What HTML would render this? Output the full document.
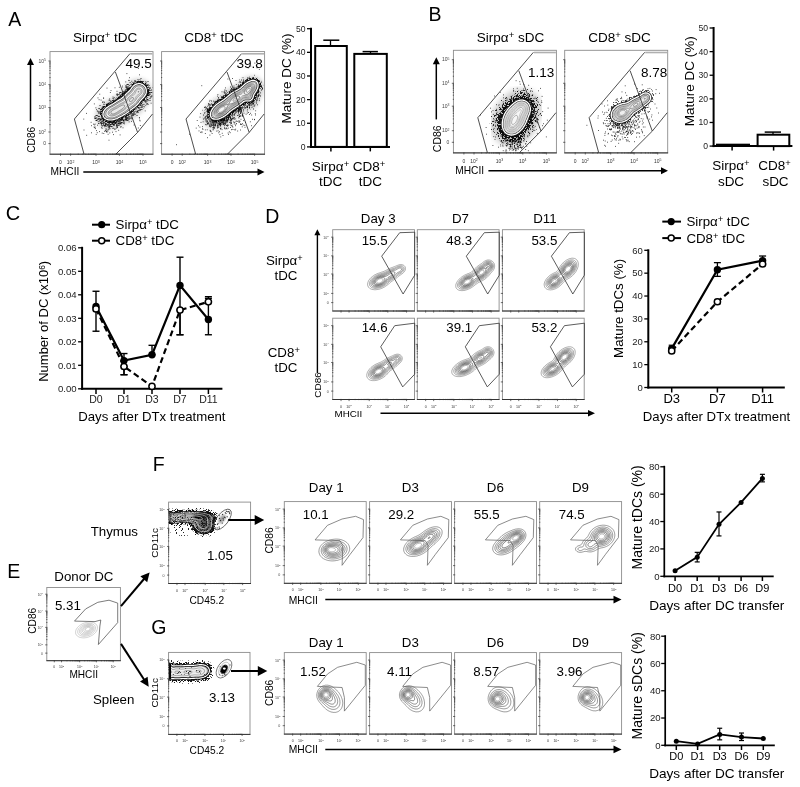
<!DOCTYPE html>
<html><head><meta charset="utf-8"><style>
html,body{margin:0;padding:0;background:#fff;width:800px;height:787px;overflow:hidden}
svg{display:block;will-change:transform}
text{font-family:"Liberation Sans", sans-serif}
</style></head><body>
<svg width="800" height="787" viewBox="0 0 800 787">
<defs>
<pattern id="p1" patternUnits="userSpaceOnUse" width="31" height="31"><path d="M0 0h1v1h-1zM0 1h1v1h-1zM0 2h1v1h-1zM0 3h1v1h-1zM0 4h1v1h-1zM0 6h1v1h-1zM0 7h1v1h-1zM0 8h1v1h-1zM0 9h1v1h-1zM0 12h1v1h-1zM0 14h1v1h-1zM0 15h1v1h-1zM0 16h1v1h-1zM0 18h1v1h-1zM0 26h1v1h-1zM0 30h1v1h-1zM1 0h1v1h-1zM1 2h1v1h-1zM1 3h1v1h-1zM1 4h1v1h-1zM1 6h1v1h-1zM1 7h1v1h-1zM1 9h1v1h-1zM1 10h1v1h-1zM1 11h1v1h-1zM1 12h1v1h-1zM1 13h1v1h-1zM1 16h1v1h-1zM1 18h1v1h-1zM1 20h1v1h-1zM1 21h1v1h-1zM1 23h1v1h-1zM1 24h1v1h-1zM1 28h1v1h-1zM2 2h1v1h-1zM2 3h1v1h-1zM2 4h1v1h-1zM2 6h1v1h-1zM2 10h1v1h-1zM2 11h1v1h-1zM2 13h1v1h-1zM2 14h1v1h-1zM2 16h1v1h-1zM2 17h1v1h-1zM2 18h1v1h-1zM2 19h1v1h-1zM2 20h1v1h-1zM2 22h1v1h-1zM2 23h1v1h-1zM2 24h1v1h-1zM2 25h1v1h-1zM2 26h1v1h-1zM2 29h1v1h-1zM2 30h1v1h-1zM3 1h1v1h-1zM3 2h1v1h-1zM3 4h1v1h-1zM3 6h1v1h-1zM3 7h1v1h-1zM3 9h1v1h-1zM3 11h1v1h-1zM3 13h1v1h-1zM3 14h1v1h-1zM3 18h1v1h-1zM3 20h1v1h-1zM3 23h1v1h-1zM3 24h1v1h-1zM3 26h1v1h-1zM3 27h1v1h-1zM3 28h1v1h-1zM3 30h1v1h-1zM4 1h1v1h-1zM4 2h1v1h-1zM4 3h1v1h-1zM4 4h1v1h-1zM4 6h1v1h-1zM4 8h1v1h-1zM4 9h1v1h-1zM4 10h1v1h-1zM4 11h1v1h-1zM4 14h1v1h-1zM4 15h1v1h-1zM4 16h1v1h-1zM4 18h1v1h-1zM4 19h1v1h-1zM4 21h1v1h-1zM4 23h1v1h-1zM4 24h1v1h-1zM4 26h1v1h-1zM4 27h1v1h-1zM5 1h1v1h-1zM5 2h1v1h-1zM5 4h1v1h-1zM5 6h1v1h-1zM5 7h1v1h-1zM5 8h1v1h-1zM5 10h1v1h-1zM5 11h1v1h-1zM5 12h1v1h-1zM5 13h1v1h-1zM5 15h1v1h-1zM5 16h1v1h-1zM5 18h1v1h-1zM5 21h1v1h-1zM5 22h1v1h-1zM5 23h1v1h-1zM5 26h1v1h-1zM5 27h1v1h-1zM5 28h1v1h-1zM5 29h1v1h-1zM6 2h1v1h-1zM6 3h1v1h-1zM6 4h1v1h-1zM6 5h1v1h-1zM6 7h1v1h-1zM6 8h1v1h-1zM6 9h1v1h-1zM6 10h1v1h-1zM6 11h1v1h-1zM6 13h1v1h-1zM6 14h1v1h-1zM6 19h1v1h-1zM6 21h1v1h-1zM6 22h1v1h-1zM6 26h1v1h-1zM6 27h1v1h-1zM6 29h1v1h-1zM7 0h1v1h-1zM7 2h1v1h-1zM7 4h1v1h-1zM7 6h1v1h-1zM7 7h1v1h-1zM7 8h1v1h-1zM7 9h1v1h-1zM7 14h1v1h-1zM7 15h1v1h-1zM7 17h1v1h-1zM7 18h1v1h-1zM7 19h1v1h-1zM7 20h1v1h-1zM7 21h1v1h-1zM7 25h1v1h-1zM7 30h1v1h-1zM8 0h1v1h-1zM8 1h1v1h-1zM8 2h1v1h-1zM8 3h1v1h-1zM8 6h1v1h-1zM8 7h1v1h-1zM8 10h1v1h-1zM8 15h1v1h-1zM8 16h1v1h-1zM8 18h1v1h-1zM8 20h1v1h-1zM8 22h1v1h-1zM8 26h1v1h-1zM8 29h1v1h-1zM8 30h1v1h-1zM9 2h1v1h-1zM9 3h1v1h-1zM9 4h1v1h-1zM9 5h1v1h-1zM9 7h1v1h-1zM9 8h1v1h-1zM9 9h1v1h-1zM9 11h1v1h-1zM9 12h1v1h-1zM9 13h1v1h-1zM9 15h1v1h-1zM9 17h1v1h-1zM9 18h1v1h-1zM9 19h1v1h-1zM9 21h1v1h-1zM9 22h1v1h-1zM9 23h1v1h-1zM9 25h1v1h-1zM9 28h1v1h-1zM9 30h1v1h-1zM10 4h1v1h-1zM10 5h1v1h-1zM10 6h1v1h-1zM10 7h1v1h-1zM10 8h1v1h-1zM10 10h1v1h-1zM10 11h1v1h-1zM10 13h1v1h-1zM10 14h1v1h-1zM10 16h1v1h-1zM10 18h1v1h-1zM10 19h1v1h-1zM10 22h1v1h-1zM10 24h1v1h-1zM10 25h1v1h-1zM10 26h1v1h-1zM10 27h1v1h-1zM10 28h1v1h-1zM10 29h1v1h-1zM10 30h1v1h-1zM11 1h1v1h-1zM11 3h1v1h-1zM11 6h1v1h-1zM11 7h1v1h-1zM11 9h1v1h-1zM11 10h1v1h-1zM11 11h1v1h-1zM11 13h1v1h-1zM11 18h1v1h-1zM11 19h1v1h-1zM11 22h1v1h-1zM11 25h1v1h-1zM11 29h1v1h-1zM12 1h1v1h-1zM12 2h1v1h-1zM12 4h1v1h-1zM12 7h1v1h-1zM12 8h1v1h-1zM12 11h1v1h-1zM12 21h1v1h-1zM12 22h1v1h-1zM12 24h1v1h-1zM12 26h1v1h-1zM12 28h1v1h-1zM12 29h1v1h-1zM12 30h1v1h-1zM13 1h1v1h-1zM13 3h1v1h-1zM13 4h1v1h-1zM13 10h1v1h-1zM13 11h1v1h-1zM13 12h1v1h-1zM13 13h1v1h-1zM13 20h1v1h-1zM13 21h1v1h-1zM13 24h1v1h-1zM13 26h1v1h-1zM13 27h1v1h-1zM13 28h1v1h-1zM14 0h1v1h-1zM14 3h1v1h-1zM14 4h1v1h-1zM14 5h1v1h-1zM14 8h1v1h-1zM14 9h1v1h-1zM14 10h1v1h-1zM14 11h1v1h-1zM14 12h1v1h-1zM14 15h1v1h-1zM14 18h1v1h-1zM14 19h1v1h-1zM14 24h1v1h-1zM14 25h1v1h-1zM14 26h1v1h-1zM14 27h1v1h-1zM14 29h1v1h-1zM14 30h1v1h-1zM15 0h1v1h-1zM15 1h1v1h-1zM15 4h1v1h-1zM15 6h1v1h-1zM15 8h1v1h-1zM15 9h1v1h-1zM15 10h1v1h-1zM15 15h1v1h-1zM15 16h1v1h-1zM15 17h1v1h-1zM15 19h1v1h-1zM15 23h1v1h-1zM15 27h1v1h-1zM16 1h1v1h-1zM16 2h1v1h-1zM16 3h1v1h-1zM16 4h1v1h-1zM16 5h1v1h-1zM16 9h1v1h-1zM16 12h1v1h-1zM16 13h1v1h-1zM16 17h1v1h-1zM16 18h1v1h-1zM16 19h1v1h-1zM16 20h1v1h-1zM16 22h1v1h-1zM16 23h1v1h-1zM16 24h1v1h-1zM16 27h1v1h-1zM16 28h1v1h-1zM16 30h1v1h-1zM17 1h1v1h-1zM17 2h1v1h-1zM17 3h1v1h-1zM17 5h1v1h-1zM17 7h1v1h-1zM17 8h1v1h-1zM17 10h1v1h-1zM17 11h1v1h-1zM17 12h1v1h-1zM17 13h1v1h-1zM17 17h1v1h-1zM17 19h1v1h-1zM17 21h1v1h-1zM17 23h1v1h-1zM17 24h1v1h-1zM17 27h1v1h-1zM17 28h1v1h-1zM17 30h1v1h-1zM18 0h1v1h-1zM18 1h1v1h-1zM18 2h1v1h-1zM18 3h1v1h-1zM18 12h1v1h-1zM18 14h1v1h-1zM18 17h1v1h-1zM18 18h1v1h-1zM18 19h1v1h-1zM18 20h1v1h-1zM18 22h1v1h-1zM18 24h1v1h-1zM18 25h1v1h-1zM18 27h1v1h-1zM19 0h1v1h-1zM19 1h1v1h-1zM19 3h1v1h-1zM19 5h1v1h-1zM19 6h1v1h-1zM19 9h1v1h-1zM19 10h1v1h-1zM19 11h1v1h-1zM19 12h1v1h-1zM19 14h1v1h-1zM19 16h1v1h-1zM19 17h1v1h-1zM19 18h1v1h-1zM19 19h1v1h-1zM19 21h1v1h-1zM19 22h1v1h-1zM19 24h1v1h-1zM19 26h1v1h-1zM19 27h1v1h-1zM19 29h1v1h-1zM20 1h1v1h-1zM20 5h1v1h-1zM20 6h1v1h-1zM20 8h1v1h-1zM20 9h1v1h-1zM20 10h1v1h-1zM20 12h1v1h-1zM20 13h1v1h-1zM20 15h1v1h-1zM20 17h1v1h-1zM20 18h1v1h-1zM20 22h1v1h-1zM20 23h1v1h-1zM20 24h1v1h-1zM20 27h1v1h-1zM20 28h1v1h-1zM20 29h1v1h-1zM21 0h1v1h-1zM21 2h1v1h-1zM21 3h1v1h-1zM21 8h1v1h-1zM21 10h1v1h-1zM21 11h1v1h-1zM21 12h1v1h-1zM21 15h1v1h-1zM21 16h1v1h-1zM21 17h1v1h-1zM21 18h1v1h-1zM21 21h1v1h-1zM21 23h1v1h-1zM21 27h1v1h-1zM21 28h1v1h-1zM21 29h1v1h-1zM22 0h1v1h-1zM22 3h1v1h-1zM22 5h1v1h-1zM22 7h1v1h-1zM22 8h1v1h-1zM22 12h1v1h-1zM22 13h1v1h-1zM22 14h1v1h-1zM22 15h1v1h-1zM22 16h1v1h-1zM22 17h1v1h-1zM22 18h1v1h-1zM22 19h1v1h-1zM22 21h1v1h-1zM22 24h1v1h-1zM22 27h1v1h-1zM22 30h1v1h-1zM23 0h1v1h-1zM23 1h1v1h-1zM23 2h1v1h-1zM23 8h1v1h-1zM23 9h1v1h-1zM23 10h1v1h-1zM23 14h1v1h-1zM23 16h1v1h-1zM23 17h1v1h-1zM23 19h1v1h-1zM23 20h1v1h-1zM23 22h1v1h-1zM23 23h1v1h-1zM23 28h1v1h-1zM23 29h1v1h-1zM24 0h1v1h-1zM24 3h1v1h-1zM24 5h1v1h-1zM24 11h1v1h-1zM24 12h1v1h-1zM24 14h1v1h-1zM24 15h1v1h-1zM24 16h1v1h-1zM24 17h1v1h-1zM24 18h1v1h-1zM24 19h1v1h-1zM24 24h1v1h-1zM24 28h1v1h-1zM24 29h1v1h-1zM24 30h1v1h-1zM25 1h1v1h-1zM25 2h1v1h-1zM25 4h1v1h-1zM25 5h1v1h-1zM25 7h1v1h-1zM25 8h1v1h-1zM25 9h1v1h-1zM25 11h1v1h-1zM25 14h1v1h-1zM25 15h1v1h-1zM25 17h1v1h-1zM25 19h1v1h-1zM25 20h1v1h-1zM25 21h1v1h-1zM25 22h1v1h-1zM25 23h1v1h-1zM25 24h1v1h-1zM25 25h1v1h-1zM25 30h1v1h-1zM26 0h1v1h-1zM26 1h1v1h-1zM26 2h1v1h-1zM26 4h1v1h-1zM26 7h1v1h-1zM26 10h1v1h-1zM26 11h1v1h-1zM26 12h1v1h-1zM26 14h1v1h-1zM26 15h1v1h-1zM26 17h1v1h-1zM26 18h1v1h-1zM26 20h1v1h-1zM26 21h1v1h-1zM26 22h1v1h-1zM26 23h1v1h-1zM26 25h1v1h-1zM26 27h1v1h-1zM26 29h1v1h-1zM26 30h1v1h-1zM27 0h1v1h-1zM27 1h1v1h-1zM27 2h1v1h-1zM27 3h1v1h-1zM27 5h1v1h-1zM27 6h1v1h-1zM27 8h1v1h-1zM27 9h1v1h-1zM27 11h1v1h-1zM27 13h1v1h-1zM27 16h1v1h-1zM27 21h1v1h-1zM27 23h1v1h-1zM27 24h1v1h-1zM27 26h1v1h-1zM27 27h1v1h-1zM27 29h1v1h-1zM27 30h1v1h-1zM28 1h1v1h-1zM28 3h1v1h-1zM28 4h1v1h-1zM28 7h1v1h-1zM28 9h1v1h-1zM28 10h1v1h-1zM28 12h1v1h-1zM28 13h1v1h-1zM28 17h1v1h-1zM28 18h1v1h-1zM28 21h1v1h-1zM28 22h1v1h-1zM28 23h1v1h-1zM28 24h1v1h-1zM28 25h1v1h-1zM28 28h1v1h-1zM28 30h1v1h-1zM29 0h1v1h-1zM29 1h1v1h-1zM29 2h1v1h-1zM29 3h1v1h-1zM29 5h1v1h-1zM29 6h1v1h-1zM29 7h1v1h-1zM29 8h1v1h-1zM29 9h1v1h-1zM29 11h1v1h-1zM29 12h1v1h-1zM29 13h1v1h-1zM29 16h1v1h-1zM29 17h1v1h-1zM29 21h1v1h-1zM29 22h1v1h-1zM29 24h1v1h-1zM29 25h1v1h-1zM29 28h1v1h-1zM30 0h1v1h-1zM30 4h1v1h-1zM30 5h1v1h-1zM30 6h1v1h-1zM30 7h1v1h-1zM30 8h1v1h-1zM30 10h1v1h-1zM30 16h1v1h-1zM30 17h1v1h-1zM30 18h1v1h-1zM30 19h1v1h-1zM30 21h1v1h-1zM30 22h1v1h-1zM30 23h1v1h-1zM30 27h1v1h-1zM30 28h1v1h-1zM30 30h1v1h-1z" fill="#111"/></pattern><pattern id="p2" patternUnits="userSpaceOnUse" width="31" height="31"><path d="M0 10h1v1h-1zM0 11h1v1h-1zM0 12h1v1h-1zM0 25h1v1h-1zM0 26h1v1h-1zM1 1h1v1h-1zM1 5h1v1h-1zM1 9h1v1h-1zM1 21h1v1h-1zM1 24h1v1h-1zM1 27h1v1h-1zM2 3h1v1h-1zM2 9h1v1h-1zM2 12h1v1h-1zM2 14h1v1h-1zM2 22h1v1h-1zM2 23h1v1h-1zM2 24h1v1h-1zM2 28h1v1h-1zM2 30h1v1h-1zM3 1h1v1h-1zM3 5h1v1h-1zM3 7h1v1h-1zM3 24h1v1h-1zM3 26h1v1h-1zM3 28h1v1h-1zM3 29h1v1h-1zM4 5h1v1h-1zM4 7h1v1h-1zM4 9h1v1h-1zM4 15h1v1h-1zM4 16h1v1h-1zM4 22h1v1h-1zM4 23h1v1h-1zM4 27h1v1h-1zM4 28h1v1h-1zM5 1h1v1h-1zM5 8h1v1h-1zM5 21h1v1h-1zM5 24h1v1h-1zM5 27h1v1h-1zM5 29h1v1h-1zM5 30h1v1h-1zM6 0h1v1h-1zM6 2h1v1h-1zM6 5h1v1h-1zM6 7h1v1h-1zM6 8h1v1h-1zM6 12h1v1h-1zM6 14h1v1h-1zM6 17h1v1h-1zM6 23h1v1h-1zM6 26h1v1h-1zM7 0h1v1h-1zM7 10h1v1h-1zM7 11h1v1h-1zM7 14h1v1h-1zM7 24h1v1h-1zM7 25h1v1h-1zM7 27h1v1h-1zM7 29h1v1h-1zM8 3h1v1h-1zM8 12h1v1h-1zM8 14h1v1h-1zM8 18h1v1h-1zM8 24h1v1h-1zM9 1h1v1h-1zM9 7h1v1h-1zM9 9h1v1h-1zM9 10h1v1h-1zM9 13h1v1h-1zM9 14h1v1h-1zM9 20h1v1h-1zM9 21h1v1h-1zM9 26h1v1h-1zM10 0h1v1h-1zM10 2h1v1h-1zM10 3h1v1h-1zM10 12h1v1h-1zM10 17h1v1h-1zM10 18h1v1h-1zM10 20h1v1h-1zM10 21h1v1h-1zM10 24h1v1h-1zM10 28h1v1h-1zM11 0h1v1h-1zM11 1h1v1h-1zM11 4h1v1h-1zM11 11h1v1h-1zM11 21h1v1h-1zM11 27h1v1h-1zM11 30h1v1h-1zM12 2h1v1h-1zM12 8h1v1h-1zM12 13h1v1h-1zM12 21h1v1h-1zM12 22h1v1h-1zM12 23h1v1h-1zM13 3h1v1h-1zM13 8h1v1h-1zM13 16h1v1h-1zM13 17h1v1h-1zM13 18h1v1h-1zM13 19h1v1h-1zM13 21h1v1h-1zM13 28h1v1h-1zM14 2h1v1h-1zM14 3h1v1h-1zM14 6h1v1h-1zM14 7h1v1h-1zM14 9h1v1h-1zM14 12h1v1h-1zM14 16h1v1h-1zM14 17h1v1h-1zM14 21h1v1h-1zM15 3h1v1h-1zM15 4h1v1h-1zM15 7h1v1h-1zM15 8h1v1h-1zM15 12h1v1h-1zM15 13h1v1h-1zM15 15h1v1h-1zM15 24h1v1h-1zM15 25h1v1h-1zM15 27h1v1h-1zM15 29h1v1h-1zM16 0h1v1h-1zM16 2h1v1h-1zM16 10h1v1h-1zM16 14h1v1h-1zM16 16h1v1h-1zM16 17h1v1h-1zM16 18h1v1h-1zM16 22h1v1h-1zM16 26h1v1h-1zM16 27h1v1h-1zM16 28h1v1h-1zM17 0h1v1h-1zM17 4h1v1h-1zM17 5h1v1h-1zM17 6h1v1h-1zM17 8h1v1h-1zM17 16h1v1h-1zM17 23h1v1h-1zM17 27h1v1h-1zM17 29h1v1h-1zM17 30h1v1h-1zM18 0h1v1h-1zM18 1h1v1h-1zM18 3h1v1h-1zM18 6h1v1h-1zM18 7h1v1h-1zM18 10h1v1h-1zM18 15h1v1h-1zM18 18h1v1h-1zM18 21h1v1h-1zM18 24h1v1h-1zM18 27h1v1h-1zM18 29h1v1h-1zM19 5h1v1h-1zM19 9h1v1h-1zM19 14h1v1h-1zM19 15h1v1h-1zM19 24h1v1h-1zM19 27h1v1h-1zM19 28h1v1h-1zM20 2h1v1h-1zM20 3h1v1h-1zM20 5h1v1h-1zM20 16h1v1h-1zM20 21h1v1h-1zM20 23h1v1h-1zM20 25h1v1h-1zM20 26h1v1h-1zM20 27h1v1h-1zM20 28h1v1h-1zM20 29h1v1h-1zM21 1h1v1h-1zM21 2h1v1h-1zM21 9h1v1h-1zM21 10h1v1h-1zM21 15h1v1h-1zM21 20h1v1h-1zM21 25h1v1h-1zM21 27h1v1h-1zM21 29h1v1h-1zM21 30h1v1h-1zM22 0h1v1h-1zM22 5h1v1h-1zM22 6h1v1h-1zM22 7h1v1h-1zM22 12h1v1h-1zM22 13h1v1h-1zM22 14h1v1h-1zM22 15h1v1h-1zM22 16h1v1h-1zM22 19h1v1h-1zM22 21h1v1h-1zM22 22h1v1h-1zM22 28h1v1h-1zM23 2h1v1h-1zM23 4h1v1h-1zM23 8h1v1h-1zM23 13h1v1h-1zM23 15h1v1h-1zM23 21h1v1h-1zM23 23h1v1h-1zM23 28h1v1h-1zM24 0h1v1h-1zM24 4h1v1h-1zM24 6h1v1h-1zM24 7h1v1h-1zM24 9h1v1h-1zM24 12h1v1h-1zM24 13h1v1h-1zM24 14h1v1h-1zM24 25h1v1h-1zM25 0h1v1h-1zM25 8h1v1h-1zM25 12h1v1h-1zM25 14h1v1h-1zM25 16h1v1h-1zM25 17h1v1h-1zM25 20h1v1h-1zM25 23h1v1h-1zM25 25h1v1h-1zM26 4h1v1h-1zM26 12h1v1h-1zM26 24h1v1h-1zM26 26h1v1h-1zM26 29h1v1h-1zM27 1h1v1h-1zM27 5h1v1h-1zM27 6h1v1h-1zM27 14h1v1h-1zM27 15h1v1h-1zM27 18h1v1h-1zM27 21h1v1h-1zM27 22h1v1h-1zM27 25h1v1h-1zM28 1h1v1h-1zM28 4h1v1h-1zM28 5h1v1h-1zM28 10h1v1h-1zM28 12h1v1h-1zM28 24h1v1h-1zM28 27h1v1h-1zM28 30h1v1h-1zM29 1h1v1h-1zM29 12h1v1h-1zM29 13h1v1h-1zM29 17h1v1h-1zM29 18h1v1h-1zM29 20h1v1h-1zM29 21h1v1h-1zM29 24h1v1h-1zM29 27h1v1h-1zM29 29h1v1h-1zM30 2h1v1h-1zM30 11h1v1h-1zM30 15h1v1h-1zM30 18h1v1h-1zM30 19h1v1h-1zM30 20h1v1h-1zM30 21h1v1h-1zM30 24h1v1h-1zM30 25h1v1h-1zM30 27h1v1h-1zM30 29h1v1h-1z" fill="#1a1a1a"/></pattern><pattern id="p3" patternUnits="userSpaceOnUse" width="31" height="31"><path d="M0 14h1v1h-1zM0 15h1v1h-1zM0 16h1v1h-1zM0 17h1v1h-1zM1 8h1v1h-1zM1 29h1v1h-1zM2 1h1v1h-1zM2 2h1v1h-1zM2 9h1v1h-1zM2 11h1v1h-1zM2 12h1v1h-1zM2 25h1v1h-1zM3 14h1v1h-1zM3 16h1v1h-1zM3 22h1v1h-1zM4 20h1v1h-1zM4 29h1v1h-1zM4 30h1v1h-1zM5 2h1v1h-1zM5 24h1v1h-1zM6 1h1v1h-1zM6 13h1v1h-1zM6 18h1v1h-1zM6 23h1v1h-1zM7 16h1v1h-1zM8 3h1v1h-1zM8 23h1v1h-1zM8 24h1v1h-1zM8 28h1v1h-1zM9 4h1v1h-1zM9 7h1v1h-1zM9 20h1v1h-1zM9 28h1v1h-1zM9 30h1v1h-1zM10 11h1v1h-1zM10 12h1v1h-1zM10 25h1v1h-1zM11 9h1v1h-1zM11 16h1v1h-1zM11 30h1v1h-1zM12 21h1v1h-1zM12 22h1v1h-1zM12 30h1v1h-1zM13 0h1v1h-1zM13 11h1v1h-1zM14 12h1v1h-1zM14 15h1v1h-1zM14 17h1v1h-1zM14 21h1v1h-1zM14 22h1v1h-1zM14 25h1v1h-1zM15 5h1v1h-1zM15 23h1v1h-1zM15 24h1v1h-1zM16 9h1v1h-1zM16 15h1v1h-1zM16 20h1v1h-1zM17 12h1v1h-1zM17 14h1v1h-1zM17 22h1v1h-1zM17 25h1v1h-1zM18 11h1v1h-1zM18 19h1v1h-1zM19 0h1v1h-1zM19 14h1v1h-1zM19 17h1v1h-1zM19 29h1v1h-1zM20 3h1v1h-1zM20 13h1v1h-1zM21 2h1v1h-1zM21 5h1v1h-1zM21 6h1v1h-1zM21 12h1v1h-1zM21 23h1v1h-1zM21 29h1v1h-1zM22 10h1v1h-1zM22 13h1v1h-1zM22 14h1v1h-1zM22 17h1v1h-1zM22 20h1v1h-1zM22 25h1v1h-1zM22 27h1v1h-1zM22 28h1v1h-1zM23 9h1v1h-1zM23 14h1v1h-1zM23 27h1v1h-1zM24 0h1v1h-1zM24 8h1v1h-1zM24 11h1v1h-1zM24 23h1v1h-1zM24 29h1v1h-1zM25 9h1v1h-1zM25 14h1v1h-1zM25 26h1v1h-1zM25 28h1v1h-1zM25 30h1v1h-1zM26 3h1v1h-1zM26 8h1v1h-1zM26 24h1v1h-1zM26 28h1v1h-1zM27 1h1v1h-1zM27 2h1v1h-1zM27 9h1v1h-1zM27 14h1v1h-1zM27 16h1v1h-1zM27 26h1v1h-1zM28 5h1v1h-1zM28 17h1v1h-1zM28 25h1v1h-1zM29 8h1v1h-1zM29 16h1v1h-1zM29 18h1v1h-1zM29 22h1v1h-1zM30 17h1v1h-1zM30 22h1v1h-1z" fill="#222"/></pattern><pattern id="p4" patternUnits="userSpaceOnUse" width="31" height="31"><path d="M0 20h1v1h-1zM0 27h1v1h-1zM1 0h1v1h-1zM1 4h1v1h-1zM2 21h1v1h-1zM2 22h1v1h-1zM2 23h1v1h-1zM3 20h1v1h-1zM3 23h1v1h-1zM3 25h1v1h-1zM4 20h1v1h-1zM4 25h1v1h-1zM5 7h1v1h-1zM5 16h1v1h-1zM6 13h1v1h-1zM7 10h1v1h-1zM8 27h1v1h-1zM9 5h1v1h-1zM10 4h1v1h-1zM10 19h1v1h-1zM10 26h1v1h-1zM13 20h1v1h-1zM14 22h1v1h-1zM17 5h1v1h-1zM17 14h1v1h-1zM18 23h1v1h-1zM20 11h1v1h-1zM22 22h1v1h-1zM23 8h1v1h-1zM23 14h1v1h-1zM23 21h1v1h-1zM24 5h1v1h-1zM24 9h1v1h-1zM24 17h1v1h-1zM24 20h1v1h-1zM24 30h1v1h-1zM25 12h1v1h-1zM25 15h1v1h-1zM25 21h1v1h-1zM26 5h1v1h-1zM26 23h1v1h-1zM26 30h1v1h-1zM27 28h1v1h-1zM28 0h1v1h-1zM28 1h1v1h-1zM28 28h1v1h-1zM29 23h1v1h-1zM30 17h1v1h-1z" fill="#333"/></pattern><filter id="b05" x="-20%" y="-20%" width="140%" height="140%"><feGaussianBlur stdDeviation="0.5"/></filter>
<filter id="b1" x="-20%" y="-20%" width="140%" height="140%"><feGaussianBlur stdDeviation="1"/></filter>
<filter id="b2" x="-30%" y="-30%" width="160%" height="160%"><feGaussianBlur stdDeviation="2"/></filter>
<filter id="b3" x="-40%" y="-40%" width="180%" height="180%"><feGaussianBlur stdDeviation="3"/></filter>
</defs>
<rect width="800" height="787" fill="#fff"/>
<text x="8.2" y="26.2" font-size="19.5" text-anchor="start" fill="#000">A</text>
<text x="105.1" y="42" font-size="13.5" text-anchor="middle" fill="#000">Sirpα<tspan baseline-shift="40%" font-size="70%">+</tspan> tDC</text>
<text x="214.1" y="42" font-size="13.5" text-anchor="middle" fill="#000">CD8<tspan baseline-shift="40%" font-size="70%">+</tspan> tDC</text>
<rect x="50" y="51.6" width="103" height="102.6" fill="none" stroke="#8c8c8c" stroke-width="0.9"/>
<line x1="49.6" y1="154.2" x2="153.4" y2="154.2" stroke="#333" stroke-width="1"/>
<path d="M48.4 61h2.2 M48.4 84.6h2.2 M48.4 107.5h2.2 M48.4 132h2.2 M48.4 143.6h2.2 M49.4 77.52h1.2 M49.4 73.27h1.2 M49.4 70.44h1.2 M49.4 68.08h1.2 M49.4 66.43h1.2 M49.4 65.01h1.2 M49.4 63.83h1.2 M49.4 62.89h1.2 M49.4 61.94h1.2 M49.4 100.63h1.2 M49.4 96.51h1.2 M49.4 93.76h1.2 M49.4 91.47h1.2 M49.4 89.87h1.2 M49.4 88.49h1.2 M49.4 87.35h1.2 M49.4 86.43h1.2 M49.4 85.52h1.2 M49.4 124.65h1.2 M49.4 120.24h1.2 M49.4 117.3h1.2 M49.4 114.85h1.2 M49.4 113.13h1.2 M49.4 111.67h1.2 M49.4 110.44h1.2 M49.4 109.46h1.2 M49.4 108.48h1.2 M70.6 153.6v2.2 M96 153.6v2.2 M119.4 153.6v2.2 M143 153.6v2.2 M60.5 153.6v2.2 M78.22 153.6v1.2 M82.79 153.6v1.2 M85.84 153.6v1.2 M88.38 153.6v1.2 M90.16 153.6v1.2 M91.68 153.6v1.2 M92.95 153.6v1.2 M93.97 153.6v1.2 M94.98 153.6v1.2 M103.02 153.6v1.2 M107.23 153.6v1.2 M110.04 153.6v1.2 M112.38 153.6v1.2 M114.02 153.6v1.2 M115.42 153.6v1.2 M116.59 153.6v1.2 M117.53 153.6v1.2 M118.46 153.6v1.2 M126.48 153.6v1.2 M130.73 153.6v1.2 M133.56 153.6v1.2 M135.92 153.6v1.2 M137.57 153.6v1.2 M138.99 153.6v1.2 M140.17 153.6v1.2 M141.11 153.6v1.2 M142.06 153.6v1.2" stroke="#333" stroke-width="0.7" fill="none"/>
<text x="46" y="62.5" font-size="5" text-anchor="end" fill="#444">10<tspan dy="-1.4" font-size="3.5">5</tspan></text>
<text x="46" y="86.1" font-size="5" text-anchor="end" fill="#444">10<tspan dy="-1.4" font-size="3.5">4</tspan></text>
<text x="46" y="109" font-size="5" text-anchor="end" fill="#444">10<tspan dy="-1.4" font-size="3.5">3</tspan></text>
<text x="46" y="133.5" font-size="5" text-anchor="end" fill="#444">10<tspan dy="-1.4" font-size="3.5">2</tspan></text>
<text x="46" y="145.1" font-size="5" text-anchor="end" fill="#444">0</text>
<text x="70.6" y="163.91" font-size="5" text-anchor="middle" fill="#333">10<tspan dy="-1.4" font-size="3.5">2</tspan></text>
<text x="96" y="163.91" font-size="5" text-anchor="middle" fill="#333">10<tspan dy="-1.4" font-size="3.5">3</tspan></text>
<text x="119.4" y="163.91" font-size="5" text-anchor="middle" fill="#333">10<tspan dy="-1.4" font-size="3.5">4</tspan></text>
<text x="143" y="163.91" font-size="5" text-anchor="middle" fill="#333">10<tspan dy="-1.4" font-size="3.5">5</tspan></text>
<text x="60.5" y="163.91" font-size="5" text-anchor="middle" fill="#333">0</text>
<clipPath id="c16"><rect x="50.5" y="52.1" width="102" height="101.6"/></clipPath><g clip-path="url(#c16)">
<path d="M113.2 119.6 112.4 119.8 111.6 119.9 110.8 119.9 110.0 119.9 109.2 119.9 108.4 119.8 107.6 119.6 107.2 119.5 106.4 119.2 106.0 119.0 105.6 118.8 105.0 118.4 104.6 118.0 104.2 117.6 103.9 117.2 103.6 116.8 103.3 116.0 103.1 115.6 103.0 114.8 103.0 114.0 103.1 113.2 103.2 112.7 103.4 112.0 103.6 111.6 104.0 110.8 104.3 110.4 104.6 110.0 104.9 109.6 105.2 109.2 105.6 108.8 106.0 108.4 106.4 108.0 106.9 107.6 107.5 107.2 108.0 106.8 108.4 106.6 108.8 106.3 109.3 106.0 110.0 105.6 110.4 105.4 110.8 105.1 111.4 104.8 112.0 104.5 112.4 104.2 112.8 104.0 113.4 103.6 114.0 103.3 114.4 103.0 114.8 102.7 115.3 102.4 115.9 102.0 116.4 101.7 116.8 101.4 117.2 101.2 117.8 100.8 118.4 100.4 118.8 100.2 119.2 100.0 119.8 99.6 120.4 99.2 120.8 99.0 121.2 98.7 121.7 98.4 122.2 98.0 122.7 97.6 123.1 97.2 123.6 96.8 123.9 96.4 124.3 96.0 124.7 95.6 125.1 95.2 125.4 94.8 125.8 94.4 126.2 94.0 126.6 93.6 127.0 93.2 127.4 92.8 127.9 92.4 128.3 92.0 128.7 91.6 129.2 91.2 129.5 90.8 129.9 90.4 130.3 90.0 130.6 89.6 130.9 89.2 131.2 88.8 131.6 88.2 132.0 87.7 132.4 87.2 132.7 86.8 133.0 86.4 133.4 86.0 133.9 85.6 134.4 85.2 134.8 84.9 135.2 84.7 135.7 84.4 136.4 84.1 136.8 84.0 137.6 83.8 138.4 83.7 139.2 83.7 140.0 83.7 140.8 83.9 141.2 84.0 142.0 84.3 142.4 84.5 142.9 84.8 143.5 85.2 143.9 85.6 144.3 86.0 144.7 86.4 145.0 86.8 145.3 87.2 145.6 87.8 145.9 88.4 146.0 88.8 146.2 89.6 146.3 90.4 146.3 91.2 146.3 92.0 146.2 92.8 146.0 93.4 145.8 94.0 145.6 94.4 145.2 95.2 144.9 95.6 144.7 96.0 144.4 96.4 144.0 96.8 143.6 97.3 143.2 97.7 142.8 98.1 142.4 98.5 142.0 98.9 141.6 99.3 141.2 99.8 140.8 100.2 140.4 100.7 140.0 101.2 139.7 101.6 139.4 102.0 139.1 102.4 138.8 102.8 138.4 103.3 138.0 103.8 137.6 104.2 137.2 104.6 136.8 105.1 136.4 105.4 136.0 105.8 135.6 106.1 135.2 106.5 134.8 106.8 134.3 107.2 133.8 107.6 133.2 108.0 132.8 108.3 132.4 108.6 132.0 108.9 131.6 109.2 131.1 109.6 130.6 110.0 130.1 110.4 129.6 110.8 129.2 111.1 128.8 111.4 128.4 111.7 128.0 112.0 127.5 112.4 126.9 112.8 126.4 113.1 126.0 113.4 125.6 113.7 125.1 114.0 124.4 114.4 124.0 114.6 123.6 114.9 123.0 115.2 122.4 115.6 122.0 115.8 121.6 116.0 120.9 116.4 120.4 116.7 120.0 116.9 119.4 117.2 118.8 117.5 118.4 117.7 117.8 118.0 117.2 118.3 116.8 118.5 116.0 118.8 115.6 118.9 114.8 119.2 114.4 119.3 113.6 119.5 113.2 119.6Z" fill="none" stroke="#000" stroke-width="14" stroke-opacity="0.18" filter="url(#b2)" transform="translate(-0.5 2)"/>
<path d="M113.2 119.6 112.4 119.8 111.6 119.9 110.8 119.9 110.0 119.9 109.2 119.9 108.4 119.8 107.6 119.6 107.2 119.5 106.4 119.2 106.0 119.0 105.6 118.8 105.0 118.4 104.6 118.0 104.2 117.6 103.9 117.2 103.6 116.8 103.3 116.0 103.1 115.6 103.0 114.8 103.0 114.0 103.1 113.2 103.2 112.7 103.4 112.0 103.6 111.6 104.0 110.8 104.3 110.4 104.6 110.0 104.9 109.6 105.2 109.2 105.6 108.8 106.0 108.4 106.4 108.0 106.9 107.6 107.5 107.2 108.0 106.8 108.4 106.6 108.8 106.3 109.3 106.0 110.0 105.6 110.4 105.4 110.8 105.1 111.4 104.8 112.0 104.5 112.4 104.2 112.8 104.0 113.4 103.6 114.0 103.3 114.4 103.0 114.8 102.7 115.3 102.4 115.9 102.0 116.4 101.7 116.8 101.4 117.2 101.2 117.8 100.8 118.4 100.4 118.8 100.2 119.2 100.0 119.8 99.6 120.4 99.2 120.8 99.0 121.2 98.7 121.7 98.4 122.2 98.0 122.7 97.6 123.1 97.2 123.6 96.8 123.9 96.4 124.3 96.0 124.7 95.6 125.1 95.2 125.4 94.8 125.8 94.4 126.2 94.0 126.6 93.6 127.0 93.2 127.4 92.8 127.9 92.4 128.3 92.0 128.7 91.6 129.2 91.2 129.5 90.8 129.9 90.4 130.3 90.0 130.6 89.6 130.9 89.2 131.2 88.8 131.6 88.2 132.0 87.7 132.4 87.2 132.7 86.8 133.0 86.4 133.4 86.0 133.9 85.6 134.4 85.2 134.8 84.9 135.2 84.7 135.7 84.4 136.4 84.1 136.8 84.0 137.6 83.8 138.4 83.7 139.2 83.7 140.0 83.7 140.8 83.9 141.2 84.0 142.0 84.3 142.4 84.5 142.9 84.8 143.5 85.2 143.9 85.6 144.3 86.0 144.7 86.4 145.0 86.8 145.3 87.2 145.6 87.8 145.9 88.4 146.0 88.8 146.2 89.6 146.3 90.4 146.3 91.2 146.3 92.0 146.2 92.8 146.0 93.4 145.8 94.0 145.6 94.4 145.2 95.2 144.9 95.6 144.7 96.0 144.4 96.4 144.0 96.8 143.6 97.3 143.2 97.7 142.8 98.1 142.4 98.5 142.0 98.9 141.6 99.3 141.2 99.8 140.8 100.2 140.4 100.7 140.0 101.2 139.7 101.6 139.4 102.0 139.1 102.4 138.8 102.8 138.4 103.3 138.0 103.8 137.6 104.2 137.2 104.6 136.8 105.1 136.4 105.4 136.0 105.8 135.6 106.1 135.2 106.5 134.8 106.8 134.3 107.2 133.8 107.6 133.2 108.0 132.8 108.3 132.4 108.6 132.0 108.9 131.6 109.2 131.1 109.6 130.6 110.0 130.1 110.4 129.6 110.8 129.2 111.1 128.8 111.4 128.4 111.7 128.0 112.0 127.5 112.4 126.9 112.8 126.4 113.1 126.0 113.4 125.6 113.7 125.1 114.0 124.4 114.4 124.0 114.6 123.6 114.9 123.0 115.2 122.4 115.6 122.0 115.8 121.6 116.0 120.9 116.4 120.4 116.7 120.0 116.9 119.4 117.2 118.8 117.5 118.4 117.7 117.8 118.0 117.2 118.3 116.8 118.5 116.0 118.8 115.6 118.9 114.8 119.2 114.4 119.3 113.6 119.5 113.2 119.6Z" fill="none" stroke="url(#p4)" stroke-width="17" stroke-opacity="1" stroke-linejoin="round" transform="translate(-0.5 2)"/>
<path d="M113.2 119.6 112.4 119.8 111.6 119.9 110.8 119.9 110.0 119.9 109.2 119.9 108.4 119.8 107.6 119.6 107.2 119.5 106.4 119.2 106.0 119.0 105.6 118.8 105.0 118.4 104.6 118.0 104.2 117.6 103.9 117.2 103.6 116.8 103.3 116.0 103.1 115.6 103.0 114.8 103.0 114.0 103.1 113.2 103.2 112.7 103.4 112.0 103.6 111.6 104.0 110.8 104.3 110.4 104.6 110.0 104.9 109.6 105.2 109.2 105.6 108.8 106.0 108.4 106.4 108.0 106.9 107.6 107.5 107.2 108.0 106.8 108.4 106.6 108.8 106.3 109.3 106.0 110.0 105.6 110.4 105.4 110.8 105.1 111.4 104.8 112.0 104.5 112.4 104.2 112.8 104.0 113.4 103.6 114.0 103.3 114.4 103.0 114.8 102.7 115.3 102.4 115.9 102.0 116.4 101.7 116.8 101.4 117.2 101.2 117.8 100.8 118.4 100.4 118.8 100.2 119.2 100.0 119.8 99.6 120.4 99.2 120.8 99.0 121.2 98.7 121.7 98.4 122.2 98.0 122.7 97.6 123.1 97.2 123.6 96.8 123.9 96.4 124.3 96.0 124.7 95.6 125.1 95.2 125.4 94.8 125.8 94.4 126.2 94.0 126.6 93.6 127.0 93.2 127.4 92.8 127.9 92.4 128.3 92.0 128.7 91.6 129.2 91.2 129.5 90.8 129.9 90.4 130.3 90.0 130.6 89.6 130.9 89.2 131.2 88.8 131.6 88.2 132.0 87.7 132.4 87.2 132.7 86.8 133.0 86.4 133.4 86.0 133.9 85.6 134.4 85.2 134.8 84.9 135.2 84.7 135.7 84.4 136.4 84.1 136.8 84.0 137.6 83.8 138.4 83.7 139.2 83.7 140.0 83.7 140.8 83.9 141.2 84.0 142.0 84.3 142.4 84.5 142.9 84.8 143.5 85.2 143.9 85.6 144.3 86.0 144.7 86.4 145.0 86.8 145.3 87.2 145.6 87.8 145.9 88.4 146.0 88.8 146.2 89.6 146.3 90.4 146.3 91.2 146.3 92.0 146.2 92.8 146.0 93.4 145.8 94.0 145.6 94.4 145.2 95.2 144.9 95.6 144.7 96.0 144.4 96.4 144.0 96.8 143.6 97.3 143.2 97.7 142.8 98.1 142.4 98.5 142.0 98.9 141.6 99.3 141.2 99.8 140.8 100.2 140.4 100.7 140.0 101.2 139.7 101.6 139.4 102.0 139.1 102.4 138.8 102.8 138.4 103.3 138.0 103.8 137.6 104.2 137.2 104.6 136.8 105.1 136.4 105.4 136.0 105.8 135.6 106.1 135.2 106.5 134.8 106.8 134.3 107.2 133.8 107.6 133.2 108.0 132.8 108.3 132.4 108.6 132.0 108.9 131.6 109.2 131.1 109.6 130.6 110.0 130.1 110.4 129.6 110.8 129.2 111.1 128.8 111.4 128.4 111.7 128.0 112.0 127.5 112.4 126.9 112.8 126.4 113.1 126.0 113.4 125.6 113.7 125.1 114.0 124.4 114.4 124.0 114.6 123.6 114.9 123.0 115.2 122.4 115.6 122.0 115.8 121.6 116.0 120.9 116.4 120.4 116.7 120.0 116.9 119.4 117.2 118.8 117.5 118.4 117.7 117.8 118.0 117.2 118.3 116.8 118.5 116.0 118.8 115.6 118.9 114.8 119.2 114.4 119.3 113.6 119.5 113.2 119.6Z" fill="none" stroke="url(#p3)" stroke-width="13" stroke-opacity="1" stroke-linejoin="round" transform="translate(-0.5 2)"/>
<path d="M113.2 119.6 112.4 119.8 111.6 119.9 110.8 119.9 110.0 119.9 109.2 119.9 108.4 119.8 107.6 119.6 107.2 119.5 106.4 119.2 106.0 119.0 105.6 118.8 105.0 118.4 104.6 118.0 104.2 117.6 103.9 117.2 103.6 116.8 103.3 116.0 103.1 115.6 103.0 114.8 103.0 114.0 103.1 113.2 103.2 112.7 103.4 112.0 103.6 111.6 104.0 110.8 104.3 110.4 104.6 110.0 104.9 109.6 105.2 109.2 105.6 108.8 106.0 108.4 106.4 108.0 106.9 107.6 107.5 107.2 108.0 106.8 108.4 106.6 108.8 106.3 109.3 106.0 110.0 105.6 110.4 105.4 110.8 105.1 111.4 104.8 112.0 104.5 112.4 104.2 112.8 104.0 113.4 103.6 114.0 103.3 114.4 103.0 114.8 102.7 115.3 102.4 115.9 102.0 116.4 101.7 116.8 101.4 117.2 101.2 117.8 100.8 118.4 100.4 118.8 100.2 119.2 100.0 119.8 99.6 120.4 99.2 120.8 99.0 121.2 98.7 121.7 98.4 122.2 98.0 122.7 97.6 123.1 97.2 123.6 96.8 123.9 96.4 124.3 96.0 124.7 95.6 125.1 95.2 125.4 94.8 125.8 94.4 126.2 94.0 126.6 93.6 127.0 93.2 127.4 92.8 127.9 92.4 128.3 92.0 128.7 91.6 129.2 91.2 129.5 90.8 129.9 90.4 130.3 90.0 130.6 89.6 130.9 89.2 131.2 88.8 131.6 88.2 132.0 87.7 132.4 87.2 132.7 86.8 133.0 86.4 133.4 86.0 133.9 85.6 134.4 85.2 134.8 84.9 135.2 84.7 135.7 84.4 136.4 84.1 136.8 84.0 137.6 83.8 138.4 83.7 139.2 83.7 140.0 83.7 140.8 83.9 141.2 84.0 142.0 84.3 142.4 84.5 142.9 84.8 143.5 85.2 143.9 85.6 144.3 86.0 144.7 86.4 145.0 86.8 145.3 87.2 145.6 87.8 145.9 88.4 146.0 88.8 146.2 89.6 146.3 90.4 146.3 91.2 146.3 92.0 146.2 92.8 146.0 93.4 145.8 94.0 145.6 94.4 145.2 95.2 144.9 95.6 144.7 96.0 144.4 96.4 144.0 96.8 143.6 97.3 143.2 97.7 142.8 98.1 142.4 98.5 142.0 98.9 141.6 99.3 141.2 99.8 140.8 100.2 140.4 100.7 140.0 101.2 139.7 101.6 139.4 102.0 139.1 102.4 138.8 102.8 138.4 103.3 138.0 103.8 137.6 104.2 137.2 104.6 136.8 105.1 136.4 105.4 136.0 105.8 135.6 106.1 135.2 106.5 134.8 106.8 134.3 107.2 133.8 107.6 133.2 108.0 132.8 108.3 132.4 108.6 132.0 108.9 131.6 109.2 131.1 109.6 130.6 110.0 130.1 110.4 129.6 110.8 129.2 111.1 128.8 111.4 128.4 111.7 128.0 112.0 127.5 112.4 126.9 112.8 126.4 113.1 126.0 113.4 125.6 113.7 125.1 114.0 124.4 114.4 124.0 114.6 123.6 114.9 123.0 115.2 122.4 115.6 122.0 115.8 121.6 116.0 120.9 116.4 120.4 116.7 120.0 116.9 119.4 117.2 118.8 117.5 118.4 117.7 117.8 118.0 117.2 118.3 116.8 118.5 116.0 118.8 115.6 118.9 114.8 119.2 114.4 119.3 113.6 119.5 113.2 119.6Z" fill="none" stroke="url(#p2)" stroke-width="9.5" stroke-opacity="1" stroke-linejoin="round" transform="translate(-0.5 2)"/>
<path d="M113.2 119.6 112.4 119.8 111.6 119.9 110.8 119.9 110.0 119.9 109.2 119.9 108.4 119.8 107.6 119.6 107.2 119.5 106.4 119.2 106.0 119.0 105.6 118.8 105.0 118.4 104.6 118.0 104.2 117.6 103.9 117.2 103.6 116.8 103.3 116.0 103.1 115.6 103.0 114.8 103.0 114.0 103.1 113.2 103.2 112.7 103.4 112.0 103.6 111.6 104.0 110.8 104.3 110.4 104.6 110.0 104.9 109.6 105.2 109.2 105.6 108.8 106.0 108.4 106.4 108.0 106.9 107.6 107.5 107.2 108.0 106.8 108.4 106.6 108.8 106.3 109.3 106.0 110.0 105.6 110.4 105.4 110.8 105.1 111.4 104.8 112.0 104.5 112.4 104.2 112.8 104.0 113.4 103.6 114.0 103.3 114.4 103.0 114.8 102.7 115.3 102.4 115.9 102.0 116.4 101.7 116.8 101.4 117.2 101.2 117.8 100.8 118.4 100.4 118.8 100.2 119.2 100.0 119.8 99.6 120.4 99.2 120.8 99.0 121.2 98.7 121.7 98.4 122.2 98.0 122.7 97.6 123.1 97.2 123.6 96.8 123.9 96.4 124.3 96.0 124.7 95.6 125.1 95.2 125.4 94.8 125.8 94.4 126.2 94.0 126.6 93.6 127.0 93.2 127.4 92.8 127.9 92.4 128.3 92.0 128.7 91.6 129.2 91.2 129.5 90.8 129.9 90.4 130.3 90.0 130.6 89.6 130.9 89.2 131.2 88.8 131.6 88.2 132.0 87.7 132.4 87.2 132.7 86.8 133.0 86.4 133.4 86.0 133.9 85.6 134.4 85.2 134.8 84.9 135.2 84.7 135.7 84.4 136.4 84.1 136.8 84.0 137.6 83.8 138.4 83.7 139.2 83.7 140.0 83.7 140.8 83.9 141.2 84.0 142.0 84.3 142.4 84.5 142.9 84.8 143.5 85.2 143.9 85.6 144.3 86.0 144.7 86.4 145.0 86.8 145.3 87.2 145.6 87.8 145.9 88.4 146.0 88.8 146.2 89.6 146.3 90.4 146.3 91.2 146.3 92.0 146.2 92.8 146.0 93.4 145.8 94.0 145.6 94.4 145.2 95.2 144.9 95.6 144.7 96.0 144.4 96.4 144.0 96.8 143.6 97.3 143.2 97.7 142.8 98.1 142.4 98.5 142.0 98.9 141.6 99.3 141.2 99.8 140.8 100.2 140.4 100.7 140.0 101.2 139.7 101.6 139.4 102.0 139.1 102.4 138.8 102.8 138.4 103.3 138.0 103.8 137.6 104.2 137.2 104.6 136.8 105.1 136.4 105.4 136.0 105.8 135.6 106.1 135.2 106.5 134.8 106.8 134.3 107.2 133.8 107.6 133.2 108.0 132.8 108.3 132.4 108.6 132.0 108.9 131.6 109.2 131.1 109.6 130.6 110.0 130.1 110.4 129.6 110.8 129.2 111.1 128.8 111.4 128.4 111.7 128.0 112.0 127.5 112.4 126.9 112.8 126.4 113.1 126.0 113.4 125.6 113.7 125.1 114.0 124.4 114.4 124.0 114.6 123.6 114.9 123.0 115.2 122.4 115.6 122.0 115.8 121.6 116.0 120.9 116.4 120.4 116.7 120.0 116.9 119.4 117.2 118.8 117.5 118.4 117.7 117.8 118.0 117.2 118.3 116.8 118.5 116.0 118.8 115.6 118.9 114.8 119.2 114.4 119.3 113.6 119.5 113.2 119.6Z" fill="none" stroke="url(#p1)" stroke-width="6" stroke-opacity="1" stroke-linejoin="round"/>
<path d="M113.2 119.6 112.4 119.8 111.6 119.9 110.8 119.9 110.0 119.9 109.2 119.9 108.4 119.8 107.6 119.6 107.2 119.5 106.4 119.2 106.0 119.0 105.6 118.8 105.0 118.4 104.6 118.0 104.2 117.6 103.9 117.2 103.6 116.8 103.3 116.0 103.1 115.6 103.0 114.8 103.0 114.0 103.1 113.2 103.2 112.7 103.4 112.0 103.6 111.6 104.0 110.8 104.3 110.4 104.6 110.0 104.9 109.6 105.2 109.2 105.6 108.8 106.0 108.4 106.4 108.0 106.9 107.6 107.5 107.2 108.0 106.8 108.4 106.6 108.8 106.3 109.3 106.0 110.0 105.6 110.4 105.4 110.8 105.1 111.4 104.8 112.0 104.5 112.4 104.2 112.8 104.0 113.4 103.6 114.0 103.3 114.4 103.0 114.8 102.7 115.3 102.4 115.9 102.0 116.4 101.7 116.8 101.4 117.2 101.2 117.8 100.8 118.4 100.4 118.8 100.2 119.2 100.0 119.8 99.6 120.4 99.2 120.8 99.0 121.2 98.7 121.7 98.4 122.2 98.0 122.7 97.6 123.1 97.2 123.6 96.8 123.9 96.4 124.3 96.0 124.7 95.6 125.1 95.2 125.4 94.8 125.8 94.4 126.2 94.0 126.6 93.6 127.0 93.2 127.4 92.8 127.9 92.4 128.3 92.0 128.7 91.6 129.2 91.2 129.5 90.8 129.9 90.4 130.3 90.0 130.6 89.6 130.9 89.2 131.2 88.8 131.6 88.2 132.0 87.7 132.4 87.2 132.7 86.8 133.0 86.4 133.4 86.0 133.9 85.6 134.4 85.2 134.8 84.9 135.2 84.7 135.7 84.4 136.4 84.1 136.8 84.0 137.6 83.8 138.4 83.7 139.2 83.7 140.0 83.7 140.8 83.9 141.2 84.0 142.0 84.3 142.4 84.5 142.9 84.8 143.5 85.2 143.9 85.6 144.3 86.0 144.7 86.4 145.0 86.8 145.3 87.2 145.6 87.8 145.9 88.4 146.0 88.8 146.2 89.6 146.3 90.4 146.3 91.2 146.3 92.0 146.2 92.8 146.0 93.4 145.8 94.0 145.6 94.4 145.2 95.2 144.9 95.6 144.7 96.0 144.4 96.4 144.0 96.8 143.6 97.3 143.2 97.7 142.8 98.1 142.4 98.5 142.0 98.9 141.6 99.3 141.2 99.8 140.8 100.2 140.4 100.7 140.0 101.2 139.7 101.6 139.4 102.0 139.1 102.4 138.8 102.8 138.4 103.3 138.0 103.8 137.6 104.2 137.2 104.6 136.8 105.1 136.4 105.4 136.0 105.8 135.6 106.1 135.2 106.5 134.8 106.8 134.3 107.2 133.8 107.6 133.2 108.0 132.8 108.3 132.4 108.6 132.0 108.9 131.6 109.2 131.1 109.6 130.6 110.0 130.1 110.4 129.6 110.8 129.2 111.1 128.8 111.4 128.4 111.7 128.0 112.0 127.5 112.4 126.9 112.8 126.4 113.1 126.0 113.4 125.6 113.7 125.1 114.0 124.4 114.4 124.0 114.6 123.6 114.9 123.0 115.2 122.4 115.6 122.0 115.8 121.6 116.0 120.9 116.4 120.4 116.7 120.0 116.9 119.4 117.2 118.8 117.5 118.4 117.7 117.8 118.0 117.2 118.3 116.8 118.5 116.0 118.8 115.6 118.9 114.8 119.2 114.4 119.3 113.6 119.5 113.2 119.6Z" fill="none" stroke="#000" stroke-width="3.5" stroke-opacity="0.6" filter="url(#b05)"/>
<path d="M107.5 122.4h0.8M129.0 77.7h0.8M107.0 125.7h0.8M116.9 118.5h0.8M100.7 120.9h0.8M104.0 131.3h0.8M139.9 104.2h0.8M109.8 121.6h0.8M108.6 140.2h0.8M115.6 131.6h0.8M97.9 116.4h0.8M131.4 81.3h0.8M111.8 100.9h0.8M101.8 126.1h0.8M128.4 80.4h0.8M106.6 130.2h0.8M124.7 117.4h0.8M116.6 98.0h0.8M116.5 127.2h0.8M105.4 124.9h0.8M99.2 131.6h0.8M98.7 99.7h0.8M115.7 128.4h0.8M96.2 109.7h0.8M104.7 118.2h0.8M125.1 91.1h0.8M108.4 127.8h0.8M107.8 127.0h0.8M103.5 102.8h0.8M107.7 134.3h0.8M135.0 114.2h0.8M101.0 116.8h0.8M102.2 102.4h0.8M102.6 101.4h0.8M126.4 114.8h0.8M86.3 135.3h0.8M106.0 131.5h0.8M97.8 121.6h0.8M128.7 121.9h0.8M113.5 99.1h0.8M94.6 118.7h0.8M116.6 94.0h0.8M117.9 97.0h0.8M105.4 129.0h0.8M109.3 125.2h0.8M116.6 91.3h0.8M94.7 124.1h0.8M115.1 120.6h0.8M115.1 120.7h0.8M111.0 126.6h0.8M102.6 122.3h0.8M105.1 121.3h0.8M146.3 95.6h0.8M118.9 87.3h0.8M122.6 117.9h0.8M91.0 132.8h0.8M95.5 107.8h0.8M121.8 117.0h0.8M133.7 125.0h0.8M100.7 122.4h0.8M117.1 127.2h0.8M106.6 124.3h0.8M100.7 100.1h0.8M115.5 100.6h0.8M99.4 94.2h0.8M112.7 128.2h0.8M126.2 92.6h0.8M83.6 130.0h0.8M120.5 124.0h0.8M117.6 122.6h0.8M132.1 114.4h0.8M97.3 110.8h0.8M125.3 92.6h0.8M101.8 133.1h0.8M119.7 123.1h0.8M114.0 129.0h0.8M103.7 120.3h0.8M123.1 93.7h0.8M105.5 125.6h0.8M112.6 128.4h0.8M135.5 109.7h0.8M116.9 95.3h0.8M103.2 98.1h0.8M107.0 121.3h0.8M106.7 131.9h0.8M119.6 96.0h0.8M125.4 81.9h0.8M103.5 123.4h0.8M113.2 134.6h0.8M119.6 118.7h0.8M119.5 124.4h0.8M109.9 92.5h0.8M125.3 91.7h0.8M106.6 88.1h0.8M150.7 103.2h0.8M114.6 87.8h0.8M103.1 118.3h0.8M97.1 125.2h0.8M103.9 119.5h0.8M133.6 114.6h0.8M130.5 88.5h0.8M144.4 85.0h0.8M112.8 120.6h0.8M123.0 96.9h0.8M116.9 94.1h0.8M131.0 121.4h0.8M103.1 124.6h0.8M123.2 120.4h0.8M118.3 130.3h0.8M107.8 124.8h0.8M112.2 132.2h0.8M94.3 124.9h0.8M122.6 127.8h0.8M105.4 123.4h0.8M126.8 88.5h0.8M93.7 127.0h0.8M98.6 123.5h0.8M145.7 82.4h0.8M97.9 112.2h0.8M104.2 102.2h0.8M126.8 91.6h0.8M96.8 132.7h0.8M116.3 125.2h0.8M122.0 86.1h0.8M111.9 121.1h0.8M129.6 117.0h0.8M99.1 116.5h0.8M109.1 127.3h0.8M103.6 122.8h0.8M86.0 113.4h0.8M109.3 98.9h0.8M109.4 132.9h0.8M138.9 117.8h0.8M109.1 123.2h0.8M132.7 109.3h0.8M105.4 130.7h0.8M120.1 117.0h0.8M131.4 84.5h0.8M104.3 126.7h0.8M106.4 132.0h0.8M139.9 125.5h0.8M115.3 122.2h0.8M139.1 74.8h0.8M127.6 118.2h0.8M108.2 125.9h0.8M95.8 134.4h0.8M120.9 120.4h0.8M116.8 127.6h0.8M113.6 100.9h0.8M114.7 129.3h0.8M103.4 133.5h0.8M108.8 100.0h0.8M101.0 124.4h0.8M143.8 99.5h0.8M130.8 88.6h0.8M108.0 121.1h0.8M143.2 100.1h0.8M144.8 110.9h0.8M107.9 129.4h0.8M129.5 117.8h0.8M137.9 68.5h0.8M106.3 129.1h0.8M122.9 123.5h0.8M126.5 73.6h0.8M122.5 117.4h0.8M106.0 104.3h0.8M101.3 117.8h0.8M107.6 130.9h0.8M118.2 120.9h0.8M96.8 119.0h0.8M94.1 127.7h0.8M109.7 103.7h0.8M93.9 103.9h0.8M97.6 97.9h0.8M118.7 122.9h0.8M101.7 128.4h0.8M141.7 107.5h0.8M116.1 122.0h0.8M132.8 114.0h0.8M94.8 127.1h0.8M121.6 117.0h0.8M101.3 127.4h0.8M139.3 120.1h0.8M103.3 106.7h0.8M108.5 104.9h0.8M124.1 123.8h0.8M112.6 97.0h0.8M98.0 123.4h0.8M96.0 130.6h0.8M109.1 126.9h0.8M105.0 130.8h0.8M104.8 124.6h0.8M108.9 128.9h0.8M83.4 119.1h0.8M111.0 121.6h0.8M93.2 124.2h0.8M107.6 125.2h0.8M122.2 92.1h0.8M109.6 128.7h0.8M137.9 128.0h0.8M104.6 119.0h0.8M139.2 117.8h0.8M115.7 120.1h0.8M109.4 120.9h0.8M105.2 124.0h0.8M119.5 122.3h0.8M115.7 122.4h0.8M120.4 95.2h0.8M113.3 101.4h0.8M122.4 94.1h0.8M91.1 125.7h0.8M95.0 128.6h0.8M100.6 110.0h0.8M131.4 117.7h0.8M139.7 120.9h0.8M129.6 89.9h0.8M105.0 124.9h0.8M119.7 134.9h0.8M113.4 125.0h0.8M122.8 115.7h0.8M103.3 98.1h0.8M119.2 93.2h0.8M128.0 91.3h0.8M110.6 90.6h0.8M116.2 125.1h0.8M90.7 122.3h0.8M106.3 124.4h0.8M113.8 121.6h0.8M96.2 120.3h0.8M104.8 121.8h0.8" stroke="#000" stroke-width="0.8" stroke-opacity="1"/>
<path d="M113.2 119.6 112.4 119.8 111.6 119.9 110.8 119.9 110.0 119.9 109.2 119.9 108.4 119.8 107.6 119.6 107.2 119.5 106.4 119.2 106.0 119.0 105.6 118.8 105.0 118.4 104.6 118.0 104.2 117.6 103.9 117.2 103.6 116.8 103.3 116.0 103.1 115.6 103.0 114.8 103.0 114.0 103.1 113.2 103.2 112.7 103.4 112.0 103.6 111.6 104.0 110.8 104.3 110.4 104.6 110.0 104.9 109.6 105.2 109.2 105.6 108.8 106.0 108.4 106.4 108.0 106.9 107.6 107.5 107.2 108.0 106.8 108.4 106.6 108.8 106.3 109.3 106.0 110.0 105.6 110.4 105.4 110.8 105.1 111.4 104.8 112.0 104.5 112.4 104.2 112.8 104.0 113.4 103.6 114.0 103.3 114.4 103.0 114.8 102.7 115.3 102.4 115.9 102.0 116.4 101.7 116.8 101.4 117.2 101.2 117.8 100.8 118.4 100.4 118.8 100.2 119.2 100.0 119.8 99.6 120.4 99.2 120.8 99.0 121.2 98.7 121.7 98.4 122.2 98.0 122.7 97.6 123.1 97.2 123.6 96.8 123.9 96.4 124.3 96.0 124.7 95.6 125.1 95.2 125.4 94.8 125.8 94.4 126.2 94.0 126.6 93.6 127.0 93.2 127.4 92.8 127.9 92.4 128.3 92.0 128.7 91.6 129.2 91.2 129.5 90.8 129.9 90.4 130.3 90.0 130.6 89.6 130.9 89.2 131.2 88.8 131.6 88.2 132.0 87.7 132.4 87.2 132.7 86.8 133.0 86.4 133.4 86.0 133.9 85.6 134.4 85.2 134.8 84.9 135.2 84.7 135.7 84.4 136.4 84.1 136.8 84.0 137.6 83.8 138.4 83.7 139.2 83.7 140.0 83.7 140.8 83.9 141.2 84.0 142.0 84.3 142.4 84.5 142.9 84.8 143.5 85.2 143.9 85.6 144.3 86.0 144.7 86.4 145.0 86.8 145.3 87.2 145.6 87.8 145.9 88.4 146.0 88.8 146.2 89.6 146.3 90.4 146.3 91.2 146.3 92.0 146.2 92.8 146.0 93.4 145.8 94.0 145.6 94.4 145.2 95.2 144.9 95.6 144.7 96.0 144.4 96.4 144.0 96.8 143.6 97.3 143.2 97.7 142.8 98.1 142.4 98.5 142.0 98.9 141.6 99.3 141.2 99.8 140.8 100.2 140.4 100.7 140.0 101.2 139.7 101.6 139.4 102.0 139.1 102.4 138.8 102.8 138.4 103.3 138.0 103.8 137.6 104.2 137.2 104.6 136.8 105.1 136.4 105.4 136.0 105.8 135.6 106.1 135.2 106.5 134.8 106.8 134.3 107.2 133.8 107.6 133.2 108.0 132.8 108.3 132.4 108.6 132.0 108.9 131.6 109.2 131.1 109.6 130.6 110.0 130.1 110.4 129.6 110.8 129.2 111.1 128.8 111.4 128.4 111.7 128.0 112.0 127.5 112.4 126.9 112.8 126.4 113.1 126.0 113.4 125.6 113.7 125.1 114.0 124.4 114.4 124.0 114.6 123.6 114.9 123.0 115.2 122.4 115.6 122.0 115.8 121.6 116.0 120.9 116.4 120.4 116.7 120.0 116.9 119.4 117.2 118.8 117.5 118.4 117.7 117.8 118.0 117.2 118.3 116.8 118.5 116.0 118.8 115.6 118.9 114.8 119.2 114.4 119.3 113.6 119.5 113.2 119.6Z" fill="#e8e8e8" stroke="#222" stroke-width="2.4"/>
<path d="M113.2 119.6 112.4 119.8 111.6 119.9 110.8 119.9 110.0 119.9 109.2 119.9 108.4 119.8 107.6 119.6 107.2 119.5 106.4 119.2 106.0 119.0 105.6 118.8 105.0 118.4 104.6 118.0 104.2 117.6 103.9 117.2 103.6 116.8 103.3 116.0 103.1 115.6 103.0 114.8 103.0 114.0 103.1 113.2 103.2 112.7 103.4 112.0 103.6 111.6 104.0 110.8 104.3 110.4 104.6 110.0 104.9 109.6 105.2 109.2 105.6 108.8 106.0 108.4 106.4 108.0 106.9 107.6 107.5 107.2 108.0 106.8 108.4 106.6 108.8 106.3 109.3 106.0 110.0 105.6 110.4 105.4 110.8 105.1 111.4 104.8 112.0 104.5 112.4 104.2 112.8 104.0 113.4 103.6 114.0 103.3 114.4 103.0 114.8 102.7 115.3 102.4 115.9 102.0 116.4 101.7 116.8 101.4 117.2 101.2 117.8 100.8 118.4 100.4 118.8 100.2 119.2 100.0 119.8 99.6 120.4 99.2 120.8 99.0 121.2 98.7 121.7 98.4 122.2 98.0 122.7 97.6 123.1 97.2 123.6 96.8 123.9 96.4 124.3 96.0 124.7 95.6 125.1 95.2 125.4 94.8 125.8 94.4 126.2 94.0 126.6 93.6 127.0 93.2 127.4 92.8 127.9 92.4 128.3 92.0 128.7 91.6 129.2 91.2 129.5 90.8 129.9 90.4 130.3 90.0 130.6 89.6 130.9 89.2 131.2 88.8 131.6 88.2 132.0 87.7 132.4 87.2 132.7 86.8 133.0 86.4 133.4 86.0 133.9 85.6 134.4 85.2 134.8 84.9 135.2 84.7 135.7 84.4 136.4 84.1 136.8 84.0 137.6 83.8 138.4 83.7 139.2 83.7 140.0 83.7 140.8 83.9 141.2 84.0 142.0 84.3 142.4 84.5 142.9 84.8 143.5 85.2 143.9 85.6 144.3 86.0 144.7 86.4 145.0 86.8 145.3 87.2 145.6 87.8 145.9 88.4 146.0 88.8 146.2 89.6 146.3 90.4 146.3 91.2 146.3 92.0 146.2 92.8 146.0 93.4 145.8 94.0 145.6 94.4 145.2 95.2 144.9 95.6 144.7 96.0 144.4 96.4 144.0 96.8 143.6 97.3 143.2 97.7 142.8 98.1 142.4 98.5 142.0 98.9 141.6 99.3 141.2 99.8 140.8 100.2 140.4 100.7 140.0 101.2 139.7 101.6 139.4 102.0 139.1 102.4 138.8 102.8 138.4 103.3 138.0 103.8 137.6 104.2 137.2 104.6 136.8 105.1 136.4 105.4 136.0 105.8 135.6 106.1 135.2 106.5 134.8 106.8 134.3 107.2 133.8 107.6 133.2 108.0 132.8 108.3 132.4 108.6 132.0 108.9 131.6 109.2 131.1 109.6 130.6 110.0 130.1 110.4 129.6 110.8 129.2 111.1 128.8 111.4 128.4 111.7 128.0 112.0 127.5 112.4 126.9 112.8 126.4 113.1 126.0 113.4 125.6 113.7 125.1 114.0 124.4 114.4 124.0 114.6 123.6 114.9 123.0 115.2 122.4 115.6 122.0 115.8 121.6 116.0 120.9 116.4 120.4 116.7 120.0 116.9 119.4 117.2 118.8 117.5 118.4 117.7 117.8 118.0 117.2 118.3 116.8 118.5 116.0 118.8 115.6 118.9 114.8 119.2 114.4 119.3 113.6 119.5 113.2 119.6Z" fill="none" stroke="#fff" stroke-width="1.3"/>
<path d="M113.2 118.5 112.4 118.6 111.6 118.7 110.8 118.7 110.0 118.7 109.2 118.6 108.4 118.4 108.0 118.3 107.3 118.0 106.8 117.7 106.4 117.5 106.0 117.2 105.6 116.8 105.2 116.2 104.9 115.6 104.7 115.2 104.6 114.4 104.6 113.6 104.7 112.8 104.8 112.4 105.2 111.6 105.4 111.2 105.6 110.8 106.0 110.3 106.4 109.8 106.8 109.3 107.2 108.9 107.6 108.6 108.0 108.3 108.4 108.0 108.9 107.6 109.5 107.2 110.0 106.9 110.4 106.7 110.9 106.4 111.6 106.0 112.0 105.8 112.4 105.6 113.0 105.2 113.6 104.9 114.0 104.6 114.4 104.4 115.0 104.0 115.6 103.6 116.0 103.4 116.4 103.1 116.9 102.8 117.5 102.4 118.0 102.1 118.4 101.8 118.8 101.6 119.5 101.2 120.0 100.9 120.4 100.7 120.9 100.4 121.6 100.0 122.0 99.7 122.4 99.4 122.8 99.2 123.3 98.8 123.7 98.4 124.2 98.0 124.6 97.6 124.9 97.2 125.3 96.8 125.7 96.4 126.0 96.0 126.4 95.6 126.8 95.2 127.2 94.8 127.6 94.4 128.0 94.0 128.4 93.6 128.9 93.2 129.3 92.8 129.8 92.4 130.2 92.0 130.6 91.6 131.0 91.2 131.3 90.8 131.6 90.4 132.0 89.9 132.4 89.3 132.7 88.8 133.0 88.4 133.3 88.0 133.7 87.6 134.0 87.2 134.4 86.8 134.9 86.4 135.5 86.0 136.0 85.7 136.4 85.5 137.2 85.2 137.6 85.1 138.4 85.0 139.2 85.0 140.0 85.1 140.6 85.2 141.2 85.4 141.6 85.6 142.3 86.0 142.8 86.3 143.2 86.7 143.6 87.1 144.0 87.6 144.2 88.0 144.4 88.4 144.8 89.2 144.9 89.6 145.0 90.4 145.1 91.2 145.0 92.0 144.8 92.8 144.7 93.2 144.4 94.0 144.2 94.4 143.9 94.8 143.6 95.3 143.2 95.8 142.8 96.3 142.4 96.7 142.0 97.1 141.6 97.5 141.2 97.9 140.8 98.3 140.4 98.7 140.0 99.1 139.6 99.6 139.3 100.0 139.0 100.4 138.7 100.8 138.4 101.2 138.0 101.8 137.6 102.3 137.2 102.8 136.8 103.2 136.5 103.6 136.1 104.0 135.7 104.4 135.2 104.8 134.8 105.2 134.4 105.5 134.0 105.8 133.6 106.1 133.2 106.4 132.7 106.8 132.2 107.2 131.6 107.6 131.2 107.9 130.8 108.2 130.4 108.5 130.0 108.9 129.6 109.2 129.1 109.6 128.6 110.0 128.1 110.4 127.6 110.8 127.2 111.1 126.8 111.4 126.4 111.7 125.9 112.0 125.3 112.4 124.8 112.8 124.4 113.0 124.0 113.3 123.4 113.6 122.8 114.0 122.4 114.2 122.0 114.4 121.3 114.8 120.8 115.1 120.4 115.3 119.9 115.6 119.2 116.0 118.8 116.2 118.4 116.4 117.7 116.8 117.2 117.0 116.8 117.2 116.0 117.6 115.6 117.7 114.8 118.0 114.4 118.1 113.6 118.4 113.2 118.5Z" fill="none" stroke="#888" stroke-width="0.55"/>
<path d="M112.4 117.7 111.6 117.7 110.8 117.7 110.0 117.7 109.6 117.6 108.8 117.4 108.3 117.2 107.6 116.8 107.2 116.5 106.8 116.2 106.4 115.6 106.2 115.2 106.0 114.8 105.9 114.0 105.9 113.2 106.0 112.7 106.2 112.0 106.4 111.6 106.8 110.9 107.2 110.4 107.5 110.0 107.9 109.6 108.3 109.2 108.8 108.8 109.2 108.5 109.6 108.2 110.0 108.0 110.6 107.6 111.2 107.2 111.6 107.0 112.0 106.8 112.7 106.4 113.2 106.1 113.6 105.9 114.2 105.6 114.8 105.2 115.2 105.0 115.6 104.7 116.1 104.4 116.7 104.0 117.2 103.7 117.6 103.4 118.0 103.2 118.6 102.8 119.2 102.5 119.6 102.2 120.0 102.0 120.7 101.6 121.2 101.3 121.6 101.1 122.2 100.8 122.8 100.4 123.2 100.2 123.6 99.9 124.0 99.5 124.4 99.2 124.8 98.8 125.2 98.4 125.6 98.0 126.0 97.5 126.4 97.1 126.8 96.6 127.2 96.2 127.6 95.8 128.0 95.4 128.4 95.0 128.8 94.6 129.2 94.3 129.6 93.9 130.0 93.6 130.4 93.2 130.9 92.8 131.3 92.4 131.7 92.0 132.0 91.6 132.4 91.1 132.8 90.6 133.2 90.0 133.4 89.6 133.7 89.2 134.0 88.8 134.4 88.3 134.8 87.9 135.2 87.5 135.6 87.2 136.2 86.8 136.8 86.5 137.2 86.3 138.0 86.1 138.8 86.0 139.6 86.1 140.4 86.2 140.9 86.4 141.6 86.8 142.0 87.0 142.4 87.4 142.8 87.8 143.2 88.4 143.5 88.8 143.6 89.2 143.9 90.0 144.0 90.8 144.0 91.2 144.0 91.6 143.9 92.4 143.6 93.2 143.4 93.6 143.2 94.0 142.8 94.7 142.4 95.2 142.0 95.6 141.6 96.0 141.2 96.4 140.8 96.8 140.4 97.2 140.0 97.6 139.6 98.0 139.2 98.4 138.9 98.8 138.6 99.2 138.3 99.6 138.0 100.0 137.6 100.6 137.2 101.1 136.9 101.6 136.6 102.0 136.2 102.4 135.9 102.8 135.5 103.2 135.1 103.6 134.6 104.0 134.2 104.4 133.7 104.8 133.2 105.2 132.8 105.5 132.4 105.8 132.0 106.0 131.5 106.4 131.0 106.8 130.4 107.2 130.0 107.5 129.6 107.8 129.2 108.2 128.8 108.5 128.4 108.8 128.0 109.2 127.5 109.6 127.0 110.0 126.5 110.4 126.0 110.8 125.6 111.1 125.2 111.4 124.8 111.6 124.2 112.0 123.6 112.4 123.2 112.6 122.8 112.9 122.3 113.2 121.6 113.6 121.2 113.8 120.8 114.1 120.2 114.4 119.6 114.7 119.2 115.0 118.8 115.2 118.1 115.6 117.6 115.8 117.2 116.1 116.5 116.4 116.0 116.6 115.5 116.8 114.8 117.1 114.4 117.2 113.6 117.4 112.8 117.6 112.4 117.7Z" fill="none" stroke="#333" stroke-width="0.55"/>
<path d="M112.0 116.8 111.2 116.8 110.6 116.8 110.0 116.7 109.2 116.5 108.8 116.3 108.3 116.0 107.9 115.6 107.5 115.2 107.2 114.5 107.0 114.0 107.0 113.2 107.2 112.4 107.3 112.0 107.6 111.5 108.0 110.9 108.4 110.4 108.8 110.0 109.2 109.6 109.6 109.3 110.0 109.0 110.4 108.7 110.8 108.4 111.5 108.0 112.0 107.7 112.4 107.5 113.0 107.2 113.6 106.9 114.0 106.6 114.4 106.4 115.1 106.0 115.6 105.7 116.0 105.5 116.4 105.2 117.1 104.8 117.6 104.5 118.0 104.2 118.4 103.9 119.0 103.6 119.6 103.2 120.0 103.0 120.4 102.8 121.1 102.4 121.6 102.2 122.0 101.9 122.6 101.6 123.2 101.3 123.6 101.0 124.0 100.8 124.5 100.4 125.0 100.0 125.4 99.6 125.8 99.2 126.1 98.8 126.5 98.4 126.8 98.0 127.2 97.5 127.6 97.1 128.0 96.6 128.4 96.2 128.8 95.8 129.2 95.5 129.6 95.1 130.0 94.8 130.5 94.4 131.0 94.0 131.5 93.6 131.9 93.2 132.3 92.8 132.7 92.4 133.0 92.0 133.3 91.6 133.6 91.1 134.0 90.5 134.3 90.0 134.6 89.6 134.9 89.2 135.2 88.8 135.6 88.4 136.1 88.0 136.7 87.6 137.2 87.3 137.6 87.2 138.4 87.0 139.2 87.0 140.0 87.1 140.4 87.3 141.1 87.6 141.6 88.0 142.0 88.4 142.3 88.8 142.6 89.2 142.8 89.8 143.0 90.4 143.0 91.2 143.0 92.0 142.8 92.6 142.6 93.2 142.4 93.6 142.0 94.2 141.6 94.7 141.2 95.1 140.8 95.5 140.4 95.9 140.0 96.2 139.6 96.6 139.2 97.0 138.8 97.4 138.4 97.8 138.0 98.3 137.6 98.8 137.4 99.2 137.1 99.6 136.8 100.1 136.4 100.7 136.0 101.2 135.7 101.6 135.4 102.0 135.0 102.4 134.6 102.8 134.2 103.2 133.7 103.6 133.2 104.0 132.8 104.3 132.4 104.6 132.0 104.9 131.5 105.2 131.0 105.6 130.4 106.0 130.0 106.3 129.6 106.6 129.2 106.9 128.8 107.3 128.4 107.6 127.9 108.0 127.5 108.4 127.0 108.8 126.6 109.2 126.1 109.6 125.6 110.0 125.2 110.3 124.8 110.6 124.4 110.9 123.9 111.2 123.3 111.6 122.8 111.9 122.4 112.1 122.0 112.4 121.3 112.8 120.8 113.1 120.4 113.3 119.9 113.6 119.2 114.0 118.8 114.3 118.4 114.5 117.8 114.8 117.2 115.1 116.8 115.4 116.3 115.6 115.6 115.9 115.2 116.1 114.4 116.4 114.0 116.5 113.2 116.7 112.4 116.8 112.0 116.8Z" fill="none" stroke="#fff" stroke-width="0.55"/>
<path d="M114.0 115.7 113.2 115.8 112.4 116.0 111.6 116.0 110.8 115.9 110.0 115.7 109.6 115.5 109.1 115.2 108.7 114.8 108.4 114.3 108.2 113.6 108.2 112.8 108.4 112.1 108.6 111.6 108.9 111.2 109.2 110.8 109.6 110.4 110.0 110.0 110.5 109.6 111.1 109.2 111.6 108.9 112.0 108.6 112.4 108.4 113.1 108.0 113.6 107.8 114.0 107.6 114.7 107.2 115.2 106.9 115.6 106.7 116.1 106.4 116.7 106.0 117.2 105.7 117.6 105.4 118.0 105.2 118.6 104.8 119.2 104.4 119.6 104.2 120.0 104.0 120.7 103.6 121.2 103.3 121.6 103.2 122.3 102.8 122.8 102.6 123.2 102.4 123.9 102.0 124.4 101.7 124.8 101.5 125.2 101.2 125.6 100.8 126.0 100.4 126.4 100.0 126.8 99.5 127.2 99.0 127.6 98.5 128.0 98.0 128.4 97.6 128.7 97.2 129.1 96.8 129.5 96.4 130.0 96.0 130.4 95.7 130.8 95.4 131.2 95.1 131.6 94.8 132.1 94.4 132.6 94.0 133.1 93.6 133.4 93.2 133.7 92.8 134.0 92.4 134.4 91.8 134.7 91.2 134.9 90.8 135.2 90.4 135.6 89.8 136.0 89.3 136.4 89.0 136.8 88.7 137.2 88.4 138.0 88.1 138.7 88.0 139.0 88.0 139.6 88.1 140.4 88.4 140.8 88.6 141.2 89.0 141.6 89.5 141.8 90.0 142.0 90.6 142.1 91.2 142.0 91.8 141.9 92.4 141.6 93.0 141.3 93.6 140.9 94.0 140.6 94.4 140.1 94.8 139.7 95.2 139.2 95.6 138.8 95.9 138.4 96.2 138.0 96.6 137.6 97.1 137.2 97.6 136.9 98.0 136.7 98.4 136.4 98.9 136.0 99.6 135.7 100.0 135.5 100.4 135.2 100.8 134.8 101.3 134.4 101.7 134.0 102.1 133.6 102.5 133.2 102.9 132.8 103.2 132.2 103.6 131.6 104.0 131.2 104.3 130.8 104.5 130.4 104.8 129.8 105.2 129.2 105.6 128.8 105.9 128.4 106.3 128.0 106.6 127.6 107.0 127.2 107.4 126.8 107.7 126.4 108.1 126.0 108.5 125.6 108.8 125.2 109.2 124.7 109.6 124.1 110.0 123.6 110.4 123.2 110.7 122.8 110.9 122.3 111.2 121.7 111.6 121.2 111.9 120.8 112.1 120.3 112.4 119.7 112.8 119.2 113.1 118.8 113.3 118.3 113.6 117.6 114.0 117.2 114.3 116.8 114.5 116.2 114.8 115.6 115.1 115.2 115.2 114.4 115.5 114.0 115.7Z" fill="none" stroke="#555" stroke-width="0.55"/>
<path d="M113.6 114.9 112.8 115.0 112.0 115.0 111.2 114.9 110.8 114.8 110.1 114.4 109.7 114.0 109.5 113.6 109.4 112.8 109.6 112.1 109.9 111.6 110.1 111.2 110.5 110.8 110.9 110.4 111.4 110.0 112.0 109.6 112.4 109.4 112.8 109.1 113.4 108.8 114.0 108.5 114.4 108.3 115.0 108.0 115.6 107.7 116.0 107.5 116.5 107.2 117.1 106.8 117.6 106.5 118.0 106.3 118.4 106.0 119.0 105.6 119.6 105.3 120.0 105.0 120.4 104.8 121.2 104.4 121.6 104.2 122.1 104.0 122.8 103.7 123.2 103.6 124.0 103.3 124.4 103.1 125.0 102.8 125.6 102.5 126.0 102.2 126.4 101.9 126.8 101.4 127.2 100.9 127.6 100.4 127.8 100.0 128.1 99.6 128.4 99.2 128.8 98.7 129.2 98.2 129.6 97.7 130.0 97.3 130.4 97.0 130.8 96.7 131.2 96.4 131.8 96.0 132.4 95.6 132.8 95.4 133.2 95.2 133.9 94.8 134.4 94.4 134.7 94.0 135.0 93.6 135.2 93.1 135.5 92.4 135.6 92.0 136.0 91.2 136.3 90.8 136.5 90.4 136.9 90.0 137.4 89.6 138.0 89.3 138.4 89.2 139.1 89.2 139.6 89.3 140.1 89.6 140.5 90.0 140.8 90.7 140.9 91.2 140.8 92.0 140.7 92.4 140.4 92.9 140.0 93.4 139.6 93.8 139.2 94.1 138.8 94.4 138.1 94.8 137.6 95.1 137.2 95.4 136.8 95.7 136.4 96.2 136.0 96.8 135.8 97.2 135.6 97.7 135.3 98.4 135.1 98.8 134.8 99.5 134.5 100.0 134.2 100.4 133.9 100.8 133.5 101.2 133.1 101.6 132.6 102.0 132.1 102.4 131.6 102.7 131.2 103.0 130.8 103.2 130.0 103.6 129.6 103.8 129.2 104.1 128.7 104.4 128.1 104.8 127.7 105.2 127.3 105.6 126.9 106.0 126.5 106.4 126.2 106.8 125.8 107.2 125.4 107.6 125.0 108.0 124.6 108.4 124.2 108.8 123.7 109.2 123.2 109.5 122.8 109.8 122.4 110.1 121.9 110.4 121.3 110.8 120.8 111.1 120.4 111.3 119.9 111.6 119.3 112.0 118.8 112.3 118.4 112.5 118.0 112.8 117.3 113.2 116.8 113.5 116.4 113.7 115.9 114.0 115.2 114.3 114.8 114.5 114.0 114.8 113.6 114.9Z" fill="none" stroke="#777" stroke-width="0.55"/>
<path d="M138.4 92.2 138.0 92.0 138.1 91.6 138.8 91.6 138.4 92.2ZM131.2 101.3 130.4 101.5 129.6 101.3 129.4 100.8 129.6 100.1 129.8 99.6 130.1 99.2 130.4 98.8 130.8 98.4 131.3 98.0 132.0 97.6 132.4 97.5 133.2 97.6 133.5 98.0 133.5 98.8 133.2 99.4 132.8 100.0 132.5 100.4 132.0 100.8 131.6 101.1 131.2 101.3ZM114.4 113.6 113.6 113.9 112.8 114.0 112.0 113.9 111.4 113.6 111.0 113.2 110.9 112.4 111.2 111.7 111.6 111.2 112.0 110.8 112.4 110.5 112.8 110.2 113.2 110.0 113.9 109.6 114.4 109.4 114.8 109.2 115.6 108.8 116.0 108.6 116.4 108.4 117.2 108.0 117.6 107.8 118.0 107.5 118.5 107.2 119.1 106.8 119.6 106.5 120.0 106.3 120.5 106.0 121.2 105.7 121.6 105.5 122.4 105.2 122.8 105.1 123.6 105.0 124.4 105.2 124.7 105.6 124.5 106.4 124.3 106.8 124.0 107.2 123.6 107.7 123.2 108.1 122.8 108.5 122.4 108.8 121.8 109.2 121.2 109.6 120.8 109.9 120.4 110.1 119.9 110.4 119.3 110.8 118.8 111.1 118.4 111.3 118.0 111.6 117.4 112.0 116.8 112.4 116.4 112.7 116.0 112.9 115.4 113.2 114.8 113.5 114.4 113.6Z" fill="none" stroke="#444" stroke-width="0.55"/>
</g>
<polyline points="84,154 74.4,119 130,53.6" fill="none" stroke="#222" stroke-width="0.8" stroke-linejoin="round"/>
<line x1="130.5" y1="53.8" x2="152.5" y2="53.8" stroke="#b0b0b0" stroke-width="1.6"/>
<polyline points="152.5,114 137.6,132.4 116,154" fill="none" stroke="#222" stroke-width="0.8" stroke-linejoin="round"/>
<line x1="115.4" y1="72" x2="137.6" y2="132.4" stroke="#222" stroke-width="0.8"/>
<text x="151.7" y="67.9" font-size="13.5" text-anchor="end" fill="#000">49.5</text>
<rect x="161.6" y="51.6" width="103" height="102.6" fill="none" stroke="#8c8c8c" stroke-width="0.9"/>
<line x1="161.2" y1="154.2" x2="265" y2="154.2" stroke="#333" stroke-width="1"/>
<path d="M160 61h2.2 M160 84.6h2.2 M160 107.5h2.2 M160 132h2.2 M160 143.6h2.2 M161 77.52h1.2 M161 73.27h1.2 M161 70.44h1.2 M161 68.08h1.2 M161 66.43h1.2 M161 65.01h1.2 M161 63.83h1.2 M161 62.89h1.2 M161 61.94h1.2 M161 100.63h1.2 M161 96.51h1.2 M161 93.76h1.2 M161 91.47h1.2 M161 89.87h1.2 M161 88.49h1.2 M161 87.35h1.2 M161 86.43h1.2 M161 85.52h1.2 M161 124.65h1.2 M161 120.24h1.2 M161 117.3h1.2 M161 114.85h1.2 M161 113.13h1.2 M161 111.67h1.2 M161 110.44h1.2 M161 109.46h1.2 M161 108.48h1.2 M182.2 153.6v2.2 M207.6 153.6v2.2 M231 153.6v2.2 M254.6 153.6v2.2 M172.1 153.6v2.2 M189.82 153.6v1.2 M194.39 153.6v1.2 M197.44 153.6v1.2 M199.98 153.6v1.2 M201.76 153.6v1.2 M203.28 153.6v1.2 M204.55 153.6v1.2 M205.57 153.6v1.2 M206.58 153.6v1.2 M214.62 153.6v1.2 M218.83 153.6v1.2 M221.64 153.6v1.2 M223.98 153.6v1.2 M225.62 153.6v1.2 M227.02 153.6v1.2 M228.19 153.6v1.2 M229.13 153.6v1.2 M230.06 153.6v1.2 M238.08 153.6v1.2 M242.33 153.6v1.2 M245.16 153.6v1.2 M247.52 153.6v1.2 M249.17 153.6v1.2 M250.59 153.6v1.2 M251.77 153.6v1.2 M252.71 153.6v1.2 M253.66 153.6v1.2" stroke="#333" stroke-width="0.7" fill="none"/>
<text x="182.2" y="163.91" font-size="5" text-anchor="middle" fill="#333">10<tspan dy="-1.4" font-size="3.5">2</tspan></text>
<text x="207.6" y="163.91" font-size="5" text-anchor="middle" fill="#333">10<tspan dy="-1.4" font-size="3.5">3</tspan></text>
<text x="231" y="163.91" font-size="5" text-anchor="middle" fill="#333">10<tspan dy="-1.4" font-size="3.5">4</tspan></text>
<text x="254.6" y="163.91" font-size="5" text-anchor="middle" fill="#333">10<tspan dy="-1.4" font-size="3.5">5</tspan></text>
<text x="172.1" y="163.91" font-size="5" text-anchor="middle" fill="#333">0</text>
<clipPath id="c46"><rect x="162.1" y="52.1" width="102" height="101.6"/></clipPath><g clip-path="url(#c46)">
<path d="M216.0 119.2 215.2 119.2 214.8 119.2 214.0 119.0 213.2 118.8 212.8 118.6 212.4 118.4 211.8 118.0 211.4 117.6 211.1 117.2 210.8 116.6 210.6 116.0 210.4 115.2 210.4 114.8 210.4 114.1 210.5 113.6 210.6 112.8 210.8 112.2 211.0 111.6 211.2 111.2 211.6 110.4 211.8 110.0 212.0 109.6 212.4 109.0 212.8 108.5 213.1 108.0 213.5 107.6 213.8 107.2 214.2 106.8 214.6 106.4 215.0 106.0 215.4 105.6 215.8 105.2 216.3 104.8 216.8 104.4 217.2 104.1 217.6 103.8 218.0 103.5 218.4 103.2 219.0 102.8 219.6 102.4 220.0 102.2 220.4 101.9 220.9 101.6 221.5 101.2 222.0 100.9 222.4 100.7 222.8 100.4 223.4 100.0 223.9 99.6 224.4 99.3 224.8 98.9 225.2 98.6 225.6 98.3 226.0 97.9 226.4 97.6 226.9 97.2 227.3 96.8 227.8 96.4 228.2 96.0 228.7 95.6 229.2 95.2 229.6 94.8 230.0 94.5 230.4 94.2 230.8 93.9 231.2 93.6 231.8 93.2 232.4 92.8 232.8 92.6 233.2 92.3 233.7 92.0 234.4 91.6 234.8 91.4 235.2 91.2 235.9 90.8 236.4 90.6 236.8 90.4 237.5 90.0 238.0 89.7 238.4 89.5 238.9 89.2 239.5 88.8 240.0 88.5 240.4 88.2 240.8 87.9 241.2 87.5 241.6 87.2 242.0 86.8 242.4 86.4 242.9 86.0 243.3 85.6 243.7 85.2 244.2 84.8 244.6 84.4 245.1 84.0 245.6 83.6 246.0 83.3 246.4 83.0 246.8 82.8 247.4 82.4 248.0 82.0 248.4 81.8 248.8 81.6 249.6 81.3 250.0 81.1 250.8 80.8 251.2 80.7 252.0 80.6 252.8 80.5 253.6 80.5 254.4 80.6 255.2 80.8 255.6 81.0 256.0 81.2 256.5 81.6 256.9 82.0 257.2 82.4 257.6 83.1 257.8 83.6 258.0 84.4 258.0 84.8 258.0 85.6 258.0 86.0 257.9 86.8 257.7 87.6 257.6 88.0 257.3 88.8 257.1 89.2 256.8 89.8 256.5 90.4 256.3 90.8 256.0 91.3 255.6 91.9 255.3 92.4 255.0 92.8 254.7 93.2 254.4 93.7 254.0 94.4 253.8 94.8 253.6 95.4 253.4 96.0 253.2 96.7 253.1 97.2 252.8 97.9 252.5 98.4 252.3 98.8 252.0 99.2 251.6 99.6 251.1 100.0 250.5 100.4 250.0 100.6 249.2 100.8 248.8 100.9 248.0 100.9 247.2 100.9 246.4 100.9 245.6 100.9 244.8 101.1 244.4 101.2 243.7 101.6 243.2 101.9 242.8 102.2 242.4 102.6 242.0 102.9 241.6 103.2 241.1 103.6 240.6 104.0 240.1 104.4 239.6 104.8 239.2 105.1 238.8 105.4 238.4 105.7 238.0 106.0 237.4 106.4 236.8 106.8 236.4 107.0 236.0 107.3 235.5 107.6 234.9 108.0 234.4 108.3 234.0 108.6 233.6 108.8 233.0 109.2 232.5 109.6 232.0 109.9 231.6 110.3 231.2 110.6 230.8 110.9 230.4 111.2 230.0 111.6 229.5 112.0 229.1 112.4 228.6 112.8 228.2 113.2 227.7 113.6 227.3 114.0 226.8 114.4 226.4 114.7 226.0 115.0 225.6 115.3 225.2 115.6 224.6 116.0 224.0 116.4 223.6 116.7 223.2 116.9 222.7 117.2 222.0 117.5 221.6 117.7 221.0 118.0 220.4 118.2 220.0 118.4 219.2 118.7 218.7 118.8 218.0 119.0 217.2 119.1 216.4 119.2 216.0 119.2Z" fill="none" stroke="#000" stroke-width="14" stroke-opacity="0.18" filter="url(#b2)" transform="translate(-1 2.5)"/>
<path d="M216.0 119.2 215.2 119.2 214.8 119.2 214.0 119.0 213.2 118.8 212.8 118.6 212.4 118.4 211.8 118.0 211.4 117.6 211.1 117.2 210.8 116.6 210.6 116.0 210.4 115.2 210.4 114.8 210.4 114.1 210.5 113.6 210.6 112.8 210.8 112.2 211.0 111.6 211.2 111.2 211.6 110.4 211.8 110.0 212.0 109.6 212.4 109.0 212.8 108.5 213.1 108.0 213.5 107.6 213.8 107.2 214.2 106.8 214.6 106.4 215.0 106.0 215.4 105.6 215.8 105.2 216.3 104.8 216.8 104.4 217.2 104.1 217.6 103.8 218.0 103.5 218.4 103.2 219.0 102.8 219.6 102.4 220.0 102.2 220.4 101.9 220.9 101.6 221.5 101.2 222.0 100.9 222.4 100.7 222.8 100.4 223.4 100.0 223.9 99.6 224.4 99.3 224.8 98.9 225.2 98.6 225.6 98.3 226.0 97.9 226.4 97.6 226.9 97.2 227.3 96.8 227.8 96.4 228.2 96.0 228.7 95.6 229.2 95.2 229.6 94.8 230.0 94.5 230.4 94.2 230.8 93.9 231.2 93.6 231.8 93.2 232.4 92.8 232.8 92.6 233.2 92.3 233.7 92.0 234.4 91.6 234.8 91.4 235.2 91.2 235.9 90.8 236.4 90.6 236.8 90.4 237.5 90.0 238.0 89.7 238.4 89.5 238.9 89.2 239.5 88.8 240.0 88.5 240.4 88.2 240.8 87.9 241.2 87.5 241.6 87.2 242.0 86.8 242.4 86.4 242.9 86.0 243.3 85.6 243.7 85.2 244.2 84.8 244.6 84.4 245.1 84.0 245.6 83.6 246.0 83.3 246.4 83.0 246.8 82.8 247.4 82.4 248.0 82.0 248.4 81.8 248.8 81.6 249.6 81.3 250.0 81.1 250.8 80.8 251.2 80.7 252.0 80.6 252.8 80.5 253.6 80.5 254.4 80.6 255.2 80.8 255.6 81.0 256.0 81.2 256.5 81.6 256.9 82.0 257.2 82.4 257.6 83.1 257.8 83.6 258.0 84.4 258.0 84.8 258.0 85.6 258.0 86.0 257.9 86.8 257.7 87.6 257.6 88.0 257.3 88.8 257.1 89.2 256.8 89.8 256.5 90.4 256.3 90.8 256.0 91.3 255.6 91.9 255.3 92.4 255.0 92.8 254.7 93.2 254.4 93.7 254.0 94.4 253.8 94.8 253.6 95.4 253.4 96.0 253.2 96.7 253.1 97.2 252.8 97.9 252.5 98.4 252.3 98.8 252.0 99.2 251.6 99.6 251.1 100.0 250.5 100.4 250.0 100.6 249.2 100.8 248.8 100.9 248.0 100.9 247.2 100.9 246.4 100.9 245.6 100.9 244.8 101.1 244.4 101.2 243.7 101.6 243.2 101.9 242.8 102.2 242.4 102.6 242.0 102.9 241.6 103.2 241.1 103.6 240.6 104.0 240.1 104.4 239.6 104.8 239.2 105.1 238.8 105.4 238.4 105.7 238.0 106.0 237.4 106.4 236.8 106.8 236.4 107.0 236.0 107.3 235.5 107.6 234.9 108.0 234.4 108.3 234.0 108.6 233.6 108.8 233.0 109.2 232.5 109.6 232.0 109.9 231.6 110.3 231.2 110.6 230.8 110.9 230.4 111.2 230.0 111.6 229.5 112.0 229.1 112.4 228.6 112.8 228.2 113.2 227.7 113.6 227.3 114.0 226.8 114.4 226.4 114.7 226.0 115.0 225.6 115.3 225.2 115.6 224.6 116.0 224.0 116.4 223.6 116.7 223.2 116.9 222.7 117.2 222.0 117.5 221.6 117.7 221.0 118.0 220.4 118.2 220.0 118.4 219.2 118.7 218.7 118.8 218.0 119.0 217.2 119.1 216.4 119.2 216.0 119.2Z" fill="none" stroke="url(#p4)" stroke-width="17" stroke-opacity="1" stroke-linejoin="round" transform="translate(-1 2.5)"/>
<path d="M216.0 119.2 215.2 119.2 214.8 119.2 214.0 119.0 213.2 118.8 212.8 118.6 212.4 118.4 211.8 118.0 211.4 117.6 211.1 117.2 210.8 116.6 210.6 116.0 210.4 115.2 210.4 114.8 210.4 114.1 210.5 113.6 210.6 112.8 210.8 112.2 211.0 111.6 211.2 111.2 211.6 110.4 211.8 110.0 212.0 109.6 212.4 109.0 212.8 108.5 213.1 108.0 213.5 107.6 213.8 107.2 214.2 106.8 214.6 106.4 215.0 106.0 215.4 105.6 215.8 105.2 216.3 104.8 216.8 104.4 217.2 104.1 217.6 103.8 218.0 103.5 218.4 103.2 219.0 102.8 219.6 102.4 220.0 102.2 220.4 101.9 220.9 101.6 221.5 101.2 222.0 100.9 222.4 100.7 222.8 100.4 223.4 100.0 223.9 99.6 224.4 99.3 224.8 98.9 225.2 98.6 225.6 98.3 226.0 97.9 226.4 97.6 226.9 97.2 227.3 96.8 227.8 96.4 228.2 96.0 228.7 95.6 229.2 95.2 229.6 94.8 230.0 94.5 230.4 94.2 230.8 93.9 231.2 93.6 231.8 93.2 232.4 92.8 232.8 92.6 233.2 92.3 233.7 92.0 234.4 91.6 234.8 91.4 235.2 91.2 235.9 90.8 236.4 90.6 236.8 90.4 237.5 90.0 238.0 89.7 238.4 89.5 238.9 89.2 239.5 88.8 240.0 88.5 240.4 88.2 240.8 87.9 241.2 87.5 241.6 87.2 242.0 86.8 242.4 86.4 242.9 86.0 243.3 85.6 243.7 85.2 244.2 84.8 244.6 84.4 245.1 84.0 245.6 83.6 246.0 83.3 246.4 83.0 246.8 82.8 247.4 82.4 248.0 82.0 248.4 81.8 248.8 81.6 249.6 81.3 250.0 81.1 250.8 80.8 251.2 80.7 252.0 80.6 252.8 80.5 253.6 80.5 254.4 80.6 255.2 80.8 255.6 81.0 256.0 81.2 256.5 81.6 256.9 82.0 257.2 82.4 257.6 83.1 257.8 83.6 258.0 84.4 258.0 84.8 258.0 85.6 258.0 86.0 257.9 86.8 257.7 87.6 257.6 88.0 257.3 88.8 257.1 89.2 256.8 89.8 256.5 90.4 256.3 90.8 256.0 91.3 255.6 91.9 255.3 92.4 255.0 92.8 254.7 93.2 254.4 93.7 254.0 94.4 253.8 94.8 253.6 95.4 253.4 96.0 253.2 96.7 253.1 97.2 252.8 97.9 252.5 98.4 252.3 98.8 252.0 99.2 251.6 99.6 251.1 100.0 250.5 100.4 250.0 100.6 249.2 100.8 248.8 100.9 248.0 100.9 247.2 100.9 246.4 100.9 245.6 100.9 244.8 101.1 244.4 101.2 243.7 101.6 243.2 101.9 242.8 102.2 242.4 102.6 242.0 102.9 241.6 103.2 241.1 103.6 240.6 104.0 240.1 104.4 239.6 104.8 239.2 105.1 238.8 105.4 238.4 105.7 238.0 106.0 237.4 106.4 236.8 106.8 236.4 107.0 236.0 107.3 235.5 107.6 234.9 108.0 234.4 108.3 234.0 108.6 233.6 108.8 233.0 109.2 232.5 109.6 232.0 109.9 231.6 110.3 231.2 110.6 230.8 110.9 230.4 111.2 230.0 111.6 229.5 112.0 229.1 112.4 228.6 112.8 228.2 113.2 227.7 113.6 227.3 114.0 226.8 114.4 226.4 114.7 226.0 115.0 225.6 115.3 225.2 115.6 224.6 116.0 224.0 116.4 223.6 116.7 223.2 116.9 222.7 117.2 222.0 117.5 221.6 117.7 221.0 118.0 220.4 118.2 220.0 118.4 219.2 118.7 218.7 118.8 218.0 119.0 217.2 119.1 216.4 119.2 216.0 119.2Z" fill="none" stroke="url(#p3)" stroke-width="13" stroke-opacity="1" stroke-linejoin="round" transform="translate(-1 2.5)"/>
<path d="M216.0 119.2 215.2 119.2 214.8 119.2 214.0 119.0 213.2 118.8 212.8 118.6 212.4 118.4 211.8 118.0 211.4 117.6 211.1 117.2 210.8 116.6 210.6 116.0 210.4 115.2 210.4 114.8 210.4 114.1 210.5 113.6 210.6 112.8 210.8 112.2 211.0 111.6 211.2 111.2 211.6 110.4 211.8 110.0 212.0 109.6 212.4 109.0 212.8 108.5 213.1 108.0 213.5 107.6 213.8 107.2 214.2 106.8 214.6 106.4 215.0 106.0 215.4 105.6 215.8 105.2 216.3 104.8 216.8 104.4 217.2 104.1 217.6 103.8 218.0 103.5 218.4 103.2 219.0 102.8 219.6 102.4 220.0 102.2 220.4 101.9 220.9 101.6 221.5 101.2 222.0 100.9 222.4 100.7 222.8 100.4 223.4 100.0 223.9 99.6 224.4 99.3 224.8 98.9 225.2 98.6 225.6 98.3 226.0 97.9 226.4 97.6 226.9 97.2 227.3 96.8 227.8 96.4 228.2 96.0 228.7 95.6 229.2 95.2 229.6 94.8 230.0 94.5 230.4 94.2 230.8 93.9 231.2 93.6 231.8 93.2 232.4 92.8 232.8 92.6 233.2 92.3 233.7 92.0 234.4 91.6 234.8 91.4 235.2 91.2 235.9 90.8 236.4 90.6 236.8 90.4 237.5 90.0 238.0 89.7 238.4 89.5 238.9 89.2 239.5 88.8 240.0 88.5 240.4 88.2 240.8 87.9 241.2 87.5 241.6 87.2 242.0 86.8 242.4 86.4 242.9 86.0 243.3 85.6 243.7 85.2 244.2 84.8 244.6 84.4 245.1 84.0 245.6 83.6 246.0 83.3 246.4 83.0 246.8 82.8 247.4 82.4 248.0 82.0 248.4 81.8 248.8 81.6 249.6 81.3 250.0 81.1 250.8 80.8 251.2 80.7 252.0 80.6 252.8 80.5 253.6 80.5 254.4 80.6 255.2 80.8 255.6 81.0 256.0 81.2 256.5 81.6 256.9 82.0 257.2 82.4 257.6 83.1 257.8 83.6 258.0 84.4 258.0 84.8 258.0 85.6 258.0 86.0 257.9 86.8 257.7 87.6 257.6 88.0 257.3 88.8 257.1 89.2 256.8 89.8 256.5 90.4 256.3 90.8 256.0 91.3 255.6 91.9 255.3 92.4 255.0 92.8 254.7 93.2 254.4 93.7 254.0 94.4 253.8 94.8 253.6 95.4 253.4 96.0 253.2 96.7 253.1 97.2 252.8 97.9 252.5 98.4 252.3 98.8 252.0 99.2 251.6 99.6 251.1 100.0 250.5 100.4 250.0 100.6 249.2 100.8 248.8 100.9 248.0 100.9 247.2 100.9 246.4 100.9 245.6 100.9 244.8 101.1 244.4 101.2 243.7 101.6 243.2 101.9 242.8 102.2 242.4 102.6 242.0 102.9 241.6 103.2 241.1 103.6 240.6 104.0 240.1 104.4 239.6 104.8 239.2 105.1 238.8 105.4 238.4 105.7 238.0 106.0 237.4 106.4 236.8 106.8 236.4 107.0 236.0 107.3 235.5 107.6 234.9 108.0 234.4 108.3 234.0 108.6 233.6 108.8 233.0 109.2 232.5 109.6 232.0 109.9 231.6 110.3 231.2 110.6 230.8 110.9 230.4 111.2 230.0 111.6 229.5 112.0 229.1 112.4 228.6 112.8 228.2 113.2 227.7 113.6 227.3 114.0 226.8 114.4 226.4 114.7 226.0 115.0 225.6 115.3 225.2 115.6 224.6 116.0 224.0 116.4 223.6 116.7 223.2 116.9 222.7 117.2 222.0 117.5 221.6 117.7 221.0 118.0 220.4 118.2 220.0 118.4 219.2 118.7 218.7 118.8 218.0 119.0 217.2 119.1 216.4 119.2 216.0 119.2Z" fill="none" stroke="url(#p2)" stroke-width="9.5" stroke-opacity="1" stroke-linejoin="round" transform="translate(-1 2.5)"/>
<path d="M216.0 119.2 215.2 119.2 214.8 119.2 214.0 119.0 213.2 118.8 212.8 118.6 212.4 118.4 211.8 118.0 211.4 117.6 211.1 117.2 210.8 116.6 210.6 116.0 210.4 115.2 210.4 114.8 210.4 114.1 210.5 113.6 210.6 112.8 210.8 112.2 211.0 111.6 211.2 111.2 211.6 110.4 211.8 110.0 212.0 109.6 212.4 109.0 212.8 108.5 213.1 108.0 213.5 107.6 213.8 107.2 214.2 106.8 214.6 106.4 215.0 106.0 215.4 105.6 215.8 105.2 216.3 104.8 216.8 104.4 217.2 104.1 217.6 103.8 218.0 103.5 218.4 103.2 219.0 102.8 219.6 102.4 220.0 102.2 220.4 101.9 220.9 101.6 221.5 101.2 222.0 100.9 222.4 100.7 222.8 100.4 223.4 100.0 223.9 99.6 224.4 99.3 224.8 98.9 225.2 98.6 225.6 98.3 226.0 97.9 226.4 97.6 226.9 97.2 227.3 96.8 227.8 96.4 228.2 96.0 228.7 95.6 229.2 95.2 229.6 94.8 230.0 94.5 230.4 94.2 230.8 93.9 231.2 93.6 231.8 93.2 232.4 92.8 232.8 92.6 233.2 92.3 233.7 92.0 234.4 91.6 234.8 91.4 235.2 91.2 235.9 90.8 236.4 90.6 236.8 90.4 237.5 90.0 238.0 89.7 238.4 89.5 238.9 89.2 239.5 88.8 240.0 88.5 240.4 88.2 240.8 87.9 241.2 87.5 241.6 87.2 242.0 86.8 242.4 86.4 242.9 86.0 243.3 85.6 243.7 85.2 244.2 84.8 244.6 84.4 245.1 84.0 245.6 83.6 246.0 83.3 246.4 83.0 246.8 82.8 247.4 82.4 248.0 82.0 248.4 81.8 248.8 81.6 249.6 81.3 250.0 81.1 250.8 80.8 251.2 80.7 252.0 80.6 252.8 80.5 253.6 80.5 254.4 80.6 255.2 80.8 255.6 81.0 256.0 81.2 256.5 81.6 256.9 82.0 257.2 82.4 257.6 83.1 257.8 83.6 258.0 84.4 258.0 84.8 258.0 85.6 258.0 86.0 257.9 86.8 257.7 87.6 257.6 88.0 257.3 88.8 257.1 89.2 256.8 89.8 256.5 90.4 256.3 90.8 256.0 91.3 255.6 91.9 255.3 92.4 255.0 92.8 254.7 93.2 254.4 93.7 254.0 94.4 253.8 94.8 253.6 95.4 253.4 96.0 253.2 96.7 253.1 97.2 252.8 97.9 252.5 98.4 252.3 98.8 252.0 99.2 251.6 99.6 251.1 100.0 250.5 100.4 250.0 100.6 249.2 100.8 248.8 100.9 248.0 100.9 247.2 100.9 246.4 100.9 245.6 100.9 244.8 101.1 244.4 101.2 243.7 101.6 243.2 101.9 242.8 102.2 242.4 102.6 242.0 102.9 241.6 103.2 241.1 103.6 240.6 104.0 240.1 104.4 239.6 104.8 239.2 105.1 238.8 105.4 238.4 105.7 238.0 106.0 237.4 106.4 236.8 106.8 236.4 107.0 236.0 107.3 235.5 107.6 234.9 108.0 234.4 108.3 234.0 108.6 233.6 108.8 233.0 109.2 232.5 109.6 232.0 109.9 231.6 110.3 231.2 110.6 230.8 110.9 230.4 111.2 230.0 111.6 229.5 112.0 229.1 112.4 228.6 112.8 228.2 113.2 227.7 113.6 227.3 114.0 226.8 114.4 226.4 114.7 226.0 115.0 225.6 115.3 225.2 115.6 224.6 116.0 224.0 116.4 223.6 116.7 223.2 116.9 222.7 117.2 222.0 117.5 221.6 117.7 221.0 118.0 220.4 118.2 220.0 118.4 219.2 118.7 218.7 118.8 218.0 119.0 217.2 119.1 216.4 119.2 216.0 119.2Z" fill="none" stroke="url(#p1)" stroke-width="6" stroke-opacity="1" stroke-linejoin="round"/>
<path d="M216.0 119.2 215.2 119.2 214.8 119.2 214.0 119.0 213.2 118.8 212.8 118.6 212.4 118.4 211.8 118.0 211.4 117.6 211.1 117.2 210.8 116.6 210.6 116.0 210.4 115.2 210.4 114.8 210.4 114.1 210.5 113.6 210.6 112.8 210.8 112.2 211.0 111.6 211.2 111.2 211.6 110.4 211.8 110.0 212.0 109.6 212.4 109.0 212.8 108.5 213.1 108.0 213.5 107.6 213.8 107.2 214.2 106.8 214.6 106.4 215.0 106.0 215.4 105.6 215.8 105.2 216.3 104.8 216.8 104.4 217.2 104.1 217.6 103.8 218.0 103.5 218.4 103.2 219.0 102.8 219.6 102.4 220.0 102.2 220.4 101.9 220.9 101.6 221.5 101.2 222.0 100.9 222.4 100.7 222.8 100.4 223.4 100.0 223.9 99.6 224.4 99.3 224.8 98.9 225.2 98.6 225.6 98.3 226.0 97.9 226.4 97.6 226.9 97.2 227.3 96.8 227.8 96.4 228.2 96.0 228.7 95.6 229.2 95.2 229.6 94.8 230.0 94.5 230.4 94.2 230.8 93.9 231.2 93.6 231.8 93.2 232.4 92.8 232.8 92.6 233.2 92.3 233.7 92.0 234.4 91.6 234.8 91.4 235.2 91.2 235.9 90.8 236.4 90.6 236.8 90.4 237.5 90.0 238.0 89.7 238.4 89.5 238.9 89.2 239.5 88.8 240.0 88.5 240.4 88.2 240.8 87.9 241.2 87.5 241.6 87.2 242.0 86.8 242.4 86.4 242.9 86.0 243.3 85.6 243.7 85.2 244.2 84.8 244.6 84.4 245.1 84.0 245.6 83.6 246.0 83.3 246.4 83.0 246.8 82.8 247.4 82.4 248.0 82.0 248.4 81.8 248.8 81.6 249.6 81.3 250.0 81.1 250.8 80.8 251.2 80.7 252.0 80.6 252.8 80.5 253.6 80.5 254.4 80.6 255.2 80.8 255.6 81.0 256.0 81.2 256.5 81.6 256.9 82.0 257.2 82.4 257.6 83.1 257.8 83.6 258.0 84.4 258.0 84.8 258.0 85.6 258.0 86.0 257.9 86.8 257.7 87.6 257.6 88.0 257.3 88.8 257.1 89.2 256.8 89.8 256.5 90.4 256.3 90.8 256.0 91.3 255.6 91.9 255.3 92.4 255.0 92.8 254.7 93.2 254.4 93.7 254.0 94.4 253.8 94.8 253.6 95.4 253.4 96.0 253.2 96.7 253.1 97.2 252.8 97.9 252.5 98.4 252.3 98.8 252.0 99.2 251.6 99.6 251.1 100.0 250.5 100.4 250.0 100.6 249.2 100.8 248.8 100.9 248.0 100.9 247.2 100.9 246.4 100.9 245.6 100.9 244.8 101.1 244.4 101.2 243.7 101.6 243.2 101.9 242.8 102.2 242.4 102.6 242.0 102.9 241.6 103.2 241.1 103.6 240.6 104.0 240.1 104.4 239.6 104.8 239.2 105.1 238.8 105.4 238.4 105.7 238.0 106.0 237.4 106.4 236.8 106.8 236.4 107.0 236.0 107.3 235.5 107.6 234.9 108.0 234.4 108.3 234.0 108.6 233.6 108.8 233.0 109.2 232.5 109.6 232.0 109.9 231.6 110.3 231.2 110.6 230.8 110.9 230.4 111.2 230.0 111.6 229.5 112.0 229.1 112.4 228.6 112.8 228.2 113.2 227.7 113.6 227.3 114.0 226.8 114.4 226.4 114.7 226.0 115.0 225.6 115.3 225.2 115.6 224.6 116.0 224.0 116.4 223.6 116.7 223.2 116.9 222.7 117.2 222.0 117.5 221.6 117.7 221.0 118.0 220.4 118.2 220.0 118.4 219.2 118.7 218.7 118.8 218.0 119.0 217.2 119.1 216.4 119.2 216.0 119.2Z" fill="none" stroke="#000" stroke-width="3.5" stroke-opacity="0.6" filter="url(#b05)"/>
<path d="M243.2 103.0h0.8M215.9 122.5h0.8M238.9 116.6h0.8M231.4 90.2h0.8M215.6 120.7h0.8M251.3 115.0h0.8M248.2 112.5h0.8M245.3 107.8h0.8M229.9 125.0h0.8M210.3 116.5h0.8M201.5 131.7h0.8M221.0 120.2h0.8M222.7 121.2h0.8M233.6 86.0h0.8M215.3 125.7h0.8M227.3 119.5h0.8M220.3 100.9h0.8M239.5 109.2h0.8M225.4 123.7h0.8M233.7 111.7h0.8M204.2 118.0h0.8M220.8 120.9h0.8M220.0 123.7h0.8M202.6 129.3h0.8M207.8 112.3h0.8M221.1 96.7h0.8M206.7 109.3h0.8M226.5 125.5h0.8M231.6 114.9h0.8M216.4 102.9h0.8M217.1 125.6h0.8M238.6 120.6h0.8M241.8 126.8h0.8M240.2 111.5h0.8M239.3 81.2h0.8M234.0 122.7h0.8M198.6 130.9h0.8M228.1 114.2h0.8M204.9 129.9h0.8M224.0 127.3h0.8M224.1 120.9h0.8M245.7 114.2h0.8M212.8 129.2h0.8M240.0 124.5h0.8M238.8 114.5h0.8M210.3 130.8h0.8M220.4 136.9h0.8M226.2 118.1h0.8M237.3 131.0h0.8M230.5 113.8h0.8M231.8 129.4h0.8M221.9 100.4h0.8M212.6 122.1h0.8M242.0 106.9h0.8M232.8 111.3h0.8M245.4 101.5h0.8M232.5 127.1h0.8M220.1 99.8h0.8M243.1 81.1h0.8M201.5 132.6h0.8M204.5 107.3h0.8M227.5 79.0h0.8M239.6 82.5h0.8M214.1 128.2h0.8M224.5 89.9h0.8M246.9 113.1h0.8M254.1 79.7h0.8M237.1 115.5h0.8M238.5 115.2h0.8M238.5 118.0h0.8M217.1 128.0h0.8M221.2 122.3h0.8M239.7 116.1h0.8M228.9 92.8h0.8M232.0 78.5h0.8M220.5 120.5h0.8M223.1 124.4h0.8M223.2 118.5h0.8M205.8 107.9h0.8M229.3 115.6h0.8M227.9 128.1h0.8M258.9 98.8h0.8M223.4 95.8h0.8M241.0 124.5h0.8M230.9 122.5h0.8M243.0 104.4h0.8M221.8 133.3h0.8M225.8 128.0h0.8M224.7 120.7h0.8M209.7 110.2h0.8M240.6 119.3h0.8M242.4 104.2h0.8M214.5 126.2h0.8M254.5 104.9h0.8M218.4 127.0h0.8M233.3 89.0h0.8M225.5 120.5h0.8M200.1 132.3h0.8M231.9 118.3h0.8M211.7 133.5h0.8M230.2 127.5h0.8M242.1 116.0h0.8M235.3 118.9h0.8M240.0 108.0h0.8M227.3 120.8h0.8M223.1 124.6h0.8M224.8 118.8h0.8M251.1 125.7h0.8M231.3 120.7h0.8M252.2 119.3h0.8M225.3 124.0h0.8M231.1 129.7h0.8M228.0 134.4h0.8M227.8 125.1h0.8M222.0 122.3h0.8M255.6 97.9h0.8M212.5 122.3h0.8M224.4 120.1h0.8M217.5 121.1h0.8M247.8 67.9h0.8M224.2 119.8h0.8M230.8 115.4h0.8M226.0 94.3h0.8M221.6 91.8h0.8M236.9 108.9h0.8M247.5 77.5h0.8M218.4 132.8h0.8M242.0 114.7h0.8M211.7 109.6h0.8M217.5 94.6h0.8M212.7 129.9h0.8M217.9 123.0h0.8M222.1 123.0h0.8M230.3 122.5h0.8M232.5 114.1h0.8M251.6 107.4h0.8M241.7 116.0h0.8M229.1 122.4h0.8M200.6 122.4h0.8M215.4 121.6h0.8M229.9 120.3h0.8M207.7 111.0h0.8M235.6 80.5h0.8M221.8 124.2h0.8M223.3 122.9h0.8M200.3 113.6h0.8M258.9 100.6h0.8M245.5 105.4h0.8M218.6 122.1h0.8M214.7 125.2h0.8M240.4 112.5h0.8M210.3 126.9h0.8M235.7 121.2h0.8M222.6 135.5h0.8M226.9 117.3h0.8M230.0 91.3h0.8M236.0 123.5h0.8M249.6 104.6h0.8M227.7 133.0h0.8M214.5 122.5h0.8M210.1 114.1h0.8M233.6 129.5h0.8M224.3 99.0h0.8M206.9 121.6h0.8M225.6 118.1h0.8M256.6 67.8h0.8M245.0 122.3h0.8M240.1 130.0h0.8M238.8 121.8h0.8M249.0 114.5h0.8M235.9 84.5h0.8M250.0 113.3h0.8M198.1 125.7h0.8M242.1 115.4h0.8M234.7 130.1h0.8M226.3 128.3h0.8M231.8 119.2h0.8M226.9 122.0h0.8M216.4 131.1h0.8M210.8 131.8h0.8M244.0 103.7h0.8M219.7 124.5h0.8M213.1 124.4h0.8M227.4 119.2h0.8M240.4 123.7h0.8M189.2 134.2h0.8M209.9 131.3h0.8M254.9 113.7h0.8M226.6 120.4h0.8M240.2 113.5h0.8M243.6 113.2h0.8M244.7 105.0h0.8M233.5 115.0h0.8M226.6 128.9h0.8M233.8 124.0h0.8M249.7 105.3h0.8M252.7 106.1h0.8M204.9 133.5h0.8M222.6 120.9h0.8M220.8 118.7h0.8M230.3 112.3h0.8M243.2 120.6h0.8M215.3 101.4h0.8M223.5 92.0h0.8M229.8 132.7h0.8M233.1 118.8h0.8M205.3 117.0h0.8M206.8 129.8h0.8M218.7 123.8h0.8M241.9 115.0h0.8M221.1 117.9h0.8M242.4 82.1h0.8M208.4 103.7h0.8M214.1 120.3h0.8M255.3 110.8h0.8M237.5 121.5h0.8M212.7 122.7h0.8M222.5 118.4h0.8M254.5 63.1h0.8M236.5 121.1h0.8M231.7 125.2h0.8M209.5 135.1h0.8M242.6 77.7h0.8M223.8 117.4h0.8M220.1 128.9h0.8M202.7 121.8h0.8M226.3 117.6h0.8M219.5 134.6h0.8M210.6 118.3h0.8M217.7 130.8h0.8M246.1 80.6h0.8M244.6 127.3h0.8M227.5 125.7h0.8M254.4 102.1h0.8M223.6 121.1h0.8M220.8 118.2h0.8M227.0 120.5h0.8M209.6 100.4h0.8M226.8 121.8h0.8M249.9 121.8h0.8M239.5 116.5h0.8M212.2 118.4h0.8M224.0 128.6h0.8M225.6 120.2h0.8M227.3 120.7h0.8M217.7 121.0h0.8M235.5 124.3h0.8M239.4 109.3h0.8M220.9 120.4h0.8M227.6 119.0h0.8M230.0 111.8h0.8M226.9 114.7h0.8M242.8 125.1h0.8M229.3 112.9h0.8M228.4 116.9h0.8M222.6 117.7h0.8M220.8 118.3h0.8M225.8 118.6h0.8M176.0 144.7h0.8M205.0 124.6h0.8M239.6 121.3h0.8M221.2 121.7h0.8M228.1 117.5h0.8M230.5 121.3h0.8M222.4 120.9h0.8M244.4 125.4h0.8M231.9 118.5h0.8M254.2 119.4h0.8M204.2 107.4h0.8M231.2 123.5h0.8M208.6 123.1h0.8M209.7 130.3h0.8M201.4 85.7h0.8M233.2 122.0h0.8M235.3 129.2h0.8M212.9 121.5h0.8M220.6 128.3h0.8M242.1 123.7h0.8M212.0 125.5h0.8M223.3 123.0h0.8M224.3 125.5h0.8M232.3 110.9h0.8M228.5 119.8h0.8M224.2 119.6h0.8M215.2 124.4h0.8M214.5 101.4h0.8M230.1 118.7h0.8M228.8 116.9h0.8M226.3 125.5h0.8M226.1 119.2h0.8M213.3 125.3h0.8M229.8 119.8h0.8M217.5 126.8h0.8M255.0 115.0h0.8M230.4 123.5h0.8M195.8 128.1h0.8M219.1 131.7h0.8M225.7 97.5h0.8M223.6 123.4h0.8M219.3 122.9h0.8M257.1 104.8h0.8M234.6 122.1h0.8M258.4 93.1h0.8M233.0 92.0h0.8M196.8 120.5h0.8M202.1 126.6h0.8M225.0 87.9h0.8M235.0 125.7h0.8M228.9 131.7h0.8M246.9 111.0h0.8M238.7 122.4h0.8M231.9 126.6h0.8M224.6 90.8h0.8M214.2 127.6h0.8M199.6 117.1h0.8M219.5 123.3h0.8M220.0 128.7h0.8M225.3 122.2h0.8M226.9 126.2h0.8M221.6 129.6h0.8M227.0 125.0h0.8M255.3 94.6h0.8M244.8 101.8h0.8M242.7 107.6h0.8M231.3 125.7h0.8M230.2 111.7h0.8M258.9 69.4h0.8M199.5 127.1h0.8M221.5 120.3h0.8M202.1 128.8h0.8M250.4 66.1h0.8M239.2 116.2h0.8M254.2 119.7h0.8M224.9 128.9h0.8M233.9 117.5h0.8M207.0 137.7h0.8M221.2 119.1h0.8" stroke="#000" stroke-width="0.8" stroke-opacity="1"/>
<path d="M216.0 119.2 215.2 119.2 214.8 119.2 214.0 119.0 213.2 118.8 212.8 118.6 212.4 118.4 211.8 118.0 211.4 117.6 211.1 117.2 210.8 116.6 210.6 116.0 210.4 115.2 210.4 114.8 210.4 114.1 210.5 113.6 210.6 112.8 210.8 112.2 211.0 111.6 211.2 111.2 211.6 110.4 211.8 110.0 212.0 109.6 212.4 109.0 212.8 108.5 213.1 108.0 213.5 107.6 213.8 107.2 214.2 106.8 214.6 106.4 215.0 106.0 215.4 105.6 215.8 105.2 216.3 104.8 216.8 104.4 217.2 104.1 217.6 103.8 218.0 103.5 218.4 103.2 219.0 102.8 219.6 102.4 220.0 102.2 220.4 101.9 220.9 101.6 221.5 101.2 222.0 100.9 222.4 100.7 222.8 100.4 223.4 100.0 223.9 99.6 224.4 99.3 224.8 98.9 225.2 98.6 225.6 98.3 226.0 97.9 226.4 97.6 226.9 97.2 227.3 96.8 227.8 96.4 228.2 96.0 228.7 95.6 229.2 95.2 229.6 94.8 230.0 94.5 230.4 94.2 230.8 93.9 231.2 93.6 231.8 93.2 232.4 92.8 232.8 92.6 233.2 92.3 233.7 92.0 234.4 91.6 234.8 91.4 235.2 91.2 235.9 90.8 236.4 90.6 236.8 90.4 237.5 90.0 238.0 89.7 238.4 89.5 238.9 89.2 239.5 88.8 240.0 88.5 240.4 88.2 240.8 87.9 241.2 87.5 241.6 87.2 242.0 86.8 242.4 86.4 242.9 86.0 243.3 85.6 243.7 85.2 244.2 84.8 244.6 84.4 245.1 84.0 245.6 83.6 246.0 83.3 246.4 83.0 246.8 82.8 247.4 82.4 248.0 82.0 248.4 81.8 248.8 81.6 249.6 81.3 250.0 81.1 250.8 80.8 251.2 80.7 252.0 80.6 252.8 80.5 253.6 80.5 254.4 80.6 255.2 80.8 255.6 81.0 256.0 81.2 256.5 81.6 256.9 82.0 257.2 82.4 257.6 83.1 257.8 83.6 258.0 84.4 258.0 84.8 258.0 85.6 258.0 86.0 257.9 86.8 257.7 87.6 257.6 88.0 257.3 88.8 257.1 89.2 256.8 89.8 256.5 90.4 256.3 90.8 256.0 91.3 255.6 91.9 255.3 92.4 255.0 92.8 254.7 93.2 254.4 93.7 254.0 94.4 253.8 94.8 253.6 95.4 253.4 96.0 253.2 96.7 253.1 97.2 252.8 97.9 252.5 98.4 252.3 98.8 252.0 99.2 251.6 99.6 251.1 100.0 250.5 100.4 250.0 100.6 249.2 100.8 248.8 100.9 248.0 100.9 247.2 100.9 246.4 100.9 245.6 100.9 244.8 101.1 244.4 101.2 243.7 101.6 243.2 101.9 242.8 102.2 242.4 102.6 242.0 102.9 241.6 103.2 241.1 103.6 240.6 104.0 240.1 104.4 239.6 104.8 239.2 105.1 238.8 105.4 238.4 105.7 238.0 106.0 237.4 106.4 236.8 106.8 236.4 107.0 236.0 107.3 235.5 107.6 234.9 108.0 234.4 108.3 234.0 108.6 233.6 108.8 233.0 109.2 232.5 109.6 232.0 109.9 231.6 110.3 231.2 110.6 230.8 110.9 230.4 111.2 230.0 111.6 229.5 112.0 229.1 112.4 228.6 112.8 228.2 113.2 227.7 113.6 227.3 114.0 226.8 114.4 226.4 114.7 226.0 115.0 225.6 115.3 225.2 115.6 224.6 116.0 224.0 116.4 223.6 116.7 223.2 116.9 222.7 117.2 222.0 117.5 221.6 117.7 221.0 118.0 220.4 118.2 220.0 118.4 219.2 118.7 218.7 118.8 218.0 119.0 217.2 119.1 216.4 119.2 216.0 119.2Z" fill="#f4f4f4" stroke="#222" stroke-width="2.4"/>
<path d="M216.0 119.2 215.2 119.2 214.8 119.2 214.0 119.0 213.2 118.8 212.8 118.6 212.4 118.4 211.8 118.0 211.4 117.6 211.1 117.2 210.8 116.6 210.6 116.0 210.4 115.2 210.4 114.8 210.4 114.1 210.5 113.6 210.6 112.8 210.8 112.2 211.0 111.6 211.2 111.2 211.6 110.4 211.8 110.0 212.0 109.6 212.4 109.0 212.8 108.5 213.1 108.0 213.5 107.6 213.8 107.2 214.2 106.8 214.6 106.4 215.0 106.0 215.4 105.6 215.8 105.2 216.3 104.8 216.8 104.4 217.2 104.1 217.6 103.8 218.0 103.5 218.4 103.2 219.0 102.8 219.6 102.4 220.0 102.2 220.4 101.9 220.9 101.6 221.5 101.2 222.0 100.9 222.4 100.7 222.8 100.4 223.4 100.0 223.9 99.6 224.4 99.3 224.8 98.9 225.2 98.6 225.6 98.3 226.0 97.9 226.4 97.6 226.9 97.2 227.3 96.8 227.8 96.4 228.2 96.0 228.7 95.6 229.2 95.2 229.6 94.8 230.0 94.5 230.4 94.2 230.8 93.9 231.2 93.6 231.8 93.2 232.4 92.8 232.8 92.6 233.2 92.3 233.7 92.0 234.4 91.6 234.8 91.4 235.2 91.2 235.9 90.8 236.4 90.6 236.8 90.4 237.5 90.0 238.0 89.7 238.4 89.5 238.9 89.2 239.5 88.8 240.0 88.5 240.4 88.2 240.8 87.9 241.2 87.5 241.6 87.2 242.0 86.8 242.4 86.4 242.9 86.0 243.3 85.6 243.7 85.2 244.2 84.8 244.6 84.4 245.1 84.0 245.6 83.6 246.0 83.3 246.4 83.0 246.8 82.8 247.4 82.4 248.0 82.0 248.4 81.8 248.8 81.6 249.6 81.3 250.0 81.1 250.8 80.8 251.2 80.7 252.0 80.6 252.8 80.5 253.6 80.5 254.4 80.6 255.2 80.8 255.6 81.0 256.0 81.2 256.5 81.6 256.9 82.0 257.2 82.4 257.6 83.1 257.8 83.6 258.0 84.4 258.0 84.8 258.0 85.6 258.0 86.0 257.9 86.8 257.7 87.6 257.6 88.0 257.3 88.8 257.1 89.2 256.8 89.8 256.5 90.4 256.3 90.8 256.0 91.3 255.6 91.9 255.3 92.4 255.0 92.8 254.7 93.2 254.4 93.7 254.0 94.4 253.8 94.8 253.6 95.4 253.4 96.0 253.2 96.7 253.1 97.2 252.8 97.9 252.5 98.4 252.3 98.8 252.0 99.2 251.6 99.6 251.1 100.0 250.5 100.4 250.0 100.6 249.2 100.8 248.8 100.9 248.0 100.9 247.2 100.9 246.4 100.9 245.6 100.9 244.8 101.1 244.4 101.2 243.7 101.6 243.2 101.9 242.8 102.2 242.4 102.6 242.0 102.9 241.6 103.2 241.1 103.6 240.6 104.0 240.1 104.4 239.6 104.8 239.2 105.1 238.8 105.4 238.4 105.7 238.0 106.0 237.4 106.4 236.8 106.8 236.4 107.0 236.0 107.3 235.5 107.6 234.9 108.0 234.4 108.3 234.0 108.6 233.6 108.8 233.0 109.2 232.5 109.6 232.0 109.9 231.6 110.3 231.2 110.6 230.8 110.9 230.4 111.2 230.0 111.6 229.5 112.0 229.1 112.4 228.6 112.8 228.2 113.2 227.7 113.6 227.3 114.0 226.8 114.4 226.4 114.7 226.0 115.0 225.6 115.3 225.2 115.6 224.6 116.0 224.0 116.4 223.6 116.7 223.2 116.9 222.7 117.2 222.0 117.5 221.6 117.7 221.0 118.0 220.4 118.2 220.0 118.4 219.2 118.7 218.7 118.8 218.0 119.0 217.2 119.1 216.4 119.2 216.0 119.2Z" fill="none" stroke="#fff" stroke-width="1.3"/>
<path d="M218.0 117.6 217.2 117.7 216.4 117.8 215.6 117.7 215.1 117.6 214.4 117.4 214.0 117.2 213.4 116.8 212.9 116.4 212.6 116.0 212.4 115.6 212.1 114.8 212.1 114.0 212.1 113.2 212.2 112.4 212.4 111.9 212.6 111.2 212.8 110.8 213.2 110.1 213.5 109.6 213.7 109.2 214.0 108.8 214.4 108.3 214.8 107.8 215.2 107.4 215.6 106.9 216.0 106.5 216.4 106.2 216.8 105.8 217.2 105.5 217.6 105.1 218.1 104.8 218.6 104.4 219.2 104.0 219.6 103.7 220.0 103.5 220.4 103.2 221.1 102.8 221.6 102.5 222.0 102.3 222.5 102.0 223.1 101.6 223.6 101.3 224.0 101.0 224.4 100.8 224.9 100.4 225.4 100.0 225.9 99.6 226.4 99.2 226.8 98.9 227.2 98.5 227.6 98.1 228.0 97.8 228.4 97.4 228.8 97.1 229.2 96.7 229.6 96.4 230.0 96.0 230.5 95.6 231.0 95.2 231.6 94.8 232.0 94.5 232.4 94.2 232.8 93.9 233.4 93.6 234.0 93.2 234.4 93.0 234.8 92.8 235.5 92.4 236.0 92.1 236.4 91.9 237.1 91.6 237.6 91.4 238.0 91.2 238.7 90.8 239.2 90.5 239.6 90.3 240.0 90.0 240.6 89.6 241.1 89.2 241.6 88.8 242.0 88.4 242.4 88.0 242.8 87.6 243.2 87.2 243.6 86.8 244.0 86.5 244.4 86.1 244.8 85.7 245.2 85.4 245.6 85.0 246.0 84.7 246.4 84.4 247.0 84.0 247.6 83.6 248.0 83.4 248.4 83.1 249.1 82.8 249.6 82.6 250.1 82.4 250.8 82.2 251.6 82.1 252.2 82.0 252.8 82.0 253.2 82.0 254.0 82.2 254.5 82.4 255.1 82.8 255.6 83.2 255.9 83.6 256.1 84.0 256.4 84.8 256.5 85.2 256.5 86.0 256.5 86.8 256.4 87.2 256.2 88.0 256.0 88.6 255.8 89.2 255.6 89.6 255.2 90.4 255.0 90.8 254.7 91.2 254.4 91.7 254.0 92.3 253.7 92.8 253.4 93.2 253.2 93.6 252.8 94.3 252.6 94.8 252.4 95.4 252.2 96.0 252.0 96.7 251.8 97.2 251.6 97.7 251.2 98.3 250.8 98.7 250.4 99.1 250.0 99.3 249.2 99.6 248.8 99.7 248.0 99.7 247.2 99.7 246.4 99.6 246.0 99.6 245.4 99.6 244.8 99.7 244.0 100.0 243.6 100.2 243.2 100.4 242.6 100.8 242.1 101.2 241.6 101.6 241.2 102.0 240.8 102.3 240.4 102.7 240.0 103.0 239.6 103.3 239.2 103.6 238.7 104.0 238.2 104.4 237.6 104.8 237.2 105.1 236.8 105.4 236.4 105.6 235.8 106.0 235.2 106.4 234.8 106.7 234.4 106.9 233.9 107.2 233.3 107.6 232.8 107.9 232.4 108.2 232.0 108.4 231.5 108.8 231.0 109.2 230.5 109.6 230.0 110.0 229.6 110.4 229.2 110.7 228.8 111.1 228.4 111.5 228.0 111.9 227.6 112.2 227.2 112.6 226.8 112.9 226.4 113.3 226.0 113.6 225.5 114.0 225.0 114.4 224.5 114.8 224.0 115.1 223.6 115.4 223.2 115.6 222.5 116.0 222.0 116.3 221.6 116.5 220.9 116.8 220.4 117.0 219.8 117.2 219.2 117.4 218.4 117.6 218.0 117.6Z" fill="none" stroke="#555" stroke-width="0.55"/>
<path d="M219.2 116.4 218.4 116.6 217.6 116.7 216.8 116.7 216.0 116.6 215.3 116.4 214.8 116.1 214.4 115.9 214.0 115.5 213.6 114.9 213.4 114.4 213.3 113.6 213.3 112.8 213.5 112.0 213.6 111.5 213.9 110.8 214.1 110.4 214.4 109.8 214.8 109.2 215.1 108.8 215.4 108.4 215.7 108.0 216.1 107.6 216.5 107.2 216.9 106.8 217.3 106.4 217.8 106.0 218.3 105.6 218.8 105.2 219.2 104.9 219.6 104.7 220.0 104.4 220.7 104.0 221.2 103.7 221.6 103.5 222.1 103.2 222.8 102.8 223.2 102.6 223.6 102.3 224.2 102.0 224.8 101.6 225.2 101.3 225.6 101.0 226.0 100.7 226.4 100.4 226.9 100.0 227.3 99.6 227.8 99.2 228.2 98.8 228.6 98.4 229.1 98.0 229.5 97.6 229.9 97.2 230.4 96.8 230.8 96.5 231.2 96.1 231.6 95.8 232.0 95.5 232.5 95.2 233.1 94.8 233.6 94.5 234.0 94.2 234.4 94.0 235.1 93.6 235.6 93.4 236.0 93.2 236.8 92.8 237.2 92.6 237.6 92.4 238.4 92.1 238.8 91.9 239.3 91.6 240.0 91.2 240.4 90.9 240.8 90.7 241.2 90.3 241.6 90.0 242.0 89.6 242.4 89.2 242.8 88.8 243.2 88.4 243.6 88.0 244.0 87.6 244.4 87.2 244.8 86.8 245.2 86.4 245.7 86.0 246.2 85.6 246.7 85.2 247.2 84.8 247.6 84.6 248.0 84.3 248.6 84.0 249.2 83.7 249.6 83.6 250.4 83.3 250.9 83.2 251.6 83.1 252.4 83.1 253.0 83.2 253.6 83.4 254.0 83.6 254.5 84.0 254.8 84.4 255.2 85.2 255.3 85.6 255.4 86.4 255.4 87.2 255.2 88.0 255.1 88.4 254.8 89.2 254.6 89.6 254.4 90.1 254.0 90.8 253.7 91.2 253.5 91.6 253.2 92.0 252.8 92.6 252.4 93.2 252.2 93.6 252.0 94.0 251.7 94.8 251.5 95.2 251.3 96.0 251.1 96.4 250.8 97.2 250.5 97.6 250.1 98.0 249.6 98.4 249.2 98.6 248.4 98.7 247.6 98.7 246.8 98.7 246.0 98.6 245.2 98.6 244.4 98.7 244.0 98.8 243.2 99.2 242.8 99.5 242.4 99.8 242.0 100.1 241.6 100.4 241.2 100.8 240.7 101.2 240.3 101.6 239.8 102.0 239.4 102.4 238.9 102.8 238.4 103.2 238.0 103.5 237.6 103.8 237.2 104.1 236.7 104.4 236.1 104.8 235.6 105.1 235.2 105.4 234.8 105.6 234.2 106.0 233.6 106.3 233.2 106.6 232.8 106.8 232.2 107.2 231.6 107.6 231.2 107.9 230.8 108.2 230.4 108.5 230.0 108.8 229.6 109.2 229.1 109.6 228.7 110.0 228.3 110.4 227.9 110.8 227.5 111.2 227.1 111.6 226.7 112.0 226.2 112.4 225.8 112.8 225.3 113.2 224.8 113.6 224.4 113.9 224.0 114.2 223.6 114.4 223.0 114.8 222.4 115.2 222.0 115.4 221.5 115.6 220.8 115.9 220.4 116.1 219.6 116.3 219.2 116.4Z" fill="none" stroke="#777" stroke-width="0.55"/>
<path d="M219.2 115.6 218.4 115.8 217.6 115.8 216.8 115.7 216.2 115.6 215.6 115.3 215.2 115.0 214.8 114.6 214.5 114.0 214.4 113.6 214.3 112.8 214.4 112.0 214.5 111.6 214.8 110.8 215.0 110.4 215.2 110.0 215.6 109.3 216.0 108.8 216.3 108.4 216.6 108.0 217.0 107.6 217.4 107.2 217.9 106.8 218.3 106.4 218.8 106.0 219.2 105.7 219.6 105.5 220.0 105.2 220.7 104.8 221.2 104.5 221.6 104.3 222.1 104.0 222.8 103.6 223.2 103.4 223.6 103.2 224.3 102.8 224.8 102.5 225.2 102.3 225.6 102.0 226.2 101.6 226.7 101.2 227.2 100.8 227.6 100.4 228.0 100.1 228.4 99.7 228.8 99.3 229.2 98.9 229.6 98.5 230.0 98.1 230.4 97.8 230.8 97.4 231.2 97.1 231.6 96.7 232.0 96.4 232.6 96.0 233.2 95.6 233.6 95.3 234.0 95.1 234.5 94.8 235.2 94.4 235.6 94.2 236.0 94.0 236.8 93.7 237.2 93.5 237.9 93.2 238.4 93.0 238.9 92.8 239.6 92.5 240.0 92.2 240.4 92.0 241.0 91.6 241.5 91.2 241.9 90.8 242.4 90.4 242.7 90.0 243.1 89.6 243.5 89.2 243.8 88.8 244.2 88.4 244.6 88.0 245.0 87.6 245.4 87.2 245.8 86.8 246.3 86.4 246.7 86.0 247.2 85.7 247.6 85.4 248.0 85.1 248.6 84.8 249.2 84.5 249.6 84.4 250.4 84.2 251.2 84.0 252.0 84.1 252.8 84.2 253.2 84.4 253.7 84.8 254.0 85.2 254.4 86.0 254.4 86.4 254.5 87.2 254.4 87.7 254.3 88.4 254.0 89.2 253.8 89.6 253.6 90.0 253.2 90.7 252.9 91.2 252.6 91.6 252.4 92.0 252.0 92.6 251.6 93.2 251.4 93.6 251.2 94.0 250.8 94.8 250.7 95.2 250.4 95.9 250.2 96.4 249.9 96.8 249.6 97.2 248.9 97.6 248.4 97.8 247.6 97.8 246.8 97.7 246.0 97.6 245.2 97.6 244.4 97.7 243.6 97.9 243.2 98.1 242.8 98.4 242.2 98.8 241.8 99.2 241.3 99.6 240.9 100.0 240.5 100.4 240.0 100.8 239.6 101.2 239.2 101.6 238.8 101.9 238.4 102.3 238.0 102.6 237.6 102.9 237.2 103.2 236.6 103.6 236.0 104.0 235.6 104.3 235.2 104.5 234.7 104.8 234.0 105.2 233.6 105.4 233.2 105.7 232.6 106.0 232.0 106.4 231.6 106.6 231.2 106.9 230.7 107.2 230.2 107.6 229.7 108.0 229.3 108.4 228.9 108.8 228.5 109.2 228.1 109.6 227.7 110.0 227.3 110.4 226.9 110.8 226.5 111.2 226.1 111.6 225.7 112.0 225.2 112.4 224.8 112.7 224.4 113.1 224.0 113.4 223.6 113.6 223.0 114.0 222.4 114.4 222.0 114.6 221.6 114.8 220.8 115.2 220.4 115.3 219.6 115.6 219.2 115.6Z" fill="none" stroke="#333" stroke-width="0.55"/>
<path d="M219.6 114.8 218.8 115.0 218.0 115.0 217.2 114.9 216.8 114.8 216.1 114.4 215.7 114.0 215.4 113.6 215.2 112.8 215.2 112.0 215.4 111.2 215.6 110.8 216.0 110.0 216.2 109.6 216.5 109.2 216.8 108.8 217.2 108.3 217.6 107.9 218.0 107.5 218.4 107.1 218.8 106.8 219.3 106.4 219.9 106.0 220.4 105.7 220.8 105.4 221.2 105.2 221.9 104.8 222.4 104.6 222.8 104.4 223.5 104.0 224.0 103.8 224.4 103.6 225.1 103.2 225.6 102.9 226.0 102.7 226.4 102.4 227.0 102.0 227.5 101.6 227.9 101.2 228.3 100.8 228.7 100.4 229.1 100.0 229.5 99.6 229.9 99.2 230.3 98.8 230.7 98.4 231.2 98.0 231.6 97.6 232.0 97.3 232.4 97.0 232.8 96.7 233.2 96.4 233.8 96.0 234.4 95.6 234.8 95.4 235.2 95.2 236.0 94.8 236.4 94.6 237.0 94.4 237.6 94.2 238.1 94.0 238.8 93.8 239.2 93.6 240.0 93.3 240.4 93.1 240.9 92.8 241.5 92.4 241.9 92.0 242.3 91.6 242.7 91.2 243.0 90.8 243.4 90.4 243.7 90.0 244.0 89.6 244.4 89.2 244.8 88.7 245.2 88.3 245.6 87.8 246.0 87.4 246.4 87.1 246.8 86.8 247.3 86.4 247.8 86.0 248.4 85.7 248.8 85.5 249.5 85.2 250.0 85.0 250.8 84.9 251.6 84.9 252.4 85.2 252.8 85.4 253.2 85.9 253.5 86.4 253.6 87.2 253.6 87.6 253.6 88.0 253.4 88.8 253.2 89.3 252.9 90.0 252.6 90.4 252.4 90.8 252.0 91.4 251.6 92.0 251.3 92.4 251.1 92.8 250.8 93.2 250.4 93.9 250.1 94.4 249.9 94.8 249.6 95.5 249.2 96.0 248.8 96.4 248.4 96.6 247.6 96.8 246.8 96.8 246.0 96.7 245.2 96.6 244.4 96.7 243.9 96.8 243.2 97.0 242.8 97.3 242.3 97.6 241.8 98.0 241.4 98.4 241.0 98.8 240.6 99.2 240.2 99.6 239.8 100.0 239.4 100.4 239.0 100.8 238.6 101.2 238.1 101.6 237.7 102.0 237.2 102.4 236.8 102.7 236.4 102.9 236.0 103.2 235.4 103.6 234.8 104.0 234.4 104.2 234.0 104.4 233.3 104.8 232.8 105.0 232.4 105.3 231.8 105.6 231.2 105.9 230.8 106.2 230.4 106.5 230.0 106.8 229.5 107.2 229.0 107.6 228.6 108.0 228.2 108.4 227.9 108.8 227.5 109.2 227.1 109.6 226.8 110.0 226.4 110.4 226.0 110.8 225.6 111.2 225.2 111.6 224.8 112.0 224.3 112.4 223.8 112.8 223.2 113.2 222.8 113.5 222.4 113.7 221.8 114.0 221.2 114.3 220.8 114.5 220.0 114.7 219.6 114.8Z" fill="none" stroke="#666" stroke-width="0.55"/>
<path d="M220.0 114.1 219.2 114.2 218.4 114.3 217.6 114.1 217.2 114.0 216.7 113.6 216.4 113.2 216.1 112.4 216.1 111.6 216.4 110.8 216.5 110.4 216.8 109.9 217.2 109.3 217.6 108.8 217.9 108.4 218.3 108.0 218.7 107.6 219.2 107.2 219.6 106.9 220.0 106.6 220.4 106.3 221.0 106.0 221.6 105.6 222.0 105.4 222.5 105.2 223.2 104.9 223.6 104.7 224.4 104.4 224.8 104.2 225.3 104.0 226.0 103.7 226.4 103.5 226.8 103.2 227.4 102.8 227.9 102.4 228.3 102.0 228.7 101.6 229.1 101.2 229.4 100.8 229.8 100.4 230.2 100.0 230.5 99.6 230.9 99.2 231.3 98.8 231.7 98.4 232.2 98.0 232.7 97.6 233.2 97.2 233.6 96.9 234.0 96.7 234.4 96.4 235.2 96.0 235.6 95.8 236.0 95.6 236.8 95.3 237.2 95.2 238.0 94.9 238.6 94.8 239.2 94.7 240.0 94.5 240.4 94.4 241.2 94.1 241.6 93.8 242.0 93.5 242.4 93.1 242.8 92.6 243.2 92.0 243.5 91.6 243.7 91.2 244.0 90.8 244.4 90.3 244.8 89.7 245.2 89.2 245.5 88.8 245.9 88.4 246.3 88.0 246.7 87.6 247.2 87.2 247.6 86.9 248.0 86.6 248.4 86.4 249.2 86.0 249.6 85.9 250.4 85.7 251.2 85.8 251.8 86.0 252.3 86.4 252.6 86.8 252.8 87.6 252.7 88.4 252.5 89.2 252.3 89.6 252.0 90.2 251.7 90.8 251.4 91.2 251.1 91.6 250.8 92.0 250.4 92.6 250.0 93.2 249.7 93.6 249.4 94.0 249.1 94.4 248.8 94.8 248.4 95.2 247.6 95.6 247.2 95.7 246.4 95.7 245.6 95.6 245.2 95.6 244.4 95.5 243.6 95.6 243.2 95.7 242.4 96.0 242.0 96.3 241.6 96.7 241.2 97.1 240.8 97.6 240.5 98.0 240.2 98.4 239.9 98.8 239.5 99.2 239.2 99.6 238.8 100.0 238.4 100.4 238.0 100.8 237.6 101.2 237.1 101.6 236.6 102.0 236.0 102.4 235.6 102.7 235.2 102.9 234.7 103.2 234.0 103.6 233.6 103.8 233.2 104.0 232.4 104.4 232.0 104.6 231.5 104.8 230.8 105.2 230.4 105.4 230.0 105.7 229.5 106.0 229.1 106.4 228.6 106.8 228.3 107.2 227.9 107.6 227.6 108.0 227.2 108.5 226.8 109.0 226.4 109.5 226.0 109.9 225.6 110.4 225.2 110.8 224.8 111.2 224.4 111.6 224.0 111.9 223.6 112.2 223.2 112.5 222.8 112.8 222.1 113.2 221.6 113.5 221.2 113.6 220.4 113.9 220.0 114.1Z" fill="none" stroke="#444" stroke-width="0.55"/>
<path d="M246.8 94.4 246.0 94.4 245.6 94.3 244.8 94.0 244.4 93.7 244.2 93.2 244.3 92.4 244.4 92.0 244.8 91.2 245.0 90.8 245.2 90.4 245.6 89.8 246.0 89.3 246.4 88.8 246.8 88.4 247.2 88.0 247.6 87.7 248.0 87.4 248.4 87.2 249.2 86.8 249.6 86.7 250.4 86.6 251.0 86.8 251.6 87.2 251.8 87.6 251.8 88.4 251.7 89.2 251.5 89.6 251.2 90.3 250.9 90.8 250.6 91.2 250.3 91.6 250.0 92.0 249.6 92.5 249.2 92.9 248.8 93.4 248.4 93.7 248.0 94.0 247.2 94.4 246.8 94.4ZM220.4 113.3 219.6 113.4 218.8 113.5 218.0 113.3 217.6 113.0 217.2 112.6 217.0 112.0 217.0 111.2 217.2 110.7 217.5 110.0 217.7 109.6 218.0 109.2 218.4 108.7 218.8 108.3 219.2 107.9 219.6 107.6 220.1 107.2 220.8 106.8 221.2 106.5 221.6 106.3 222.3 106.0 222.8 105.8 223.3 105.6 224.0 105.4 224.5 105.2 225.2 105.0 226.0 104.8 226.4 104.7 227.2 104.6 227.8 104.4 228.4 104.2 228.8 103.7 229.1 103.2 229.3 102.8 229.6 102.3 230.0 101.7 230.3 101.2 230.6 100.8 230.9 100.4 231.2 100.0 231.6 99.6 232.0 99.2 232.4 98.8 232.8 98.4 233.3 98.0 233.9 97.6 234.4 97.3 234.8 97.0 235.2 96.8 236.0 96.5 236.4 96.3 237.2 96.1 238.0 96.0 238.8 96.1 239.4 96.4 239.5 97.2 239.2 98.0 239.0 98.4 238.7 98.8 238.4 99.3 238.0 99.7 237.6 100.2 237.2 100.6 236.8 100.9 236.4 101.2 235.9 101.6 235.3 102.0 234.8 102.3 234.4 102.5 233.9 102.8 233.2 103.1 232.8 103.3 232.0 103.5 231.6 103.7 230.8 103.9 230.4 104.0 229.6 104.2 229.0 104.4 228.5 104.8 228.2 105.2 228.0 105.6 227.6 106.2 227.3 106.8 227.1 107.2 226.8 107.6 226.4 108.3 226.0 108.8 225.7 109.2 225.4 109.6 225.1 110.0 224.7 110.4 224.4 110.8 223.9 111.2 223.5 111.6 222.9 112.0 222.4 112.4 222.0 112.6 221.6 112.8 220.8 113.1 220.4 113.3Z" fill="none" stroke="#222" stroke-width="0.55"/>
<path d="M248.0 92.2 247.2 92.4 246.4 92.0 246.3 91.6 246.4 91.0 246.6 90.4 246.8 90.0 247.2 89.5 247.6 89.1 248.0 88.7 248.5 88.4 249.2 88.2 250.0 88.3 250.4 88.8 250.2 89.6 250.0 90.1 249.6 90.8 249.2 91.2 248.8 91.6 248.4 91.9 248.0 92.2ZM233.6 101.2 233.2 101.2 233.0 100.4 233.2 100.0 233.6 99.5 234.0 99.1 234.4 98.8 235.1 98.4 235.6 98.2 236.4 98.3 236.6 98.8 236.4 99.3 236.0 99.8 235.6 100.2 235.2 100.5 234.8 100.8 234.0 101.1 233.6 101.2ZM221.2 112.0 220.4 112.3 219.6 112.4 218.8 112.1 218.4 111.6 218.3 111.2 218.4 110.5 218.6 110.0 218.9 109.6 219.2 109.1 219.6 108.7 220.0 108.3 220.4 108.0 221.0 107.6 221.6 107.3 222.0 107.1 222.8 106.8 223.2 106.7 224.0 106.6 224.8 106.8 225.1 107.2 225.1 108.0 224.8 108.7 224.5 109.2 224.2 109.6 223.9 110.0 223.6 110.4 223.1 110.8 222.6 111.2 222.0 111.6 221.6 111.8 221.2 112.0Z" fill="none" stroke="#555" stroke-width="0.55"/>
</g>
<polyline points="195.6,154 186,119 241.6,53.6" fill="none" stroke="#222" stroke-width="0.8" stroke-linejoin="round"/>
<line x1="242.1" y1="53.8" x2="264.1" y2="53.8" stroke="#b0b0b0" stroke-width="1.6"/>
<polyline points="264.1,114 249.2,132.4 227.6,154" fill="none" stroke="#222" stroke-width="0.8" stroke-linejoin="round"/>
<line x1="227" y1="72" x2="249.2" y2="132.4" stroke="#222" stroke-width="0.8"/>
<text x="262.8" y="67.9" font-size="13.5" text-anchor="end" fill="#000">39.8</text>
<line x1="30.5" y1="121" x2="30.5" y2="64" stroke="#000" stroke-width="1.5"/>
<polygon points="27,65 30.5,58 34,65" fill="#000"/>
<text x="34.6" y="139.8" font-size="10.2" text-anchor="middle" fill="#000" transform="rotate(-90 34.6 139.8)">CD86</text>
<text x="50.5" y="174.6" font-size="10.2" text-anchor="start" fill="#000">MHCII</text>
<line x1="83.3" y1="172" x2="258.5" y2="172" stroke="#000" stroke-width="1.5"/>
<polygon points="257.5,168.5 264.5,172 257.5,175.5" fill="#000"/>
<line x1="311" y1="27.7" x2="311" y2="147.9" stroke="#000" stroke-width="2"/>
<line x1="307" y1="146.9" x2="311" y2="146.9" stroke="#000" stroke-width="1.3"/>
<text x="305.5" y="149.91" font-size="8.6" text-anchor="end" fill="#222">0</text>
<line x1="307" y1="123.26" x2="311" y2="123.26" stroke="#000" stroke-width="1.3"/>
<text x="305.5" y="126.27" font-size="8.6" text-anchor="end" fill="#222">10</text>
<line x1="307" y1="99.62" x2="311" y2="99.62" stroke="#000" stroke-width="1.3"/>
<text x="305.5" y="102.63" font-size="8.6" text-anchor="end" fill="#222">20</text>
<line x1="307" y1="75.98" x2="311" y2="75.98" stroke="#000" stroke-width="1.3"/>
<text x="305.5" y="78.99" font-size="8.6" text-anchor="end" fill="#222">30</text>
<line x1="307" y1="52.34" x2="311" y2="52.34" stroke="#000" stroke-width="1.3"/>
<text x="305.5" y="55.35" font-size="8.6" text-anchor="end" fill="#222">40</text>
<line x1="307" y1="28.7" x2="311" y2="28.7" stroke="#000" stroke-width="1.3"/>
<text x="305.5" y="31.71" font-size="8.6" text-anchor="end" fill="#222">50</text>
<line x1="310" y1="146.9" x2="390" y2="146.9" stroke="#000" stroke-width="2"/>
<rect x="315.2" y="46" width="31.6" height="100.9" fill="#fff" stroke="#000" stroke-width="2"/>
<rect x="354.3" y="53.9" width="32.5" height="93" fill="#fff" stroke="#000" stroke-width="2"/>
<line x1="330.5" y1="45.7" x2="330.5" y2="40.2" stroke="#000" stroke-width="1.3"/>
<line x1="323.3" y1="40.2" x2="339.3" y2="40.2" stroke="#000" stroke-width="1.5"/>
<line x1="370.5" y1="53.9" x2="370.5" y2="51.6" stroke="#000" stroke-width="1.3"/>
<line x1="362.6" y1="51.6" x2="377.9" y2="51.6" stroke="#000" stroke-width="1.5"/>
<line x1="330.9" y1="146.9" x2="330.9" y2="151.4" stroke="#000" stroke-width="1.5"/>
<line x1="370.3" y1="146.9" x2="370.3" y2="151.4" stroke="#000" stroke-width="1.5"/>
<text x="330.5" y="170.8" font-size="13.5" text-anchor="middle" fill="#000">Sirpα<tspan baseline-shift="40%" font-size="70%">+</tspan></text>
<text x="330.5" y="185.5" font-size="13.5" text-anchor="middle" fill="#000">tDC</text>
<text x="369" y="170.8" font-size="13.5" text-anchor="middle" fill="#000">CD8<tspan baseline-shift="40%" font-size="70%">+</tspan></text>
<text x="370.3" y="185.5" font-size="13.5" text-anchor="middle" fill="#000">tDC</text>
<text x="291.2" y="78.4" font-size="13.5" text-anchor="middle" fill="#000" transform="rotate(-90 291.2 78.4)">Mature DC (%)</text>
<text x="428.5" y="20.8" font-size="19.5" text-anchor="start" fill="#000">B</text>
<text x="510.5" y="42" font-size="13.5" text-anchor="middle" fill="#000">Sirpα<tspan baseline-shift="40%" font-size="70%">+</tspan> sDC</text>
<text x="619.6" y="41.5" font-size="13.5" text-anchor="middle" fill="#000">CD8<tspan baseline-shift="40%" font-size="70%">+</tspan> sDC</text>
<rect x="453.4" y="50.3" width="103" height="102.6" fill="none" stroke="#8c8c8c" stroke-width="0.9"/>
<line x1="453" y1="152.9" x2="556.8" y2="152.9" stroke="#333" stroke-width="1"/>
<path d="M451.8 59.7h2.2 M451.8 83.3h2.2 M451.8 106.2h2.2 M451.8 130.7h2.2 M451.8 142.3h2.2 M452.8 76.22h1.2 M452.8 71.97h1.2 M452.8 69.14h1.2 M452.8 66.78h1.2 M452.8 65.13h1.2 M452.8 63.71h1.2 M452.8 62.53h1.2 M452.8 61.59h1.2 M452.8 60.64h1.2 M452.8 99.33h1.2 M452.8 95.21h1.2 M452.8 92.46h1.2 M452.8 90.17h1.2 M452.8 88.57h1.2 M452.8 87.19h1.2 M452.8 86.05h1.2 M452.8 85.13h1.2 M452.8 84.22h1.2 M452.8 123.35h1.2 M452.8 118.94h1.2 M452.8 116h1.2 M452.8 113.55h1.2 M452.8 111.83h1.2 M452.8 110.36h1.2 M452.8 109.14h1.2 M452.8 108.16h1.2 M452.8 107.18h1.2 M474 152.3v2.2 M499.4 152.3v2.2 M522.8 152.3v2.2 M546.4 152.3v2.2 M463.9 152.3v2.2 M481.62 152.3v1.2 M486.19 152.3v1.2 M489.24 152.3v1.2 M491.78 152.3v1.2 M493.56 152.3v1.2 M495.08 152.3v1.2 M496.35 152.3v1.2 M497.37 152.3v1.2 M498.38 152.3v1.2 M506.42 152.3v1.2 M510.63 152.3v1.2 M513.44 152.3v1.2 M515.78 152.3v1.2 M517.42 152.3v1.2 M518.82 152.3v1.2 M519.99 152.3v1.2 M520.93 152.3v1.2 M521.86 152.3v1.2 M529.88 152.3v1.2 M534.13 152.3v1.2 M536.96 152.3v1.2 M539.32 152.3v1.2 M540.97 152.3v1.2 M542.39 152.3v1.2 M543.57 152.3v1.2 M544.51 152.3v1.2 M545.46 152.3v1.2" stroke="#333" stroke-width="0.7" fill="none"/>
<text x="449.4" y="61.2" font-size="5" text-anchor="end" fill="#444">10<tspan dy="-1.4" font-size="3.5">5</tspan></text>
<text x="449.4" y="84.8" font-size="5" text-anchor="end" fill="#444">10<tspan dy="-1.4" font-size="3.5">4</tspan></text>
<text x="449.4" y="107.7" font-size="5" text-anchor="end" fill="#444">10<tspan dy="-1.4" font-size="3.5">3</tspan></text>
<text x="449.4" y="132.2" font-size="5" text-anchor="end" fill="#444">10<tspan dy="-1.4" font-size="3.5">2</tspan></text>
<text x="449.4" y="143.8" font-size="5" text-anchor="end" fill="#444">0</text>
<text x="474" y="162.61" font-size="5" text-anchor="middle" fill="#333">10<tspan dy="-1.4" font-size="3.5">2</tspan></text>
<text x="499.4" y="162.61" font-size="5" text-anchor="middle" fill="#333">10<tspan dy="-1.4" font-size="3.5">3</tspan></text>
<text x="522.8" y="162.61" font-size="5" text-anchor="middle" fill="#333">10<tspan dy="-1.4" font-size="3.5">4</tspan></text>
<text x="546.4" y="162.61" font-size="5" text-anchor="middle" fill="#333">10<tspan dy="-1.4" font-size="3.5">5</tspan></text>
<text x="463.9" y="162.61" font-size="5" text-anchor="middle" fill="#333">0</text>
<clipPath id="c118"><rect x="453.9" y="50.8" width="102" height="101.6"/></clipPath><g clip-path="url(#c118)">
<path d="M513.4 134.8 512.6 134.9 511.8 135.0 511.0 135.0 510.2 134.9 509.4 134.7 509.0 134.6 508.2 134.4 507.8 134.2 507.2 133.9 506.6 133.5 506.2 133.2 505.8 132.9 505.4 132.6 505.0 132.2 504.6 131.7 504.2 131.2 503.9 130.7 503.7 130.3 503.4 129.8 503.1 129.1 503.0 128.7 502.7 127.9 502.6 127.4 502.5 126.7 502.3 125.9 502.3 125.1 502.3 124.3 502.3 123.5 502.3 122.7 502.4 121.9 502.5 121.1 502.6 120.6 502.7 119.9 502.9 119.1 503.0 118.7 503.2 117.9 503.4 117.3 503.6 116.7 503.8 116.1 504.0 115.5 504.2 115.1 504.6 114.3 504.8 113.9 505.0 113.4 505.4 112.7 505.6 112.3 505.9 111.9 506.2 111.4 506.6 110.8 507.0 110.3 507.3 109.9 507.6 109.5 507.9 109.1 508.3 108.7 508.7 108.3 509.0 107.9 509.4 107.5 509.8 107.1 510.2 106.7 510.6 106.3 511.0 105.9 511.4 105.5 511.8 105.1 512.2 104.7 512.7 104.3 513.1 103.9 513.6 103.5 514.1 103.1 514.6 102.7 515.0 102.4 515.4 102.1 515.8 101.9 516.4 101.5 517.0 101.2 517.4 101.0 518.2 100.7 518.6 100.6 519.4 100.4 519.8 100.3 520.6 100.2 521.4 100.1 522.2 100.1 523.0 100.2 523.4 100.3 524.2 100.5 524.7 100.7 525.4 101.0 525.8 101.2 526.3 101.5 526.9 101.9 527.3 102.3 527.8 102.7 528.1 103.1 528.5 103.5 528.8 103.9 529.0 104.3 529.4 105.0 529.6 105.5 529.8 105.9 530.0 106.7 530.2 107.4 530.3 107.9 530.4 108.7 530.4 109.5 530.3 110.3 530.2 111.0 530.1 111.5 529.9 112.3 529.8 112.7 529.6 113.5 529.4 113.9 529.1 114.7 529.0 115.1 528.6 115.9 528.5 116.3 528.2 116.9 528.0 117.5 527.8 117.9 527.5 118.7 527.3 119.1 527.0 119.9 526.9 120.3 526.6 121.0 526.4 121.5 526.2 122.0 525.9 122.7 525.7 123.1 525.4 123.8 525.2 124.3 525.0 124.7 524.6 125.3 524.3 125.9 524.0 126.3 523.8 126.7 523.4 127.2 523.0 127.8 522.6 128.3 522.3 128.7 521.9 129.1 521.6 129.5 521.2 129.9 520.8 130.3 520.4 130.7 520.0 131.1 519.6 131.5 519.1 131.9 518.6 132.3 518.2 132.6 517.8 132.9 517.4 133.1 516.8 133.5 516.2 133.8 515.8 134.0 515.0 134.3 514.6 134.5 513.8 134.7 513.4 134.8Z" fill="none" stroke="#000" stroke-width="22" stroke-opacity="0.22" filter="url(#b3)"/>
<path d="M513.4 134.8 512.6 134.9 511.8 135.0 511.0 135.0 510.2 134.9 509.4 134.7 509.0 134.6 508.2 134.4 507.8 134.2 507.2 133.9 506.6 133.5 506.2 133.2 505.8 132.9 505.4 132.6 505.0 132.2 504.6 131.7 504.2 131.2 503.9 130.7 503.7 130.3 503.4 129.8 503.1 129.1 503.0 128.7 502.7 127.9 502.6 127.4 502.5 126.7 502.3 125.9 502.3 125.1 502.3 124.3 502.3 123.5 502.3 122.7 502.4 121.9 502.5 121.1 502.6 120.6 502.7 119.9 502.9 119.1 503.0 118.7 503.2 117.9 503.4 117.3 503.6 116.7 503.8 116.1 504.0 115.5 504.2 115.1 504.6 114.3 504.8 113.9 505.0 113.4 505.4 112.7 505.6 112.3 505.9 111.9 506.2 111.4 506.6 110.8 507.0 110.3 507.3 109.9 507.6 109.5 507.9 109.1 508.3 108.7 508.7 108.3 509.0 107.9 509.4 107.5 509.8 107.1 510.2 106.7 510.6 106.3 511.0 105.9 511.4 105.5 511.8 105.1 512.2 104.7 512.7 104.3 513.1 103.9 513.6 103.5 514.1 103.1 514.6 102.7 515.0 102.4 515.4 102.1 515.8 101.9 516.4 101.5 517.0 101.2 517.4 101.0 518.2 100.7 518.6 100.6 519.4 100.4 519.8 100.3 520.6 100.2 521.4 100.1 522.2 100.1 523.0 100.2 523.4 100.3 524.2 100.5 524.7 100.7 525.4 101.0 525.8 101.2 526.3 101.5 526.9 101.9 527.3 102.3 527.8 102.7 528.1 103.1 528.5 103.5 528.8 103.9 529.0 104.3 529.4 105.0 529.6 105.5 529.8 105.9 530.0 106.7 530.2 107.4 530.3 107.9 530.4 108.7 530.4 109.5 530.3 110.3 530.2 111.0 530.1 111.5 529.9 112.3 529.8 112.7 529.6 113.5 529.4 113.9 529.1 114.7 529.0 115.1 528.6 115.9 528.5 116.3 528.2 116.9 528.0 117.5 527.8 117.9 527.5 118.7 527.3 119.1 527.0 119.9 526.9 120.3 526.6 121.0 526.4 121.5 526.2 122.0 525.9 122.7 525.7 123.1 525.4 123.8 525.2 124.3 525.0 124.7 524.6 125.3 524.3 125.9 524.0 126.3 523.8 126.7 523.4 127.2 523.0 127.8 522.6 128.3 522.3 128.7 521.9 129.1 521.6 129.5 521.2 129.9 520.8 130.3 520.4 130.7 520.0 131.1 519.6 131.5 519.1 131.9 518.6 132.3 518.2 132.6 517.8 132.9 517.4 133.1 516.8 133.5 516.2 133.8 515.8 134.0 515.0 134.3 514.6 134.5 513.8 134.7 513.4 134.8Z" fill="none" stroke="url(#p4)" stroke-width="25" stroke-opacity="1" stroke-linejoin="round"/>
<path d="M513.4 134.8 512.6 134.9 511.8 135.0 511.0 135.0 510.2 134.9 509.4 134.7 509.0 134.6 508.2 134.4 507.8 134.2 507.2 133.9 506.6 133.5 506.2 133.2 505.8 132.9 505.4 132.6 505.0 132.2 504.6 131.7 504.2 131.2 503.9 130.7 503.7 130.3 503.4 129.8 503.1 129.1 503.0 128.7 502.7 127.9 502.6 127.4 502.5 126.7 502.3 125.9 502.3 125.1 502.3 124.3 502.3 123.5 502.3 122.7 502.4 121.9 502.5 121.1 502.6 120.6 502.7 119.9 502.9 119.1 503.0 118.7 503.2 117.9 503.4 117.3 503.6 116.7 503.8 116.1 504.0 115.5 504.2 115.1 504.6 114.3 504.8 113.9 505.0 113.4 505.4 112.7 505.6 112.3 505.9 111.9 506.2 111.4 506.6 110.8 507.0 110.3 507.3 109.9 507.6 109.5 507.9 109.1 508.3 108.7 508.7 108.3 509.0 107.9 509.4 107.5 509.8 107.1 510.2 106.7 510.6 106.3 511.0 105.9 511.4 105.5 511.8 105.1 512.2 104.7 512.7 104.3 513.1 103.9 513.6 103.5 514.1 103.1 514.6 102.7 515.0 102.4 515.4 102.1 515.8 101.9 516.4 101.5 517.0 101.2 517.4 101.0 518.2 100.7 518.6 100.6 519.4 100.4 519.8 100.3 520.6 100.2 521.4 100.1 522.2 100.1 523.0 100.2 523.4 100.3 524.2 100.5 524.7 100.7 525.4 101.0 525.8 101.2 526.3 101.5 526.9 101.9 527.3 102.3 527.8 102.7 528.1 103.1 528.5 103.5 528.8 103.9 529.0 104.3 529.4 105.0 529.6 105.5 529.8 105.9 530.0 106.7 530.2 107.4 530.3 107.9 530.4 108.7 530.4 109.5 530.3 110.3 530.2 111.0 530.1 111.5 529.9 112.3 529.8 112.7 529.6 113.5 529.4 113.9 529.1 114.7 529.0 115.1 528.6 115.9 528.5 116.3 528.2 116.9 528.0 117.5 527.8 117.9 527.5 118.7 527.3 119.1 527.0 119.9 526.9 120.3 526.6 121.0 526.4 121.5 526.2 122.0 525.9 122.7 525.7 123.1 525.4 123.8 525.2 124.3 525.0 124.7 524.6 125.3 524.3 125.9 524.0 126.3 523.8 126.7 523.4 127.2 523.0 127.8 522.6 128.3 522.3 128.7 521.9 129.1 521.6 129.5 521.2 129.9 520.8 130.3 520.4 130.7 520.0 131.1 519.6 131.5 519.1 131.9 518.6 132.3 518.2 132.6 517.8 132.9 517.4 133.1 516.8 133.5 516.2 133.8 515.8 134.0 515.0 134.3 514.6 134.5 513.8 134.7 513.4 134.8Z" fill="none" stroke="url(#p3)" stroke-width="19" stroke-opacity="1" stroke-linejoin="round"/>
<path d="M513.4 134.8 512.6 134.9 511.8 135.0 511.0 135.0 510.2 134.9 509.4 134.7 509.0 134.6 508.2 134.4 507.8 134.2 507.2 133.9 506.6 133.5 506.2 133.2 505.8 132.9 505.4 132.6 505.0 132.2 504.6 131.7 504.2 131.2 503.9 130.7 503.7 130.3 503.4 129.8 503.1 129.1 503.0 128.7 502.7 127.9 502.6 127.4 502.5 126.7 502.3 125.9 502.3 125.1 502.3 124.3 502.3 123.5 502.3 122.7 502.4 121.9 502.5 121.1 502.6 120.6 502.7 119.9 502.9 119.1 503.0 118.7 503.2 117.9 503.4 117.3 503.6 116.7 503.8 116.1 504.0 115.5 504.2 115.1 504.6 114.3 504.8 113.9 505.0 113.4 505.4 112.7 505.6 112.3 505.9 111.9 506.2 111.4 506.6 110.8 507.0 110.3 507.3 109.9 507.6 109.5 507.9 109.1 508.3 108.7 508.7 108.3 509.0 107.9 509.4 107.5 509.8 107.1 510.2 106.7 510.6 106.3 511.0 105.9 511.4 105.5 511.8 105.1 512.2 104.7 512.7 104.3 513.1 103.9 513.6 103.5 514.1 103.1 514.6 102.7 515.0 102.4 515.4 102.1 515.8 101.9 516.4 101.5 517.0 101.2 517.4 101.0 518.2 100.7 518.6 100.6 519.4 100.4 519.8 100.3 520.6 100.2 521.4 100.1 522.2 100.1 523.0 100.2 523.4 100.3 524.2 100.5 524.7 100.7 525.4 101.0 525.8 101.2 526.3 101.5 526.9 101.9 527.3 102.3 527.8 102.7 528.1 103.1 528.5 103.5 528.8 103.9 529.0 104.3 529.4 105.0 529.6 105.5 529.8 105.9 530.0 106.7 530.2 107.4 530.3 107.9 530.4 108.7 530.4 109.5 530.3 110.3 530.2 111.0 530.1 111.5 529.9 112.3 529.8 112.7 529.6 113.5 529.4 113.9 529.1 114.7 529.0 115.1 528.6 115.9 528.5 116.3 528.2 116.9 528.0 117.5 527.8 117.9 527.5 118.7 527.3 119.1 527.0 119.9 526.9 120.3 526.6 121.0 526.4 121.5 526.2 122.0 525.9 122.7 525.7 123.1 525.4 123.8 525.2 124.3 525.0 124.7 524.6 125.3 524.3 125.9 524.0 126.3 523.8 126.7 523.4 127.2 523.0 127.8 522.6 128.3 522.3 128.7 521.9 129.1 521.6 129.5 521.2 129.9 520.8 130.3 520.4 130.7 520.0 131.1 519.6 131.5 519.1 131.9 518.6 132.3 518.2 132.6 517.8 132.9 517.4 133.1 516.8 133.5 516.2 133.8 515.8 134.0 515.0 134.3 514.6 134.5 513.8 134.7 513.4 134.8Z" fill="none" stroke="url(#p2)" stroke-width="14" stroke-opacity="1" stroke-linejoin="round"/>
<path d="M513.4 134.8 512.6 134.9 511.8 135.0 511.0 135.0 510.2 134.9 509.4 134.7 509.0 134.6 508.2 134.4 507.8 134.2 507.2 133.9 506.6 133.5 506.2 133.2 505.8 132.9 505.4 132.6 505.0 132.2 504.6 131.7 504.2 131.2 503.9 130.7 503.7 130.3 503.4 129.8 503.1 129.1 503.0 128.7 502.7 127.9 502.6 127.4 502.5 126.7 502.3 125.9 502.3 125.1 502.3 124.3 502.3 123.5 502.3 122.7 502.4 121.9 502.5 121.1 502.6 120.6 502.7 119.9 502.9 119.1 503.0 118.7 503.2 117.9 503.4 117.3 503.6 116.7 503.8 116.1 504.0 115.5 504.2 115.1 504.6 114.3 504.8 113.9 505.0 113.4 505.4 112.7 505.6 112.3 505.9 111.9 506.2 111.4 506.6 110.8 507.0 110.3 507.3 109.9 507.6 109.5 507.9 109.1 508.3 108.7 508.7 108.3 509.0 107.9 509.4 107.5 509.8 107.1 510.2 106.7 510.6 106.3 511.0 105.9 511.4 105.5 511.8 105.1 512.2 104.7 512.7 104.3 513.1 103.9 513.6 103.5 514.1 103.1 514.6 102.7 515.0 102.4 515.4 102.1 515.8 101.9 516.4 101.5 517.0 101.2 517.4 101.0 518.2 100.7 518.6 100.6 519.4 100.4 519.8 100.3 520.6 100.2 521.4 100.1 522.2 100.1 523.0 100.2 523.4 100.3 524.2 100.5 524.7 100.7 525.4 101.0 525.8 101.2 526.3 101.5 526.9 101.9 527.3 102.3 527.8 102.7 528.1 103.1 528.5 103.5 528.8 103.9 529.0 104.3 529.4 105.0 529.6 105.5 529.8 105.9 530.0 106.7 530.2 107.4 530.3 107.9 530.4 108.7 530.4 109.5 530.3 110.3 530.2 111.0 530.1 111.5 529.9 112.3 529.8 112.7 529.6 113.5 529.4 113.9 529.1 114.7 529.0 115.1 528.6 115.9 528.5 116.3 528.2 116.9 528.0 117.5 527.8 117.9 527.5 118.7 527.3 119.1 527.0 119.9 526.9 120.3 526.6 121.0 526.4 121.5 526.2 122.0 525.9 122.7 525.7 123.1 525.4 123.8 525.2 124.3 525.0 124.7 524.6 125.3 524.3 125.9 524.0 126.3 523.8 126.7 523.4 127.2 523.0 127.8 522.6 128.3 522.3 128.7 521.9 129.1 521.6 129.5 521.2 129.9 520.8 130.3 520.4 130.7 520.0 131.1 519.6 131.5 519.1 131.9 518.6 132.3 518.2 132.6 517.8 132.9 517.4 133.1 516.8 133.5 516.2 133.8 515.8 134.0 515.0 134.3 514.6 134.5 513.8 134.7 513.4 134.8Z" fill="none" stroke="url(#p1)" stroke-width="9" stroke-opacity="1" stroke-linejoin="round"/>
<path d="M513.4 134.8 512.6 134.9 511.8 135.0 511.0 135.0 510.2 134.9 509.4 134.7 509.0 134.6 508.2 134.4 507.8 134.2 507.2 133.9 506.6 133.5 506.2 133.2 505.8 132.9 505.4 132.6 505.0 132.2 504.6 131.7 504.2 131.2 503.9 130.7 503.7 130.3 503.4 129.8 503.1 129.1 503.0 128.7 502.7 127.9 502.6 127.4 502.5 126.7 502.3 125.9 502.3 125.1 502.3 124.3 502.3 123.5 502.3 122.7 502.4 121.9 502.5 121.1 502.6 120.6 502.7 119.9 502.9 119.1 503.0 118.7 503.2 117.9 503.4 117.3 503.6 116.7 503.8 116.1 504.0 115.5 504.2 115.1 504.6 114.3 504.8 113.9 505.0 113.4 505.4 112.7 505.6 112.3 505.9 111.9 506.2 111.4 506.6 110.8 507.0 110.3 507.3 109.9 507.6 109.5 507.9 109.1 508.3 108.7 508.7 108.3 509.0 107.9 509.4 107.5 509.8 107.1 510.2 106.7 510.6 106.3 511.0 105.9 511.4 105.5 511.8 105.1 512.2 104.7 512.7 104.3 513.1 103.9 513.6 103.5 514.1 103.1 514.6 102.7 515.0 102.4 515.4 102.1 515.8 101.9 516.4 101.5 517.0 101.2 517.4 101.0 518.2 100.7 518.6 100.6 519.4 100.4 519.8 100.3 520.6 100.2 521.4 100.1 522.2 100.1 523.0 100.2 523.4 100.3 524.2 100.5 524.7 100.7 525.4 101.0 525.8 101.2 526.3 101.5 526.9 101.9 527.3 102.3 527.8 102.7 528.1 103.1 528.5 103.5 528.8 103.9 529.0 104.3 529.4 105.0 529.6 105.5 529.8 105.9 530.0 106.7 530.2 107.4 530.3 107.9 530.4 108.7 530.4 109.5 530.3 110.3 530.2 111.0 530.1 111.5 529.9 112.3 529.8 112.7 529.6 113.5 529.4 113.9 529.1 114.7 529.0 115.1 528.6 115.9 528.5 116.3 528.2 116.9 528.0 117.5 527.8 117.9 527.5 118.7 527.3 119.1 527.0 119.9 526.9 120.3 526.6 121.0 526.4 121.5 526.2 122.0 525.9 122.7 525.7 123.1 525.4 123.8 525.2 124.3 525.0 124.7 524.6 125.3 524.3 125.9 524.0 126.3 523.8 126.7 523.4 127.2 523.0 127.8 522.6 128.3 522.3 128.7 521.9 129.1 521.6 129.5 521.2 129.9 520.8 130.3 520.4 130.7 520.0 131.1 519.6 131.5 519.1 131.9 518.6 132.3 518.2 132.6 517.8 132.9 517.4 133.1 516.8 133.5 516.2 133.8 515.8 134.0 515.0 134.3 514.6 134.5 513.8 134.7 513.4 134.8Z" fill="none" stroke="url(#p1)" stroke-width="5" stroke-opacity="1" stroke-linejoin="round"/>
<path d="M513.4 134.8 512.6 134.9 511.8 135.0 511.0 135.0 510.2 134.9 509.4 134.7 509.0 134.6 508.2 134.4 507.8 134.2 507.2 133.9 506.6 133.5 506.2 133.2 505.8 132.9 505.4 132.6 505.0 132.2 504.6 131.7 504.2 131.2 503.9 130.7 503.7 130.3 503.4 129.8 503.1 129.1 503.0 128.7 502.7 127.9 502.6 127.4 502.5 126.7 502.3 125.9 502.3 125.1 502.3 124.3 502.3 123.5 502.3 122.7 502.4 121.9 502.5 121.1 502.6 120.6 502.7 119.9 502.9 119.1 503.0 118.7 503.2 117.9 503.4 117.3 503.6 116.7 503.8 116.1 504.0 115.5 504.2 115.1 504.6 114.3 504.8 113.9 505.0 113.4 505.4 112.7 505.6 112.3 505.9 111.9 506.2 111.4 506.6 110.8 507.0 110.3 507.3 109.9 507.6 109.5 507.9 109.1 508.3 108.7 508.7 108.3 509.0 107.9 509.4 107.5 509.8 107.1 510.2 106.7 510.6 106.3 511.0 105.9 511.4 105.5 511.8 105.1 512.2 104.7 512.7 104.3 513.1 103.9 513.6 103.5 514.1 103.1 514.6 102.7 515.0 102.4 515.4 102.1 515.8 101.9 516.4 101.5 517.0 101.2 517.4 101.0 518.2 100.7 518.6 100.6 519.4 100.4 519.8 100.3 520.6 100.2 521.4 100.1 522.2 100.1 523.0 100.2 523.4 100.3 524.2 100.5 524.7 100.7 525.4 101.0 525.8 101.2 526.3 101.5 526.9 101.9 527.3 102.3 527.8 102.7 528.1 103.1 528.5 103.5 528.8 103.9 529.0 104.3 529.4 105.0 529.6 105.5 529.8 105.9 530.0 106.7 530.2 107.4 530.3 107.9 530.4 108.7 530.4 109.5 530.3 110.3 530.2 111.0 530.1 111.5 529.9 112.3 529.8 112.7 529.6 113.5 529.4 113.9 529.1 114.7 529.0 115.1 528.6 115.9 528.5 116.3 528.2 116.9 528.0 117.5 527.8 117.9 527.5 118.7 527.3 119.1 527.0 119.9 526.9 120.3 526.6 121.0 526.4 121.5 526.2 122.0 525.9 122.7 525.7 123.1 525.4 123.8 525.2 124.3 525.0 124.7 524.6 125.3 524.3 125.9 524.0 126.3 523.8 126.7 523.4 127.2 523.0 127.8 522.6 128.3 522.3 128.7 521.9 129.1 521.6 129.5 521.2 129.9 520.8 130.3 520.4 130.7 520.0 131.1 519.6 131.5 519.1 131.9 518.6 132.3 518.2 132.6 517.8 132.9 517.4 133.1 516.8 133.5 516.2 133.8 515.8 134.0 515.0 134.3 514.6 134.5 513.8 134.7 513.4 134.8Z" fill="none" stroke="#000" stroke-width="3" stroke-opacity="0.8" filter="url(#b05)"/>
<path d="M502.2 137.1h0.8M517.9 141.5h0.8M517.9 97.7h0.8M498.8 127.2h0.8M526.7 121.9h0.8M508.7 148.5h0.8M511.9 147.0h0.8M507.2 139.8h0.8M501.8 132.2h0.8M534.3 107.4h0.8M526.1 128.5h0.8M530.0 128.4h0.8M496.9 121.8h0.8M521.6 96.9h0.8M520.5 147.3h0.8M500.4 136.0h0.8M513.0 90.9h0.8M516.9 100.9h0.8M497.4 129.4h0.8M507.2 144.1h0.8M523.4 134.1h0.8M529.0 100.2h0.8M512.2 137.2h0.8M514.8 149.1h0.8M530.1 129.4h0.8M502.0 124.6h0.8M514.2 141.2h0.8M524.8 126.1h0.8M519.7 143.2h0.8M515.0 141.2h0.8M508.0 140.3h0.8M501.5 122.4h0.8M502.8 101.9h0.8M527.7 95.9h0.8M520.2 142.8h0.8M510.5 139.9h0.8M519.8 84.2h0.8M518.9 142.6h0.8M543.1 123.7h0.8M534.0 107.6h0.8M511.9 148.4h0.8M511.9 139.1h0.8M547.7 108.1h0.8M515.9 144.1h0.8M528.0 126.0h0.8M516.8 148.6h0.8M520.6 141.2h0.8M520.0 142.2h0.8M519.6 141.5h0.8M507.8 144.0h0.8M519.8 141.6h0.8M495.0 137.0h0.8M513.1 150.0h0.8M495.9 115.1h0.8M532.2 94.9h0.8M521.7 147.7h0.8M501.1 126.6h0.8M511.4 141.2h0.8M518.7 139.3h0.8M508.8 148.1h0.8M524.2 139.7h0.8M495.7 121.0h0.8M524.2 135.9h0.8M500.5 141.0h0.8M523.9 97.8h0.8M540.2 105.4h0.8M494.6 139.4h0.8M524.3 92.9h0.8M513.3 141.6h0.8M511.6 144.0h0.8M511.3 146.3h0.8M529.0 125.1h0.8M513.8 138.3h0.8M541.3 100.9h0.8M518.1 135.5h0.8M501.8 111.1h0.8M509.2 141.7h0.8M519.4 138.2h0.8M492.9 114.4h0.8M493.6 119.8h0.8M517.1 144.3h0.8M518.9 144.1h0.8M523.9 93.7h0.8M492.6 110.6h0.8M506.6 145.6h0.8M506.7 100.1h0.8M534.4 130.4h0.8M504.5 113.2h0.8M516.4 141.6h0.8M514.8 148.4h0.8M535.2 106.5h0.8M506.3 150.9h0.8M517.7 142.5h0.8M506.0 145.8h0.8M514.7 140.6h0.8M513.8 147.0h0.8M500.3 146.0h0.8M511.2 142.3h0.8M517.4 146.5h0.8M514.7 141.5h0.8M508.3 138.8h0.8M505.4 141.7h0.8M527.7 131.2h0.8M521.2 133.7h0.8M501.9 142.4h0.8M528.3 85.3h0.8M523.3 100.0h0.8M545.9 136.9h0.8M510.9 139.9h0.8M503.7 108.3h0.8M500.6 113.4h0.8M505.4 139.7h0.8M518.3 147.9h0.8M498.1 147.2h0.8M502.5 135.8h0.8M509.2 139.2h0.8M510.8 96.4h0.8M520.9 136.1h0.8M512.2 142.1h0.8M507.0 137.4h0.8M534.0 110.4h0.8M494.1 96.0h0.8M512.4 140.0h0.8M509.1 150.0h0.8M535.1 115.5h0.8M530.2 91.2h0.8M521.3 132.9h0.8M513.2 88.8h0.8M527.5 136.8h0.8M534.5 98.7h0.8M490.2 108.2h0.8M540.2 88.4h0.8M519.7 147.4h0.8M509.0 103.9h0.8M519.6 141.3h0.8M500.8 122.0h0.8M516.7 133.8h0.8M539.7 114.3h0.8M523.8 138.2h0.8M529.4 133.8h0.8M512.5 99.4h0.8M506.1 103.7h0.8M513.6 98.2h0.8M506.5 98.7h0.8M526.0 128.2h0.8M491.2 111.9h0.8M502.2 122.2h0.8M510.0 140.2h0.8M515.7 80.7h0.8M531.3 112.5h0.8M521.2 139.5h0.8M507.3 142.5h0.8M514.7 147.7h0.8M504.7 107.4h0.8M522.5 130.2h0.8M510.5 100.6h0.8M503.3 116.8h0.8M526.2 122.4h0.8M512.2 142.8h0.8M517.1 146.3h0.8M503.4 142.9h0.8M521.6 133.8h0.8M512.3 144.8h0.8M533.5 118.2h0.8M501.5 141.1h0.8M527.3 98.2h0.8M514.5 140.1h0.8M518.0 142.3h0.8M510.6 144.2h0.8M536.7 99.7h0.8M496.6 112.3h0.8M517.4 140.4h0.8M504.2 112.0h0.8M505.6 145.1h0.8M532.1 91.3h0.8M500.3 108.2h0.8M521.0 142.4h0.8M541.7 96.4h0.8M513.0 100.5h0.8M496.1 134.5h0.8M493.2 131.3h0.8M529.8 119.8h0.8M519.7 98.7h0.8M529.0 102.1h0.8M500.5 131.1h0.8M517.5 142.4h0.8M523.5 135.8h0.8M522.4 137.0h0.8M523.1 146.2h0.8M538.1 119.7h0.8M529.7 121.9h0.8M516.8 88.3h0.8M517.1 91.5h0.8M510.5 139.5h0.8M527.9 150.7h0.8M514.9 142.7h0.8M518.8 138.0h0.8M510.2 145.2h0.8M515.3 96.1h0.8M514.5 101.6h0.8M539.2 104.6h0.8M514.2 146.9h0.8M509.5 99.1h0.8M502.4 145.1h0.8M530.5 90.8h0.8M502.9 131.5h0.8M539.0 127.3h0.8M510.0 135.5h0.8M526.6 121.3h0.8M531.7 123.3h0.8M512.6 103.1h0.8M493.4 136.6h0.8M537.5 101.6h0.8M505.6 140.2h0.8M521.4 130.4h0.8M517.7 137.0h0.8M519.4 81.7h0.8M519.7 145.4h0.8M515.6 150.7h0.8M537.1 110.9h0.8M520.2 141.7h0.8M514.2 145.9h0.8M532.2 112.7h0.8M523.5 135.6h0.8M505.2 140.7h0.8M516.9 142.9h0.8M513.6 143.2h0.8M508.6 135.3h0.8M502.8 150.7h0.8M529.9 103.0h0.8M510.1 147.0h0.8M515.6 139.4h0.8M517.1 138.0h0.8M523.5 84.7h0.8M521.7 129.6h0.8M527.2 120.2h0.8M516.4 148.2h0.8M524.7 126.3h0.8M508.5 138.1h0.8M536.4 111.5h0.8M507.4 144.0h0.8M498.8 119.0h0.8M527.2 135.9h0.8M507.0 139.9h0.8M546.9 120.2h0.8M513.3 90.9h0.8M532.3 129.4h0.8M533.9 101.6h0.8M517.2 144.3h0.8M523.5 141.1h0.8M516.3 97.7h0.8M517.4 135.0h0.8M525.5 143.8h0.8M529.6 125.8h0.8M531.6 95.6h0.8M535.5 120.6h0.8M506.1 140.5h0.8M524.1 131.6h0.8M503.3 109.5h0.8M519.4 139.8h0.8M519.9 146.0h0.8M486.0 134.2h0.8M503.7 132.1h0.8M518.2 142.2h0.8M501.6 116.8h0.8M530.3 142.8h0.8M530.7 101.0h0.8M522.2 136.3h0.8M519.0 132.0h0.8M529.5 119.1h0.8M522.1 97.8h0.8M534.7 98.0h0.8M542.2 125.7h0.8M518.1 149.1h0.8M532.5 123.2h0.8M510.6 148.0h0.8M499.4 113.9h0.8M503.1 94.9h0.8M485.7 127.5h0.8M521.9 133.1h0.8M518.7 140.9h0.8M496.2 104.7h0.8M528.1 128.4h0.8M510.4 144.7h0.8M480.0 114.9h0.8M501.7 142.9h0.8M503.5 134.1h0.8M517.4 147.2h0.8M504.9 151.0h0.8M505.7 149.8h0.8M509.2 99.5h0.8M500.5 126.9h0.8M536.6 122.3h0.8M506.4 145.8h0.8M514.0 142.2h0.8M520.5 133.2h0.8M508.0 134.7h0.8M509.7 142.0h0.8M496.2 114.4h0.8M508.3 136.9h0.8M516.9 134.0h0.8M515.8 144.9h0.8M501.3 136.2h0.8M515.9 135.7h0.8M518.9 138.3h0.8M520.7 139.7h0.8M526.4 124.3h0.8M512.0 143.7h0.8M511.7 135.7h0.8M532.2 127.6h0.8M508.3 138.4h0.8M512.6 141.2h0.8M532.3 120.3h0.8M502.1 104.8h0.8M494.7 121.9h0.8M493.7 128.4h0.8M521.0 148.7h0.8M522.6 99.8h0.8M510.0 141.0h0.8M507.3 107.7h0.8M515.3 138.7h0.8M525.3 149.5h0.8M501.6 125.4h0.8M502.5 137.4h0.8M496.3 120.0h0.8M529.0 118.7h0.8M532.8 113.0h0.8M521.9 147.1h0.8M515.9 136.1h0.8M506.8 134.1h0.8M512.9 149.6h0.8M520.8 147.4h0.8M509.4 136.9h0.8M506.4 140.2h0.8M498.7 104.8h0.8M520.8 140.4h0.8M515.1 150.7h0.8M514.0 146.0h0.8M518.1 139.3h0.8M514.0 145.5h0.8M495.0 125.3h0.8M531.6 124.7h0.8M530.4 108.2h0.8M504.2 139.4h0.8M541.4 102.5h0.8M507.7 141.0h0.8M523.2 89.0h0.8M542.3 111.6h0.8M537.3 122.8h0.8M526.4 146.2h0.8M509.7 146.5h0.8M505.9 111.8h0.8M513.6 149.1h0.8M538.1 90.8h0.8M505.8 100.8h0.8M506.6 140.3h0.8M513.1 141.0h0.8M497.4 117.5h0.8M505.9 103.5h0.8M510.4 149.2h0.8M514.0 140.0h0.8M503.1 97.8h0.8M499.8 92.4h0.8M525.1 143.9h0.8M535.7 113.5h0.8M502.5 109.3h0.8M516.4 149.8h0.8M528.5 132.5h0.8M533.5 127.7h0.8M511.8 150.2h0.8M536.9 133.4h0.8M519.8 147.4h0.8M516.0 141.1h0.8M515.4 134.8h0.8M524.3 94.6h0.8M492.5 145.5h0.8M516.4 134.7h0.8M500.9 141.5h0.8M520.4 131.6h0.8M505.3 134.6h0.8M510.2 145.1h0.8M538.1 115.5h0.8M503.6 141.1h0.8M529.9 104.3h0.8M515.5 136.8h0.8M531.2 88.5h0.8M503.3 135.8h0.8M528.7 135.2h0.8M505.3 108.4h0.8M533.3 130.3h0.8M502.6 146.2h0.8M517.6 145.2h0.8M518.2 146.9h0.8M509.9 144.7h0.8M518.3 135.6h0.8M515.3 148.7h0.8M512.7 138.1h0.8M520.0 137.3h0.8M534.8 126.4h0.8M504.5 135.6h0.8" stroke="#000" stroke-width="0.8" stroke-opacity="1"/>
<path d="M513.4 134.8 512.6 134.9 511.8 135.0 511.0 135.0 510.2 134.9 509.4 134.7 509.0 134.6 508.2 134.4 507.8 134.2 507.2 133.9 506.6 133.5 506.2 133.2 505.8 132.9 505.4 132.6 505.0 132.2 504.6 131.7 504.2 131.2 503.9 130.7 503.7 130.3 503.4 129.8 503.1 129.1 503.0 128.7 502.7 127.9 502.6 127.4 502.5 126.7 502.3 125.9 502.3 125.1 502.3 124.3 502.3 123.5 502.3 122.7 502.4 121.9 502.5 121.1 502.6 120.6 502.7 119.9 502.9 119.1 503.0 118.7 503.2 117.9 503.4 117.3 503.6 116.7 503.8 116.1 504.0 115.5 504.2 115.1 504.6 114.3 504.8 113.9 505.0 113.4 505.4 112.7 505.6 112.3 505.9 111.9 506.2 111.4 506.6 110.8 507.0 110.3 507.3 109.9 507.6 109.5 507.9 109.1 508.3 108.7 508.7 108.3 509.0 107.9 509.4 107.5 509.8 107.1 510.2 106.7 510.6 106.3 511.0 105.9 511.4 105.5 511.8 105.1 512.2 104.7 512.7 104.3 513.1 103.9 513.6 103.5 514.1 103.1 514.6 102.7 515.0 102.4 515.4 102.1 515.8 101.9 516.4 101.5 517.0 101.2 517.4 101.0 518.2 100.7 518.6 100.6 519.4 100.4 519.8 100.3 520.6 100.2 521.4 100.1 522.2 100.1 523.0 100.2 523.4 100.3 524.2 100.5 524.7 100.7 525.4 101.0 525.8 101.2 526.3 101.5 526.9 101.9 527.3 102.3 527.8 102.7 528.1 103.1 528.5 103.5 528.8 103.9 529.0 104.3 529.4 105.0 529.6 105.5 529.8 105.9 530.0 106.7 530.2 107.4 530.3 107.9 530.4 108.7 530.4 109.5 530.3 110.3 530.2 111.0 530.1 111.5 529.9 112.3 529.8 112.7 529.6 113.5 529.4 113.9 529.1 114.7 529.0 115.1 528.6 115.9 528.5 116.3 528.2 116.9 528.0 117.5 527.8 117.9 527.5 118.7 527.3 119.1 527.0 119.9 526.9 120.3 526.6 121.0 526.4 121.5 526.2 122.0 525.9 122.7 525.7 123.1 525.4 123.8 525.2 124.3 525.0 124.7 524.6 125.3 524.3 125.9 524.0 126.3 523.8 126.7 523.4 127.2 523.0 127.8 522.6 128.3 522.3 128.7 521.9 129.1 521.6 129.5 521.2 129.9 520.8 130.3 520.4 130.7 520.0 131.1 519.6 131.5 519.1 131.9 518.6 132.3 518.2 132.6 517.8 132.9 517.4 133.1 516.8 133.5 516.2 133.8 515.8 134.0 515.0 134.3 514.6 134.5 513.8 134.7 513.4 134.8Z" fill="#f6f6f6" stroke="#222" stroke-width="2.4"/>
<path d="M513.4 134.8 512.6 134.9 511.8 135.0 511.0 135.0 510.2 134.9 509.4 134.7 509.0 134.6 508.2 134.4 507.8 134.2 507.2 133.9 506.6 133.5 506.2 133.2 505.8 132.9 505.4 132.6 505.0 132.2 504.6 131.7 504.2 131.2 503.9 130.7 503.7 130.3 503.4 129.8 503.1 129.1 503.0 128.7 502.7 127.9 502.6 127.4 502.5 126.7 502.3 125.9 502.3 125.1 502.3 124.3 502.3 123.5 502.3 122.7 502.4 121.9 502.5 121.1 502.6 120.6 502.7 119.9 502.9 119.1 503.0 118.7 503.2 117.9 503.4 117.3 503.6 116.7 503.8 116.1 504.0 115.5 504.2 115.1 504.6 114.3 504.8 113.9 505.0 113.4 505.4 112.7 505.6 112.3 505.9 111.9 506.2 111.4 506.6 110.8 507.0 110.3 507.3 109.9 507.6 109.5 507.9 109.1 508.3 108.7 508.7 108.3 509.0 107.9 509.4 107.5 509.8 107.1 510.2 106.7 510.6 106.3 511.0 105.9 511.4 105.5 511.8 105.1 512.2 104.7 512.7 104.3 513.1 103.9 513.6 103.5 514.1 103.1 514.6 102.7 515.0 102.4 515.4 102.1 515.8 101.9 516.4 101.5 517.0 101.2 517.4 101.0 518.2 100.7 518.6 100.6 519.4 100.4 519.8 100.3 520.6 100.2 521.4 100.1 522.2 100.1 523.0 100.2 523.4 100.3 524.2 100.5 524.7 100.7 525.4 101.0 525.8 101.2 526.3 101.5 526.9 101.9 527.3 102.3 527.8 102.7 528.1 103.1 528.5 103.5 528.8 103.9 529.0 104.3 529.4 105.0 529.6 105.5 529.8 105.9 530.0 106.7 530.2 107.4 530.3 107.9 530.4 108.7 530.4 109.5 530.3 110.3 530.2 111.0 530.1 111.5 529.9 112.3 529.8 112.7 529.6 113.5 529.4 113.9 529.1 114.7 529.0 115.1 528.6 115.9 528.5 116.3 528.2 116.9 528.0 117.5 527.8 117.9 527.5 118.7 527.3 119.1 527.0 119.9 526.9 120.3 526.6 121.0 526.4 121.5 526.2 122.0 525.9 122.7 525.7 123.1 525.4 123.8 525.2 124.3 525.0 124.7 524.6 125.3 524.3 125.9 524.0 126.3 523.8 126.7 523.4 127.2 523.0 127.8 522.6 128.3 522.3 128.7 521.9 129.1 521.6 129.5 521.2 129.9 520.8 130.3 520.4 130.7 520.0 131.1 519.6 131.5 519.1 131.9 518.6 132.3 518.2 132.6 517.8 132.9 517.4 133.1 516.8 133.5 516.2 133.8 515.8 134.0 515.0 134.3 514.6 134.5 513.8 134.7 513.4 134.8Z" fill="none" stroke="#fff" stroke-width="1.3"/>
<path d="M512.6 133.1 511.8 133.2 511.0 133.2 510.3 133.1 509.8 133.0 509.0 132.8 508.6 132.6 508.0 132.3 507.4 131.9 507.0 131.6 506.6 131.3 506.2 130.9 505.8 130.4 505.5 129.9 505.2 129.5 505.0 129.1 504.7 128.3 504.5 127.9 504.3 127.1 504.2 126.7 504.1 125.9 504.0 125.1 504.0 124.3 504.0 123.5 504.1 122.7 504.2 121.9 504.2 121.5 504.4 120.7 504.5 119.9 504.6 119.5 504.8 118.7 505.0 118.1 505.2 117.5 505.4 116.9 505.6 116.3 505.8 115.9 506.2 115.1 506.4 114.7 506.6 114.2 507.0 113.5 507.3 113.1 507.5 112.7 507.8 112.3 508.2 111.7 508.6 111.2 509.0 110.7 509.3 110.3 509.7 109.9 510.0 109.5 510.4 109.1 510.8 108.7 511.2 108.3 511.5 107.9 511.9 107.5 512.3 107.1 512.7 106.7 513.1 106.3 513.5 105.9 513.9 105.5 514.4 105.1 514.8 104.7 515.3 104.3 515.8 103.9 516.2 103.6 516.6 103.3 517.0 103.1 517.7 102.7 518.2 102.5 518.7 102.3 519.4 102.1 520.2 101.9 520.6 101.8 521.4 101.8 522.2 101.8 522.7 101.9 523.4 102.0 524.2 102.3 524.6 102.5 525.0 102.7 525.7 103.1 526.2 103.5 526.6 103.9 527.0 104.3 527.3 104.7 527.6 105.1 527.8 105.5 528.2 106.3 528.3 106.7 528.5 107.5 528.6 107.9 528.7 108.7 528.7 109.5 528.7 110.3 528.6 110.7 528.4 111.5 528.2 112.3 528.1 112.7 527.8 113.5 527.6 113.9 527.4 114.5 527.1 115.1 526.9 115.5 526.6 116.3 526.4 116.7 526.2 117.2 525.9 117.9 525.8 118.3 525.4 119.1 525.3 119.5 525.0 120.2 524.8 120.7 524.6 121.2 524.3 121.9 524.1 122.3 523.8 123.0 523.6 123.5 523.4 123.9 523.0 124.5 522.7 125.1 522.4 125.5 522.1 125.9 521.8 126.4 521.4 126.9 521.0 127.4 520.6 127.9 520.3 128.3 519.9 128.7 519.5 129.1 519.1 129.5 518.7 129.9 518.3 130.3 517.8 130.7 517.4 131.0 517.0 131.3 516.6 131.6 516.1 131.9 515.4 132.3 515.0 132.5 514.4 132.7 513.8 132.9 513.0 133.1 512.6 133.1Z" fill="none" stroke="#aaa" stroke-width="0.55"/>
<path d="M512.2 131.9 511.4 131.9 510.9 131.9 510.2 131.8 509.4 131.5 509.0 131.4 508.5 131.1 507.9 130.7 507.4 130.3 507.1 129.9 506.7 129.5 506.4 129.1 506.2 128.7 505.8 127.9 505.7 127.5 505.5 126.7 505.4 126.3 505.3 125.5 505.2 124.7 505.2 123.9 505.3 123.1 505.4 122.3 505.4 121.9 505.6 121.1 505.7 120.3 505.8 119.9 506.0 119.1 506.2 118.6 506.4 117.9 506.6 117.4 506.9 116.7 507.0 116.3 507.4 115.5 507.6 115.1 507.8 114.7 508.2 114.1 508.5 113.5 508.8 113.1 509.1 112.7 509.4 112.3 509.8 111.8 510.2 111.3 510.6 110.9 511.0 110.4 511.4 110.0 511.8 109.5 512.2 109.1 512.6 108.7 513.0 108.3 513.4 107.9 513.7 107.5 514.1 107.1 514.5 106.7 514.9 106.3 515.3 105.9 515.8 105.5 516.2 105.2 516.6 104.8 517.0 104.5 517.4 104.3 518.1 103.9 518.6 103.7 519.0 103.5 519.8 103.2 520.6 103.1 521.0 103.1 521.8 103.0 522.3 103.1 523.0 103.2 523.8 103.5 524.2 103.7 524.6 103.9 525.2 104.3 525.6 104.7 526.0 105.1 526.3 105.5 526.6 105.9 527.0 106.7 527.2 107.1 527.4 107.9 527.4 108.3 527.5 109.1 527.5 109.9 527.4 110.6 527.3 111.1 527.1 111.9 527.0 112.3 526.7 113.1 526.5 113.5 526.2 114.1 525.9 114.7 525.8 115.1 525.4 115.9 525.2 116.3 525.0 116.7 524.7 117.5 524.5 117.9 524.2 118.7 524.1 119.1 523.8 119.8 523.6 120.3 523.4 120.8 523.1 121.5 522.9 121.9 522.6 122.5 522.3 123.1 522.1 123.5 521.8 124.0 521.4 124.7 521.1 125.1 520.9 125.5 520.6 125.9 520.2 126.4 519.8 126.9 519.4 127.4 519.0 127.8 518.6 128.3 518.2 128.7 517.8 129.1 517.4 129.4 517.0 129.8 516.6 130.1 516.2 130.4 515.7 130.7 515.0 131.1 514.6 131.3 514.0 131.5 513.4 131.7 512.6 131.9 512.2 131.9Z" fill="none" stroke="#666" stroke-width="0.55"/>
<path d="M513.0 130.7 512.2 130.8 511.4 130.9 510.6 130.8 510.2 130.7 509.4 130.3 509.0 130.1 508.6 129.9 508.2 129.5 507.8 129.1 507.4 128.6 507.0 127.9 506.8 127.5 506.6 126.9 506.4 126.3 506.3 125.5 506.3 124.7 506.3 123.9 506.3 123.1 506.4 122.3 506.6 121.5 506.6 121.1 506.8 120.3 507.0 119.6 507.2 119.1 507.4 118.3 507.6 117.9 507.8 117.3 508.0 116.7 508.2 116.3 508.6 115.5 508.8 115.1 509.1 114.7 509.4 114.2 509.8 113.6 510.2 113.1 510.5 112.7 510.8 112.3 511.2 111.9 511.5 111.5 511.9 111.1 512.2 110.7 512.6 110.3 513.0 109.9 513.4 109.5 513.8 109.1 514.2 108.6 514.6 108.2 515.0 107.8 515.4 107.3 515.8 106.9 516.2 106.6 516.6 106.2 517.0 105.9 517.5 105.5 518.1 105.1 518.6 104.8 519.0 104.6 519.8 104.3 520.2 104.2 521.0 104.1 521.8 104.1 522.6 104.3 523.0 104.4 523.8 104.7 524.2 104.9 524.6 105.2 525.0 105.6 525.4 106.1 525.8 106.7 526.0 107.1 526.2 107.7 526.4 108.3 526.4 109.1 526.4 109.9 526.3 110.7 526.2 111.2 526.0 111.9 525.8 112.4 525.5 113.1 525.3 113.5 525.0 114.2 524.8 114.7 524.6 115.1 524.2 115.9 524.0 116.3 523.8 116.8 523.5 117.5 523.3 117.9 523.0 118.7 522.9 119.1 522.6 119.8 522.4 120.3 522.2 120.8 521.9 121.5 521.7 121.9 521.4 122.5 521.1 123.1 520.9 123.5 520.6 123.9 520.2 124.6 519.8 125.1 519.5 125.5 519.2 125.9 518.9 126.3 518.6 126.7 518.2 127.2 517.8 127.6 517.4 128.0 517.0 128.4 516.6 128.7 516.2 129.1 515.6 129.5 515.0 129.9 514.6 130.1 514.2 130.3 513.4 130.6 513.0 130.7Z" fill="none" stroke="#999" stroke-width="0.55"/>
<path d="M513.4 129.6 512.6 129.8 511.8 129.9 511.0 129.8 510.2 129.6 509.8 129.4 509.3 129.1 508.8 128.7 508.4 128.3 508.1 127.9 507.8 127.3 507.6 126.7 507.4 126.2 507.3 125.5 507.2 124.7 507.2 123.9 507.3 123.1 507.4 122.3 507.4 121.9 507.6 121.1 507.8 120.3 507.9 119.9 508.2 119.1 508.3 118.7 508.6 117.9 508.7 117.5 509.0 116.9 509.3 116.3 509.5 115.9 509.8 115.4 510.2 114.8 510.5 114.3 510.8 113.9 511.1 113.5 511.5 113.1 511.8 112.7 512.2 112.2 512.6 111.8 513.0 111.4 513.4 111.0 513.8 110.6 514.2 110.1 514.6 109.7 515.0 109.3 515.4 108.8 515.8 108.4 516.2 108.0 516.6 107.5 517.0 107.2 517.4 106.8 517.8 106.5 518.2 106.2 518.7 105.9 519.4 105.6 519.8 105.4 520.6 105.2 521.4 105.2 522.2 105.2 523.0 105.5 523.4 105.7 523.8 106.0 524.2 106.3 524.6 106.8 525.0 107.4 525.2 107.9 525.4 108.7 525.4 109.1 525.4 109.9 525.4 110.3 525.2 111.1 525.0 111.8 524.8 112.3 524.6 112.8 524.3 113.5 524.1 113.9 523.8 114.4 523.5 115.1 523.3 115.5 523.0 116.1 522.7 116.7 522.6 117.1 522.3 117.9 522.1 118.3 521.8 119.1 521.7 119.5 521.4 120.2 521.2 120.7 521.0 121.1 520.6 121.9 520.4 122.3 520.2 122.7 519.8 123.4 519.5 123.9 519.2 124.3 518.9 124.7 518.6 125.2 518.2 125.7 517.8 126.2 517.4 126.6 517.0 127.1 516.6 127.5 516.2 127.8 515.8 128.2 515.4 128.5 515.0 128.8 514.5 129.1 513.8 129.4 513.4 129.6Z" fill="none" stroke="#777" stroke-width="0.55"/>
<path d="M512.6 128.8 511.8 128.8 511.0 128.8 510.6 128.6 510.0 128.3 509.4 127.9 509.1 127.5 508.8 127.1 508.6 126.7 508.3 125.9 508.2 125.3 508.1 124.7 508.1 123.9 508.2 123.1 508.2 122.7 508.4 121.9 508.5 121.1 508.6 120.7 508.9 119.9 509.0 119.4 509.3 118.7 509.4 118.3 509.7 117.5 509.9 117.1 510.2 116.6 510.6 115.9 510.8 115.5 511.1 115.1 511.4 114.7 511.8 114.2 512.2 113.7 512.6 113.3 513.0 112.8 513.4 112.4 513.8 112.0 514.2 111.6 514.6 111.2 515.0 110.8 515.4 110.3 515.8 109.9 516.1 109.5 516.5 109.1 516.9 108.7 517.3 108.3 517.7 107.9 518.1 107.5 518.6 107.1 519.0 106.9 519.4 106.7 520.2 106.4 520.6 106.3 521.4 106.2 521.9 106.3 522.6 106.5 523.0 106.8 523.4 107.1 523.8 107.5 524.2 108.3 524.3 108.7 524.4 109.5 524.4 110.3 524.2 111.1 524.1 111.5 523.8 112.2 523.6 112.7 523.4 113.1 523.0 113.8 522.7 114.3 522.5 114.7 522.2 115.4 522.0 115.9 521.8 116.4 521.5 117.1 521.4 117.5 521.1 118.3 521.0 118.7 520.7 119.5 520.5 119.9 520.2 120.7 520.0 121.1 519.8 121.5 519.4 122.3 519.2 122.7 518.9 123.1 518.6 123.6 518.2 124.2 517.8 124.7 517.5 125.1 517.2 125.5 516.8 125.9 516.5 126.3 516.1 126.7 515.7 127.1 515.2 127.5 514.7 127.9 514.2 128.2 513.8 128.4 513.0 128.7 512.6 128.8Z" fill="none" stroke="#aaa" stroke-width="0.55"/>
<path d="M513.0 127.6 512.2 127.8 511.4 127.7 510.8 127.5 510.2 127.1 509.8 126.7 509.6 126.3 509.4 125.9 509.2 125.1 509.1 124.3 509.1 123.5 509.2 122.7 509.3 121.9 509.4 121.4 509.6 120.7 509.8 120.0 509.9 119.5 510.2 118.8 510.4 118.3 510.6 117.9 511.0 117.1 511.2 116.7 511.4 116.3 511.8 115.8 512.2 115.2 512.6 114.7 513.0 114.3 513.4 113.9 513.8 113.5 514.2 113.1 514.6 112.7 515.0 112.3 515.4 111.9 515.8 111.5 516.2 111.1 516.6 110.7 516.9 110.3 517.3 109.9 517.6 109.5 518.0 109.1 518.5 108.7 518.9 108.3 519.4 108.0 519.8 107.8 520.6 107.5 521.4 107.5 522.2 107.8 522.6 108.2 523.0 108.7 523.1 109.1 523.2 109.9 523.1 110.7 523.0 111.1 522.7 111.9 522.5 112.3 522.2 113.0 521.9 113.5 521.7 113.9 521.4 114.5 521.1 115.1 521.0 115.5 520.7 116.3 520.6 116.7 520.3 117.5 520.2 117.9 519.9 118.7 519.8 119.1 519.5 119.9 519.3 120.3 519.0 121.0 518.8 121.5 518.6 121.9 518.2 122.5 517.8 123.1 517.6 123.5 517.3 123.9 517.0 124.3 516.6 124.8 516.2 125.2 515.8 125.7 515.4 126.1 515.0 126.4 514.6 126.8 514.1 127.1 513.4 127.5 513.0 127.6Z" fill="none" stroke="#666" stroke-width="0.55"/>
<path d="M513.0 126.3 512.2 126.4 511.5 126.3 511.0 126.0 510.6 125.5 510.4 125.1 510.2 124.3 510.2 123.9 510.2 123.1 510.2 122.7 510.3 121.9 510.5 121.1 510.6 120.7 510.9 119.9 511.0 119.5 511.3 118.7 511.5 118.3 511.8 117.7 512.1 117.1 512.4 116.7 512.7 116.3 513.0 115.9 513.4 115.5 513.8 115.0 514.2 114.7 514.6 114.3 515.1 113.9 515.6 113.5 516.1 113.1 516.6 112.7 517.0 112.4 517.4 112.0 517.8 111.6 518.2 111.2 518.6 110.8 519.0 110.4 519.4 110.1 519.8 109.8 520.6 109.6 521.1 109.9 521.3 110.7 521.1 111.5 521.0 111.9 520.6 112.7 520.4 113.1 520.2 113.6 519.9 114.3 519.8 114.7 519.6 115.5 519.4 116.3 519.3 116.7 519.1 117.5 519.0 118.0 518.8 118.7 518.6 119.3 518.4 119.9 518.2 120.4 517.8 121.1 517.6 121.5 517.4 121.9 517.0 122.5 516.6 123.1 516.3 123.5 516.0 123.9 515.7 124.3 515.3 124.7 514.9 125.1 514.4 125.5 513.9 125.9 513.4 126.2 513.0 126.3Z" fill="none" stroke="#999" stroke-width="0.55"/>
<path d="M513.4 124.3 512.6 124.4 512.2 124.3 511.8 123.7 511.7 123.1 511.6 122.3 511.7 121.5 511.8 121.1 512.0 120.3 512.2 119.8 512.5 119.1 512.7 118.7 513.0 118.1 513.4 117.5 513.7 117.1 514.1 116.7 514.5 116.3 515.0 116.0 515.4 115.7 516.0 115.5 516.6 115.4 517.0 115.5 517.4 116.0 517.6 116.7 517.6 117.5 517.5 118.3 517.4 118.8 517.2 119.5 517.0 120.0 516.7 120.7 516.5 121.1 516.2 121.5 515.8 122.1 515.4 122.6 515.0 123.1 514.6 123.5 514.2 123.9 513.8 124.1 513.4 124.3Z" fill="none" stroke="#777" stroke-width="0.55"/>
</g>
<polyline points="487.4,152.7 477.8,117.7 533.4,52.3" fill="none" stroke="#222" stroke-width="0.8" stroke-linejoin="round"/>
<line x1="533.9" y1="52.5" x2="555.9" y2="52.5" stroke="#b0b0b0" stroke-width="1.6"/>
<polyline points="555.9,112.7 541,131.1 519.4,152.7" fill="none" stroke="#222" stroke-width="0.8" stroke-linejoin="round"/>
<line x1="518.8" y1="70.7" x2="541" y2="131.1" stroke="#222" stroke-width="0.8"/>
<text x="554.3" y="76.5" font-size="13.5" text-anchor="end" fill="#000">1.13</text>
<ellipse cx="625" cy="126" rx="14" ry="11" transform="rotate(-20 625 126)" fill="url(#p4)" opacity="0.8"/>
<rect x="564.7" y="50.3" width="103" height="102.6" fill="none" stroke="#8c8c8c" stroke-width="0.9"/>
<line x1="564.3" y1="152.9" x2="668.1" y2="152.9" stroke="#333" stroke-width="1"/>
<path d="M563.1 59.7h2.2 M563.1 83.3h2.2 M563.1 106.2h2.2 M563.1 130.7h2.2 M563.1 142.3h2.2 M564.1 76.22h1.2 M564.1 71.97h1.2 M564.1 69.14h1.2 M564.1 66.78h1.2 M564.1 65.13h1.2 M564.1 63.71h1.2 M564.1 62.53h1.2 M564.1 61.59h1.2 M564.1 60.64h1.2 M564.1 99.33h1.2 M564.1 95.21h1.2 M564.1 92.46h1.2 M564.1 90.17h1.2 M564.1 88.57h1.2 M564.1 87.19h1.2 M564.1 86.05h1.2 M564.1 85.13h1.2 M564.1 84.22h1.2 M564.1 123.35h1.2 M564.1 118.94h1.2 M564.1 116h1.2 M564.1 113.55h1.2 M564.1 111.83h1.2 M564.1 110.36h1.2 M564.1 109.14h1.2 M564.1 108.16h1.2 M564.1 107.18h1.2 M585.3 152.3v2.2 M610.7 152.3v2.2 M634.1 152.3v2.2 M657.7 152.3v2.2 M575.2 152.3v2.2 M592.92 152.3v1.2 M597.49 152.3v1.2 M600.54 152.3v1.2 M603.08 152.3v1.2 M604.86 152.3v1.2 M606.38 152.3v1.2 M607.65 152.3v1.2 M608.67 152.3v1.2 M609.68 152.3v1.2 M617.72 152.3v1.2 M621.93 152.3v1.2 M624.74 152.3v1.2 M627.08 152.3v1.2 M628.72 152.3v1.2 M630.12 152.3v1.2 M631.29 152.3v1.2 M632.23 152.3v1.2 M633.16 152.3v1.2 M641.18 152.3v1.2 M645.43 152.3v1.2 M648.26 152.3v1.2 M650.62 152.3v1.2 M652.27 152.3v1.2 M653.69 152.3v1.2 M654.87 152.3v1.2 M655.81 152.3v1.2 M656.76 152.3v1.2" stroke="#333" stroke-width="0.7" fill="none"/>
<text x="585.3" y="162.61" font-size="5" text-anchor="middle" fill="#333">10<tspan dy="-1.4" font-size="3.5">2</tspan></text>
<text x="610.7" y="162.61" font-size="5" text-anchor="middle" fill="#333">10<tspan dy="-1.4" font-size="3.5">3</tspan></text>
<text x="634.1" y="162.61" font-size="5" text-anchor="middle" fill="#333">10<tspan dy="-1.4" font-size="3.5">4</tspan></text>
<text x="657.7" y="162.61" font-size="5" text-anchor="middle" fill="#333">10<tspan dy="-1.4" font-size="3.5">5</tspan></text>
<text x="575.2" y="162.61" font-size="5" text-anchor="middle" fill="#333">0</text>
<clipPath id="c152"><rect x="565.2" y="50.8" width="102" height="101.6"/></clipPath><g clip-path="url(#c152)">
<path d="M622.3 122.0 621.5 122.1 620.7 122.2 619.9 122.3 619.1 122.3 618.3 122.2 617.5 122.1 616.8 121.9 616.3 121.7 615.7 121.5 615.1 121.2 614.7 121.0 614.2 120.7 613.7 120.3 613.2 119.9 612.9 119.5 612.6 119.1 612.3 118.7 611.9 118.0 611.7 117.5 611.5 116.9 611.4 116.3 611.3 115.5 611.3 114.7 611.3 113.9 611.5 113.1 611.6 112.7 611.9 111.9 612.0 111.5 612.3 111.0 612.7 110.3 612.9 109.9 613.2 109.5 613.5 109.1 613.9 108.6 614.3 108.2 614.7 107.8 615.1 107.4 615.5 107.0 615.9 106.7 616.5 106.3 617.1 105.9 617.5 105.6 617.9 105.4 618.5 105.1 619.1 104.8 619.5 104.7 620.3 104.4 620.7 104.2 621.5 104.0 621.9 103.9 622.7 103.7 623.5 103.6 623.9 103.5 624.7 103.3 625.5 103.2 625.9 103.1 626.7 102.8 627.1 102.7 627.9 102.3 628.3 102.1 628.7 101.9 629.4 101.5 629.9 101.2 630.3 100.9 630.7 100.7 631.3 100.3 631.9 99.9 632.3 99.6 632.7 99.4 633.2 99.1 633.9 98.7 634.3 98.5 634.8 98.3 635.5 97.9 635.9 97.8 636.5 97.5 637.1 97.2 637.5 97.1 638.3 96.7 638.7 96.5 639.1 96.3 639.7 95.9 640.3 95.5 640.7 95.2 641.1 94.9 641.5 94.7 642.0 94.3 642.7 93.9 643.1 93.7 643.5 93.5 644.3 93.2 644.9 93.1 645.5 93.0 646.3 93.0 646.9 93.1 647.5 93.2 648.1 93.5 648.7 93.8 649.1 94.2 649.5 94.6 649.9 95.1 650.1 95.5 650.3 96.0 650.5 96.7 650.6 97.5 650.5 98.3 650.3 99.1 650.2 99.5 649.9 100.2 649.6 100.7 649.4 101.1 649.1 101.5 648.7 101.9 648.3 102.3 647.9 102.7 647.4 103.1 646.9 103.5 646.3 103.9 645.9 104.2 645.5 104.5 645.1 104.8 644.7 105.2 644.3 105.5 643.8 105.9 643.4 106.3 643.0 106.7 642.5 107.1 642.1 107.5 641.6 107.9 641.1 108.3 640.7 108.6 640.3 108.9 639.9 109.2 639.4 109.5 638.8 109.9 638.3 110.2 637.9 110.5 637.5 110.7 636.9 111.1 636.3 111.5 635.9 111.7 635.5 112.0 635.1 112.3 634.5 112.7 634.1 113.1 633.6 113.5 633.2 113.9 632.8 114.3 632.5 114.7 632.2 115.1 631.8 115.5 631.5 115.9 631.1 116.4 630.7 116.9 630.3 117.3 629.9 117.7 629.5 118.1 629.1 118.5 628.7 118.8 628.3 119.1 627.8 119.5 627.2 119.9 626.7 120.2 626.3 120.5 625.9 120.7 625.1 121.1 624.7 121.2 624.0 121.5 623.5 121.7 622.7 121.9 622.3 122.0Z" fill="none" stroke="url(#p4)" stroke-width="11" stroke-opacity="0.8" stroke-linejoin="round"/>
<path d="M622.3 122.0 621.5 122.1 620.7 122.2 619.9 122.3 619.1 122.3 618.3 122.2 617.5 122.1 616.8 121.9 616.3 121.7 615.7 121.5 615.1 121.2 614.7 121.0 614.2 120.7 613.7 120.3 613.2 119.9 612.9 119.5 612.6 119.1 612.3 118.7 611.9 118.0 611.7 117.5 611.5 116.9 611.4 116.3 611.3 115.5 611.3 114.7 611.3 113.9 611.5 113.1 611.6 112.7 611.9 111.9 612.0 111.5 612.3 111.0 612.7 110.3 612.9 109.9 613.2 109.5 613.5 109.1 613.9 108.6 614.3 108.2 614.7 107.8 615.1 107.4 615.5 107.0 615.9 106.7 616.5 106.3 617.1 105.9 617.5 105.6 617.9 105.4 618.5 105.1 619.1 104.8 619.5 104.7 620.3 104.4 620.7 104.2 621.5 104.0 621.9 103.9 622.7 103.7 623.5 103.6 623.9 103.5 624.7 103.3 625.5 103.2 625.9 103.1 626.7 102.8 627.1 102.7 627.9 102.3 628.3 102.1 628.7 101.9 629.4 101.5 629.9 101.2 630.3 100.9 630.7 100.7 631.3 100.3 631.9 99.9 632.3 99.6 632.7 99.4 633.2 99.1 633.9 98.7 634.3 98.5 634.8 98.3 635.5 97.9 635.9 97.8 636.5 97.5 637.1 97.2 637.5 97.1 638.3 96.7 638.7 96.5 639.1 96.3 639.7 95.9 640.3 95.5 640.7 95.2 641.1 94.9 641.5 94.7 642.0 94.3 642.7 93.9 643.1 93.7 643.5 93.5 644.3 93.2 644.9 93.1 645.5 93.0 646.3 93.0 646.9 93.1 647.5 93.2 648.1 93.5 648.7 93.8 649.1 94.2 649.5 94.6 649.9 95.1 650.1 95.5 650.3 96.0 650.5 96.7 650.6 97.5 650.5 98.3 650.3 99.1 650.2 99.5 649.9 100.2 649.6 100.7 649.4 101.1 649.1 101.5 648.7 101.9 648.3 102.3 647.9 102.7 647.4 103.1 646.9 103.5 646.3 103.9 645.9 104.2 645.5 104.5 645.1 104.8 644.7 105.2 644.3 105.5 643.8 105.9 643.4 106.3 643.0 106.7 642.5 107.1 642.1 107.5 641.6 107.9 641.1 108.3 640.7 108.6 640.3 108.9 639.9 109.2 639.4 109.5 638.8 109.9 638.3 110.2 637.9 110.5 637.5 110.7 636.9 111.1 636.3 111.5 635.9 111.7 635.5 112.0 635.1 112.3 634.5 112.7 634.1 113.1 633.6 113.5 633.2 113.9 632.8 114.3 632.5 114.7 632.2 115.1 631.8 115.5 631.5 115.9 631.1 116.4 630.7 116.9 630.3 117.3 629.9 117.7 629.5 118.1 629.1 118.5 628.7 118.8 628.3 119.1 627.8 119.5 627.2 119.9 626.7 120.2 626.3 120.5 625.9 120.7 625.1 121.1 624.7 121.2 624.0 121.5 623.5 121.7 622.7 121.9 622.3 122.0Z" fill="none" stroke="url(#p3)" stroke-width="8" stroke-opacity="0.8" stroke-linejoin="round"/>
<path d="M622.3 122.0 621.5 122.1 620.7 122.2 619.9 122.3 619.1 122.3 618.3 122.2 617.5 122.1 616.8 121.9 616.3 121.7 615.7 121.5 615.1 121.2 614.7 121.0 614.2 120.7 613.7 120.3 613.2 119.9 612.9 119.5 612.6 119.1 612.3 118.7 611.9 118.0 611.7 117.5 611.5 116.9 611.4 116.3 611.3 115.5 611.3 114.7 611.3 113.9 611.5 113.1 611.6 112.7 611.9 111.9 612.0 111.5 612.3 111.0 612.7 110.3 612.9 109.9 613.2 109.5 613.5 109.1 613.9 108.6 614.3 108.2 614.7 107.8 615.1 107.4 615.5 107.0 615.9 106.7 616.5 106.3 617.1 105.9 617.5 105.6 617.9 105.4 618.5 105.1 619.1 104.8 619.5 104.7 620.3 104.4 620.7 104.2 621.5 104.0 621.9 103.9 622.7 103.7 623.5 103.6 623.9 103.5 624.7 103.3 625.5 103.2 625.9 103.1 626.7 102.8 627.1 102.7 627.9 102.3 628.3 102.1 628.7 101.9 629.4 101.5 629.9 101.2 630.3 100.9 630.7 100.7 631.3 100.3 631.9 99.9 632.3 99.6 632.7 99.4 633.2 99.1 633.9 98.7 634.3 98.5 634.8 98.3 635.5 97.9 635.9 97.8 636.5 97.5 637.1 97.2 637.5 97.1 638.3 96.7 638.7 96.5 639.1 96.3 639.7 95.9 640.3 95.5 640.7 95.2 641.1 94.9 641.5 94.7 642.0 94.3 642.7 93.9 643.1 93.7 643.5 93.5 644.3 93.2 644.9 93.1 645.5 93.0 646.3 93.0 646.9 93.1 647.5 93.2 648.1 93.5 648.7 93.8 649.1 94.2 649.5 94.6 649.9 95.1 650.1 95.5 650.3 96.0 650.5 96.7 650.6 97.5 650.5 98.3 650.3 99.1 650.2 99.5 649.9 100.2 649.6 100.7 649.4 101.1 649.1 101.5 648.7 101.9 648.3 102.3 647.9 102.7 647.4 103.1 646.9 103.5 646.3 103.9 645.9 104.2 645.5 104.5 645.1 104.8 644.7 105.2 644.3 105.5 643.8 105.9 643.4 106.3 643.0 106.7 642.5 107.1 642.1 107.5 641.6 107.9 641.1 108.3 640.7 108.6 640.3 108.9 639.9 109.2 639.4 109.5 638.8 109.9 638.3 110.2 637.9 110.5 637.5 110.7 636.9 111.1 636.3 111.5 635.9 111.7 635.5 112.0 635.1 112.3 634.5 112.7 634.1 113.1 633.6 113.5 633.2 113.9 632.8 114.3 632.5 114.7 632.2 115.1 631.8 115.5 631.5 115.9 631.1 116.4 630.7 116.9 630.3 117.3 629.9 117.7 629.5 118.1 629.1 118.5 628.7 118.8 628.3 119.1 627.8 119.5 627.2 119.9 626.7 120.2 626.3 120.5 625.9 120.7 625.1 121.1 624.7 121.2 624.0 121.5 623.5 121.7 622.7 121.9 622.3 122.0Z" fill="none" stroke="url(#p2)" stroke-width="5" stroke-opacity="0.8" stroke-linejoin="round"/>
<path d="M622.3 122.0 621.5 122.1 620.7 122.2 619.9 122.3 619.1 122.3 618.3 122.2 617.5 122.1 616.8 121.9 616.3 121.7 615.7 121.5 615.1 121.2 614.7 121.0 614.2 120.7 613.7 120.3 613.2 119.9 612.9 119.5 612.6 119.1 612.3 118.7 611.9 118.0 611.7 117.5 611.5 116.9 611.4 116.3 611.3 115.5 611.3 114.7 611.3 113.9 611.5 113.1 611.6 112.7 611.9 111.9 612.0 111.5 612.3 111.0 612.7 110.3 612.9 109.9 613.2 109.5 613.5 109.1 613.9 108.6 614.3 108.2 614.7 107.8 615.1 107.4 615.5 107.0 615.9 106.7 616.5 106.3 617.1 105.9 617.5 105.6 617.9 105.4 618.5 105.1 619.1 104.8 619.5 104.7 620.3 104.4 620.7 104.2 621.5 104.0 621.9 103.9 622.7 103.7 623.5 103.6 623.9 103.5 624.7 103.3 625.5 103.2 625.9 103.1 626.7 102.8 627.1 102.7 627.9 102.3 628.3 102.1 628.7 101.9 629.4 101.5 629.9 101.2 630.3 100.9 630.7 100.7 631.3 100.3 631.9 99.9 632.3 99.6 632.7 99.4 633.2 99.1 633.9 98.7 634.3 98.5 634.8 98.3 635.5 97.9 635.9 97.8 636.5 97.5 637.1 97.2 637.5 97.1 638.3 96.7 638.7 96.5 639.1 96.3 639.7 95.9 640.3 95.5 640.7 95.2 641.1 94.9 641.5 94.7 642.0 94.3 642.7 93.9 643.1 93.7 643.5 93.5 644.3 93.2 644.9 93.1 645.5 93.0 646.3 93.0 646.9 93.1 647.5 93.2 648.1 93.5 648.7 93.8 649.1 94.2 649.5 94.6 649.9 95.1 650.1 95.5 650.3 96.0 650.5 96.7 650.6 97.5 650.5 98.3 650.3 99.1 650.2 99.5 649.9 100.2 649.6 100.7 649.4 101.1 649.1 101.5 648.7 101.9 648.3 102.3 647.9 102.7 647.4 103.1 646.9 103.5 646.3 103.9 645.9 104.2 645.5 104.5 645.1 104.8 644.7 105.2 644.3 105.5 643.8 105.9 643.4 106.3 643.0 106.7 642.5 107.1 642.1 107.5 641.6 107.9 641.1 108.3 640.7 108.6 640.3 108.9 639.9 109.2 639.4 109.5 638.8 109.9 638.3 110.2 637.9 110.5 637.5 110.7 636.9 111.1 636.3 111.5 635.9 111.7 635.5 112.0 635.1 112.3 634.5 112.7 634.1 113.1 633.6 113.5 633.2 113.9 632.8 114.3 632.5 114.7 632.2 115.1 631.8 115.5 631.5 115.9 631.1 116.4 630.7 116.9 630.3 117.3 629.9 117.7 629.5 118.1 629.1 118.5 628.7 118.8 628.3 119.1 627.8 119.5 627.2 119.9 626.7 120.2 626.3 120.5 625.9 120.7 625.1 121.1 624.7 121.2 624.0 121.5 623.5 121.7 622.7 121.9 622.3 122.0Z" fill="none" stroke="#000" stroke-width="3" stroke-opacity="0.6" filter="url(#b05)"/>
<path d="M635.4 125.3h0.8M623.3 129.0h0.8M619.1 128.2h0.8M603.0 140.2h0.8M607.0 100.8h0.8M611.7 123.0h0.8M632.8 99.1h0.8M644.6 127.0h0.8M649.5 88.4h0.8M628.7 130.8h0.8M605.8 112.3h0.8M608.9 118.7h0.8M613.8 121.7h0.8M613.2 120.9h0.8M619.0 122.6h0.8M643.9 110.9h0.8M628.6 124.4h0.8M643.8 135.6h0.8M626.1 126.7h0.8M606.0 126.0h0.8M605.2 146.2h0.8M638.4 132.9h0.8M638.3 115.7h0.8M650.1 109.0h0.8M637.2 96.5h0.8M609.1 121.2h0.8M627.6 133.5h0.8M610.7 141.4h0.8M636.1 121.8h0.8M631.2 122.7h0.8M605.6 125.6h0.8M641.7 108.4h0.8M613.6 126.9h0.8M634.8 120.3h0.8M638.5 127.1h0.8M621.8 136.9h0.8M615.5 134.4h0.8M638.8 122.4h0.8M622.5 138.9h0.8M613.7 132.1h0.8M622.8 130.9h0.8M628.1 102.0h0.8M637.4 119.9h0.8M610.2 123.4h0.8M628.4 126.1h0.8M603.1 123.7h0.8M617.9 125.0h0.8M607.6 123.7h0.8M629.2 119.3h0.8M622.5 128.4h0.8M651.9 90.9h0.8M627.5 131.2h0.8M623.0 123.5h0.8M641.5 114.0h0.8M632.9 123.7h0.8M642.9 127.0h0.8M630.9 126.5h0.8M631.0 134.5h0.8M624.7 101.3h0.8M646.7 118.1h0.8M656.4 108.0h0.8M625.1 128.6h0.8M614.9 127.9h0.8M647.6 88.7h0.8M625.6 123.1h0.8M648.2 112.2h0.8M607.8 125.9h0.8M611.1 129.6h0.8M620.0 98.6h0.8M617.3 131.5h0.8M611.2 111.2h0.8M639.2 133.3h0.8M604.4 120.5h0.8M629.2 98.1h0.8M619.0 124.3h0.8M597.8 115.9h0.8M631.8 124.2h0.8M611.5 125.8h0.8M628.7 124.1h0.8M634.1 126.0h0.8M620.7 133.8h0.8M627.9 132.2h0.8M613.4 125.4h0.8M625.1 125.4h0.8M610.8 129.1h0.8M619.5 139.2h0.8M604.0 106.0h0.8M635.0 114.9h0.8M642.0 121.0h0.8M615.5 100.1h0.8M625.4 132.5h0.8M632.2 121.0h0.8M624.1 137.4h0.8M629.3 99.4h0.8M615.4 102.5h0.8M605.2 131.9h0.8M649.3 119.1h0.8M621.2 125.5h0.8M612.3 135.7h0.8M625.1 122.2h0.8M640.9 109.6h0.8M604.5 135.4h0.8M620.0 139.8h0.8M639.3 136.9h0.8M609.9 124.5h0.8M641.5 131.1h0.8M626.8 127.7h0.8M617.4 125.0h0.8M633.5 121.5h0.8M625.3 126.2h0.8M621.3 131.1h0.8M608.8 125.5h0.8M626.3 127.0h0.8M611.1 135.2h0.8M607.0 126.3h0.8M640.0 111.5h0.8M604.0 112.9h0.8M617.5 123.6h0.8M625.0 92.8h0.8M630.0 130.9h0.8M621.7 100.4h0.8M621.4 123.3h0.8M628.6 122.7h0.8M615.0 126.3h0.8M610.1 129.8h0.8M612.5 125.5h0.8M623.6 126.0h0.8M635.1 129.5h0.8M625.7 102.4h0.8M632.1 131.0h0.8M636.2 137.2h0.8M614.0 135.9h0.8M618.5 140.3h0.8M605.9 118.3h0.8M636.1 112.5h0.8M641.8 84.8h0.8M623.5 132.9h0.8M609.0 129.0h0.8M642.2 132.8h0.8M624.8 85.8h0.8M618.9 127.1h0.8M652.1 120.2h0.8M632.4 116.6h0.8M627.5 99.0h0.8M629.5 122.2h0.8M635.0 96.8h0.8M627.6 140.1h0.8M637.3 123.9h0.8M630.0 120.8h0.8M614.9 124.5h0.8M635.3 112.3h0.8M630.1 125.2h0.8M616.0 138.3h0.8M652.5 99.6h0.8M623.0 100.8h0.8M637.9 113.5h0.8M608.1 133.4h0.8M627.4 129.2h0.8M618.5 132.1h0.8M626.4 100.0h0.8M636.7 132.6h0.8M618.3 143.3h0.8M634.1 84.0h0.8M631.8 124.8h0.8M611.9 125.6h0.8M611.8 140.0h0.8M610.5 113.4h0.8M630.8 131.3h0.8M618.6 124.9h0.8M623.3 132.6h0.8M604.3 145.3h0.8M631.7 127.2h0.8M619.0 123.1h0.8M610.9 117.8h0.8M627.1 122.6h0.8M607.4 105.1h0.8M607.1 129.0h0.8M631.9 133.5h0.8M630.7 132.8h0.8M639.0 112.8h0.8M659.2 93.3h0.8M619.2 124.9h0.8M622.0 128.7h0.8M608.5 115.3h0.8M626.4 95.4h0.8M624.7 127.5h0.8M651.5 114.9h0.8M609.5 123.6h0.8M622.7 126.8h0.8M616.4 99.4h0.8M625.1 137.5h0.8M614.1 138.6h0.8M624.3 121.6h0.8M624.3 129.8h0.8M608.9 115.2h0.8M617.1 128.0h0.8M636.8 88.5h0.8M621.6 91.9h0.8M597.6 118.1h0.8M623.6 127.3h0.8M655.4 93.7h0.8M627.1 129.1h0.8M627.6 123.4h0.8M621.9 124.8h0.8M627.4 101.0h0.8M625.0 122.8h0.8M618.4 128.0h0.8M628.6 126.7h0.8M607.7 134.0h0.8M645.3 110.2h0.8M651.2 101.5h0.8M646.6 116.9h0.8M634.3 125.6h0.8M654.6 104.0h0.8M641.2 129.7h0.8M614.7 136.4h0.8M638.0 119.5h0.8M626.6 121.2h0.8M639.2 112.3h0.8M614.3 125.3h0.8M617.5 123.5h0.8M638.8 115.5h0.8M642.1 131.9h0.8M647.5 111.8h0.8M634.7 122.1h0.8M616.7 126.0h0.8M617.4 122.7h0.8M626.2 131.4h0.8M603.5 114.5h0.8M604.8 141.0h0.8M604.6 133.4h0.8M636.0 121.3h0.8M658.1 113.0h0.8M634.2 141.7h0.8M627.2 120.9h0.8M626.6 123.1h0.8M608.5 109.2h0.8M655.7 89.6h0.8M609.7 114.1h0.8M627.5 140.9h0.8M651.2 116.9h0.8M609.1 129.4h0.8M602.9 122.7h0.8M638.6 126.5h0.8M632.9 122.5h0.8M608.1 126.2h0.8M631.0 122.2h0.8M640.8 118.6h0.8M621.2 97.3h0.8M636.9 95.7h0.8M607.0 142.2h0.8M642.9 122.8h0.8M627.8 126.3h0.8M634.6 128.6h0.8M625.1 124.9h0.8M639.1 117.1h0.8M604.8 123.6h0.8M617.9 125.8h0.8M609.9 129.6h0.8M616.9 100.5h0.8M616.8 98.8h0.8M622.4 127.6h0.8M638.5 127.7h0.8M615.5 123.7h0.8M615.9 140.0h0.8M622.4 124.8h0.8M619.6 126.1h0.8M636.7 128.1h0.8M626.9 133.9h0.8M641.9 124.0h0.8M612.4 126.6h0.8M617.6 135.5h0.8M648.4 107.2h0.8M615.1 146.4h0.8M610.8 128.7h0.8M619.0 130.4h0.8M627.9 132.5h0.8M623.2 126.6h0.8M633.3 131.8h0.8M618.6 127.8h0.8M627.3 137.5h0.8M626.8 126.8h0.8M620.1 128.2h0.8M630.4 128.9h0.8M626.0 131.3h0.8M624.3 126.7h0.8M640.2 91.2h0.8M614.5 136.3h0.8M636.3 117.3h0.8M610.2 117.7h0.8M625.8 139.5h0.8M634.2 124.4h0.8M617.0 128.0h0.8M626.4 124.6h0.8M635.6 120.4h0.8M612.7 132.0h0.8M601.6 103.9h0.8M619.2 124.0h0.8M616.2 125.2h0.8M630.0 132.8h0.8M632.4 130.5h0.8M586.5 125.3h0.8M619.8 129.3h0.8M617.8 132.5h0.8M624.9 122.5h0.8M623.8 124.6h0.8M615.8 132.1h0.8M623.6 127.4h0.8M625.7 131.4h0.8M630.3 119.3h0.8M637.9 118.4h0.8M626.2 140.9h0.8M615.5 124.8h0.8M622.7 126.5h0.8M618.5 125.8h0.8M646.4 107.4h0.8M614.8 139.8h0.8M618.4 124.3h0.8M626.0 135.3h0.8M627.6 134.0h0.8M623.7 134.1h0.8M628.8 141.6h0.8M617.4 136.8h0.8M627.6 127.8h0.8M617.8 131.4h0.8M606.6 120.5h0.8M619.1 127.2h0.8M649.1 111.5h0.8M648.3 104.0h0.8M621.3 98.4h0.8M630.2 132.1h0.8M619.9 133.7h0.8M635.7 125.8h0.8M633.6 127.7h0.8M608.1 118.5h0.8M619.5 131.8h0.8M636.5 117.2h0.8M630.9 127.1h0.8M625.4 127.7h0.8M639.6 121.3h0.8M598.2 130.5h0.8M627.3 134.6h0.8M606.5 120.6h0.8M619.7 123.5h0.8M629.0 129.9h0.8M642.7 119.0h0.8M621.9 134.1h0.8M643.8 113.7h0.8M636.4 133.3h0.8M602.0 112.0h0.8M614.4 135.8h0.8M630.0 127.0h0.8M633.0 120.1h0.8" stroke="#000" stroke-width="0.8" stroke-opacity="1"/>
<path d="M622.3 122.0 621.5 122.1 620.7 122.2 619.9 122.3 619.1 122.3 618.3 122.2 617.5 122.1 616.8 121.9 616.3 121.7 615.7 121.5 615.1 121.2 614.7 121.0 614.2 120.7 613.7 120.3 613.2 119.9 612.9 119.5 612.6 119.1 612.3 118.7 611.9 118.0 611.7 117.5 611.5 116.9 611.4 116.3 611.3 115.5 611.3 114.7 611.3 113.9 611.5 113.1 611.6 112.7 611.9 111.9 612.0 111.5 612.3 111.0 612.7 110.3 612.9 109.9 613.2 109.5 613.5 109.1 613.9 108.6 614.3 108.2 614.7 107.8 615.1 107.4 615.5 107.0 615.9 106.7 616.5 106.3 617.1 105.9 617.5 105.6 617.9 105.4 618.5 105.1 619.1 104.8 619.5 104.7 620.3 104.4 620.7 104.2 621.5 104.0 621.9 103.9 622.7 103.7 623.5 103.6 623.9 103.5 624.7 103.3 625.5 103.2 625.9 103.1 626.7 102.8 627.1 102.7 627.9 102.3 628.3 102.1 628.7 101.9 629.4 101.5 629.9 101.2 630.3 100.9 630.7 100.7 631.3 100.3 631.9 99.9 632.3 99.6 632.7 99.4 633.2 99.1 633.9 98.7 634.3 98.5 634.8 98.3 635.5 97.9 635.9 97.8 636.5 97.5 637.1 97.2 637.5 97.1 638.3 96.7 638.7 96.5 639.1 96.3 639.7 95.9 640.3 95.5 640.7 95.2 641.1 94.9 641.5 94.7 642.0 94.3 642.7 93.9 643.1 93.7 643.5 93.5 644.3 93.2 644.9 93.1 645.5 93.0 646.3 93.0 646.9 93.1 647.5 93.2 648.1 93.5 648.7 93.8 649.1 94.2 649.5 94.6 649.9 95.1 650.1 95.5 650.3 96.0 650.5 96.7 650.6 97.5 650.5 98.3 650.3 99.1 650.2 99.5 649.9 100.2 649.6 100.7 649.4 101.1 649.1 101.5 648.7 101.9 648.3 102.3 647.9 102.7 647.4 103.1 646.9 103.5 646.3 103.9 645.9 104.2 645.5 104.5 645.1 104.8 644.7 105.2 644.3 105.5 643.8 105.9 643.4 106.3 643.0 106.7 642.5 107.1 642.1 107.5 641.6 107.9 641.1 108.3 640.7 108.6 640.3 108.9 639.9 109.2 639.4 109.5 638.8 109.9 638.3 110.2 637.9 110.5 637.5 110.7 636.9 111.1 636.3 111.5 635.9 111.7 635.5 112.0 635.1 112.3 634.5 112.7 634.1 113.1 633.6 113.5 633.2 113.9 632.8 114.3 632.5 114.7 632.2 115.1 631.8 115.5 631.5 115.9 631.1 116.4 630.7 116.9 630.3 117.3 629.9 117.7 629.5 118.1 629.1 118.5 628.7 118.8 628.3 119.1 627.8 119.5 627.2 119.9 626.7 120.2 626.3 120.5 625.9 120.7 625.1 121.1 624.7 121.2 624.0 121.5 623.5 121.7 622.7 121.9 622.3 122.0Z" fill="#eeeeee" stroke="#222" stroke-width="2.4"/>
<path d="M622.3 122.0 621.5 122.1 620.7 122.2 619.9 122.3 619.1 122.3 618.3 122.2 617.5 122.1 616.8 121.9 616.3 121.7 615.7 121.5 615.1 121.2 614.7 121.0 614.2 120.7 613.7 120.3 613.2 119.9 612.9 119.5 612.6 119.1 612.3 118.7 611.9 118.0 611.7 117.5 611.5 116.9 611.4 116.3 611.3 115.5 611.3 114.7 611.3 113.9 611.5 113.1 611.6 112.7 611.9 111.9 612.0 111.5 612.3 111.0 612.7 110.3 612.9 109.9 613.2 109.5 613.5 109.1 613.9 108.6 614.3 108.2 614.7 107.8 615.1 107.4 615.5 107.0 615.9 106.7 616.5 106.3 617.1 105.9 617.5 105.6 617.9 105.4 618.5 105.1 619.1 104.8 619.5 104.7 620.3 104.4 620.7 104.2 621.5 104.0 621.9 103.9 622.7 103.7 623.5 103.6 623.9 103.5 624.7 103.3 625.5 103.2 625.9 103.1 626.7 102.8 627.1 102.7 627.9 102.3 628.3 102.1 628.7 101.9 629.4 101.5 629.9 101.2 630.3 100.9 630.7 100.7 631.3 100.3 631.9 99.9 632.3 99.6 632.7 99.4 633.2 99.1 633.9 98.7 634.3 98.5 634.8 98.3 635.5 97.9 635.9 97.8 636.5 97.5 637.1 97.2 637.5 97.1 638.3 96.7 638.7 96.5 639.1 96.3 639.7 95.9 640.3 95.5 640.7 95.2 641.1 94.9 641.5 94.7 642.0 94.3 642.7 93.9 643.1 93.7 643.5 93.5 644.3 93.2 644.9 93.1 645.5 93.0 646.3 93.0 646.9 93.1 647.5 93.2 648.1 93.5 648.7 93.8 649.1 94.2 649.5 94.6 649.9 95.1 650.1 95.5 650.3 96.0 650.5 96.7 650.6 97.5 650.5 98.3 650.3 99.1 650.2 99.5 649.9 100.2 649.6 100.7 649.4 101.1 649.1 101.5 648.7 101.9 648.3 102.3 647.9 102.7 647.4 103.1 646.9 103.5 646.3 103.9 645.9 104.2 645.5 104.5 645.1 104.8 644.7 105.2 644.3 105.5 643.8 105.9 643.4 106.3 643.0 106.7 642.5 107.1 642.1 107.5 641.6 107.9 641.1 108.3 640.7 108.6 640.3 108.9 639.9 109.2 639.4 109.5 638.8 109.9 638.3 110.2 637.9 110.5 637.5 110.7 636.9 111.1 636.3 111.5 635.9 111.7 635.5 112.0 635.1 112.3 634.5 112.7 634.1 113.1 633.6 113.5 633.2 113.9 632.8 114.3 632.5 114.7 632.2 115.1 631.8 115.5 631.5 115.9 631.1 116.4 630.7 116.9 630.3 117.3 629.9 117.7 629.5 118.1 629.1 118.5 628.7 118.8 628.3 119.1 627.8 119.5 627.2 119.9 626.7 120.2 626.3 120.5 625.9 120.7 625.1 121.1 624.7 121.2 624.0 121.5 623.5 121.7 622.7 121.9 622.3 122.0Z" fill="none" stroke="#fff" stroke-width="1.3"/>
<path d="M621.9 120.3 621.1 120.4 620.3 120.5 619.5 120.5 618.7 120.4 618.3 120.3 617.5 120.1 617.0 119.9 616.3 119.6 615.9 119.3 615.5 119.1 615.1 118.7 614.7 118.3 614.3 117.8 613.9 117.1 613.7 116.7 613.5 116.0 613.4 115.5 613.3 114.7 613.4 113.9 613.5 113.2 613.6 112.7 613.9 112.0 614.1 111.5 614.3 111.1 614.7 110.5 615.1 109.9 615.4 109.5 615.8 109.1 616.2 108.7 616.6 108.3 617.1 107.9 617.5 107.6 617.9 107.3 618.3 107.1 619.0 106.7 619.5 106.5 619.9 106.3 620.7 106.0 621.1 105.9 621.9 105.6 622.4 105.5 623.1 105.4 623.9 105.2 624.5 105.1 625.1 105.0 625.9 104.8 626.4 104.7 627.1 104.5 627.5 104.3 628.3 103.9 628.7 103.7 629.1 103.4 629.6 103.1 630.2 102.7 630.7 102.3 631.1 102.1 631.5 101.8 631.9 101.5 632.5 101.1 633.1 100.7 633.5 100.5 633.9 100.2 634.5 99.9 635.1 99.6 635.5 99.4 636.3 99.1 636.7 98.9 637.3 98.7 637.9 98.5 638.3 98.3 639.1 98.0 639.5 97.7 639.9 97.5 640.5 97.1 641.0 96.7 641.5 96.3 641.9 96.0 642.3 95.7 642.7 95.4 643.2 95.1 643.9 94.8 644.3 94.6 645.1 94.4 645.9 94.4 646.7 94.5 647.3 94.7 647.9 95.1 648.3 95.4 648.6 95.9 648.9 96.3 649.1 97.1 649.2 97.5 649.1 98.3 649.1 98.7 648.8 99.5 648.6 99.9 648.3 100.3 647.9 100.9 647.5 101.3 647.1 101.6 646.7 102.0 646.2 102.3 645.6 102.7 645.1 103.0 644.7 103.3 644.3 103.6 643.9 103.9 643.4 104.3 643.0 104.7 642.6 105.1 642.2 105.5 641.8 105.9 641.3 106.3 640.9 106.7 640.4 107.1 639.9 107.5 639.5 107.8 639.1 108.1 638.7 108.4 638.2 108.7 637.6 109.1 637.1 109.4 636.7 109.6 636.2 109.9 635.5 110.3 635.1 110.5 634.7 110.8 634.1 111.1 633.5 111.5 633.1 111.8 632.7 112.1 632.3 112.4 631.9 112.8 631.5 113.2 631.1 113.7 630.7 114.2 630.3 114.7 629.9 115.1 629.6 115.5 629.3 115.9 628.9 116.3 628.5 116.7 628.1 117.1 627.7 117.5 627.2 117.9 626.7 118.3 626.3 118.5 625.9 118.8 625.3 119.1 624.7 119.4 624.3 119.6 623.5 119.9 623.1 120.0 622.3 120.2 621.9 120.3Z" fill="none" stroke="#777" stroke-width="0.55"/>
<path d="M621.5 119.2 620.7 119.2 619.9 119.2 619.1 119.1 618.7 119.0 617.9 118.8 617.5 118.6 617.0 118.3 616.4 117.9 616.0 117.5 615.7 117.1 615.4 116.7 615.1 116.1 614.9 115.5 614.8 114.7 614.8 113.9 614.9 113.1 615.1 112.5 615.3 111.9 615.5 111.5 615.9 110.9 616.3 110.4 616.7 109.9 617.1 109.5 617.5 109.1 617.9 108.8 618.3 108.5 618.7 108.2 619.2 107.9 619.9 107.5 620.3 107.4 621.0 107.1 621.5 106.9 622.3 106.7 622.7 106.6 623.5 106.5 624.3 106.4 624.7 106.3 625.5 106.2 626.3 106.0 626.8 105.9 627.5 105.7 627.9 105.5 628.7 105.1 629.1 104.8 629.5 104.6 629.9 104.3 630.4 103.9 630.9 103.5 631.4 103.1 631.9 102.7 632.3 102.4 632.7 102.1 633.1 101.9 633.7 101.5 634.3 101.1 634.7 100.9 635.1 100.7 635.9 100.3 636.3 100.2 637.0 99.9 637.5 99.7 638.2 99.5 638.7 99.3 639.4 99.1 639.9 98.9 640.3 98.7 640.8 98.3 641.3 97.9 641.8 97.5 642.2 97.1 642.6 96.7 643.1 96.3 643.5 96.1 643.9 95.8 644.7 95.5 645.1 95.5 645.9 95.5 646.3 95.5 647.1 95.9 647.5 96.3 647.8 96.7 648.0 97.1 648.1 97.9 648.0 98.7 647.8 99.1 647.5 99.7 647.1 100.3 646.7 100.7 646.3 101.0 645.9 101.3 645.5 101.5 644.9 101.9 644.3 102.2 643.9 102.5 643.5 102.7 643.0 103.1 642.6 103.5 642.2 103.9 641.8 104.3 641.4 104.7 641.1 105.1 640.7 105.5 640.3 105.9 639.8 106.3 639.4 106.7 638.9 107.1 638.3 107.5 637.9 107.8 637.5 108.0 637.1 108.3 636.4 108.7 635.9 108.9 635.5 109.1 634.8 109.5 634.3 109.7 633.9 109.9 633.2 110.3 632.7 110.6 632.3 110.8 631.9 111.1 631.4 111.5 631.0 111.9 630.6 112.3 630.3 112.7 629.9 113.2 629.5 113.7 629.1 114.2 628.7 114.7 628.4 115.1 628.0 115.5 627.7 115.9 627.3 116.3 626.8 116.7 626.3 117.1 625.9 117.4 625.5 117.7 625.1 117.9 624.4 118.3 623.9 118.5 623.4 118.7 622.7 118.9 621.9 119.1 621.5 119.2Z" fill="none" stroke="#333" stroke-width="0.55"/>
<path d="M622.7 118.0 621.9 118.1 621.1 118.2 620.3 118.2 619.5 118.1 618.7 117.9 618.3 117.8 617.8 117.5 617.2 117.1 616.8 116.7 616.5 116.3 616.3 115.9 616.0 115.1 615.9 114.3 616.0 113.5 616.1 112.7 616.3 112.3 616.7 111.5 616.9 111.1 617.2 110.7 617.6 110.3 618.0 109.9 618.4 109.5 619.0 109.1 619.5 108.8 619.9 108.5 620.4 108.3 621.1 108.0 621.5 107.9 622.3 107.7 623.1 107.5 623.5 107.4 624.3 107.3 625.1 107.2 625.9 107.2 626.3 107.1 627.1 107.0 627.9 106.7 628.3 106.6 628.8 106.3 629.4 105.9 629.9 105.5 630.3 105.2 630.7 104.9 631.1 104.5 631.5 104.1 631.9 103.8 632.3 103.4 632.7 103.1 633.3 102.7 633.9 102.3 634.3 102.0 634.7 101.8 635.3 101.5 635.9 101.2 636.3 101.0 637.1 100.8 637.5 100.7 638.3 100.5 639.1 100.3 639.5 100.2 640.3 100.0 640.7 99.8 641.3 99.5 641.7 99.1 642.1 98.7 642.4 98.3 642.8 97.9 643.1 97.5 643.6 97.1 644.3 96.7 644.7 96.5 645.5 96.4 646.3 96.7 646.7 97.0 647.0 97.5 647.1 98.3 646.8 99.1 646.5 99.5 646.2 99.9 645.7 100.3 645.1 100.7 644.7 100.9 644.1 101.1 643.5 101.4 643.1 101.5 642.5 101.9 642.1 102.3 641.7 102.7 641.4 103.1 641.1 103.6 640.7 104.1 640.3 104.6 639.9 105.1 639.5 105.5 639.1 105.9 638.7 106.2 638.3 106.5 637.9 106.8 637.5 107.1 636.9 107.5 636.3 107.8 635.9 108.0 635.3 108.3 634.7 108.6 634.3 108.8 633.5 109.1 633.1 109.2 632.5 109.5 631.9 109.8 631.5 110.0 631.1 110.3 630.6 110.7 630.2 111.1 629.8 111.5 629.5 111.9 629.1 112.5 628.7 113.1 628.4 113.5 628.1 113.9 627.8 114.3 627.5 114.7 627.1 115.2 626.7 115.6 626.3 116.0 625.9 116.3 625.4 116.7 624.7 117.1 624.3 117.3 623.9 117.5 623.1 117.8 622.7 118.0Z" fill="none" stroke="#888" stroke-width="0.55"/>
<path d="M644.7 99.2 644.1 99.1 644.3 98.3 644.7 98.1 645.4 98.3 645.1 99.0 644.7 99.2ZM622.3 117.2 621.5 117.3 620.7 117.3 619.9 117.2 619.4 117.1 618.7 116.8 618.3 116.6 617.9 116.2 617.5 115.7 617.2 115.1 617.1 114.7 617.0 113.9 617.1 113.1 617.2 112.7 617.5 112.0 617.8 111.5 618.1 111.1 618.4 110.7 618.8 110.3 619.3 109.9 619.9 109.5 620.3 109.3 620.7 109.1 621.5 108.8 621.9 108.6 622.7 108.4 623.5 108.3 623.9 108.3 624.7 108.2 625.5 108.2 626.3 108.2 627.1 108.3 627.9 108.3 628.7 108.3 629.5 108.1 629.9 107.8 630.3 107.3 630.7 106.7 630.9 106.3 631.2 105.9 631.6 105.5 631.9 105.1 632.3 104.7 632.7 104.3 633.1 103.9 633.6 103.5 634.1 103.1 634.7 102.7 635.1 102.5 635.5 102.3 636.3 102.0 636.7 101.8 637.5 101.6 638.3 101.5 639.1 101.6 639.7 101.9 640.0 102.3 639.9 103.1 639.8 103.5 639.5 104.0 639.1 104.6 638.7 105.1 638.3 105.5 637.9 105.8 637.5 106.1 637.1 106.4 636.6 106.7 635.9 107.1 635.5 107.3 635.0 107.5 634.3 107.8 633.8 107.9 633.1 108.1 632.3 108.3 631.9 108.3 631.1 108.4 630.3 108.6 629.9 108.8 629.5 109.3 629.2 109.9 629.0 110.3 628.7 110.8 628.4 111.5 628.2 111.9 627.9 112.4 627.5 113.1 627.3 113.5 627.0 113.9 626.7 114.3 626.3 114.8 625.9 115.2 625.5 115.5 625.0 115.9 624.4 116.3 623.9 116.6 623.5 116.8 622.7 117.1 622.3 117.2Z" fill="none" stroke="#555" stroke-width="0.55"/>
<path d="M634.7 106.4 633.9 106.4 633.5 106.2 633.4 105.5 633.6 105.1 633.9 104.7 634.3 104.3 634.7 103.9 635.4 103.5 635.9 103.3 636.3 103.1 637.1 103.0 637.6 103.1 637.9 103.5 637.9 104.0 637.5 104.7 637.1 105.1 636.7 105.5 636.3 105.7 635.9 105.9 635.1 106.3 634.7 106.4ZM621.9 116.4 621.1 116.4 620.3 116.3 619.9 116.2 619.2 115.9 618.7 115.5 618.4 115.1 618.2 114.7 618.1 113.9 618.1 113.1 618.3 112.5 618.6 111.9 618.9 111.5 619.3 111.1 619.7 110.7 620.2 110.3 620.7 110.0 621.1 109.8 621.9 109.5 622.3 109.4 623.1 109.3 623.9 109.2 624.7 109.3 625.5 109.4 625.9 109.5 626.6 109.9 626.9 110.3 627.0 111.1 626.9 111.9 626.7 112.4 626.4 113.1 626.1 113.5 625.9 113.9 625.5 114.3 625.1 114.8 624.7 115.1 624.1 115.5 623.5 115.9 623.1 116.0 622.3 116.3 621.9 116.4Z" fill="none" stroke="#444" stroke-width="0.55"/>
<path d="M622.7 115.2 621.9 115.4 621.1 115.4 620.3 115.1 619.9 114.9 619.5 114.4 619.3 113.9 619.3 113.1 619.5 112.5 619.9 111.9 620.2 111.5 620.7 111.1 621.1 110.9 621.5 110.7 622.3 110.4 623.1 110.3 623.5 110.3 623.9 110.3 624.7 110.6 625.1 110.9 625.4 111.5 625.4 112.3 625.1 113.1 624.9 113.5 624.6 113.9 624.2 114.3 623.6 114.7 623.1 115.0 622.7 115.2Z" fill="none" stroke="#777" stroke-width="0.55"/>
</g>
<polyline points="598.7,152.7 589.1,117.7 644.7,52.3" fill="none" stroke="#222" stroke-width="0.8" stroke-linejoin="round"/>
<line x1="645.2" y1="52.5" x2="667.2" y2="52.5" stroke="#b0b0b0" stroke-width="1.6"/>
<polyline points="667.2,112.7 652.3,131.1 630.7,152.7" fill="none" stroke="#222" stroke-width="0.8" stroke-linejoin="round"/>
<line x1="630.1" y1="70.7" x2="652.3" y2="131.1" stroke="#222" stroke-width="0.8"/>
<text x="667.3" y="76.5" font-size="13.5" text-anchor="end" fill="#000">8.78</text>
<line x1="436.3" y1="119.4" x2="436.3" y2="63.2" stroke="#000" stroke-width="1.5"/>
<polygon points="432.8,64.2 436.3,57.2 439.8,64.2" fill="#000"/>
<text x="441.4" y="138.7" font-size="10.5" text-anchor="middle" fill="#000" transform="rotate(-90 441.4 138.7)">CD86</text>
<text x="455.2" y="173.6" font-size="10.2" text-anchor="start" fill="#000">MHCII</text>
<line x1="488.4" y1="170.8" x2="662" y2="170.8" stroke="#000" stroke-width="1.5"/>
<polygon points="661,167.3 668,170.8 661,174.3" fill="#000"/>
<line x1="713.6" y1="27" x2="713.6" y2="147.1" stroke="#000" stroke-width="2"/>
<line x1="709.6" y1="146.1" x2="713.6" y2="146.1" stroke="#000" stroke-width="1.3"/>
<text x="708.1" y="149.11" font-size="8.6" text-anchor="end" fill="#222">0</text>
<line x1="709.6" y1="122.48" x2="713.6" y2="122.48" stroke="#000" stroke-width="1.3"/>
<text x="708.1" y="125.49" font-size="8.6" text-anchor="end" fill="#222">10</text>
<line x1="709.6" y1="98.86" x2="713.6" y2="98.86" stroke="#000" stroke-width="1.3"/>
<text x="708.1" y="101.87" font-size="8.6" text-anchor="end" fill="#222">20</text>
<line x1="709.6" y1="75.24" x2="713.6" y2="75.24" stroke="#000" stroke-width="1.3"/>
<text x="708.1" y="78.25" font-size="8.6" text-anchor="end" fill="#222">30</text>
<line x1="709.6" y1="51.62" x2="713.6" y2="51.62" stroke="#000" stroke-width="1.3"/>
<text x="708.1" y="54.63" font-size="8.6" text-anchor="end" fill="#222">40</text>
<line x1="709.6" y1="28" x2="713.6" y2="28" stroke="#000" stroke-width="1.3"/>
<text x="708.1" y="31.01" font-size="8.6" text-anchor="end" fill="#222">50</text>
<line x1="712.6" y1="146.1" x2="792.4" y2="146.1" stroke="#000" stroke-width="2"/>
<rect x="716" y="143.68" width="34" height="2.42" fill="#000"/>
<rect x="757.6" y="134.7" width="31.7" height="11.4" fill="#fff" stroke="#000" stroke-width="2"/>
<line x1="773" y1="134.7" x2="773" y2="132.1" stroke="#000" stroke-width="1.3"/>
<line x1="764.7" y1="132.1" x2="781" y2="132.1" stroke="#000" stroke-width="1.5"/>
<line x1="732.1" y1="146.1" x2="732.1" y2="150.6" stroke="#000" stroke-width="1.5"/>
<line x1="773.6" y1="146.1" x2="773.6" y2="150.6" stroke="#000" stroke-width="1.5"/>
<text x="730.9" y="169.8" font-size="13.5" text-anchor="middle" fill="#000">Sirpα<tspan baseline-shift="40%" font-size="70%">+</tspan></text>
<text x="731" y="185.5" font-size="13.5" text-anchor="middle" fill="#000">sDC</text>
<text x="774.5" y="169.8" font-size="13.5" text-anchor="middle" fill="#000">CD8<tspan baseline-shift="40%" font-size="70%">+</tspan></text>
<text x="775.5" y="185.5" font-size="13.5" text-anchor="middle" fill="#000">sDC</text>
<text x="694.4" y="81.3" font-size="13.5" text-anchor="middle" fill="#000" transform="rotate(-90 694.4 81.3)">Mature DC (%)</text>
<text x="5.8" y="220.3" font-size="20" text-anchor="start" fill="#000">C</text>
<line x1="92" y1="224.7" x2="110" y2="224.7" stroke="#000" stroke-width="2"/>
<circle cx="101.7" cy="224.7" r="3.6" fill="#000"/>
<text x="115.6" y="229.3" font-size="13.3" text-anchor="start" fill="#000">Sirpα<tspan baseline-shift="40%" font-size="70%">+</tspan> tDC</text>
<line x1="92" y1="240.7" x2="110" y2="240.7" stroke="#000" stroke-width="2"/>
<circle cx="101.7" cy="240.7" r="3" fill="#fff" stroke="#000" stroke-width="1.5"/>
<text x="115.6" y="245.3" font-size="13.3" text-anchor="start" fill="#000">CD8<tspan baseline-shift="40%" font-size="70%">+</tspan> tDC</text>
<line x1="82.1" y1="246.8" x2="82.1" y2="389.8" stroke="#000" stroke-width="2"/>
<line x1="78.1" y1="388.8" x2="82.1" y2="388.8" stroke="#000" stroke-width="1.3"/>
<text x="76.6" y="392.16" font-size="9.6" text-anchor="end" fill="#222">0.00</text>
<line x1="78.1" y1="365.3" x2="82.1" y2="365.3" stroke="#000" stroke-width="1.3"/>
<text x="76.6" y="368.66" font-size="9.6" text-anchor="end" fill="#222">0.01</text>
<line x1="78.1" y1="341.8" x2="82.1" y2="341.8" stroke="#000" stroke-width="1.3"/>
<text x="76.6" y="345.16" font-size="9.6" text-anchor="end" fill="#222">0.02</text>
<line x1="78.1" y1="318.3" x2="82.1" y2="318.3" stroke="#000" stroke-width="1.3"/>
<text x="76.6" y="321.66" font-size="9.6" text-anchor="end" fill="#222">0.03</text>
<line x1="78.1" y1="294.8" x2="82.1" y2="294.8" stroke="#000" stroke-width="1.3"/>
<text x="76.6" y="298.16" font-size="9.6" text-anchor="end" fill="#222">0.04</text>
<line x1="78.1" y1="271.3" x2="82.1" y2="271.3" stroke="#000" stroke-width="1.3"/>
<text x="76.6" y="274.66" font-size="9.6" text-anchor="end" fill="#222">0.05</text>
<line x1="78.1" y1="247.8" x2="82.1" y2="247.8" stroke="#000" stroke-width="1.3"/>
<text x="76.6" y="251.16" font-size="9.6" text-anchor="end" fill="#222">0.06</text>
<line x1="81.1" y1="388.8" x2="222.4" y2="388.8" stroke="#000" stroke-width="2"/>
<line x1="96" y1="388.8" x2="96" y2="394" stroke="#000" stroke-width="1.5"/>
<text x="96" y="403" font-size="10.5" text-anchor="middle" fill="#222">D0</text>
<line x1="124" y1="388.8" x2="124" y2="394" stroke="#000" stroke-width="1.5"/>
<text x="124" y="403" font-size="10.5" text-anchor="middle" fill="#222">D1</text>
<line x1="152" y1="388.8" x2="152" y2="394" stroke="#000" stroke-width="1.5"/>
<text x="152" y="403" font-size="10.5" text-anchor="middle" fill="#222">D3</text>
<line x1="180" y1="388.8" x2="180" y2="394" stroke="#000" stroke-width="1.5"/>
<text x="180" y="403" font-size="10.5" text-anchor="middle" fill="#222">D7</text>
<line x1="208.4" y1="388.8" x2="208.4" y2="394" stroke="#000" stroke-width="1.5"/>
<text x="208.4" y="403" font-size="10.5" text-anchor="middle" fill="#222">D11</text>
<text x="151.9" y="421.4" font-size="13.2" text-anchor="middle" fill="#000">Days after DTx treatment</text>
<text x="48.2" y="321.3" font-size="13" text-anchor="middle" fill="#000" transform="rotate(-90 48.2 321.3)">Number of DC (x10<tspan baseline-shift="40%" font-size="65%">6</tspan>)</text>
<line x1="96" y1="331.23" x2="96" y2="291.27" stroke="#000" stroke-width="1.4"/>
<line x1="92.5" y1="291.27" x2="99.5" y2="291.27" stroke="#000" stroke-width="1.4"/>
<line x1="92.5" y1="331.23" x2="99.5" y2="331.23" stroke="#000" stroke-width="1.4"/>
<line x1="124" y1="374.7" x2="124" y2="353.55" stroke="#000" stroke-width="1.4"/>
<line x1="120.5" y1="353.55" x2="127.5" y2="353.55" stroke="#000" stroke-width="1.4"/>
<line x1="120.5" y1="374.7" x2="127.5" y2="374.7" stroke="#000" stroke-width="1.4"/>
<line x1="152" y1="354.73" x2="152" y2="345.33" stroke="#000" stroke-width="1.4"/>
<line x1="148.5" y1="345.33" x2="155.5" y2="345.33" stroke="#000" stroke-width="1.4"/>
<line x1="148.5" y1="354.73" x2="155.5" y2="354.73" stroke="#000" stroke-width="1.4"/>
<line x1="180" y1="334.75" x2="180" y2="257.2" stroke="#000" stroke-width="1.4"/>
<line x1="176.5" y1="257.2" x2="183.5" y2="257.2" stroke="#000" stroke-width="1.4"/>
<line x1="176.5" y1="334.75" x2="183.5" y2="334.75" stroke="#000" stroke-width="1.4"/>
<line x1="208.4" y1="334.75" x2="208.4" y2="298.33" stroke="#000" stroke-width="1.4"/>
<line x1="204.9" y1="298.33" x2="211.9" y2="298.33" stroke="#000" stroke-width="1.4"/>
<line x1="204.9" y1="334.75" x2="211.9" y2="334.75" stroke="#000" stroke-width="1.4"/>
<line x1="124" y1="374.7" x2="124" y2="366.48" stroke="#000" stroke-width="1.4"/>
<line x1="120.5" y1="366.48" x2="127.5" y2="366.48" stroke="#000" stroke-width="1.4"/>
<line x1="120.5" y1="374.7" x2="127.5" y2="374.7" stroke="#000" stroke-width="1.4"/>
<line x1="180" y1="334.75" x2="180" y2="310.07" stroke="#000" stroke-width="1.4"/>
<line x1="176.5" y1="310.07" x2="183.5" y2="310.07" stroke="#000" stroke-width="1.4"/>
<line x1="176.5" y1="334.75" x2="183.5" y2="334.75" stroke="#000" stroke-width="1.4"/>
<line x1="208.4" y1="301.85" x2="208.4" y2="296.68" stroke="#000" stroke-width="1.4"/>
<line x1="204.9" y1="296.68" x2="211.9" y2="296.68" stroke="#000" stroke-width="1.4"/>
<line x1="204.9" y1="301.85" x2="211.9" y2="301.85" stroke="#000" stroke-width="1.4"/>
<polyline points="96,308.9 124,366.48 152,386.45 180,310.07 208.4,301.85" fill="none" stroke="#000" stroke-width="2.2" stroke-dasharray="6,3.5"/>
<polyline points="96,306.55 124,360.6 152,354.73 180,285.4 208.4,319.48" fill="none" stroke="#000" stroke-width="2.2"/>
<circle cx="96" cy="306.55" r="3.7" fill="#000"/>
<circle cx="124" cy="360.6" r="3.7" fill="#000"/>
<circle cx="152" cy="354.73" r="3.7" fill="#000"/>
<circle cx="180" cy="285.4" r="3.7" fill="#000"/>
<circle cx="208.4" cy="319.48" r="3.7" fill="#000"/>
<circle cx="96" cy="308.9" r="3.1" fill="#fff" stroke="#000" stroke-width="1.5"/>
<circle cx="124" cy="366.48" r="3.1" fill="#fff" stroke="#000" stroke-width="1.5"/>
<circle cx="152" cy="386.45" r="3.1" fill="#fff" stroke="#000" stroke-width="1.5"/>
<circle cx="180" cy="310.07" r="3.1" fill="#fff" stroke="#000" stroke-width="1.5"/>
<circle cx="208.4" cy="301.85" r="3.1" fill="#fff" stroke="#000" stroke-width="1.5"/>
<text x="265.2" y="223.4" font-size="19.5" text-anchor="start" fill="#000">D</text>
<text x="378.2" y="223.2" font-size="13.3" text-anchor="middle" fill="#000">Day 3</text>
<text x="460.5" y="223.2" font-size="13.3" text-anchor="middle" fill="#000">D7</text>
<text x="544.9" y="223.2" font-size="13.3" text-anchor="middle" fill="#000">D11</text>
<text x="284.3" y="264.6" font-size="13.3" text-anchor="middle" fill="#000">Sirpα<tspan baseline-shift="40%" font-size="70%">+</tspan></text>
<text x="286" y="279.8" font-size="13.3" text-anchor="middle" fill="#000">tDC</text>
<text x="283.8" y="357" font-size="13.3" text-anchor="middle" fill="#000">CD8<tspan baseline-shift="40%" font-size="70%">+</tspan></text>
<text x="286" y="372.2" font-size="13.3" text-anchor="middle" fill="#000">tDC</text>
<rect x="332.7" y="229.7" width="81.8" height="81.3" fill="none" stroke="#8c8c8c" stroke-width="0.9"/>
<line x1="332.3" y1="311" x2="414.9" y2="311" stroke="#333" stroke-width="1"/>
<path d="M331.1 237.15h2.2 M331.1 255.85h2.2 M331.1 274h2.2 M331.1 293.41h2.2 M331.1 302.6h2.2 M332.1 250.24h1.2 M332.1 246.87h1.2 M332.1 244.63h1.2 M332.1 242.76h1.2 M332.1 241.45h1.2 M332.1 240.33h1.2 M332.1 239.39h1.2 M332.1 238.64h1.2 M332.1 237.9h1.2 M332.1 268.55h1.2 M332.1 265.28h1.2 M332.1 263.11h1.2 M332.1 261.29h1.2 M332.1 260.02h1.2 M332.1 258.93h1.2 M332.1 258.03h1.2 M332.1 257.3h1.2 M332.1 256.57h1.2 M332.1 287.58h1.2 M332.1 284.09h1.2 M332.1 281.76h1.2 M332.1 279.82h1.2 M332.1 278.46h1.2 M332.1 277.3h1.2 M332.1 276.32h1.2 M332.1 275.55h1.2 M332.1 274.77h1.2 M349.06 310.4v2.2 M369.23 310.4v2.2 M387.82 310.4v2.2 M406.56 310.4v2.2 M341.04 310.4v2.2 M355.11 310.4v1.2 M358.74 310.4v1.2 M361.16 310.4v1.2 M363.18 310.4v1.2 M364.59 310.4v1.2 M365.8 310.4v1.2 M366.81 310.4v1.2 M367.62 310.4v1.2 M368.43 310.4v1.2 M374.81 310.4v1.2 M378.15 310.4v1.2 M380.38 310.4v1.2 M382.24 310.4v1.2 M383.54 310.4v1.2 M384.66 310.4v1.2 M385.59 310.4v1.2 M386.33 310.4v1.2 M387.07 310.4v1.2 M393.44 310.4v1.2 M396.81 310.4v1.2 M399.06 310.4v1.2 M400.94 310.4v1.2 M402.25 310.4v1.2 M403.37 310.4v1.2 M404.31 310.4v1.2 M405.06 310.4v1.2 M405.81 310.4v1.2" stroke="#333" stroke-width="0.7" fill="none"/>
<text x="328.7" y="238.65" font-size="3.6" text-anchor="end" fill="#444">10<tspan dy="-1.4" font-size="2.52">5</tspan></text>
<text x="328.7" y="257.35" font-size="3.6" text-anchor="end" fill="#444">10<tspan dy="-1.4" font-size="2.52">4</tspan></text>
<text x="328.7" y="275.5" font-size="3.6" text-anchor="end" fill="#444">10<tspan dy="-1.4" font-size="2.52">3</tspan></text>
<text x="328.7" y="294.91" font-size="3.6" text-anchor="end" fill="#444">10<tspan dy="-1.4" font-size="2.52">2</tspan></text>
<text x="328.7" y="304.1" font-size="3.6" text-anchor="end" fill="#444">0</text>
<clipPath id="c290"><rect x="333.2" y="230.2" width="80.8" height="80.3"/></clipPath><g clip-path="url(#c290)">
<path d="M375.5 289.7 374.7 289.7 374.3 289.7 373.5 289.6 372.7 289.5 371.9 289.3 371.5 289.2 370.8 288.9 370.3 288.7 369.9 288.4 369.4 288.1 369.0 287.7 368.6 287.3 368.3 286.8 367.9 286.1 367.8 285.7 367.6 284.9 367.6 284.1 367.7 283.3 367.9 282.5 368.0 282.1 368.3 281.4 368.5 280.9 368.7 280.5 369.1 279.9 369.5 279.4 369.9 278.9 370.2 278.5 370.6 278.1 371.0 277.7 371.4 277.3 371.9 276.9 372.3 276.6 372.7 276.2 373.1 276.0 373.5 275.7 374.1 275.3 374.7 274.9 375.1 274.7 375.5 274.5 376.3 274.1 376.7 273.9 377.2 273.7 377.9 273.4 378.3 273.3 379.1 273.0 379.5 272.9 380.3 272.6 380.7 272.5 381.5 272.2 382.0 272.1 382.7 271.8 383.1 271.7 383.9 271.4 384.3 271.2 385.0 270.9 385.5 270.6 385.9 270.4 386.5 270.1 387.1 269.8 387.5 269.5 388.0 269.3 388.7 268.9 389.1 268.7 389.6 268.5 390.3 268.2 390.7 268.0 391.5 267.7 391.9 267.6 392.7 267.3 393.1 267.1 393.8 266.9 394.3 266.7 394.9 266.5 395.5 266.2 395.9 266.1 396.7 265.7 397.1 265.5 397.7 265.3 398.3 265.1 398.9 264.9 399.5 264.7 400.3 264.6 401.1 264.6 401.9 264.7 402.7 264.9 403.1 265.0 403.6 265.3 404.2 265.7 404.6 266.1 404.9 266.5 405.1 266.9 405.4 267.7 405.4 268.5 405.4 269.3 405.2 270.1 405.0 270.5 404.7 271.1 404.3 271.7 404.0 272.1 403.6 272.5 403.2 272.9 402.8 273.3 402.3 273.7 401.9 274.0 401.5 274.2 401.1 274.5 400.5 274.9 399.9 275.3 399.5 275.6 399.1 275.9 398.7 276.2 398.3 276.5 397.8 276.9 397.4 277.3 396.9 277.7 396.4 278.1 395.9 278.5 395.5 278.8 395.1 279.1 394.7 279.3 394.2 279.7 393.6 280.1 393.1 280.4 392.7 280.7 392.3 281.0 391.9 281.3 391.3 281.7 390.8 282.1 390.3 282.5 389.9 282.9 389.5 283.2 389.1 283.6 388.7 283.9 388.3 284.2 387.9 284.6 387.5 284.9 387.0 285.3 386.4 285.7 385.9 286.1 385.5 286.3 385.1 286.6 384.6 286.9 383.9 287.3 383.5 287.5 383.1 287.7 382.3 288.1 381.9 288.3 381.2 288.5 380.7 288.7 380.1 288.9 379.5 289.1 378.7 289.3 378.3 289.4 377.5 289.5 376.7 289.6 375.9 289.7 375.5 289.7Z" fill="none" stroke="#707070" stroke-width="0.6"/>
<path d="M378.3 288.1 377.5 288.2 376.7 288.3 375.9 288.4 375.1 288.4 374.3 288.3 373.5 288.1 373.1 288.0 372.3 287.8 371.9 287.6 371.4 287.3 370.9 286.9 370.5 286.5 370.1 286.1 369.9 285.7 369.6 284.9 369.5 284.5 369.4 283.7 369.5 283.0 369.6 282.5 369.9 281.7 370.0 281.3 370.3 280.8 370.7 280.1 371.0 279.7 371.3 279.3 371.7 278.9 372.0 278.5 372.4 278.1 372.9 277.7 373.4 277.3 373.9 276.9 374.3 276.6 374.7 276.3 375.1 276.1 375.8 275.7 376.3 275.4 376.7 275.2 377.4 274.9 377.9 274.7 378.4 274.5 379.1 274.2 379.5 274.1 380.3 273.8 380.8 273.7 381.5 273.5 382.2 273.3 382.7 273.1 383.4 272.9 383.9 272.7 384.4 272.5 385.1 272.2 385.5 272.0 386.0 271.7 386.7 271.3 387.1 271.1 387.5 270.9 388.2 270.5 388.7 270.2 389.1 270.0 389.8 269.7 390.3 269.5 390.7 269.3 391.5 269.0 391.9 268.9 392.7 268.6 393.1 268.5 393.9 268.2 394.3 268.1 395.1 267.8 395.5 267.6 396.1 267.3 396.7 267.0 397.1 266.8 397.7 266.5 398.3 266.3 398.8 266.1 399.5 265.9 400.3 265.8 401.1 265.8 401.9 266.0 402.3 266.1 402.9 266.5 403.4 266.9 403.7 267.3 403.9 267.8 404.1 268.5 404.0 269.3 403.9 269.8 403.6 270.5 403.4 270.9 403.1 271.3 402.7 271.8 402.3 272.2 401.9 272.5 401.4 272.9 400.8 273.3 400.3 273.6 399.9 273.9 399.5 274.1 398.9 274.5 398.3 274.9 397.9 275.2 397.5 275.6 397.1 275.9 396.7 276.3 396.3 276.6 395.9 276.9 395.5 277.3 395.0 277.7 394.4 278.1 393.9 278.5 393.5 278.8 393.1 279.0 392.7 279.3 392.1 279.7 391.5 280.1 391.1 280.4 390.7 280.7 390.3 280.9 389.8 281.3 389.3 281.7 388.9 282.1 388.4 282.5 387.9 282.9 387.5 283.3 387.1 283.6 386.7 284.0 386.3 284.3 385.9 284.6 385.5 284.9 384.9 285.3 384.3 285.7 383.9 285.9 383.5 286.2 382.9 286.5 382.3 286.8 381.9 287.0 381.1 287.3 380.7 287.4 379.9 287.7 379.5 287.8 378.7 288.0 378.3 288.1Z" fill="none" stroke="#686868" stroke-width="0.6"/>
<path d="M377.1 287.3 376.3 287.3 375.5 287.3 375.1 287.3 374.3 287.1 373.5 286.9 373.1 286.7 372.7 286.5 372.1 286.1 371.7 285.7 371.4 285.3 371.1 284.8 370.9 284.1 370.8 283.3 370.9 282.5 371.1 281.9 371.3 281.3 371.5 280.9 371.9 280.3 372.3 279.7 372.6 279.3 373.0 278.9 373.4 278.5 373.9 278.1 374.3 277.7 374.7 277.4 375.1 277.1 375.5 276.9 376.1 276.5 376.7 276.2 377.1 276.0 377.8 275.7 378.3 275.5 378.8 275.3 379.5 275.0 380.0 274.9 380.7 274.7 381.4 274.5 381.9 274.3 382.7 274.1 383.1 274.0 383.9 273.7 384.3 273.6 384.9 273.3 385.5 273.0 385.9 272.8 386.5 272.5 387.1 272.1 387.5 271.9 387.9 271.7 388.6 271.3 389.1 271.0 389.5 270.8 390.2 270.5 390.7 270.3 391.3 270.1 391.9 269.9 392.5 269.7 393.1 269.5 393.9 269.3 394.3 269.2 395.1 268.9 395.5 268.7 396.0 268.5 396.7 268.1 397.1 267.9 397.5 267.7 398.3 267.3 398.7 267.1 399.5 266.9 399.9 266.9 400.7 266.9 401.1 266.9 401.9 267.3 402.3 267.6 402.7 268.1 402.8 268.5 402.9 269.3 402.7 270.0 402.5 270.5 402.2 270.9 401.8 271.3 401.4 271.7 400.9 272.1 400.3 272.5 399.9 272.7 399.5 272.9 398.8 273.3 398.3 273.6 397.9 273.9 397.5 274.2 397.1 274.5 396.7 274.9 396.3 275.3 395.8 275.7 395.4 276.1 395.0 276.5 394.5 276.9 394.0 277.3 393.5 277.6 393.1 277.9 392.7 278.2 392.2 278.5 391.6 278.9 391.1 279.2 390.7 279.5 390.3 279.8 389.8 280.1 389.3 280.5 388.8 280.9 388.3 281.3 387.9 281.6 387.5 282.0 387.1 282.4 386.7 282.7 386.3 283.1 385.9 283.4 385.5 283.7 385.0 284.1 384.5 284.5 383.9 284.9 383.5 285.2 383.1 285.4 382.5 285.7 381.9 286.0 381.5 286.2 380.7 286.5 380.3 286.6 379.5 286.9 379.1 287.0 378.3 287.2 377.5 287.3 377.1 287.3Z" fill="none" stroke="#5a5a5a" stroke-width="0.6"/>
<path d="M379.1 286.2 378.3 286.3 377.5 286.4 376.7 286.5 375.9 286.4 375.1 286.3 374.4 286.1 373.9 285.9 373.5 285.7 373.0 285.3 372.7 284.9 372.3 284.3 372.1 283.7 372.0 282.9 372.2 282.1 372.3 281.7 372.6 280.9 372.9 280.5 373.2 280.1 373.5 279.7 373.9 279.2 374.3 278.8 374.7 278.5 375.1 278.1 375.7 277.7 376.3 277.3 376.7 277.1 377.1 276.9 377.8 276.5 378.3 276.3 378.8 276.1 379.5 275.9 380.0 275.7 380.7 275.5 381.5 275.3 381.9 275.2 382.7 275.0 383.1 274.9 383.9 274.7 384.4 274.5 385.1 274.2 385.5 274.0 386.1 273.7 386.7 273.4 387.1 273.1 387.5 272.9 388.2 272.5 388.7 272.2 389.1 272.0 389.7 271.7 390.3 271.4 390.7 271.3 391.5 271.0 391.9 270.8 392.7 270.6 393.4 270.5 393.9 270.4 394.7 270.2 395.3 270.1 395.9 269.9 396.3 269.7 396.9 269.3 397.5 268.9 397.9 268.7 398.3 268.4 399.1 268.1 399.5 268.0 400.3 268.0 400.7 268.1 401.3 268.5 401.5 268.9 401.5 269.7 401.4 270.1 401.1 270.5 400.7 270.9 400.2 271.3 399.6 271.7 399.1 271.9 398.7 272.1 397.9 272.5 397.5 272.7 397.1 273.0 396.7 273.4 396.3 273.8 395.9 274.2 395.5 274.7 395.1 275.1 394.7 275.5 394.3 275.9 393.9 276.2 393.5 276.5 393.0 276.9 392.5 277.3 391.9 277.7 391.5 277.9 391.1 278.2 390.6 278.5 390.0 278.9 389.5 279.2 389.1 279.5 388.7 279.8 388.3 280.1 387.8 280.5 387.4 280.9 387.0 281.3 386.6 281.7 386.1 282.1 385.7 282.5 385.3 282.9 384.8 283.3 384.3 283.7 383.9 284.0 383.5 284.2 383.1 284.5 382.4 284.9 381.9 285.1 381.5 285.3 380.7 285.7 380.3 285.8 379.5 286.1 379.1 286.2Z" fill="none" stroke="#4a4a4a" stroke-width="0.6"/>
<path d="M379.1 285.4 378.3 285.5 377.5 285.6 376.7 285.6 375.9 285.5 375.1 285.3 374.7 285.1 374.3 284.9 373.9 284.5 373.5 284.0 373.2 283.3 373.2 282.5 373.4 281.7 373.5 281.3 373.9 280.6 374.2 280.1 374.6 279.7 374.9 279.3 375.4 278.9 375.9 278.5 376.3 278.2 376.7 277.9 377.1 277.7 377.8 277.3 378.3 277.1 378.8 276.9 379.5 276.6 379.9 276.5 380.7 276.3 381.5 276.1 381.9 276.0 382.7 275.8 383.4 275.7 383.9 275.6 384.7 275.4 385.1 275.2 385.9 274.9 386.3 274.7 386.7 274.5 387.3 274.1 387.9 273.7 388.3 273.5 388.7 273.3 389.3 272.9 389.9 272.6 390.3 272.4 391.1 272.1 391.5 272.0 392.3 271.8 393.1 271.8 393.9 271.8 394.7 272.1 394.9 272.5 394.8 273.3 394.6 273.7 394.3 274.3 393.9 274.8 393.5 275.3 393.1 275.6 392.7 276.0 392.3 276.3 391.9 276.6 391.4 276.9 390.8 277.3 390.3 277.6 389.9 277.8 389.5 278.1 388.8 278.5 388.3 278.9 387.9 279.2 387.5 279.6 387.1 279.9 386.7 280.3 386.3 280.7 385.9 281.2 385.5 281.6 385.1 282.0 384.7 282.3 384.3 282.7 383.9 283.0 383.5 283.3 383.0 283.7 382.3 284.1 381.9 284.3 381.5 284.5 380.7 284.9 380.3 285.0 379.5 285.3 379.1 285.4Z" fill="none" stroke="#3a3a3a" stroke-width="0.6"/>
<path d="M379.5 284.6 378.7 284.7 377.9 284.8 377.1 284.8 376.3 284.7 375.7 284.5 375.1 284.1 374.7 283.7 374.4 283.3 374.3 282.8 374.3 282.1 374.4 281.7 374.7 280.9 374.9 280.5 375.2 280.1 375.6 279.7 376.0 279.3 376.5 278.9 377.1 278.5 377.5 278.2 377.9 278.0 378.6 277.7 379.1 277.5 379.7 277.3 380.3 277.1 381.1 276.9 381.5 276.9 382.3 276.7 383.1 276.6 383.9 276.5 384.3 276.5 385.1 276.4 385.9 276.2 386.3 276.0 387.0 275.7 387.5 275.4 387.9 275.2 388.3 274.9 388.9 274.5 389.5 274.1 389.9 273.9 390.4 273.7 391.1 273.5 391.9 273.5 392.3 273.7 392.3 274.4 392.0 274.9 391.6 275.3 391.1 275.7 390.7 276.0 390.3 276.2 389.8 276.5 389.1 276.9 388.7 277.1 388.3 277.4 387.8 277.7 387.4 278.1 387.0 278.5 386.6 278.9 386.3 279.3 385.9 279.8 385.5 280.3 385.1 280.8 384.7 281.3 384.3 281.7 383.9 282.1 383.5 282.4 383.1 282.7 382.7 283.0 382.3 283.3 381.6 283.7 381.1 284.0 380.7 284.2 379.9 284.4 379.5 284.6Z" fill="none" stroke="#333" stroke-width="0.6"/>
<path d="M379.9 283.7 379.1 283.9 378.3 284.0 377.5 284.0 376.7 283.8 376.3 283.7 375.8 283.3 375.5 282.8 375.4 282.1 375.5 281.4 375.7 280.9 376.0 280.5 376.3 280.1 376.7 279.7 377.2 279.3 377.8 278.9 378.3 278.6 378.7 278.4 379.5 278.1 379.9 278.0 380.7 277.8 381.1 277.7 381.9 277.6 382.7 277.6 383.5 277.6 383.9 277.7 384.7 278.1 384.9 278.5 384.8 279.3 384.6 279.7 384.3 280.3 383.9 280.9 383.5 281.3 383.2 281.7 382.7 282.1 382.3 282.4 381.9 282.7 381.5 283.0 380.9 283.3 380.3 283.6 379.9 283.7Z" fill="none" stroke="#444" stroke-width="0.6"/>
<path d="M379.5 283.0 378.7 283.1 377.9 283.1 377.4 282.9 376.9 282.5 376.7 282.1 376.7 281.4 376.9 280.9 377.2 280.5 377.5 280.1 378.0 279.7 378.7 279.3 379.1 279.1 379.6 278.9 380.3 278.7 381.1 278.6 381.9 278.7 382.6 278.9 383.0 279.3 383.0 280.1 382.7 280.8 382.3 281.3 381.9 281.7 381.5 282.0 381.1 282.3 380.7 282.5 379.9 282.9 379.5 283.0Z" fill="none" stroke="#888" stroke-width="0.6"/>
</g>
<polygon points="381.7,256.2 399.7,232.7 414.7,232.2 414.7,275.2 403.1,294" fill="none" stroke="#333" stroke-width="0.8" stroke-linejoin="round"/>
<text x="361.7" y="245" font-size="13.3" text-anchor="start" fill="#000">15.5</text>
<rect x="417.3" y="229.7" width="81.8" height="81.3" fill="none" stroke="#8c8c8c" stroke-width="0.9"/>
<line x1="416.9" y1="311" x2="499.5" y2="311" stroke="#333" stroke-width="1"/>
<path d="M415.7 237.15h2.2 M415.7 255.85h2.2 M415.7 274h2.2 M415.7 293.41h2.2 M415.7 302.6h2.2 M416.7 250.24h1.2 M416.7 246.87h1.2 M416.7 244.63h1.2 M416.7 242.76h1.2 M416.7 241.45h1.2 M416.7 240.33h1.2 M416.7 239.39h1.2 M416.7 238.64h1.2 M416.7 237.9h1.2 M416.7 268.55h1.2 M416.7 265.28h1.2 M416.7 263.11h1.2 M416.7 261.29h1.2 M416.7 260.02h1.2 M416.7 258.93h1.2 M416.7 258.03h1.2 M416.7 257.3h1.2 M416.7 256.57h1.2 M416.7 287.58h1.2 M416.7 284.09h1.2 M416.7 281.76h1.2 M416.7 279.82h1.2 M416.7 278.46h1.2 M416.7 277.3h1.2 M416.7 276.32h1.2 M416.7 275.55h1.2 M416.7 274.77h1.2 M433.66 310.4v2.2 M453.83 310.4v2.2 M472.42 310.4v2.2 M491.16 310.4v2.2 M425.64 310.4v2.2 M439.71 310.4v1.2 M443.34 310.4v1.2 M445.76 310.4v1.2 M447.78 310.4v1.2 M449.19 310.4v1.2 M450.4 310.4v1.2 M451.41 310.4v1.2 M452.22 310.4v1.2 M453.03 310.4v1.2 M459.41 310.4v1.2 M462.75 310.4v1.2 M464.98 310.4v1.2 M466.84 310.4v1.2 M468.14 310.4v1.2 M469.26 310.4v1.2 M470.19 310.4v1.2 M470.93 310.4v1.2 M471.67 310.4v1.2 M478.04 310.4v1.2 M481.41 310.4v1.2 M483.66 310.4v1.2 M485.54 310.4v1.2 M486.85 310.4v1.2 M487.97 310.4v1.2 M488.91 310.4v1.2 M489.66 310.4v1.2 M490.41 310.4v1.2" stroke="#333" stroke-width="0.7" fill="none"/>
<clipPath id="c305"><rect x="417.8" y="230.2" width="80.8" height="80.3"/></clipPath><g clip-path="url(#c305)">
<path d="M463.7 290.5 462.9 290.6 462.1 290.6 461.3 290.6 460.5 290.5 460.1 290.5 459.3 290.3 458.7 290.1 458.1 289.8 457.7 289.6 457.3 289.3 456.9 288.9 456.5 288.4 456.1 287.7 455.9 287.3 455.8 286.5 455.8 285.7 455.8 284.9 456.0 284.1 456.2 283.7 456.5 282.9 456.7 282.5 456.9 282.1 457.3 281.5 457.7 280.9 458.0 280.5 458.3 280.1 458.7 279.7 459.0 279.3 459.4 278.9 459.9 278.5 460.3 278.1 460.8 277.7 461.3 277.3 461.7 277.0 462.1 276.7 462.5 276.4 463.0 276.1 463.7 275.7 464.1 275.4 464.5 275.2 465.1 274.9 465.7 274.6 466.1 274.5 466.9 274.1 467.3 273.9 468.0 273.7 468.5 273.5 469.1 273.3 469.7 273.0 470.1 272.9 470.9 272.5 471.3 272.2 471.7 272.0 472.1 271.6 472.5 271.3 472.9 270.9 473.3 270.4 473.7 270.0 474.1 269.6 474.5 269.1 474.9 268.7 475.3 268.3 475.7 267.9 476.1 267.5 476.5 267.1 476.9 266.8 477.3 266.5 477.8 266.1 478.3 265.7 478.9 265.3 479.3 265.0 479.7 264.8 480.1 264.5 480.7 264.1 481.3 263.7 481.7 263.4 482.1 263.1 482.5 262.8 482.9 262.4 483.3 262.1 483.8 261.7 484.4 261.3 484.9 261.0 485.3 260.8 485.9 260.5 486.5 260.3 487.2 260.1 487.7 260.0 488.5 260.0 489.3 260.0 489.7 260.1 490.5 260.3 491.0 260.5 491.7 260.9 492.1 261.1 492.5 261.4 492.9 261.8 493.3 262.3 493.7 262.8 494.0 263.3 494.2 263.7 494.4 264.5 494.5 264.9 494.6 265.7 494.6 266.5 494.5 267.3 494.4 267.7 494.2 268.5 494.0 268.9 493.7 269.5 493.3 270.1 493.1 270.5 492.8 270.9 492.4 271.3 492.1 271.7 491.7 272.2 491.3 272.6 490.9 273.1 490.5 273.5 490.1 274.0 489.7 274.5 489.4 274.9 489.0 275.3 488.7 275.7 488.3 276.1 487.9 276.5 487.5 276.9 487.1 277.3 486.6 277.7 486.2 278.1 485.7 278.5 485.3 278.8 484.9 279.1 484.5 279.4 484.0 279.7 483.3 280.1 482.9 280.4 482.5 280.6 481.9 280.9 481.3 281.2 480.9 281.4 480.3 281.7 479.7 282.0 479.3 282.2 478.7 282.5 478.1 282.8 477.7 283.1 477.3 283.3 476.8 283.7 476.2 284.1 475.7 284.5 475.3 284.8 474.9 285.2 474.5 285.5 474.1 285.8 473.7 286.1 473.1 286.5 472.5 286.9 472.1 287.2 471.7 287.5 471.3 287.7 470.6 288.1 470.1 288.4 469.7 288.6 469.0 288.9 468.5 289.1 468.1 289.3 467.3 289.6 466.9 289.7 466.1 290.0 465.7 290.1 464.9 290.3 464.1 290.5 463.7 290.5Z" fill="none" stroke="#707070" stroke-width="0.6"/>
<path d="M465.3 289.0 464.5 289.1 463.7 289.2 462.9 289.3 462.1 289.3 461.3 289.2 460.5 289.0 460.1 288.8 459.4 288.5 458.9 288.2 458.5 287.8 458.1 287.3 457.9 286.9 457.7 286.4 457.6 285.7 457.5 284.9 457.7 284.1 457.8 283.7 458.1 282.9 458.3 282.5 458.5 282.1 458.9 281.5 459.3 280.9 459.6 280.5 459.9 280.1 460.3 279.7 460.7 279.3 461.1 278.9 461.6 278.5 462.1 278.1 462.5 277.8 462.9 277.5 463.3 277.2 463.8 276.9 464.5 276.5 464.9 276.3 465.3 276.0 466.0 275.7 466.5 275.5 467.0 275.3 467.7 275.0 468.1 274.9 468.9 274.6 469.3 274.5 470.1 274.2 470.5 274.1 471.3 273.8 471.7 273.6 472.1 273.3 472.7 272.9 473.1 272.5 473.5 272.1 473.8 271.7 474.2 271.3 474.5 270.9 474.9 270.5 475.3 270.0 475.7 269.5 476.1 269.1 476.5 268.7 476.9 268.3 477.3 268.0 477.7 267.6 478.1 267.3 478.6 266.9 479.2 266.5 479.7 266.2 480.1 265.9 480.5 265.7 481.1 265.3 481.7 264.9 482.1 264.6 482.5 264.3 482.9 264.0 483.3 263.6 483.7 263.3 484.2 262.9 484.7 262.5 485.2 262.1 485.7 261.8 486.1 261.6 486.9 261.3 487.3 261.2 488.1 261.1 488.9 261.1 489.7 261.3 490.1 261.4 490.8 261.7 491.3 262.0 491.7 262.3 492.1 262.7 492.5 263.2 492.8 263.7 493.0 264.1 493.3 264.9 493.4 265.3 493.5 266.1 493.4 266.9 493.3 267.4 493.1 268.1 492.9 268.5 492.5 269.3 492.2 269.7 491.9 270.1 491.6 270.5 491.2 270.9 490.9 271.3 490.5 271.7 490.1 272.1 489.7 272.6 489.3 273.1 488.9 273.6 488.5 274.1 488.1 274.5 487.8 274.9 487.4 275.3 487.1 275.7 486.7 276.1 486.3 276.5 485.8 276.9 485.3 277.3 484.9 277.6 484.5 278.0 484.1 278.2 483.7 278.5 483.1 278.9 482.5 279.2 482.1 279.4 481.6 279.7 480.9 280.0 480.5 280.2 479.8 280.5 479.3 280.7 478.9 280.9 478.1 281.3 477.7 281.5 477.3 281.7 476.7 282.1 476.2 282.5 475.7 282.9 475.3 283.2 474.9 283.6 474.5 283.9 474.1 284.3 473.7 284.6 473.3 284.9 472.9 285.3 472.3 285.7 471.8 286.1 471.3 286.4 470.9 286.7 470.5 286.9 469.8 287.3 469.3 287.6 468.9 287.7 468.1 288.1 467.7 288.3 467.0 288.5 466.5 288.7 465.7 288.9 465.3 289.0Z" fill="none" stroke="#686868" stroke-width="0.6"/>
<path d="M464.9 288.1 464.1 288.2 463.3 288.3 462.5 288.2 461.9 288.1 461.3 288.0 460.7 287.7 460.1 287.3 459.7 287.0 459.3 286.5 459.1 286.1 458.9 285.3 458.9 284.9 458.9 284.4 459.0 283.7 459.3 282.9 459.5 282.5 459.7 282.1 460.1 281.4 460.5 280.9 460.8 280.5 461.2 280.1 461.5 279.7 462.0 279.3 462.4 278.9 462.9 278.5 463.3 278.2 463.7 277.9 464.1 277.7 464.7 277.3 465.3 277.0 465.7 276.8 466.3 276.5 466.9 276.2 467.3 276.1 468.1 275.8 468.5 275.7 469.3 275.4 469.8 275.3 470.5 275.1 471.2 274.9 471.7 274.7 472.2 274.5 472.9 274.1 473.3 273.8 473.7 273.4 474.1 273.0 474.5 272.5 474.8 272.1 475.1 271.7 475.4 271.3 475.7 270.9 476.1 270.4 476.5 270.0 476.9 269.5 477.3 269.1 477.7 268.8 478.1 268.4 478.5 268.1 479.0 267.7 479.6 267.3 480.1 267.0 480.5 266.7 480.9 266.5 481.5 266.1 482.1 265.7 482.5 265.4 482.9 265.1 483.3 264.8 483.7 264.5 484.1 264.1 484.6 263.7 485.1 263.3 485.6 262.9 486.1 262.6 486.5 262.4 487.3 262.1 487.7 262.1 488.5 262.0 489.3 262.1 489.7 262.2 490.4 262.5 490.9 262.8 491.3 263.2 491.7 263.6 492.0 264.1 492.2 264.5 492.5 265.3 492.5 265.7 492.5 266.5 492.5 266.9 492.3 267.7 492.1 268.2 491.7 268.9 491.4 269.3 491.1 269.7 490.8 270.1 490.4 270.5 490.0 270.9 489.6 271.3 489.3 271.7 488.9 272.1 488.5 272.6 488.1 273.1 487.7 273.6 487.3 274.1 487.0 274.5 486.6 274.9 486.2 275.3 485.8 275.7 485.4 276.1 484.9 276.5 484.5 276.9 484.1 277.2 483.7 277.4 483.3 277.7 482.7 278.1 482.1 278.4 481.7 278.6 481.1 278.9 480.5 279.2 480.1 279.3 479.3 279.6 478.9 279.8 478.1 280.1 477.7 280.3 477.3 280.5 476.6 280.9 476.1 281.2 475.7 281.6 475.3 281.9 474.9 282.3 474.5 282.7 474.1 283.1 473.7 283.4 473.3 283.8 472.9 284.2 472.5 284.5 472.0 284.9 471.4 285.3 470.9 285.7 470.5 285.9 470.1 286.2 469.5 286.5 468.9 286.8 468.5 287.0 467.8 287.3 467.3 287.5 466.7 287.7 466.1 287.9 465.3 288.1 464.9 288.1Z" fill="none" stroke="#5a5a5a" stroke-width="0.6"/>
<path d="M464.5 287.3 463.7 287.4 463.1 287.3 462.5 287.2 461.7 286.9 461.3 286.7 460.9 286.4 460.5 285.9 460.2 285.3 460.1 284.9 460.1 284.1 460.1 283.7 460.3 282.9 460.5 282.5 460.9 281.8 461.2 281.3 461.5 280.9 461.9 280.5 462.2 280.1 462.6 279.7 463.1 279.3 463.6 278.9 464.1 278.5 464.5 278.3 464.9 278.0 465.5 277.7 466.1 277.4 466.5 277.2 467.2 276.9 467.7 276.7 468.4 276.5 468.9 276.4 469.7 276.2 470.1 276.1 470.9 275.9 471.7 275.8 472.1 275.7 472.9 275.4 473.3 275.1 473.7 274.9 474.1 274.5 474.5 274.0 474.9 273.5 475.3 272.9 475.5 272.5 475.8 272.1 476.1 271.7 476.5 271.2 476.9 270.7 477.3 270.2 477.7 269.8 478.1 269.4 478.5 269.1 478.9 268.7 479.3 268.4 479.8 268.1 480.4 267.7 480.9 267.4 481.3 267.1 481.7 266.9 482.4 266.5 482.9 266.2 483.3 265.9 483.7 265.6 484.1 265.2 484.5 264.9 484.9 264.5 485.3 264.1 485.9 263.7 486.5 263.3 486.9 263.1 487.7 262.9 488.1 262.8 488.9 262.9 489.3 263.0 490.1 263.3 490.5 263.6 490.9 264.0 491.3 264.5 491.5 264.9 491.7 265.7 491.7 266.1 491.7 266.6 491.6 267.3 491.3 268.0 491.0 268.5 490.7 268.9 490.4 269.3 490.0 269.7 489.6 270.1 489.2 270.5 488.8 270.9 488.5 271.3 488.1 271.7 487.7 272.3 487.3 272.8 486.9 273.3 486.6 273.7 486.3 274.1 485.9 274.5 485.6 274.9 485.2 275.3 484.7 275.7 484.2 276.1 483.7 276.5 483.3 276.8 482.9 277.1 482.5 277.3 481.7 277.7 481.3 277.9 480.9 278.1 480.1 278.4 479.7 278.5 478.9 278.8 478.5 278.9 477.7 279.2 477.3 279.3 476.5 279.7 476.1 279.9 475.7 280.2 475.3 280.5 474.9 280.9 474.5 281.4 474.1 281.8 473.7 282.3 473.3 282.7 472.9 283.1 472.5 283.5 472.1 283.8 471.7 284.2 471.3 284.5 470.8 284.9 470.2 285.3 469.7 285.6 469.3 285.8 468.7 286.1 468.1 286.4 467.7 286.6 466.9 286.8 466.5 287.0 465.7 287.2 464.9 287.3 464.5 287.3Z" fill="none" stroke="#4a4a4a" stroke-width="0.6"/>
<path d="M464.5 286.5 464.1 286.5 463.3 286.4 462.5 286.1 462.1 285.9 461.7 285.5 461.3 284.9 461.2 284.5 461.2 283.7 461.3 283.0 461.5 282.5 461.7 282.1 462.1 281.4 462.5 280.9 462.9 280.5 463.3 280.1 463.7 279.7 464.1 279.4 464.5 279.1 464.9 278.8 465.4 278.5 466.1 278.1 466.5 277.9 467.1 277.7 467.7 277.5 468.3 277.3 468.9 277.1 469.7 277.0 470.4 276.9 470.9 276.8 471.7 276.8 472.5 276.7 473.3 276.6 473.8 276.5 474.4 276.1 474.7 275.7 475.0 275.3 475.3 274.8 475.6 274.1 475.8 273.7 476.1 273.2 476.5 272.6 476.8 272.1 477.1 271.7 477.4 271.3 477.7 270.9 478.1 270.5 478.5 270.1 478.9 269.7 479.4 269.3 479.9 268.9 480.5 268.5 480.9 268.2 481.3 268.0 481.9 267.7 482.5 267.4 482.9 267.2 483.3 266.9 483.9 266.5 484.4 266.1 484.8 265.7 485.2 265.3 485.6 264.9 486.1 264.5 486.5 264.2 486.9 264.0 487.7 263.7 488.1 263.7 488.7 263.7 489.3 263.9 489.8 264.1 490.2 264.5 490.5 264.9 490.8 265.7 490.9 266.5 490.7 267.3 490.5 267.8 490.1 268.4 489.7 268.9 489.3 269.3 488.9 269.6 488.5 270.0 488.1 270.4 487.7 270.9 487.4 271.3 487.1 271.7 486.8 272.1 486.5 272.6 486.1 273.1 485.7 273.6 485.3 274.1 484.9 274.5 484.5 274.9 484.1 275.3 483.7 275.6 483.3 275.9 482.9 276.2 482.4 276.5 481.7 276.9 481.3 277.1 480.7 277.3 480.1 277.5 479.4 277.7 478.9 277.8 478.1 278.0 477.3 278.1 476.9 278.1 476.1 278.3 475.7 278.5 475.1 278.9 474.8 279.3 474.5 279.7 474.1 280.2 473.7 280.8 473.4 281.3 473.1 281.7 472.7 282.1 472.4 282.5 472.0 282.9 471.6 283.3 471.2 283.7 470.7 284.1 470.1 284.5 469.7 284.8 469.3 285.0 468.8 285.3 468.1 285.6 467.7 285.8 466.9 286.1 466.5 286.2 465.7 286.4 464.9 286.5 464.5 286.5Z" fill="none" stroke="#3a3a3a" stroke-width="0.6"/>
<path d="M480.5 276.6 479.7 276.8 478.9 276.9 478.1 276.8 477.3 276.7 476.9 276.4 476.5 275.7 476.5 275.3 476.5 274.9 476.7 274.1 476.9 273.6 477.2 272.9 477.4 272.5 477.7 272.1 478.1 271.5 478.5 271.1 478.9 270.6 479.3 270.2 479.7 269.9 480.1 269.6 480.5 269.3 481.2 268.9 481.7 268.6 482.1 268.4 482.8 268.1 483.3 267.9 483.7 267.7 484.4 267.3 484.9 266.9 485.3 266.5 485.7 266.1 486.1 265.7 486.5 265.3 486.9 265.0 487.3 264.8 488.1 264.6 488.9 264.7 489.3 264.9 489.7 265.4 490.0 266.1 489.9 266.9 489.7 267.4 489.3 268.0 488.9 268.5 488.5 268.8 488.1 269.2 487.7 269.5 487.3 269.9 486.9 270.4 486.6 270.9 486.4 271.3 486.1 271.7 485.7 272.4 485.4 272.9 485.1 273.3 484.7 273.7 484.4 274.1 484.0 274.5 483.5 274.9 483.0 275.3 482.5 275.6 482.1 275.9 481.6 276.1 480.9 276.4 480.5 276.6ZM465.3 285.7 464.5 285.7 464.1 285.6 463.3 285.4 462.9 285.1 462.5 284.7 462.2 284.1 462.2 283.3 462.4 282.5 462.6 282.1 462.9 281.6 463.3 281.1 463.7 280.6 464.1 280.2 464.5 279.9 464.9 279.6 465.3 279.3 466.0 278.9 466.5 278.7 466.9 278.5 467.7 278.2 468.1 278.1 468.9 277.9 469.7 277.8 470.5 277.7 471.3 277.8 472.1 278.0 472.5 278.2 472.9 278.7 473.0 279.3 472.9 280.1 472.7 280.5 472.5 281.0 472.1 281.6 471.8 282.1 471.4 282.5 471.0 282.9 470.6 283.3 470.1 283.7 469.7 284.0 469.3 284.3 468.9 284.5 468.2 284.9 467.7 285.1 467.2 285.3 466.5 285.5 465.7 285.7 465.3 285.7Z" fill="none" stroke="#333" stroke-width="0.6"/>
<path d="M486.9 268.1 486.2 268.1 486.5 267.4 486.8 266.9 487.1 266.5 487.6 266.1 488.1 266.0 488.5 266.4 488.5 266.8 488.2 267.3 487.8 267.7 487.3 268.0 486.9 268.1ZM480.1 275.8 479.3 275.8 478.8 275.7 478.1 275.3 477.9 274.9 477.8 274.1 478.0 273.3 478.2 272.9 478.5 272.3 478.9 271.7 479.2 271.3 479.6 270.9 480.1 270.5 480.5 270.2 480.9 269.9 481.3 269.7 482.1 269.3 482.5 269.1 483.3 268.9 483.7 268.8 484.5 268.6 485.2 268.5 485.7 268.4 486.2 268.5 486.1 268.9 485.8 269.7 485.7 270.2 485.5 270.9 485.3 271.3 484.9 272.1 484.7 272.5 484.4 272.9 484.1 273.3 483.7 273.8 483.3 274.1 482.9 274.5 482.3 274.9 481.7 275.2 481.3 275.4 480.5 275.7 480.1 275.8ZM465.7 284.9 465.2 284.9 464.5 284.8 463.9 284.5 463.5 284.1 463.3 283.7 463.3 282.9 463.4 282.5 463.7 281.8 464.1 281.3 464.4 280.9 464.8 280.5 465.3 280.1 465.7 279.8 466.1 279.6 466.7 279.3 467.3 279.0 467.7 278.9 468.5 278.7 469.3 278.6 470.1 278.6 470.9 278.9 471.3 279.2 471.6 279.7 471.6 280.5 471.3 281.3 471.1 281.7 470.8 282.1 470.4 282.5 470.0 282.9 469.6 283.3 469.0 283.7 468.5 284.0 468.1 284.2 467.4 284.5 466.9 284.7 466.1 284.9 465.7 284.9Z" fill="none" stroke="#444" stroke-width="0.6"/>
<path d="M480.9 274.5 480.1 274.6 479.7 274.5 479.3 274.1 479.2 273.3 479.3 272.9 479.7 272.2 480.1 271.7 480.5 271.3 480.9 270.9 481.3 270.7 481.7 270.5 482.5 270.2 483.3 270.2 483.8 270.5 484.0 271.3 483.8 272.1 483.6 272.5 483.3 272.9 482.9 273.3 482.5 273.7 481.9 274.1 481.3 274.4 480.9 274.5ZM467.3 283.7 466.5 283.9 465.7 284.0 464.9 283.7 464.6 283.3 464.4 282.9 464.5 282.4 464.8 281.7 465.2 281.3 465.6 280.9 466.1 280.5 466.5 280.2 466.9 280.0 467.7 279.7 468.1 279.6 468.9 279.6 469.6 279.7 470.1 280.0 470.3 280.5 470.2 281.3 470.0 281.7 469.7 282.1 469.3 282.5 468.8 282.9 468.2 283.3 467.7 283.6 467.3 283.7Z" fill="none" stroke="#888" stroke-width="0.6"/>
</g>
<polygon points="466.3,256.2 484.3,232.7 499.3,232.2 499.3,275.2 487.7,294" fill="none" stroke="#333" stroke-width="0.8" stroke-linejoin="round"/>
<text x="446.3" y="245" font-size="13.3" text-anchor="start" fill="#000">48.3</text>
<rect x="502.4" y="229.7" width="81.8" height="81.3" fill="none" stroke="#8c8c8c" stroke-width="0.9"/>
<line x1="502" y1="311" x2="584.6" y2="311" stroke="#333" stroke-width="1"/>
<path d="M500.8 237.15h2.2 M500.8 255.85h2.2 M500.8 274h2.2 M500.8 293.41h2.2 M500.8 302.6h2.2 M501.8 250.24h1.2 M501.8 246.87h1.2 M501.8 244.63h1.2 M501.8 242.76h1.2 M501.8 241.45h1.2 M501.8 240.33h1.2 M501.8 239.39h1.2 M501.8 238.64h1.2 M501.8 237.9h1.2 M501.8 268.55h1.2 M501.8 265.28h1.2 M501.8 263.11h1.2 M501.8 261.29h1.2 M501.8 260.02h1.2 M501.8 258.93h1.2 M501.8 258.03h1.2 M501.8 257.3h1.2 M501.8 256.57h1.2 M501.8 287.58h1.2 M501.8 284.09h1.2 M501.8 281.76h1.2 M501.8 279.82h1.2 M501.8 278.46h1.2 M501.8 277.3h1.2 M501.8 276.32h1.2 M501.8 275.55h1.2 M501.8 274.77h1.2 M518.76 310.4v2.2 M538.93 310.4v2.2 M557.52 310.4v2.2 M576.26 310.4v2.2 M510.74 310.4v2.2 M524.81 310.4v1.2 M528.44 310.4v1.2 M530.86 310.4v1.2 M532.88 310.4v1.2 M534.29 310.4v1.2 M535.5 310.4v1.2 M536.51 310.4v1.2 M537.32 310.4v1.2 M538.13 310.4v1.2 M544.51 310.4v1.2 M547.85 310.4v1.2 M550.08 310.4v1.2 M551.94 310.4v1.2 M553.24 310.4v1.2 M554.36 310.4v1.2 M555.29 310.4v1.2 M556.03 310.4v1.2 M556.77 310.4v1.2 M563.14 310.4v1.2 M566.51 310.4v1.2 M568.76 310.4v1.2 M570.64 310.4v1.2 M571.95 310.4v1.2 M573.07 310.4v1.2 M574.01 310.4v1.2 M574.76 310.4v1.2 M575.51 310.4v1.2" stroke="#333" stroke-width="0.7" fill="none"/>
<clipPath id="c320"><rect x="502.9" y="230.2" width="80.8" height="80.3"/></clipPath><g clip-path="url(#c320)">
<path d="M552.0 289.7 551.2 289.8 550.4 289.9 549.6 289.8 548.8 289.7 548.4 289.7 547.6 289.4 547.2 289.3 546.5 288.9 546.0 288.5 545.6 288.2 545.2 287.7 544.9 287.3 544.7 286.9 544.4 286.1 544.3 285.7 544.2 284.9 544.2 284.1 544.3 283.3 544.4 282.9 544.7 282.1 544.8 281.7 545.2 280.9 545.4 280.5 545.6 280.1 546.0 279.5 546.4 278.9 546.7 278.5 547.0 278.1 547.4 277.7 547.7 277.3 548.1 276.9 548.6 276.5 549.0 276.1 549.5 275.7 550.0 275.3 550.4 275.0 550.8 274.8 551.2 274.5 551.9 274.1 552.4 273.8 552.8 273.6 553.4 273.3 554.0 273.0 554.4 272.8 555.2 272.5 555.6 272.3 556.0 272.1 556.6 271.7 557.1 271.3 557.5 270.9 557.8 270.5 558.0 270.1 558.4 269.5 558.7 268.9 558.9 268.5 559.2 268.0 559.6 267.3 559.8 266.9 560.1 266.5 560.4 266.0 560.8 265.4 561.2 264.9 561.5 264.5 561.8 264.1 562.2 263.7 562.6 263.3 562.9 262.9 563.4 262.5 563.8 262.1 564.3 261.7 564.8 261.3 565.2 261.0 565.6 260.7 566.0 260.4 566.5 260.1 567.2 259.7 567.6 259.5 568.0 259.3 568.8 259.0 569.2 258.8 570.0 258.6 570.4 258.5 571.2 258.3 572.0 258.2 572.8 258.2 573.6 258.3 574.4 258.4 574.8 258.6 575.5 258.9 576.0 259.2 576.4 259.5 576.8 259.9 577.2 260.4 577.5 260.9 577.7 261.3 578.0 262.0 578.1 262.5 578.3 263.3 578.3 264.1 578.3 264.9 578.2 265.7 578.1 266.5 578.0 266.9 577.7 267.7 577.6 268.1 577.3 268.9 577.1 269.3 576.8 270.0 576.5 270.5 576.3 270.9 576.0 271.4 575.6 272.0 575.3 272.5 575.0 272.9 574.7 273.3 574.3 273.7 574.0 274.1 573.6 274.5 573.2 275.0 572.8 275.3 572.4 275.7 572.0 276.1 571.5 276.5 571.0 276.9 570.4 277.3 570.0 277.6 569.6 277.9 569.2 278.1 568.5 278.5 568.0 278.8 567.6 279.0 567.1 279.3 566.4 279.7 566.0 280.0 565.6 280.2 565.2 280.5 564.8 280.9 564.4 281.3 564.0 281.7 563.6 282.1 563.2 282.6 562.8 283.1 562.4 283.5 562.0 284.0 561.6 284.4 561.2 284.8 560.8 285.2 560.4 285.6 560.0 285.9 559.6 286.2 559.2 286.5 558.7 286.9 558.1 287.3 557.6 287.6 557.2 287.9 556.7 288.1 556.0 288.5 555.6 288.7 555.0 288.9 554.4 289.1 553.8 289.3 553.2 289.5 552.4 289.7 552.0 289.7Z" fill="none" stroke="#707070" stroke-width="0.6"/>
<path d="M553.2 288.2 552.4 288.3 551.6 288.4 550.8 288.4 550.0 288.4 549.2 288.2 548.8 288.1 548.0 287.8 547.6 287.5 547.2 287.2 546.8 286.8 546.4 286.2 546.2 285.7 546.0 285.2 545.9 284.5 545.9 283.7 546.0 282.9 546.1 282.5 546.3 281.7 546.5 281.3 546.8 280.6 547.1 280.1 547.4 279.7 547.6 279.3 548.0 278.8 548.4 278.3 548.8 277.9 549.2 277.5 549.6 277.1 550.0 276.8 550.4 276.5 550.9 276.1 551.5 275.7 552.0 275.4 552.4 275.1 552.9 274.9 553.6 274.5 554.0 274.3 554.6 274.1 555.2 273.9 555.7 273.7 556.4 273.4 556.8 273.3 557.5 272.9 558.0 272.6 558.4 272.2 558.8 271.7 559.0 271.3 559.3 270.9 559.6 270.2 559.8 269.7 560.0 269.3 560.4 268.5 560.6 268.1 560.8 267.7 561.2 267.0 561.5 266.5 561.8 266.1 562.1 265.7 562.4 265.3 562.8 264.8 563.2 264.4 563.6 264.0 564.0 263.6 564.4 263.2 564.8 262.9 565.3 262.5 565.8 262.1 566.4 261.7 566.8 261.4 567.2 261.2 567.8 260.9 568.4 260.6 568.8 260.5 569.6 260.2 570.0 260.1 570.8 259.9 571.6 259.9 572.4 259.9 573.2 260.0 573.6 260.1 574.4 260.5 574.8 260.7 575.2 261.0 575.6 261.5 576.0 262.0 576.2 262.5 576.4 262.9 576.6 263.7 576.7 264.5 576.7 265.3 576.6 266.1 576.5 266.9 576.4 267.3 576.2 268.1 576.0 268.5 575.7 269.3 575.5 269.7 575.2 270.3 574.8 270.9 574.6 271.3 574.3 271.7 574.0 272.2 573.6 272.7 573.2 273.2 572.8 273.6 572.4 274.0 572.0 274.4 571.6 274.8 571.2 275.1 570.8 275.5 570.4 275.8 569.9 276.1 569.3 276.5 568.8 276.8 568.4 277.1 567.9 277.3 567.2 277.7 566.8 277.9 566.3 278.1 565.6 278.4 565.2 278.7 564.8 278.9 564.3 279.3 563.8 279.7 563.5 280.1 563.1 280.5 562.8 280.9 562.4 281.5 562.0 282.0 561.6 282.5 561.3 282.9 561.0 283.3 560.6 283.7 560.2 284.1 559.8 284.5 559.4 284.9 558.9 285.3 558.4 285.7 558.0 286.0 557.6 286.3 557.2 286.5 556.5 286.9 556.0 287.2 555.6 287.4 554.8 287.7 554.4 287.8 553.6 288.1 553.2 288.2Z" fill="none" stroke="#686868" stroke-width="0.6"/>
<path d="M552.4 287.3 551.6 287.4 550.8 287.3 550.4 287.3 549.6 287.1 549.2 286.9 548.5 286.5 548.0 286.1 547.7 285.7 547.5 285.3 547.2 284.5 547.1 284.1 547.1 283.3 547.2 282.7 547.3 282.1 547.6 281.4 547.8 280.9 548.0 280.5 548.4 279.9 548.8 279.3 549.1 278.9 549.5 278.5 549.9 278.1 550.3 277.7 550.8 277.3 551.2 277.0 551.6 276.7 552.0 276.4 552.5 276.1 553.2 275.7 553.6 275.5 554.1 275.3 554.8 275.0 555.2 274.9 556.0 274.6 556.5 274.5 557.2 274.3 557.8 274.1 558.4 273.9 558.8 273.7 559.2 273.3 559.6 272.9 560.0 272.1 560.2 271.7 560.4 271.1 560.6 270.5 560.8 270.0 561.1 269.3 561.3 268.9 561.6 268.2 561.9 267.7 562.1 267.3 562.4 266.9 562.8 266.3 563.2 265.8 563.6 265.3 564.0 264.9 564.4 264.5 564.8 264.1 565.2 263.7 565.6 263.4 566.0 263.1 566.4 262.8 566.9 262.5 567.6 262.1 568.0 261.9 568.5 261.7 569.2 261.5 569.8 261.3 570.4 261.2 571.2 261.1 572.0 261.2 572.7 261.3 573.2 261.5 573.6 261.7 574.2 262.1 574.6 262.5 574.8 262.9 575.2 263.6 575.4 264.1 575.5 264.9 575.5 265.7 575.5 266.5 575.3 267.3 575.2 267.7 574.9 268.5 574.8 268.9 574.4 269.7 574.2 270.1 574.0 270.5 573.6 271.1 573.2 271.7 572.9 272.1 572.6 272.5 572.2 272.9 571.8 273.3 571.4 273.7 571.0 274.1 570.5 274.5 570.0 274.9 569.6 275.2 569.2 275.4 568.8 275.7 568.0 276.1 567.6 276.3 567.2 276.5 566.4 276.8 566.0 277.0 565.2 277.3 564.8 277.4 564.2 277.7 563.6 278.1 563.2 278.4 562.8 278.9 562.5 279.3 562.2 279.7 562.0 280.1 561.6 280.8 561.3 281.3 561.0 281.7 560.7 282.1 560.4 282.5 560.0 283.0 559.6 283.4 559.2 283.9 558.8 284.2 558.4 284.6 558.0 284.9 557.4 285.3 556.8 285.7 556.4 286.0 556.0 286.2 555.3 286.5 554.8 286.7 554.2 286.9 553.6 287.1 552.8 287.3 552.4 287.3Z" fill="none" stroke="#5a5a5a" stroke-width="0.6"/>
<path d="M554.0 286.1 553.2 286.3 552.4 286.4 551.6 286.4 550.8 286.3 550.1 286.1 549.6 285.8 549.2 285.5 548.8 285.1 548.4 284.5 548.3 284.1 548.2 283.3 548.3 282.5 548.4 281.9 548.6 281.3 548.8 280.9 549.2 280.2 549.5 279.7 549.9 279.3 550.2 278.9 550.6 278.5 551.0 278.1 551.5 277.7 552.0 277.3 552.4 277.1 552.8 276.8 553.4 276.5 554.0 276.2 554.4 276.1 555.2 275.8 555.6 275.7 556.4 275.5 557.2 275.3 557.6 275.3 558.4 275.2 559.2 275.1 559.8 274.9 560.4 274.5 560.7 274.1 560.8 273.7 561.1 272.9 561.2 272.2 561.3 271.7 561.5 270.9 561.6 270.5 561.9 269.7 562.0 269.3 562.4 268.5 562.6 268.1 562.8 267.7 563.2 267.1 563.6 266.6 564.0 266.1 564.3 265.7 564.7 265.3 565.1 264.9 565.5 264.5 566.0 264.1 566.4 263.8 566.8 263.6 567.3 263.3 568.0 262.9 568.4 262.7 569.1 262.5 569.6 262.4 570.4 262.2 571.2 262.2 572.0 262.4 572.4 262.5 573.1 262.9 573.6 263.3 573.9 263.7 574.1 264.1 574.4 264.9 574.4 265.3 574.5 266.1 574.4 266.9 574.3 267.3 574.1 268.1 574.0 268.5 573.7 269.3 573.5 269.7 573.2 270.2 572.8 270.9 572.5 271.3 572.2 271.7 571.9 272.1 571.5 272.5 571.1 272.9 570.7 273.3 570.2 273.7 569.7 274.1 569.2 274.4 568.8 274.7 568.4 274.9 567.6 275.3 567.2 275.5 566.6 275.7 566.0 275.9 565.2 276.1 564.8 276.2 564.0 276.3 563.2 276.5 562.8 276.6 562.4 276.9 562.0 277.3 561.6 278.1 561.5 278.5 561.2 279.2 561.0 279.7 560.8 280.2 560.4 280.9 560.2 281.3 559.9 281.7 559.6 282.2 559.2 282.7 558.8 283.1 558.4 283.5 558.0 283.9 557.6 284.2 557.2 284.5 556.6 284.9 556.0 285.3 555.6 285.5 555.1 285.7 554.4 286.0 554.0 286.1Z" fill="none" stroke="#4a4a4a" stroke-width="0.6"/>
<path d="M565.6 274.9 564.8 274.9 564.3 274.9 563.6 274.7 563.2 274.5 562.8 274.1 562.5 273.3 562.4 272.9 562.3 272.1 562.4 271.3 562.5 270.9 562.7 270.1 562.8 269.6 563.1 268.9 563.3 268.5 563.6 267.9 564.0 267.3 564.3 266.9 564.6 266.5 565.0 266.1 565.4 265.7 565.8 265.3 566.3 264.9 566.8 264.5 567.2 264.3 567.6 264.0 568.3 263.7 568.8 263.5 569.6 263.3 570.0 263.3 570.8 263.3 571.2 263.3 572.0 263.6 572.4 263.9 572.8 264.3 573.2 264.9 573.3 265.3 573.5 266.1 573.5 266.9 573.4 267.7 573.2 268.3 573.0 268.9 572.8 269.3 572.4 270.1 572.1 270.5 571.9 270.9 571.6 271.3 571.2 271.7 570.8 272.1 570.4 272.5 570.0 272.9 569.5 273.3 568.9 273.7 568.4 274.0 568.0 274.2 567.3 274.5 566.8 274.7 566.0 274.9 565.6 274.9ZM553.6 285.4 552.8 285.5 552.0 285.5 551.2 285.4 550.8 285.2 550.2 284.9 549.8 284.5 549.5 284.1 549.3 283.3 549.3 282.5 549.4 281.7 549.6 281.3 550.0 280.5 550.2 280.1 550.5 279.7 550.9 279.3 551.3 278.9 551.7 278.5 552.2 278.1 552.8 277.7 553.2 277.5 553.6 277.2 554.4 276.9 554.8 276.7 555.6 276.5 556.0 276.4 556.8 276.3 557.6 276.3 558.4 276.4 558.8 276.6 559.4 276.9 559.8 277.3 560.0 277.7 560.1 278.5 560.0 279.3 559.9 279.7 559.6 280.5 559.4 280.9 559.2 281.3 558.8 281.9 558.4 282.4 558.0 282.9 557.6 283.2 557.2 283.6 556.8 283.9 556.4 284.2 555.9 284.5 555.2 284.8 554.8 285.0 554.0 285.3 553.6 285.4Z" fill="none" stroke="#3a3a3a" stroke-width="0.6"/>
<path d="M566.8 273.8 566.0 273.9 565.2 273.8 564.7 273.7 564.0 273.3 563.7 272.9 563.5 272.5 563.4 271.7 563.4 270.9 563.5 270.1 563.6 269.7 563.9 268.9 564.1 268.5 564.4 268.0 564.8 267.4 565.2 266.9 565.6 266.5 566.0 266.1 566.4 265.7 566.8 265.4 567.2 265.1 567.6 264.9 568.4 264.5 568.8 264.4 569.6 264.2 570.4 264.2 571.2 264.4 571.6 264.7 572.0 265.1 572.4 265.7 572.5 266.1 572.6 266.9 572.5 267.7 572.4 268.1 572.1 268.9 572.0 269.3 571.6 270.0 571.3 270.5 571.0 270.9 570.6 271.3 570.3 271.7 569.8 272.1 569.3 272.5 568.8 272.9 568.4 273.1 568.0 273.3 567.2 273.6 566.8 273.8ZM553.6 284.6 552.8 284.7 552.0 284.6 551.6 284.5 551.0 284.1 550.6 283.7 550.4 283.3 550.3 282.5 550.4 281.7 550.5 281.3 550.8 280.7 551.2 280.1 551.5 279.7 551.9 279.3 552.3 278.9 552.8 278.5 553.2 278.3 553.6 278.1 554.4 277.7 554.8 277.5 555.6 277.3 556.0 277.3 556.8 277.3 557.2 277.3 558.0 277.6 558.4 277.9 558.8 278.5 558.9 278.9 558.9 279.7 558.8 280.1 558.5 280.9 558.3 281.3 558.0 281.7 557.6 282.2 557.2 282.6 556.8 283.0 556.4 283.3 555.8 283.7 555.2 284.0 554.8 284.2 554.0 284.5 553.6 284.6Z" fill="none" stroke="#333" stroke-width="0.6"/>
<path d="M567.6 272.6 566.8 272.8 566.0 272.8 565.2 272.6 564.8 272.2 564.5 271.7 564.4 271.3 564.3 270.5 564.4 270.1 564.6 269.3 564.8 268.9 565.2 268.1 565.5 267.7 565.8 267.3 566.2 266.9 566.6 266.5 567.1 266.1 567.6 265.8 568.0 265.6 568.8 265.3 569.2 265.2 570.0 265.2 570.4 265.3 571.0 265.7 571.3 266.1 571.6 266.9 571.6 267.3 571.6 267.8 571.4 268.5 571.2 269.1 570.9 269.7 570.7 270.1 570.4 270.5 570.0 270.9 569.6 271.3 569.2 271.7 568.6 272.1 568.0 272.4 567.6 272.6ZM553.6 283.7 552.8 283.7 552.4 283.6 551.9 283.3 551.5 282.9 551.3 282.1 551.5 281.3 551.7 280.9 552.0 280.4 552.4 279.9 552.8 279.5 553.2 279.2 553.6 278.9 554.4 278.5 554.8 278.4 555.6 278.2 556.4 278.3 557.1 278.5 557.5 278.9 557.7 279.3 557.7 280.1 557.6 280.6 557.3 281.3 557.0 281.7 556.6 282.1 556.2 282.5 555.7 282.9 555.2 283.2 554.8 283.4 554.0 283.6 553.6 283.7Z" fill="none" stroke="#444" stroke-width="0.6"/>
<path d="M566.8 271.7 566.4 271.7 565.8 271.3 565.5 270.9 565.4 270.1 565.6 269.3 565.7 268.9 566.0 268.4 566.4 267.9 566.8 267.4 567.2 267.1 567.6 266.8 568.2 266.5 568.8 266.4 569.6 266.4 570.0 266.6 570.4 267.1 570.6 267.7 570.5 268.5 570.3 268.9 570.0 269.6 569.6 270.1 569.3 270.5 568.8 270.9 568.4 271.2 568.0 271.4 567.2 271.7 566.8 271.7ZM554.0 282.5 553.5 282.5 552.9 282.1 552.7 281.7 552.8 281.2 553.2 280.5 553.6 280.1 554.0 279.8 554.4 279.6 555.2 279.4 556.0 279.6 556.3 280.1 556.2 280.9 556.0 281.3 555.6 281.7 555.1 282.1 554.4 282.4 554.0 282.5Z" fill="none" stroke="#888" stroke-width="0.6"/>
</g>
<polygon points="551.4,256.2 569.4,232.7 584.4,232.2 584.4,275.2 572.8,294" fill="none" stroke="#333" stroke-width="0.8" stroke-linejoin="round"/>
<text x="531.4" y="245" font-size="13.3" text-anchor="start" fill="#000">53.5</text>
<rect x="332.7" y="318.2" width="81.8" height="81.3" fill="none" stroke="#8c8c8c" stroke-width="0.9"/>
<line x1="332.3" y1="399.5" x2="414.9" y2="399.5" stroke="#333" stroke-width="1"/>
<path d="M331.1 325.65h2.2 M331.1 344.35h2.2 M331.1 362.5h2.2 M331.1 381.91h2.2 M331.1 391.1h2.2 M332.1 338.74h1.2 M332.1 335.37h1.2 M332.1 333.13h1.2 M332.1 331.26h1.2 M332.1 329.95h1.2 M332.1 328.83h1.2 M332.1 327.89h1.2 M332.1 327.14h1.2 M332.1 326.4h1.2 M332.1 357.05h1.2 M332.1 353.78h1.2 M332.1 351.61h1.2 M332.1 349.79h1.2 M332.1 348.52h1.2 M332.1 347.43h1.2 M332.1 346.53h1.2 M332.1 345.8h1.2 M332.1 345.07h1.2 M332.1 376.08h1.2 M332.1 372.59h1.2 M332.1 370.26h1.2 M332.1 368.32h1.2 M332.1 366.96h1.2 M332.1 365.8h1.2 M332.1 364.82h1.2 M332.1 364.05h1.2 M332.1 363.27h1.2 M349.06 398.9v2.2 M369.23 398.9v2.2 M387.82 398.9v2.2 M406.56 398.9v2.2 M341.04 398.9v2.2 M355.11 398.9v1.2 M358.74 398.9v1.2 M361.16 398.9v1.2 M363.18 398.9v1.2 M364.59 398.9v1.2 M365.8 398.9v1.2 M366.81 398.9v1.2 M367.62 398.9v1.2 M368.43 398.9v1.2 M374.81 398.9v1.2 M378.15 398.9v1.2 M380.38 398.9v1.2 M382.24 398.9v1.2 M383.54 398.9v1.2 M384.66 398.9v1.2 M385.59 398.9v1.2 M386.33 398.9v1.2 M387.07 398.9v1.2 M393.44 398.9v1.2 M396.81 398.9v1.2 M399.06 398.9v1.2 M400.94 398.9v1.2 M402.25 398.9v1.2 M403.37 398.9v1.2 M404.31 398.9v1.2 M405.06 398.9v1.2 M405.81 398.9v1.2" stroke="#333" stroke-width="0.7" fill="none"/>
<text x="328.7" y="327.15" font-size="3.6" text-anchor="end" fill="#444">10<tspan dy="-1.4" font-size="2.52">5</tspan></text>
<text x="328.7" y="345.85" font-size="3.6" text-anchor="end" fill="#444">10<tspan dy="-1.4" font-size="2.52">4</tspan></text>
<text x="328.7" y="364" font-size="3.6" text-anchor="end" fill="#444">10<tspan dy="-1.4" font-size="2.52">3</tspan></text>
<text x="328.7" y="383.41" font-size="3.6" text-anchor="end" fill="#444">10<tspan dy="-1.4" font-size="2.52">2</tspan></text>
<text x="328.7" y="392.6" font-size="3.6" text-anchor="end" fill="#444">0</text>
<text x="349.06" y="407.5" font-size="3.6" text-anchor="middle" fill="#333">10<tspan dy="-1.4" font-size="2.52">2</tspan></text>
<text x="369.23" y="407.5" font-size="3.6" text-anchor="middle" fill="#333">10<tspan dy="-1.4" font-size="2.52">3</tspan></text>
<text x="387.82" y="407.5" font-size="3.6" text-anchor="middle" fill="#333">10<tspan dy="-1.4" font-size="2.52">4</tspan></text>
<text x="406.56" y="407.5" font-size="3.6" text-anchor="middle" fill="#333">10<tspan dy="-1.4" font-size="2.52">5</tspan></text>
<text x="341.04" y="407.5" font-size="3.6" text-anchor="middle" fill="#333">0</text>
<clipPath id="c345"><rect x="333.2" y="318.7" width="80.8" height="80.3"/></clipPath><g clip-path="url(#c345)">
<path d="M374.3 380.6 373.5 380.6 372.7 380.6 372.3 380.6 371.5 380.5 370.7 380.3 370.3 380.1 369.5 379.8 369.1 379.6 368.7 379.3 368.3 378.9 367.9 378.5 367.5 378.0 367.2 377.4 367.0 377.0 366.8 376.2 366.8 375.4 366.8 374.6 367.0 373.8 367.1 373.3 367.3 372.6 367.5 372.2 367.9 371.4 368.1 371.0 368.4 370.6 368.7 370.1 369.1 369.6 369.5 369.1 369.9 368.6 370.3 368.2 370.7 367.8 371.1 367.4 371.5 367.1 371.9 366.8 372.3 366.4 372.7 366.1 373.2 365.8 373.8 365.4 374.3 365.1 374.7 364.8 375.1 364.6 375.9 364.2 376.3 364.0 376.7 363.8 377.5 363.5 377.9 363.3 378.6 363.0 379.1 362.8 379.6 362.6 380.3 362.3 380.7 362.2 381.4 361.8 381.9 361.6 382.3 361.3 382.8 361.0 383.5 360.6 383.9 360.3 384.3 360.0 384.7 359.8 385.2 359.4 385.9 359.0 386.3 358.7 386.7 358.5 387.2 358.2 387.9 357.8 388.3 357.6 388.8 357.4 389.5 357.1 389.9 356.9 390.7 356.6 391.1 356.4 391.6 356.2 392.3 355.9 392.7 355.7 393.3 355.4 393.9 355.1 394.3 354.9 395.1 354.6 395.5 354.5 396.3 354.3 397.1 354.2 397.5 354.2 398.0 354.2 398.7 354.3 399.5 354.5 399.9 354.7 400.4 355.0 400.9 355.4 401.3 355.8 401.6 356.2 401.9 356.8 402.1 357.4 402.2 358.2 402.2 359.0 402.0 359.8 401.9 360.2 401.5 361.0 401.3 361.4 401.0 361.8 400.7 362.2 400.3 362.7 399.9 363.1 399.5 363.5 399.1 363.8 398.7 364.2 398.2 364.6 397.7 365.0 397.3 365.4 396.8 365.8 396.4 366.2 395.9 366.6 395.5 367.0 395.1 367.3 394.7 367.6 394.3 367.9 393.9 368.2 393.3 368.6 392.7 369.0 392.3 369.3 391.9 369.6 391.5 369.9 391.0 370.2 390.5 370.6 390.1 371.0 389.6 371.4 389.3 371.8 388.9 372.2 388.5 372.6 388.2 373.0 387.8 373.4 387.5 373.8 387.1 374.2 386.7 374.6 386.3 375.0 385.9 375.4 385.4 375.8 385.0 376.2 384.5 376.6 383.9 377.0 383.5 377.3 383.1 377.6 382.7 377.8 382.0 378.2 381.5 378.5 381.1 378.7 380.4 379.0 379.9 379.2 379.5 379.4 378.7 379.7 378.3 379.8 377.5 380.1 377.0 380.2 376.3 380.4 375.5 380.5 374.7 380.6 374.3 380.6Z" fill="none" stroke="#707070" stroke-width="0.6"/>
<path d="M376.3 379.1 375.5 379.2 374.7 379.2 373.9 379.2 373.1 379.2 372.3 379.0 371.9 378.9 371.1 378.6 370.7 378.4 370.3 378.1 369.9 377.8 369.5 377.4 369.1 376.8 368.8 376.2 368.7 375.8 368.6 375.0 368.6 374.2 368.7 373.6 368.8 373.0 369.1 372.3 369.3 371.8 369.5 371.4 369.9 370.8 370.3 370.2 370.6 369.8 370.9 369.4 371.3 369.0 371.7 368.6 372.1 368.2 372.5 367.8 373.0 367.4 373.5 367.0 373.9 366.7 374.3 366.5 374.7 366.2 375.4 365.8 375.9 365.5 376.3 365.3 377.0 365.0 377.5 364.8 377.9 364.6 378.7 364.3 379.1 364.1 379.9 363.8 380.3 363.7 381.0 363.4 381.5 363.2 381.9 363.0 382.6 362.6 383.1 362.3 383.5 362.1 383.9 361.8 384.4 361.4 385.0 361.0 385.5 360.6 385.9 360.3 386.3 360.1 386.7 359.8 387.4 359.4 387.9 359.1 388.3 358.9 389.0 358.6 389.5 358.4 389.9 358.2 390.7 357.9 391.1 357.7 391.8 357.4 392.3 357.2 392.7 357.0 393.4 356.6 393.9 356.3 394.3 356.1 395.1 355.8 395.5 355.6 396.3 355.4 396.7 355.4 397.5 355.3 398.1 355.4 398.7 355.5 399.3 355.8 399.9 356.2 400.3 356.6 400.6 357.0 400.7 357.4 400.9 358.2 400.9 359.0 400.8 359.8 400.6 360.2 400.3 360.8 399.9 361.4 399.6 361.8 399.2 362.2 398.8 362.6 398.3 363.0 397.9 363.3 397.5 363.7 397.1 364.0 396.7 364.3 396.3 364.7 395.9 365.0 395.5 365.4 395.0 365.8 394.6 366.2 394.1 366.6 393.5 367.0 393.1 367.3 392.7 367.6 392.3 367.9 391.8 368.2 391.2 368.6 390.7 368.9 390.3 369.2 389.9 369.5 389.5 369.8 389.0 370.2 388.6 370.6 388.2 371.0 387.8 371.4 387.5 371.8 387.1 372.2 386.7 372.7 386.3 373.2 385.9 373.6 385.5 374.1 385.1 374.5 384.7 374.8 384.3 375.2 383.9 375.5 383.5 375.8 383.0 376.2 382.4 376.6 381.9 376.9 381.5 377.1 381.0 377.4 380.3 377.8 379.9 378.0 379.3 378.2 378.7 378.4 378.1 378.6 377.5 378.8 376.7 379.0 376.3 379.1Z" fill="none" stroke="#686868" stroke-width="0.6"/>
<path d="M377.5 377.8 376.7 378.0 375.9 378.1 375.1 378.2 374.3 378.2 373.5 378.1 372.7 377.9 372.3 377.7 371.7 377.4 371.1 377.0 370.7 376.6 370.4 376.2 370.2 375.8 370.0 375.0 369.9 374.2 370.0 373.4 370.2 372.6 370.4 372.2 370.7 371.5 371.0 371.0 371.2 370.6 371.5 370.2 371.9 369.8 372.3 369.3 372.7 368.9 373.1 368.5 373.5 368.2 374.0 367.8 374.5 367.4 375.1 367.0 375.5 366.7 375.9 366.5 376.5 366.2 377.1 365.9 377.5 365.7 378.3 365.4 378.7 365.2 379.4 365.0 379.9 364.8 380.6 364.6 381.1 364.4 381.7 364.2 382.3 363.9 382.7 363.7 383.3 363.4 383.9 363.0 384.3 362.7 384.7 362.4 385.1 362.1 385.5 361.8 386.0 361.4 386.6 361.0 387.1 360.7 387.5 360.4 387.9 360.2 388.6 359.8 389.1 359.6 389.5 359.4 390.3 359.1 390.7 358.9 391.5 358.6 391.9 358.4 392.4 358.2 393.1 357.8 393.5 357.6 393.9 357.4 394.6 357.0 395.1 356.8 395.5 356.6 396.3 356.4 397.1 356.3 397.9 356.4 398.5 356.6 399.1 357.0 399.5 357.4 399.7 357.8 399.9 358.6 399.8 359.4 399.5 360.2 399.3 360.6 399.0 361.0 398.7 361.4 398.3 361.8 397.8 362.2 397.3 362.6 396.8 363.0 396.3 363.4 395.9 363.7 395.5 364.1 395.1 364.4 394.7 364.8 394.3 365.2 393.9 365.5 393.5 365.9 393.1 366.2 392.5 366.6 392.0 367.0 391.5 367.3 391.1 367.5 390.7 367.8 390.0 368.2 389.5 368.5 389.1 368.8 388.7 369.1 388.3 369.4 387.8 369.8 387.5 370.2 387.1 370.6 386.7 371.1 386.3 371.6 385.9 372.1 385.5 372.6 385.2 373.0 384.8 373.4 384.4 373.8 384.0 374.2 383.6 374.6 383.1 375.0 382.7 375.3 382.3 375.6 381.9 375.9 381.4 376.2 380.7 376.6 380.3 376.8 379.8 377.0 379.1 377.3 378.7 377.5 377.9 377.7 377.5 377.8Z" fill="none" stroke="#5a5a5a" stroke-width="0.6"/>
<path d="M377.1 377.1 376.3 377.2 375.5 377.2 374.7 377.2 373.9 377.1 373.5 377.0 372.7 376.6 372.3 376.4 371.9 376.0 371.5 375.5 371.3 375.0 371.1 374.2 371.1 373.8 371.1 373.4 371.3 372.6 371.5 372.1 371.8 371.4 372.1 371.0 372.3 370.6 372.7 370.1 373.1 369.7 373.5 369.2 373.9 368.9 374.3 368.5 374.7 368.2 375.3 367.8 375.9 367.4 376.3 367.2 376.7 367.0 377.5 366.6 377.9 366.4 378.4 366.2 379.1 366.0 379.6 365.8 380.3 365.6 381.0 365.4 381.5 365.2 382.2 365.0 382.7 364.8 383.2 364.6 383.9 364.2 384.3 363.9 384.7 363.6 385.1 363.3 385.5 363.0 385.9 362.6 386.4 362.2 386.9 361.8 387.5 361.4 387.9 361.2 388.3 360.9 388.9 360.6 389.5 360.3 389.9 360.2 390.7 359.9 391.1 359.7 391.9 359.4 392.3 359.3 392.9 359.0 393.5 358.7 393.9 358.5 394.4 358.2 395.1 357.8 395.5 357.6 396.1 357.4 396.7 357.3 397.5 357.4 397.9 357.5 398.3 357.8 398.7 358.5 398.8 359.0 398.7 359.5 398.4 360.2 398.1 360.6 397.7 361.0 397.3 361.4 396.8 361.8 396.3 362.1 395.9 362.4 395.5 362.8 395.1 363.1 394.7 363.5 394.3 363.9 393.9 364.3 393.5 364.7 393.1 365.0 392.7 365.4 392.2 365.8 391.6 366.2 391.1 366.5 390.7 366.8 390.3 367.0 389.6 367.4 389.1 367.7 388.7 367.9 388.2 368.2 387.7 368.6 387.2 369.0 386.8 369.4 386.5 369.8 386.2 370.2 385.9 370.6 385.5 371.2 385.1 371.7 384.7 372.2 384.4 372.6 384.1 373.0 383.7 373.4 383.3 373.8 382.8 374.2 382.3 374.6 381.9 374.9 381.5 375.2 381.1 375.5 380.5 375.8 379.9 376.1 379.5 376.3 378.7 376.6 378.3 376.8 377.5 377.0 377.1 377.1Z" fill="none" stroke="#4a4a4a" stroke-width="0.6"/>
<path d="M377.1 376.3 376.3 376.4 375.5 376.4 374.7 376.3 374.3 376.2 373.5 375.8 373.1 375.5 372.7 375.1 372.4 374.6 372.3 374.2 372.2 373.4 372.3 372.8 372.5 372.2 372.7 371.7 373.1 371.0 373.3 370.6 373.7 370.2 374.0 369.8 374.4 369.4 374.9 369.0 375.4 368.6 375.9 368.3 376.3 368.0 376.7 367.8 377.5 367.4 377.9 367.2 378.4 367.0 379.1 366.8 379.7 366.6 380.3 366.4 381.1 366.3 381.5 366.2 382.3 366.0 383.1 365.8 383.5 365.7 384.2 365.4 384.7 365.1 385.1 364.8 385.5 364.4 385.9 364.0 386.3 363.7 386.7 363.3 387.1 362.9 387.5 362.6 388.0 362.2 388.6 361.8 389.1 361.5 389.5 361.3 390.3 361.0 390.7 360.9 391.5 360.7 392.0 360.6 392.7 360.5 393.5 360.2 393.9 360.1 394.3 359.8 394.9 359.4 395.5 359.1 395.9 358.9 396.7 358.9 397.1 359.4 396.7 360.1 396.3 360.5 395.9 360.8 395.5 361.0 395.0 361.4 394.6 361.8 394.2 362.2 393.9 362.6 393.5 363.1 393.1 363.6 392.7 364.1 392.3 364.5 391.9 364.8 391.5 365.1 391.1 365.4 390.5 365.8 389.9 366.1 389.5 366.3 388.9 366.6 388.3 366.9 387.9 367.1 387.3 367.4 386.7 367.8 386.3 368.2 385.9 368.6 385.7 369.0 385.4 369.4 385.1 370.0 384.8 370.6 384.5 371.0 384.3 371.4 383.9 371.9 383.5 372.4 383.1 372.9 382.7 373.3 382.3 373.7 381.9 374.0 381.5 374.3 381.1 374.6 380.5 375.0 379.9 375.3 379.5 375.5 378.8 375.8 378.3 376.0 377.5 376.2 377.1 376.3Z" fill="none" stroke="#3a3a3a" stroke-width="0.6"/>
<path d="M389.1 365.1 388.3 365.2 387.8 365.0 387.8 364.2 388.1 363.8 388.5 363.4 389.0 363.0 389.5 362.7 389.9 362.5 390.7 362.4 391.4 362.6 391.5 363.0 391.4 363.4 391.1 363.8 390.7 364.2 390.1 364.6 389.5 364.9 389.1 365.1ZM377.5 375.4 376.7 375.5 375.9 375.5 375.1 375.4 374.7 375.3 374.2 375.0 373.7 374.6 373.5 374.2 373.3 373.4 373.3 372.6 373.5 372.0 373.8 371.4 374.0 371.0 374.3 370.6 374.7 370.2 375.1 369.8 375.5 369.4 376.0 369.0 376.7 368.6 377.1 368.3 377.5 368.1 378.3 367.8 378.7 367.7 379.5 367.4 379.9 367.3 380.7 367.2 381.5 367.1 382.3 367.1 383.1 367.2 383.9 367.4 384.2 367.8 384.3 368.2 384.3 368.7 384.2 369.4 383.9 370.2 383.7 370.6 383.5 371.0 383.1 371.7 382.7 372.2 382.4 372.6 382.0 373.0 381.5 373.4 381.1 373.8 380.7 374.0 380.3 374.3 379.8 374.6 379.1 374.9 378.7 375.1 377.9 375.3 377.5 375.4Z" fill="none" stroke="#333" stroke-width="0.6"/>
<path d="M377.5 374.6 376.7 374.7 375.9 374.6 375.5 374.5 375.0 374.2 374.6 373.8 374.3 373.0 374.4 372.2 374.7 371.5 375.0 371.0 375.3 370.6 375.7 370.2 376.1 369.8 376.7 369.4 377.1 369.1 377.5 368.9 378.2 368.6 378.7 368.4 379.5 368.2 379.9 368.1 380.7 368.1 381.5 368.2 381.9 368.3 382.5 368.6 382.7 369.0 382.8 369.8 382.7 370.5 382.5 371.0 382.3 371.4 381.9 372.0 381.5 372.4 381.1 372.8 380.7 373.2 380.3 373.5 379.8 373.8 379.1 374.1 378.7 374.3 377.9 374.6 377.5 374.6Z" fill="none" stroke="#444" stroke-width="0.6"/>
<path d="M378.7 373.4 377.9 373.7 377.1 373.8 376.3 373.6 375.9 373.3 375.5 372.6 375.7 371.8 375.9 371.3 376.3 370.8 376.7 370.4 377.1 370.1 377.5 369.8 378.3 369.4 378.7 369.3 379.5 369.1 380.3 369.1 381.0 369.4 381.4 369.8 381.5 370.6 381.2 371.4 380.9 371.8 380.5 372.2 380.1 372.6 379.6 373.0 379.1 373.3 378.7 373.4Z" fill="none" stroke="#888" stroke-width="0.6"/>
</g>
<polygon points="380.7,346.8 394.7,325.7 414.7,323.2 414.7,374.2 402.7,386.9" fill="none" stroke="#333" stroke-width="0.8" stroke-linejoin="round"/>
<text x="361.7" y="332.4" font-size="13.3" text-anchor="start" fill="#000">14.6</text>
<rect x="417.3" y="318.2" width="81.8" height="81.3" fill="none" stroke="#8c8c8c" stroke-width="0.9"/>
<line x1="416.9" y1="399.5" x2="499.5" y2="399.5" stroke="#333" stroke-width="1"/>
<path d="M415.7 325.65h2.2 M415.7 344.35h2.2 M415.7 362.5h2.2 M415.7 381.91h2.2 M415.7 391.1h2.2 M416.7 338.74h1.2 M416.7 335.37h1.2 M416.7 333.13h1.2 M416.7 331.26h1.2 M416.7 329.95h1.2 M416.7 328.83h1.2 M416.7 327.89h1.2 M416.7 327.14h1.2 M416.7 326.4h1.2 M416.7 357.05h1.2 M416.7 353.78h1.2 M416.7 351.61h1.2 M416.7 349.79h1.2 M416.7 348.52h1.2 M416.7 347.43h1.2 M416.7 346.53h1.2 M416.7 345.8h1.2 M416.7 345.07h1.2 M416.7 376.08h1.2 M416.7 372.59h1.2 M416.7 370.26h1.2 M416.7 368.32h1.2 M416.7 366.96h1.2 M416.7 365.8h1.2 M416.7 364.82h1.2 M416.7 364.05h1.2 M416.7 363.27h1.2 M433.66 398.9v2.2 M453.83 398.9v2.2 M472.42 398.9v2.2 M491.16 398.9v2.2 M425.64 398.9v2.2 M439.71 398.9v1.2 M443.34 398.9v1.2 M445.76 398.9v1.2 M447.78 398.9v1.2 M449.19 398.9v1.2 M450.4 398.9v1.2 M451.41 398.9v1.2 M452.22 398.9v1.2 M453.03 398.9v1.2 M459.41 398.9v1.2 M462.75 398.9v1.2 M464.98 398.9v1.2 M466.84 398.9v1.2 M468.14 398.9v1.2 M469.26 398.9v1.2 M470.19 398.9v1.2 M470.93 398.9v1.2 M471.67 398.9v1.2 M478.04 398.9v1.2 M481.41 398.9v1.2 M483.66 398.9v1.2 M485.54 398.9v1.2 M486.85 398.9v1.2 M487.97 398.9v1.2 M488.91 398.9v1.2 M489.66 398.9v1.2 M490.41 398.9v1.2" stroke="#333" stroke-width="0.7" fill="none"/>
<text x="433.66" y="407.5" font-size="3.6" text-anchor="middle" fill="#333">10<tspan dy="-1.4" font-size="2.52">2</tspan></text>
<text x="453.83" y="407.5" font-size="3.6" text-anchor="middle" fill="#333">10<tspan dy="-1.4" font-size="2.52">3</tspan></text>
<text x="472.42" y="407.5" font-size="3.6" text-anchor="middle" fill="#333">10<tspan dy="-1.4" font-size="2.52">4</tspan></text>
<text x="491.16" y="407.5" font-size="3.6" text-anchor="middle" fill="#333">10<tspan dy="-1.4" font-size="2.52">5</tspan></text>
<text x="425.64" y="407.5" font-size="3.6" text-anchor="middle" fill="#333">0</text>
<clipPath id="c365"><rect x="417.8" y="318.7" width="80.8" height="80.3"/></clipPath><g clip-path="url(#c365)">
<path d="M458.9 376.6 458.5 376.6 457.7 376.6 456.9 376.5 456.1 376.3 455.6 376.2 454.9 376.0 454.5 375.8 453.8 375.4 453.3 375.1 452.9 374.7 452.5 374.2 452.2 373.8 452.1 373.4 451.8 372.6 451.8 371.8 451.8 371.0 452.0 370.2 452.2 369.8 452.5 369.0 452.7 368.6 452.9 368.2 453.3 367.6 453.7 367.1 454.1 366.6 454.4 366.2 454.8 365.8 455.2 365.4 455.6 365.0 456.1 364.6 456.5 364.3 456.9 363.9 457.3 363.6 457.7 363.3 458.2 363.0 458.8 362.6 459.3 362.3 459.7 362.1 460.2 361.8 460.9 361.4 461.3 361.2 461.7 361.0 462.5 360.7 462.9 360.5 463.6 360.2 464.1 360.0 464.8 359.8 465.3 359.6 466.0 359.4 466.5 359.2 467.2 359.0 467.7 358.8 468.3 358.6 468.9 358.3 469.3 358.1 469.8 357.8 470.3 357.4 470.8 357.0 471.3 356.6 471.7 356.2 472.1 355.8 472.5 355.4 472.9 355.0 473.3 354.7 473.7 354.3 474.1 354.0 474.5 353.7 474.9 353.4 475.5 353.0 476.1 352.6 476.5 352.3 476.9 352.1 477.4 351.8 478.1 351.4 478.5 351.2 478.9 351.0 479.7 350.6 480.1 350.4 480.6 350.2 481.3 349.8 481.7 349.6 482.1 349.3 482.6 349.0 483.2 348.6 483.7 348.2 484.1 348.0 484.5 347.7 485.2 347.4 485.7 347.2 486.3 347.0 486.9 346.9 487.7 346.8 488.5 346.8 489.3 346.9 489.7 347.0 490.5 347.3 490.9 347.5 491.4 347.8 491.9 348.2 492.3 348.6 492.7 349.0 493.0 349.4 493.3 350.0 493.6 350.6 493.7 351.0 493.9 351.8 494.0 352.6 493.9 353.4 493.7 354.2 493.6 354.6 493.3 355.4 493.1 355.8 492.9 356.2 492.5 356.7 492.1 357.2 491.7 357.7 491.3 358.1 490.9 358.5 490.5 358.8 490.1 359.2 489.7 359.6 489.3 359.9 488.9 360.3 488.5 360.6 488.1 361.0 487.6 361.4 487.1 361.8 486.6 362.2 486.1 362.6 485.7 362.9 485.3 363.2 484.9 363.4 484.3 363.8 483.7 364.2 483.3 364.4 482.9 364.6 482.2 365.0 481.7 365.2 481.3 365.4 480.5 365.8 480.1 366.0 479.6 366.2 478.9 366.6 478.5 366.8 478.1 367.0 477.5 367.4 477.0 367.8 476.5 368.2 476.1 368.5 475.7 368.9 475.3 369.3 474.9 369.6 474.5 370.0 474.1 370.3 473.7 370.7 473.3 371.0 472.8 371.4 472.3 371.8 471.7 372.2 471.3 372.5 470.9 372.7 470.5 373.0 469.8 373.4 469.3 373.7 468.9 373.9 468.3 374.2 467.7 374.5 467.3 374.6 466.5 375.0 466.1 375.1 465.4 375.4 464.9 375.6 464.1 375.8 463.7 375.9 462.9 376.1 462.5 376.2 461.7 376.4 460.9 376.5 460.1 376.6 459.3 376.6 458.9 376.6Z" fill="none" stroke="#707070" stroke-width="0.6"/>
<path d="M462.1 375.0 461.3 375.1 460.5 375.2 459.7 375.2 458.9 375.2 458.1 375.1 457.5 375.0 456.9 374.9 456.2 374.6 455.7 374.3 455.3 374.1 454.9 373.8 454.5 373.3 454.1 372.7 453.9 372.2 453.8 371.4 453.8 370.6 454.0 369.8 454.1 369.4 454.5 368.6 454.7 368.2 455.0 367.8 455.3 367.3 455.7 366.8 456.1 366.4 456.5 365.9 456.9 365.6 457.3 365.2 457.7 364.8 458.1 364.5 458.5 364.2 459.1 363.8 459.7 363.4 460.1 363.2 460.5 362.9 461.1 362.6 461.7 362.3 462.1 362.1 462.7 361.8 463.3 361.6 463.7 361.4 464.5 361.1 464.9 361.0 465.7 360.7 466.1 360.6 466.9 360.4 467.6 360.2 468.1 360.0 468.9 359.8 469.3 359.6 469.8 359.4 470.5 359.0 470.9 358.7 471.3 358.4 471.7 358.0 472.1 357.6 472.5 357.2 472.9 356.8 473.3 356.4 473.7 356.0 474.1 355.6 474.5 355.2 474.9 354.9 475.3 354.5 475.7 354.2 476.3 353.8 476.9 353.4 477.3 353.1 477.7 352.9 478.3 352.6 478.9 352.3 479.3 352.1 479.9 351.8 480.5 351.5 480.9 351.4 481.6 351.0 482.1 350.7 482.5 350.5 483.0 350.2 483.5 349.8 484.1 349.4 484.5 349.1 484.9 348.9 485.4 348.6 486.1 348.3 486.5 348.2 487.3 348.0 488.1 348.0 488.9 348.1 489.4 348.2 490.1 348.5 490.5 348.7 490.9 349.0 491.4 349.4 491.7 349.8 492.1 350.4 492.4 351.0 492.5 351.4 492.7 352.2 492.7 353.0 492.6 353.8 492.5 354.2 492.2 355.0 491.9 355.4 491.7 355.8 491.3 356.3 490.9 356.8 490.5 357.2 490.1 357.6 489.7 357.9 489.3 358.3 488.9 358.6 488.5 359.0 488.0 359.4 487.6 359.8 487.2 360.2 486.7 360.6 486.3 361.0 485.8 361.4 485.3 361.8 484.9 362.1 484.5 362.3 484.1 362.6 483.5 363.0 482.9 363.3 482.5 363.5 482.0 363.8 481.3 364.1 480.9 364.3 480.2 364.6 479.7 364.8 479.3 365.0 478.5 365.3 478.1 365.5 477.5 365.8 476.9 366.1 476.5 366.4 476.1 366.7 475.7 367.0 475.3 367.4 474.9 367.8 474.5 368.2 474.1 368.6 473.7 369.0 473.2 369.4 472.8 369.8 472.4 370.2 471.9 370.6 471.3 371.0 470.9 371.3 470.5 371.6 470.1 371.9 469.6 372.2 468.9 372.6 468.5 372.8 468.1 373.0 467.3 373.4 466.9 373.6 466.4 373.8 465.7 374.1 465.3 374.2 464.5 374.5 464.0 374.6 463.3 374.8 462.5 375.0 462.1 375.0Z" fill="none" stroke="#686868" stroke-width="0.6"/>
<path d="M463.3 373.9 462.5 374.0 461.7 374.1 460.9 374.2 460.1 374.2 459.3 374.1 458.5 374.0 457.8 373.8 457.3 373.6 456.9 373.4 456.3 373.0 455.9 372.6 455.7 372.2 455.4 371.4 455.3 370.8 455.3 370.5 455.4 369.8 455.7 369.0 455.8 368.6 456.1 368.1 456.5 367.5 456.9 367.0 457.2 366.6 457.6 366.2 458.0 365.8 458.5 365.4 458.9 365.1 459.3 364.7 459.7 364.5 460.1 364.2 460.7 363.8 461.3 363.5 461.7 363.2 462.2 363.0 462.9 362.7 463.3 362.5 464.0 362.2 464.5 362.0 465.2 361.8 465.7 361.6 466.5 361.4 466.9 361.3 467.7 361.1 468.4 361.0 468.9 360.9 469.7 360.6 470.1 360.5 470.8 360.2 471.3 359.9 471.7 359.6 472.1 359.2 472.5 358.8 472.9 358.3 473.3 357.8 473.7 357.4 474.0 357.0 474.4 356.6 474.8 356.2 475.2 355.8 475.6 355.4 476.1 355.0 476.5 354.7 476.9 354.4 477.3 354.2 477.9 353.8 478.5 353.5 478.9 353.2 479.4 353.0 480.1 352.7 480.5 352.5 481.2 352.2 481.7 352.0 482.1 351.8 482.8 351.4 483.3 351.1 483.7 350.8 484.1 350.5 484.5 350.2 485.1 349.8 485.7 349.5 486.1 349.3 486.9 349.0 487.3 349.0 488.1 348.9 488.7 349.0 489.3 349.2 489.8 349.4 490.4 349.8 490.8 350.2 491.1 350.6 491.3 351.0 491.6 351.8 491.7 352.3 491.7 353.0 491.7 353.4 491.5 354.2 491.3 354.6 490.9 355.3 490.5 355.8 490.2 356.2 489.8 356.6 489.3 357.0 488.9 357.4 488.5 357.7 488.1 358.1 487.7 358.4 487.3 358.8 486.9 359.2 486.5 359.6 486.1 359.9 485.7 360.3 485.3 360.6 484.9 361.0 484.3 361.4 483.8 361.8 483.3 362.1 482.9 362.3 482.4 362.6 481.7 363.0 481.3 363.2 480.8 363.4 480.1 363.7 479.7 363.8 478.9 364.1 478.5 364.3 477.7 364.5 477.3 364.7 476.6 365.0 476.1 365.3 475.7 365.5 475.3 365.8 474.8 366.2 474.4 366.6 474.1 367.0 473.7 367.4 473.3 367.9 472.9 368.3 472.5 368.7 472.1 369.1 471.7 369.5 471.3 369.9 470.9 370.2 470.4 370.6 469.8 371.0 469.3 371.3 468.9 371.6 468.5 371.8 467.8 372.2 467.3 372.5 466.9 372.6 466.1 373.0 465.7 373.2 465.0 373.4 464.5 373.6 463.7 373.8 463.3 373.9Z" fill="none" stroke="#5a5a5a" stroke-width="0.6"/>
<path d="M463.3 373.1 462.5 373.2 461.7 373.3 460.9 373.3 460.1 373.3 459.3 373.1 458.9 373.0 458.1 372.7 457.7 372.4 457.3 372.1 456.9 371.5 456.7 371.0 456.6 370.2 456.7 369.4 456.9 368.9 457.2 368.2 457.5 367.8 457.8 367.4 458.1 367.0 458.5 366.5 458.9 366.1 459.3 365.8 459.7 365.4 460.3 365.0 460.9 364.6 461.3 364.3 461.7 364.1 462.2 363.8 462.9 363.5 463.3 363.3 464.0 363.0 464.5 362.8 465.2 362.6 465.7 362.5 466.5 362.3 466.9 362.2 467.7 362.0 468.5 361.9 469.1 361.8 469.7 361.7 470.5 361.6 471.0 361.4 471.7 361.1 472.1 360.8 472.5 360.5 472.9 360.0 473.3 359.5 473.6 359.0 473.9 358.6 474.2 358.2 474.5 357.8 474.9 357.3 475.3 356.8 475.7 356.4 476.1 356.1 476.5 355.7 476.9 355.4 477.4 355.0 478.0 354.6 478.5 354.3 478.9 354.1 479.5 353.8 480.1 353.5 480.5 353.4 481.3 353.1 481.7 352.9 482.4 352.6 482.9 352.4 483.3 352.1 483.8 351.8 484.4 351.4 484.9 351.0 485.3 350.7 485.7 350.5 486.2 350.2 486.9 349.9 487.7 349.8 488.5 349.9 489.3 350.2 489.7 350.5 490.1 350.8 490.5 351.4 490.6 351.8 490.8 352.6 490.7 353.4 490.5 354.2 490.3 354.6 490.0 355.0 489.7 355.4 489.3 355.8 488.9 356.2 488.4 356.6 488.0 357.0 487.5 357.4 487.1 357.8 486.7 358.2 486.3 358.6 485.9 359.0 485.5 359.4 485.1 359.8 484.6 360.2 484.1 360.6 483.7 360.9 483.3 361.2 482.9 361.4 482.3 361.8 481.7 362.1 481.3 362.3 480.6 362.6 480.1 362.8 479.6 363.0 478.9 363.2 478.2 363.4 477.7 363.5 476.9 363.7 476.5 363.9 475.7 364.1 475.3 364.3 474.8 364.6 474.3 365.0 473.9 365.4 473.6 365.8 473.3 366.2 472.9 366.8 472.5 367.3 472.1 367.8 471.8 368.2 471.4 368.6 471.0 369.0 470.6 369.4 470.1 369.8 469.7 370.1 469.3 370.4 468.9 370.7 468.4 371.0 467.7 371.4 467.3 371.6 466.9 371.8 466.1 372.2 465.7 372.3 465.0 372.6 464.5 372.8 463.7 373.0 463.3 373.1Z" fill="none" stroke="#4a4a4a" stroke-width="0.6"/>
<path d="M477.3 362.6 476.5 362.7 475.7 362.7 474.9 362.6 474.5 362.5 474.1 362.2 474.0 361.4 474.1 360.9 474.3 360.2 474.5 359.7 474.8 359.0 475.0 358.6 475.3 358.2 475.7 357.7 476.1 357.2 476.5 356.8 476.9 356.4 477.3 356.0 477.7 355.7 478.2 355.4 478.8 355.0 479.3 354.7 479.7 354.5 480.5 354.2 480.9 354.0 481.6 353.8 482.1 353.6 482.7 353.4 483.3 353.2 483.7 353.0 484.3 352.6 484.9 352.2 485.3 351.9 485.7 351.6 486.1 351.3 486.7 351.0 487.3 350.8 488.1 350.8 488.6 351.0 489.2 351.4 489.5 351.8 489.7 352.2 489.8 353.0 489.7 353.5 489.4 354.2 489.2 354.6 488.8 355.0 488.4 355.4 487.9 355.8 487.5 356.2 487.0 356.6 486.6 357.0 486.2 357.4 485.9 357.8 485.5 358.2 485.1 358.6 484.8 359.0 484.4 359.4 483.9 359.8 483.4 360.2 482.9 360.6 482.5 360.8 482.1 361.1 481.5 361.4 480.9 361.7 480.5 361.8 479.7 362.1 479.3 362.2 478.5 362.4 477.7 362.6 477.3 362.6ZM463.7 372.2 462.9 372.4 462.1 372.4 461.3 372.4 460.5 372.4 459.8 372.2 459.3 372.0 458.9 371.8 458.4 371.4 458.1 370.9 457.9 370.2 457.9 369.4 458.1 368.7 458.3 368.2 458.6 367.8 458.9 367.4 459.3 366.9 459.7 366.5 460.1 366.1 460.5 365.8 461.0 365.4 461.6 365.0 462.1 364.7 462.5 364.5 463.0 364.2 463.7 363.9 464.1 363.7 464.9 363.4 465.3 363.3 466.1 363.1 466.7 363.0 467.3 362.9 468.1 362.8 468.9 362.8 469.7 362.8 470.5 362.8 471.3 362.9 471.9 363.0 472.5 363.4 472.7 363.8 472.6 364.6 472.5 365.0 472.2 365.8 472.0 366.2 471.7 366.7 471.3 367.4 471.0 367.8 470.6 368.2 470.3 368.6 469.9 369.0 469.4 369.4 468.9 369.8 468.5 370.1 468.1 370.4 467.7 370.6 467.0 371.0 466.5 371.2 466.1 371.4 465.3 371.7 464.9 371.9 464.1 372.1 463.7 372.2Z" fill="none" stroke="#3a3a3a" stroke-width="0.6"/>
<path d="M479.3 361.4 478.5 361.5 477.7 361.6 476.9 361.5 476.5 361.3 476.1 361.0 475.7 360.2 475.8 359.4 476.1 358.7 476.4 358.2 476.6 357.8 477.0 357.4 477.3 357.0 477.8 356.6 478.3 356.2 478.9 355.8 479.3 355.5 479.7 355.3 480.5 355.0 480.9 354.8 481.7 354.6 482.1 354.5 482.9 354.3 483.3 354.2 484.1 354.0 484.5 353.8 485.2 353.4 485.7 353.0 486.1 352.7 486.5 352.4 487.0 352.2 487.7 352.1 488.1 352.3 488.5 353.0 488.2 353.8 488.0 354.2 487.5 354.6 487.1 355.0 486.6 355.4 486.2 355.8 485.8 356.2 485.5 356.6 485.3 357.0 484.9 357.5 484.5 358.1 484.1 358.5 483.7 359.0 483.3 359.3 482.9 359.7 482.5 360.0 482.1 360.2 481.5 360.6 480.9 360.9 480.5 361.0 479.7 361.3 479.3 361.4ZM463.7 371.5 462.9 371.6 462.1 371.7 461.3 371.6 460.5 371.4 460.1 371.2 459.7 371.0 459.3 370.5 459.0 369.8 459.1 369.0 459.3 368.4 459.6 367.8 459.9 367.4 460.2 367.0 460.6 366.6 461.1 366.2 461.6 365.8 462.1 365.5 462.5 365.2 462.9 365.0 463.7 364.6 464.1 364.4 464.8 364.2 465.3 364.0 466.1 363.8 466.5 363.8 467.3 363.7 468.1 363.7 468.9 363.7 469.3 363.8 470.1 364.1 470.5 364.4 470.9 365.0 470.9 365.4 470.9 365.8 470.6 366.6 470.4 367.0 470.1 367.5 469.7 368.1 469.3 368.5 468.9 368.9 468.5 369.2 468.1 369.5 467.7 369.8 467.1 370.2 466.5 370.5 466.1 370.7 465.4 371.0 464.9 371.2 464.1 371.4 463.7 371.5Z" fill="none" stroke="#333" stroke-width="0.6"/>
<path d="M480.1 360.3 479.3 360.5 478.5 360.5 477.7 360.3 477.3 359.8 477.2 359.4 477.3 358.7 477.5 358.2 477.8 357.8 478.1 357.4 478.6 357.0 479.1 356.6 479.7 356.2 480.1 356.0 480.7 355.8 481.3 355.6 482.1 355.5 482.9 355.5 483.7 355.8 484.0 356.2 483.9 357.0 483.7 357.4 483.3 358.1 482.9 358.6 482.5 358.9 482.1 359.3 481.7 359.6 481.3 359.8 480.5 360.2 480.1 360.3ZM464.1 370.7 463.3 370.8 462.5 370.8 461.7 370.7 461.3 370.6 460.6 370.2 460.4 369.8 460.2 369.0 460.4 368.2 460.7 367.8 461.0 367.4 461.3 367.0 461.7 366.6 462.2 366.2 462.8 365.8 463.3 365.5 463.7 365.3 464.5 365.0 464.9 364.9 465.7 364.7 466.1 364.6 466.9 364.5 467.7 364.5 468.1 364.6 468.9 364.9 469.3 365.3 469.5 365.8 469.5 366.6 469.3 367.1 468.9 367.7 468.5 368.2 468.1 368.6 467.7 368.9 467.3 369.2 466.9 369.5 466.4 369.8 465.7 370.1 465.3 370.3 464.5 370.6 464.1 370.7Z" fill="none" stroke="#444" stroke-width="0.6"/>
<path d="M480.1 359.0 479.6 359.0 479.2 358.6 479.3 358.1 479.7 357.6 480.1 357.3 480.9 357.0 481.7 357.2 481.7 357.8 481.5 358.2 481.0 358.6 480.5 358.9 480.1 359.0ZM464.1 369.8 463.3 369.9 462.5 369.8 462.1 369.6 461.7 369.2 461.6 368.6 461.7 368.1 462.1 367.5 462.5 367.1 462.9 366.7 463.3 366.4 463.7 366.2 464.5 365.8 464.9 365.7 465.7 365.5 466.5 365.5 467.3 365.6 467.7 365.8 468.1 366.5 468.1 366.7 467.9 367.4 467.6 367.8 467.3 368.2 466.8 368.6 466.2 369.0 465.7 369.3 465.3 369.5 464.5 369.7 464.1 369.8Z" fill="none" stroke="#888" stroke-width="0.6"/>
</g>
<polygon points="465.3,346.8 479.3,325.7 499.3,323.2 499.3,374.2 487.3,386.9" fill="none" stroke="#333" stroke-width="0.8" stroke-linejoin="round"/>
<text x="446.3" y="332.4" font-size="13.3" text-anchor="start" fill="#000">39.1</text>
<rect x="502.4" y="318.2" width="81.8" height="81.3" fill="none" stroke="#8c8c8c" stroke-width="0.9"/>
<line x1="502" y1="399.5" x2="584.6" y2="399.5" stroke="#333" stroke-width="1"/>
<path d="M500.8 325.65h2.2 M500.8 344.35h2.2 M500.8 362.5h2.2 M500.8 381.91h2.2 M500.8 391.1h2.2 M501.8 338.74h1.2 M501.8 335.37h1.2 M501.8 333.13h1.2 M501.8 331.26h1.2 M501.8 329.95h1.2 M501.8 328.83h1.2 M501.8 327.89h1.2 M501.8 327.14h1.2 M501.8 326.4h1.2 M501.8 357.05h1.2 M501.8 353.78h1.2 M501.8 351.61h1.2 M501.8 349.79h1.2 M501.8 348.52h1.2 M501.8 347.43h1.2 M501.8 346.53h1.2 M501.8 345.8h1.2 M501.8 345.07h1.2 M501.8 376.08h1.2 M501.8 372.59h1.2 M501.8 370.26h1.2 M501.8 368.32h1.2 M501.8 366.96h1.2 M501.8 365.8h1.2 M501.8 364.82h1.2 M501.8 364.05h1.2 M501.8 363.27h1.2 M518.76 398.9v2.2 M538.93 398.9v2.2 M557.52 398.9v2.2 M576.26 398.9v2.2 M510.74 398.9v2.2 M524.81 398.9v1.2 M528.44 398.9v1.2 M530.86 398.9v1.2 M532.88 398.9v1.2 M534.29 398.9v1.2 M535.5 398.9v1.2 M536.51 398.9v1.2 M537.32 398.9v1.2 M538.13 398.9v1.2 M544.51 398.9v1.2 M547.85 398.9v1.2 M550.08 398.9v1.2 M551.94 398.9v1.2 M553.24 398.9v1.2 M554.36 398.9v1.2 M555.29 398.9v1.2 M556.03 398.9v1.2 M556.77 398.9v1.2 M563.14 398.9v1.2 M566.51 398.9v1.2 M568.76 398.9v1.2 M570.64 398.9v1.2 M571.95 398.9v1.2 M573.07 398.9v1.2 M574.01 398.9v1.2 M574.76 398.9v1.2 M575.51 398.9v1.2" stroke="#333" stroke-width="0.7" fill="none"/>
<text x="518.76" y="407.5" font-size="3.6" text-anchor="middle" fill="#333">10<tspan dy="-1.4" font-size="2.52">2</tspan></text>
<text x="538.93" y="407.5" font-size="3.6" text-anchor="middle" fill="#333">10<tspan dy="-1.4" font-size="2.52">3</tspan></text>
<text x="557.52" y="407.5" font-size="3.6" text-anchor="middle" fill="#333">10<tspan dy="-1.4" font-size="2.52">4</tspan></text>
<text x="576.26" y="407.5" font-size="3.6" text-anchor="middle" fill="#333">10<tspan dy="-1.4" font-size="2.52">5</tspan></text>
<text x="510.74" y="407.5" font-size="3.6" text-anchor="middle" fill="#333">0</text>
<clipPath id="c385"><rect x="502.9" y="318.7" width="80.8" height="80.3"/></clipPath><g clip-path="url(#c385)">
<path d="M549.6 377.5 548.8 377.6 548.0 377.7 547.2 377.7 546.4 377.7 545.6 377.6 544.8 377.4 544.4 377.3 543.7 377.0 543.2 376.7 542.8 376.5 542.4 376.1 542.0 375.7 541.6 375.1 541.4 374.6 541.2 373.8 541.2 373.4 541.2 372.6 541.2 372.2 541.4 371.4 541.6 370.8 541.8 370.2 542.0 369.8 542.4 369.1 542.7 368.6 543.0 368.2 543.3 367.8 543.6 367.4 544.0 367.0 544.4 366.5 544.8 366.1 545.2 365.7 545.6 365.4 546.0 365.0 546.5 364.6 547.1 364.2 547.6 363.8 548.0 363.5 548.4 363.3 548.9 363.0 549.5 362.6 550.0 362.3 550.4 362.1 550.9 361.8 551.6 361.4 552.0 361.1 552.4 360.8 552.8 360.4 553.2 360.0 553.6 359.5 553.9 359.0 554.1 358.6 554.4 358.1 554.8 357.4 555.0 357.0 555.2 356.6 555.6 355.9 555.9 355.4 556.2 355.0 556.5 354.6 556.8 354.2 557.2 353.7 557.6 353.2 558.0 352.7 558.4 352.3 558.8 351.9 559.2 351.5 559.6 351.2 560.0 350.8 560.4 350.5 560.8 350.2 561.3 349.8 561.9 349.4 562.4 349.1 562.8 348.9 563.3 348.6 564.0 348.2 564.4 348.0 564.9 347.8 565.6 347.5 566.0 347.4 566.8 347.2 567.6 347.0 568.0 346.9 568.8 346.8 569.6 346.8 570.4 346.8 571.2 347.0 571.6 347.1 572.4 347.4 572.8 347.6 573.2 347.9 573.6 348.2 574.0 348.6 574.4 349.1 574.8 349.8 574.9 350.2 575.1 351.0 575.2 351.8 575.2 352.2 575.2 352.7 575.1 353.4 575.0 354.2 574.8 354.9 574.6 355.4 574.4 356.0 574.2 356.6 574.0 357.0 573.6 357.7 573.3 358.2 573.1 358.6 572.8 359.0 572.4 359.6 572.0 360.1 571.6 360.6 571.2 361.0 570.9 361.4 570.5 361.8 570.1 362.2 569.7 362.6 569.3 363.0 568.8 363.4 568.4 363.7 568.0 364.1 567.6 364.4 567.2 364.7 566.8 365.0 566.3 365.4 565.8 365.8 565.3 366.2 564.9 366.6 564.5 367.0 564.1 367.4 563.8 367.8 563.4 368.2 563.1 368.6 562.8 369.0 562.4 369.5 562.0 370.0 561.6 370.5 561.2 370.9 560.8 371.3 560.4 371.7 560.0 372.1 559.6 372.5 559.2 372.8 558.8 373.1 558.4 373.5 557.9 373.8 557.4 374.2 556.8 374.6 556.4 374.8 556.0 375.1 555.4 375.4 554.8 375.7 554.4 375.9 553.7 376.2 553.2 376.4 552.7 376.6 552.0 376.9 551.5 377.0 550.8 377.2 550.0 377.4 549.6 377.5Z" fill="none" stroke="#707070" stroke-width="0.6"/>
<path d="M549.2 376.2 548.4 376.3 547.6 376.3 546.8 376.2 546.4 376.1 545.6 375.9 545.2 375.8 544.5 375.4 544.0 375.0 543.7 374.6 543.4 374.2 543.2 373.8 543.0 373.0 543.0 372.2 543.1 371.4 543.2 370.9 543.4 370.2 543.6 369.8 544.0 369.1 544.3 368.6 544.6 368.2 544.9 367.8 545.3 367.4 545.6 367.0 546.0 366.6 546.4 366.2 546.9 365.8 547.4 365.4 547.9 365.0 548.4 364.6 548.8 364.4 549.2 364.1 549.7 363.8 550.4 363.4 550.8 363.2 551.2 363.0 551.9 362.6 552.4 362.3 552.8 362.1 553.3 361.8 553.8 361.4 554.3 361.0 554.6 360.6 554.9 360.2 555.2 359.7 555.5 359.0 555.7 358.6 556.0 358.0 556.3 357.4 556.5 357.0 556.8 356.4 557.2 355.8 557.4 355.4 557.7 355.0 558.0 354.6 558.4 354.1 558.8 353.6 559.2 353.2 559.6 352.8 560.0 352.4 560.4 352.0 560.8 351.7 561.2 351.4 561.7 351.0 562.3 350.6 562.8 350.3 563.2 350.0 563.6 349.8 564.4 349.4 564.8 349.2 565.4 349.0 566.0 348.8 566.8 348.6 567.2 348.5 568.0 348.4 568.8 348.4 569.6 348.4 570.4 348.6 570.8 348.7 571.4 349.0 572.0 349.4 572.4 349.7 572.8 350.2 573.0 350.6 573.2 351.0 573.5 351.8 573.6 352.6 573.5 353.4 573.5 354.2 573.3 355.0 573.2 355.4 572.9 356.2 572.7 356.6 572.4 357.2 572.1 357.8 571.8 358.2 571.6 358.6 571.2 359.1 570.8 359.7 570.4 360.2 570.0 360.6 569.6 361.0 569.2 361.4 568.8 361.8 568.4 362.2 568.0 362.5 567.6 362.8 567.2 363.2 566.8 363.5 566.3 363.8 565.8 364.2 565.2 364.6 564.8 364.9 564.4 365.2 564.0 365.5 563.6 365.9 563.2 366.3 562.8 366.7 562.4 367.2 562.0 367.8 561.7 368.2 561.4 368.6 561.1 369.0 560.8 369.4 560.4 369.9 560.0 370.4 559.6 370.8 559.2 371.2 558.8 371.6 558.4 372.0 558.0 372.3 557.6 372.6 557.1 373.0 556.5 373.4 556.0 373.7 555.6 374.0 555.2 374.2 554.5 374.6 554.0 374.8 553.6 375.0 552.8 375.3 552.4 375.5 551.6 375.7 551.2 375.9 550.4 376.1 549.6 376.2 549.2 376.2Z" fill="none" stroke="#686868" stroke-width="0.6"/>
<path d="M550.8 375.0 550.0 375.2 549.2 375.2 548.4 375.2 547.6 375.2 546.8 375.0 546.4 374.9 545.9 374.6 545.3 374.2 544.9 373.8 544.7 373.4 544.4 372.6 544.3 372.2 544.4 371.4 544.4 371.0 544.7 370.2 544.9 369.8 545.2 369.2 545.5 368.6 545.8 368.2 546.2 367.8 546.5 367.4 546.9 367.0 547.3 366.6 547.8 366.2 548.3 365.8 548.8 365.4 549.2 365.1 549.6 364.9 550.0 364.6 550.7 364.2 551.2 363.9 551.6 363.7 552.3 363.4 552.8 363.2 553.2 363.0 553.9 362.6 554.4 362.3 554.8 362.1 555.2 361.7 555.6 361.3 556.0 360.7 556.2 360.2 556.4 359.8 556.7 359.0 556.9 358.6 557.2 357.8 557.4 357.4 557.6 356.9 558.0 356.2 558.3 355.8 558.5 355.4 558.8 355.0 559.2 354.5 559.6 354.1 560.0 353.6 560.4 353.2 560.8 352.9 561.2 352.5 561.6 352.2 562.1 351.8 562.7 351.4 563.2 351.1 563.6 350.9 564.1 350.6 564.8 350.3 565.2 350.1 566.0 349.9 566.4 349.8 567.2 349.6 568.0 349.6 568.8 349.6 569.6 349.7 570.0 349.9 570.7 350.2 571.2 350.6 571.5 351.0 571.8 351.4 572.0 351.8 572.2 352.6 572.3 353.4 572.3 354.2 572.1 355.0 572.0 355.5 571.8 356.2 571.6 356.6 571.2 357.4 571.0 357.8 570.7 358.2 570.4 358.7 570.0 359.2 569.6 359.7 569.2 360.2 568.8 360.6 568.4 361.0 568.0 361.3 567.6 361.7 567.2 362.0 566.8 362.3 566.4 362.6 565.9 363.0 565.2 363.4 564.8 363.7 564.4 363.9 564.0 364.2 563.4 364.6 562.9 365.0 562.4 365.4 562.0 365.8 561.7 366.2 561.4 366.6 561.2 367.0 560.8 367.6 560.4 368.2 560.1 368.6 559.9 369.0 559.6 369.4 559.2 369.8 558.8 370.3 558.4 370.7 558.0 371.1 557.6 371.5 557.2 371.8 556.7 372.2 556.2 372.6 555.6 373.0 555.2 373.2 554.8 373.5 554.2 373.8 553.6 374.1 553.2 374.3 552.4 374.6 552.0 374.7 551.2 374.9 550.8 375.0Z" fill="none" stroke="#5a5a5a" stroke-width="0.6"/>
<path d="M550.4 374.2 549.6 374.3 548.8 374.3 548.0 374.2 547.6 374.1 546.9 373.8 546.4 373.4 546.0 373.0 545.8 372.6 545.6 372.0 545.5 371.4 545.6 370.9 545.8 370.2 546.0 369.7 546.4 369.0 546.6 368.6 546.9 368.2 547.2 367.8 547.6 367.4 548.0 367.0 548.5 366.6 549.0 366.2 549.5 365.8 550.0 365.5 550.4 365.2 550.8 365.0 551.6 364.6 552.0 364.4 552.5 364.2 553.2 363.9 553.6 363.7 554.4 363.4 554.8 363.2 555.3 363.0 556.0 362.6 556.4 362.2 556.8 361.8 557.0 361.4 557.2 360.9 557.4 360.2 557.6 359.5 557.7 359.0 558.0 358.2 558.2 357.8 558.4 357.3 558.7 356.6 559.0 356.2 559.2 355.8 559.6 355.3 560.0 354.8 560.4 354.3 560.8 353.9 561.2 353.5 561.6 353.2 562.0 352.9 562.4 352.6 562.9 352.2 563.6 351.8 564.0 351.6 564.4 351.4 565.2 351.1 565.6 350.9 566.4 350.7 567.2 350.6 567.6 350.6 568.0 350.6 568.8 350.7 569.6 351.0 570.0 351.3 570.4 351.6 570.8 352.2 571.0 352.6 571.2 353.4 571.2 353.8 571.2 354.6 571.1 355.0 570.9 355.8 570.8 356.2 570.5 357.0 570.2 357.4 570.0 357.8 569.6 358.4 569.2 359.0 568.8 359.4 568.5 359.8 568.1 360.2 567.7 360.6 567.2 361.0 566.8 361.3 566.4 361.6 566.0 361.9 565.6 362.2 564.9 362.6 564.4 362.9 564.0 363.1 563.5 363.4 562.8 363.8 562.4 364.0 562.0 364.3 561.5 364.6 561.1 365.0 560.8 365.4 560.4 366.0 560.1 366.6 559.9 367.0 559.6 367.6 559.3 368.2 559.0 368.6 558.8 369.0 558.4 369.5 558.0 370.0 557.6 370.4 557.2 370.8 556.8 371.2 556.4 371.5 556.0 371.8 555.5 372.2 554.8 372.6 554.4 372.8 554.0 373.1 553.3 373.4 552.8 373.6 552.2 373.8 551.6 374.0 550.8 374.2 550.4 374.2Z" fill="none" stroke="#4a4a4a" stroke-width="0.6"/>
<path d="M550.4 373.4 549.6 373.4 549.2 373.4 548.4 373.2 547.8 373.0 547.3 372.6 547.0 372.2 546.8 371.7 546.7 371.0 546.8 370.4 547.0 369.8 547.2 369.3 547.6 368.7 548.0 368.2 548.3 367.8 548.7 367.4 549.2 367.0 549.6 366.6 550.0 366.3 550.4 366.1 550.9 365.8 551.6 365.4 552.0 365.2 552.5 365.0 553.2 364.7 553.6 364.6 554.4 364.3 554.9 364.2 555.6 364.0 556.4 363.8 556.8 363.7 557.6 363.5 558.0 363.3 558.4 362.6 558.4 362.2 558.5 361.4 558.5 360.6 558.6 359.8 558.7 359.0 558.8 358.6 559.1 357.8 559.2 357.4 559.6 356.7 559.9 356.2 560.2 355.8 560.5 355.4 560.8 355.0 561.2 354.5 561.6 354.2 562.0 353.8 562.5 353.4 563.0 353.0 563.6 352.7 564.0 352.4 564.5 352.2 565.2 351.9 565.6 351.8 566.4 351.6 567.2 351.6 568.0 351.6 568.5 351.8 569.2 352.2 569.6 352.6 569.9 353.0 570.1 353.4 570.2 354.2 570.2 355.0 570.0 355.8 569.9 356.2 569.6 356.9 569.3 357.4 569.1 357.8 568.8 358.3 568.4 358.8 568.0 359.2 567.6 359.7 567.2 360.1 566.8 360.4 566.4 360.7 566.0 361.0 565.4 361.4 564.8 361.8 564.4 362.0 564.0 362.2 563.2 362.5 562.8 362.7 562.0 363.0 561.6 363.1 560.8 363.4 560.4 363.5 559.7 363.8 559.3 364.2 559.2 364.6 559.0 365.4 558.9 366.2 558.8 366.6 558.5 367.4 558.4 367.8 558.0 368.5 557.7 369.0 557.4 369.4 557.1 369.8 556.7 370.2 556.3 370.6 555.9 371.0 555.3 371.4 554.8 371.8 554.4 372.0 554.0 372.2 553.3 372.6 552.8 372.8 552.3 373.0 551.6 373.2 550.8 373.4 550.4 373.4Z" fill="none" stroke="#3a3a3a" stroke-width="0.6"/>
<path d="M562.4 361.8 561.6 361.9 561.0 361.8 560.4 361.5 560.0 361.1 559.8 360.6 559.6 359.8 559.6 359.0 559.8 358.2 560.0 357.6 560.3 357.0 560.5 356.6 560.8 356.1 561.2 355.6 561.6 355.1 562.0 354.7 562.4 354.3 562.8 354.0 563.2 353.7 563.7 353.4 564.4 353.0 564.8 352.9 565.6 352.6 566.0 352.5 566.8 352.5 567.6 352.6 568.0 352.7 568.4 353.0 568.8 353.4 569.2 354.2 569.2 354.6 569.2 355.4 569.1 355.8 568.9 356.6 568.7 357.0 568.4 357.5 568.0 358.2 567.6 358.6 567.3 359.0 566.9 359.4 566.4 359.8 566.0 360.2 565.6 360.4 565.2 360.7 564.7 361.0 564.0 361.3 563.6 361.5 562.8 361.7 562.4 361.8ZM552.4 372.2 551.6 372.4 550.8 372.6 550.0 372.6 549.2 372.4 548.7 372.2 548.2 371.8 548.0 371.4 547.8 370.6 548.0 369.8 548.1 369.4 548.4 368.9 548.8 368.4 549.2 367.9 549.6 367.6 550.0 367.2 550.4 366.9 550.9 366.6 551.6 366.2 552.0 366.0 552.4 365.8 553.2 365.5 553.6 365.4 554.4 365.2 555.2 365.1 556.0 365.1 556.8 365.4 557.2 365.7 557.4 366.2 557.5 367.0 557.3 367.8 557.2 368.2 556.8 368.9 556.4 369.4 556.1 369.8 555.7 370.2 555.2 370.6 554.8 370.9 554.4 371.2 554.0 371.5 553.4 371.8 552.8 372.1 552.4 372.2Z" fill="none" stroke="#333" stroke-width="0.6"/>
<path d="M563.2 360.7 562.4 360.8 561.6 360.6 561.2 360.3 560.8 359.8 560.7 359.4 560.7 358.6 560.8 357.9 561.0 357.4 561.2 356.9 561.6 356.3 561.9 355.8 562.3 355.4 562.7 355.0 563.2 354.6 563.6 354.3 564.0 354.1 564.6 353.8 565.2 353.6 566.0 353.4 566.8 353.5 567.6 353.8 568.0 354.2 568.2 354.6 568.3 355.4 568.1 356.2 568.0 356.6 567.6 357.4 567.4 357.8 567.1 358.2 566.7 358.6 566.3 359.0 565.8 359.4 565.3 359.8 564.8 360.1 564.4 360.3 563.6 360.6 563.2 360.7ZM552.0 371.5 551.2 371.7 550.4 371.6 549.7 371.4 549.2 371.0 549.1 370.6 549.1 369.8 549.2 369.4 549.6 368.7 550.0 368.2 550.4 367.9 550.8 367.5 551.2 367.3 551.6 367.0 552.4 366.6 552.8 366.5 553.6 366.3 554.0 366.2 554.8 366.2 555.2 366.3 555.8 366.6 556.1 367.0 556.2 367.8 556.0 368.3 555.6 369.0 555.3 369.4 555.0 369.8 554.5 370.2 554.0 370.6 553.6 370.9 553.2 371.1 552.4 371.4 552.0 371.5Z" fill="none" stroke="#444" stroke-width="0.6"/>
<path d="M564.0 359.5 563.2 359.6 562.4 359.4 562.0 359.1 561.8 358.6 561.9 357.8 562.0 357.3 562.4 356.6 562.7 356.2 563.0 355.8 563.5 355.4 564.0 355.0 564.4 354.8 565.0 354.6 565.6 354.5 566.4 354.6 566.8 354.9 567.1 355.4 567.1 356.2 566.8 357.0 566.6 357.4 566.3 357.8 566.0 358.2 565.5 358.6 565.0 359.0 564.4 359.3 564.0 359.5ZM552.8 370.2 552.0 370.5 551.2 370.4 550.7 370.2 550.6 369.4 550.8 368.9 551.2 368.5 551.6 368.1 552.1 367.8 552.8 367.5 553.6 367.4 554.4 367.7 554.6 368.2 554.4 368.8 554.0 369.4 553.6 369.7 553.2 370.0 552.8 370.2Z" fill="none" stroke="#888" stroke-width="0.6"/>
</g>
<polygon points="550.4,346.8 564.4,325.7 584.4,323.2 584.4,374.2 572.4,386.9" fill="none" stroke="#333" stroke-width="0.8" stroke-linejoin="round"/>
<text x="531.4" y="332.4" font-size="13.3" text-anchor="start" fill="#000">53.2</text>
<line x1="317.4" y1="373" x2="317.4" y2="234.2" stroke="#000" stroke-width="1.4"/>
<polygon points="314.4,235.2 317.4,229.2 320.4,235.2" fill="#000"/>
<text x="321.3" y="385" font-size="9.9" text-anchor="middle" fill="#000" transform="rotate(-90 321.3 385)">CD86</text>
<text x="334.5" y="417.4" font-size="9.8" text-anchor="start" fill="#000">MHCII</text>
<line x1="380.5" y1="413.3" x2="589" y2="413.3" stroke="#000" stroke-width="1.4"/>
<polygon points="588,410.1 595,413.3 588,416.5" fill="#000"/>
<line x1="648.3" y1="249.3" x2="648.3" y2="388.5" stroke="#000" stroke-width="2"/>
<line x1="644.3" y1="387.5" x2="648.3" y2="387.5" stroke="#000" stroke-width="1.3"/>
<text x="642.8" y="390.82" font-size="9.5" text-anchor="end" fill="#222">0</text>
<line x1="644.3" y1="364.63" x2="648.3" y2="364.63" stroke="#000" stroke-width="1.3"/>
<text x="642.8" y="367.96" font-size="9.5" text-anchor="end" fill="#222">10</text>
<line x1="644.3" y1="341.77" x2="648.3" y2="341.77" stroke="#000" stroke-width="1.3"/>
<text x="642.8" y="345.09" font-size="9.5" text-anchor="end" fill="#222">20</text>
<line x1="644.3" y1="318.9" x2="648.3" y2="318.9" stroke="#000" stroke-width="1.3"/>
<text x="642.8" y="322.22" font-size="9.5" text-anchor="end" fill="#222">30</text>
<line x1="644.3" y1="296.03" x2="648.3" y2="296.03" stroke="#000" stroke-width="1.3"/>
<text x="642.8" y="299.36" font-size="9.5" text-anchor="end" fill="#222">40</text>
<line x1="644.3" y1="273.17" x2="648.3" y2="273.17" stroke="#000" stroke-width="1.3"/>
<text x="642.8" y="276.49" font-size="9.5" text-anchor="end" fill="#222">50</text>
<line x1="644.3" y1="250.3" x2="648.3" y2="250.3" stroke="#000" stroke-width="1.3"/>
<text x="642.8" y="253.62" font-size="9.5" text-anchor="end" fill="#222">60</text>
<line x1="647.3" y1="387.5" x2="784.8" y2="387.5" stroke="#000" stroke-width="2"/>
<line x1="671.7" y1="387.5" x2="671.7" y2="392.5" stroke="#000" stroke-width="1.5"/>
<text x="671.7" y="402.5" font-size="13" text-anchor="middle" fill="#000">D3</text>
<line x1="717.4" y1="387.5" x2="717.4" y2="392.5" stroke="#000" stroke-width="1.5"/>
<text x="717.4" y="402.5" font-size="13" text-anchor="middle" fill="#000">D7</text>
<line x1="762.6" y1="387.5" x2="762.6" y2="392.5" stroke="#000" stroke-width="1.5"/>
<text x="762.6" y="402.5" font-size="13" text-anchor="middle" fill="#000">D11</text>
<text x="716.5" y="421.4" font-size="13.2" text-anchor="middle" fill="#000">Days after DTx treatment</text>
<text x="623.2" y="308.4" font-size="13.3" text-anchor="middle" fill="#000" transform="rotate(-90 623.2 308.4)">Mature tDCs (%)</text>
<line x1="717.4" y1="276.37" x2="717.4" y2="262.65" stroke="#000" stroke-width="1.3"/>
<line x1="713.9" y1="262.65" x2="720.9" y2="262.65" stroke="#000" stroke-width="1.3"/>
<line x1="713.9" y1="276.37" x2="720.9" y2="276.37" stroke="#000" stroke-width="1.3"/>
<line x1="762.6" y1="264.02" x2="762.6" y2="256.02" stroke="#000" stroke-width="1.3"/>
<line x1="759.1" y1="256.02" x2="766.1" y2="256.02" stroke="#000" stroke-width="1.3"/>
<line x1="759.1" y1="264.02" x2="766.1" y2="264.02" stroke="#000" stroke-width="1.3"/>
<line x1="671.7" y1="350.91" x2="671.7" y2="345.2" stroke="#000" stroke-width="1.2"/>
<line x1="668.7" y1="345.2" x2="674.7" y2="345.2" stroke="#000" stroke-width="1.2"/>
<line x1="668.7" y1="350.91" x2="674.7" y2="350.91" stroke="#000" stroke-width="1.2"/>
<line x1="717.4" y1="303.81" x2="717.4" y2="299.46" stroke="#000" stroke-width="1.2"/>
<line x1="714.4" y1="299.46" x2="720.4" y2="299.46" stroke="#000" stroke-width="1.2"/>
<line x1="714.4" y1="303.81" x2="720.4" y2="303.81" stroke="#000" stroke-width="1.2"/>
<polyline points="671.7,350.91 717.4,301.75 762.6,264.02" fill="none" stroke="#000" stroke-width="2.2" stroke-dasharray="6,3.5"/>
<polyline points="671.7,348.63 717.4,269.74 762.6,260.59" fill="none" stroke="#000" stroke-width="2.2"/>
<circle cx="671.7" cy="348.63" r="3.7" fill="#000"/>
<circle cx="717.4" cy="269.74" r="3.7" fill="#000"/>
<circle cx="762.6" cy="260.59" r="3.7" fill="#000"/>
<circle cx="671.7" cy="350.91" r="3.1" fill="#fff" stroke="#000" stroke-width="1.5"/>
<circle cx="717.4" cy="301.75" r="3.1" fill="#fff" stroke="#000" stroke-width="1.5"/>
<circle cx="762.6" cy="264.02" r="3.1" fill="#fff" stroke="#000" stroke-width="1.5"/>
<line x1="662.3" y1="221.6" x2="681" y2="221.6" stroke="#000" stroke-width="2"/>
<circle cx="671.2" cy="221.6" r="3.6" fill="#000"/>
<text x="686.4" y="226.2" font-size="13.3" text-anchor="start" fill="#000">Sirpα<tspan baseline-shift="40%" font-size="70%">+</tspan> tDC</text>
<line x1="662.3" y1="238.1" x2="681" y2="238.1" stroke="#000" stroke-width="2"/>
<circle cx="671.2" cy="238.1" r="3" fill="#fff" stroke="#000" stroke-width="1.5"/>
<text x="686.4" y="242.7" font-size="13.3" text-anchor="start" fill="#000">CD8<tspan baseline-shift="40%" font-size="70%">+</tspan> tDC</text>
<text x="7.2" y="577.5" font-size="19.5" text-anchor="start" fill="#000">E</text>
<text x="54.3" y="581.3" font-size="13.3" text-anchor="start" fill="#000">Donor DC</text>
<rect x="46.8" y="587.5" width="73.6" height="73.2" fill="none" stroke="#8c8c8c" stroke-width="0.9"/>
<line x1="46.4" y1="660.7" x2="120.8" y2="660.7" stroke="#333" stroke-width="1"/>
<path d="M45.2 594.21h2.2 M45.2 611.04h2.2 M45.2 627.38h2.2 M45.2 644.86h2.2 M45.2 653.14h2.2 M46.2 605.99h1.2 M46.2 602.96h1.2 M46.2 600.94h1.2 M46.2 599.26h1.2 M46.2 598.08h1.2 M46.2 597.07h1.2 M46.2 596.23h1.2 M46.2 595.55h1.2 M46.2 594.88h1.2 M46.2 622.48h1.2 M46.2 619.54h1.2 M46.2 617.58h1.2 M46.2 615.95h1.2 M46.2 614.8h1.2 M46.2 613.82h1.2 M46.2 613h1.2 M46.2 612.35h1.2 M46.2 611.7h1.2 M46.2 639.62h1.2 M46.2 636.47h1.2 M46.2 634.37h1.2 M46.2 632.63h1.2 M46.2 631.4h1.2 M46.2 630.35h1.2 M46.2 629.48h1.2 M46.2 628.78h1.2 M46.2 628.08h1.2 M61.52 660.1v2.2 M79.67 660.1v2.2 M96.39 660.1v2.2 M113.25 660.1v2.2 M54.3 660.1v2.2 M66.96 660.1v1.2 M70.23 660.1v1.2 M72.41 660.1v1.2 M74.22 660.1v1.2 M75.5 660.1v1.2 M76.58 660.1v1.2 M77.49 660.1v1.2 M78.22 660.1v1.2 M78.94 660.1v1.2 M84.69 660.1v1.2 M87.7 660.1v1.2 M89.7 660.1v1.2 M91.37 660.1v1.2 M92.54 660.1v1.2 M93.55 660.1v1.2 M94.38 660.1v1.2 M95.05 660.1v1.2 M95.72 660.1v1.2 M101.45 660.1v1.2 M104.49 660.1v1.2 M106.51 660.1v1.2 M108.2 660.1v1.2 M109.38 660.1v1.2 M110.39 660.1v1.2 M111.23 660.1v1.2 M111.91 660.1v1.2 M112.58 660.1v1.2" stroke="#333" stroke-width="0.7" fill="none"/>
<text x="42.8" y="595.71" font-size="3.4" text-anchor="end" fill="#444">10<tspan dy="-1.4" font-size="2.38">5</tspan></text>
<text x="42.8" y="612.54" font-size="3.4" text-anchor="end" fill="#444">10<tspan dy="-1.4" font-size="2.38">4</tspan></text>
<text x="42.8" y="628.88" font-size="3.4" text-anchor="end" fill="#444">10<tspan dy="-1.4" font-size="2.38">3</tspan></text>
<text x="42.8" y="646.36" font-size="3.4" text-anchor="end" fill="#444">10<tspan dy="-1.4" font-size="2.38">2</tspan></text>
<text x="42.8" y="654.64" font-size="3.4" text-anchor="end" fill="#444">0</text>
<text x="61.52" y="668.06" font-size="3.4" text-anchor="middle" fill="#333">10<tspan dy="-1.4" font-size="2.38">2</tspan></text>
<text x="79.67" y="668.06" font-size="3.4" text-anchor="middle" fill="#333">10<tspan dy="-1.4" font-size="2.38">3</tspan></text>
<text x="96.39" y="668.06" font-size="3.4" text-anchor="middle" fill="#333">10<tspan dy="-1.4" font-size="2.38">4</tspan></text>
<text x="113.25" y="668.06" font-size="3.4" text-anchor="middle" fill="#333">10<tspan dy="-1.4" font-size="2.38">5</tspan></text>
<text x="54.3" y="668.06" font-size="3.4" text-anchor="middle" fill="#333">0</text>
<clipPath id="c468"><rect x="47.3" y="588" width="72.6" height="72.2"/></clipPath><g clip-path="url(#c468)">
<path d="M86.4 637.6 85.6 637.7 84.8 637.8 84.0 637.8 83.2 637.9 82.4 637.8 81.6 637.7 80.8 637.6 80.4 637.5 79.6 637.3 79.2 637.1 78.4 636.7 78.0 636.5 77.6 636.2 77.2 635.9 76.8 635.5 76.4 635.0 76.0 634.3 75.8 633.9 75.6 633.1 75.6 632.7 75.6 631.9 75.6 631.5 75.8 630.7 76.0 630.0 76.2 629.5 76.4 629.1 76.8 628.5 77.2 627.9 77.5 627.5 77.9 627.1 78.3 626.7 78.7 626.3 79.2 625.9 79.6 625.6 80.0 625.3 80.4 625.0 80.8 624.7 81.5 624.3 82.0 624.0 82.4 623.8 83.1 623.5 83.6 623.3 84.1 623.1 84.8 622.9 85.3 622.7 86.0 622.5 86.8 622.3 87.2 622.3 88.0 622.1 88.8 622.0 89.6 622.0 90.4 622.0 91.2 622.1 92.0 622.2 92.4 622.3 93.2 622.5 93.6 622.7 94.4 623.1 94.8 623.3 95.2 623.5 95.7 623.9 96.1 624.3 96.4 624.7 96.8 625.2 97.1 625.9 97.3 626.3 97.4 627.1 97.5 627.9 97.4 628.7 97.2 629.5 97.1 629.9 96.8 630.5 96.5 631.1 96.2 631.5 96.0 631.9 95.6 632.4 95.2 632.8 94.8 633.2 94.4 633.6 94.0 634.0 93.6 634.3 93.1 634.7 92.5 635.1 92.0 635.4 91.6 635.6 91.1 635.9 90.4 636.2 90.0 636.4 89.3 636.7 88.8 636.9 88.2 637.1 87.6 637.3 86.8 637.5 86.4 637.6Z" fill="none" stroke="#a8a8a8" stroke-width="0.55"/>
<path d="M84.0 636.3 83.6 636.3 82.8 636.2 82.0 636.1 81.2 635.9 80.8 635.8 80.2 635.5 79.6 635.2 79.2 634.9 78.8 634.5 78.4 634.0 78.1 633.5 77.9 633.1 77.7 632.3 77.7 631.5 77.8 630.7 78.0 630.2 78.3 629.5 78.5 629.1 78.8 628.6 79.2 628.1 79.6 627.7 80.0 627.2 80.4 626.9 80.8 626.5 81.2 626.2 81.7 625.9 82.3 625.5 82.8 625.2 83.2 625.0 83.9 624.7 84.4 624.5 84.8 624.3 85.6 624.0 86.0 623.9 86.8 623.7 87.6 623.5 88.0 623.5 88.8 623.4 89.6 623.4 90.4 623.4 91.0 623.5 91.6 623.6 92.4 623.9 92.8 624.1 93.2 624.3 93.8 624.7 94.2 625.1 94.6 625.5 94.9 625.9 95.2 626.6 95.4 627.1 95.5 627.9 95.4 628.7 95.2 629.5 95.1 629.9 94.8 630.5 94.5 631.1 94.2 631.5 93.9 631.9 93.5 632.3 93.1 632.7 92.7 633.1 92.2 633.5 91.6 633.9 91.2 634.2 90.8 634.4 90.3 634.7 89.6 635.0 89.2 635.2 88.5 635.5 88.0 635.7 87.2 635.9 86.8 636.0 86.0 636.1 85.2 636.2 84.4 636.3 84.0 636.3Z" fill="none" stroke="#a8a8a8" stroke-width="0.55"/>
<path d="M87.2 634.7 86.4 634.9 85.6 635.0 84.8 635.1 84.0 635.1 83.2 635.0 82.4 634.8 82.0 634.7 81.2 634.3 80.8 634.0 80.4 633.7 80.0 633.2 79.7 632.7 79.5 632.3 79.4 631.5 79.5 630.7 79.6 630.3 79.9 629.5 80.2 629.1 80.5 628.7 80.8 628.3 81.2 627.8 81.6 627.5 82.0 627.1 82.6 626.7 83.2 626.3 83.6 626.0 84.0 625.8 84.6 625.5 85.2 625.2 85.6 625.1 86.4 624.8 86.8 624.7 87.6 624.5 88.4 624.4 89.2 624.3 90.0 624.4 90.8 624.5 91.4 624.7 92.0 625.0 92.4 625.2 92.8 625.5 93.2 625.9 93.6 626.5 93.9 627.1 94.0 627.9 94.0 628.3 94.0 628.7 93.8 629.5 93.6 630.0 93.2 630.7 92.9 631.1 92.6 631.5 92.2 631.9 91.8 632.3 91.3 632.7 90.8 633.1 90.4 633.3 90.0 633.6 89.4 633.9 88.8 634.2 88.4 634.3 87.6 634.6 87.2 634.7Z" fill="none" stroke="#a8a8a8" stroke-width="0.55"/>
<path d="M86.4 633.9 85.6 634.0 84.8 634.1 84.0 634.0 83.5 633.9 82.8 633.7 82.4 633.5 81.8 633.1 81.4 632.7 81.1 632.3 80.9 631.5 80.9 630.7 81.1 629.9 81.3 629.5 81.6 629.1 82.0 628.5 82.4 628.1 82.8 627.7 83.2 627.4 83.6 627.1 84.2 626.7 84.8 626.3 85.2 626.1 85.7 625.9 86.4 625.6 86.8 625.5 87.6 625.2 88.4 625.1 88.8 625.1 89.5 625.1 90.0 625.2 90.8 625.4 91.2 625.5 91.8 625.9 92.2 626.3 92.5 626.7 92.8 627.3 92.9 627.9 92.9 628.7 92.8 629.2 92.5 629.9 92.3 630.3 92.0 630.7 91.6 631.2 91.2 631.6 90.8 631.9 90.3 632.3 89.7 632.7 89.2 633.0 88.8 633.2 88.0 633.5 87.6 633.6 86.8 633.8 86.4 633.9Z" fill="none" stroke="#a8a8a8" stroke-width="0.55"/>
<path d="M87.2 632.8 86.4 632.9 85.6 633.0 84.8 633.0 84.0 632.8 83.6 632.6 83.1 632.3 82.7 631.9 82.4 631.2 82.3 630.7 82.4 630.3 82.7 629.5 83.0 629.1 83.3 628.7 83.6 628.3 84.1 627.9 84.5 627.5 85.1 627.1 85.6 626.8 86.0 626.6 86.6 626.3 87.2 626.1 87.9 625.9 88.4 625.8 89.2 625.8 89.8 625.9 90.4 626.1 90.8 626.3 91.3 626.7 91.7 627.1 92.0 627.9 92.0 628.7 91.7 629.5 91.5 629.9 91.2 630.3 90.8 630.8 90.4 631.2 90.0 631.5 89.3 631.9 88.8 632.2 88.4 632.4 87.6 632.7 87.2 632.8Z" fill="none" stroke="#a8a8a8" stroke-width="0.55"/>
<path d="M86.8 631.9 86.0 632.0 85.3 631.9 84.8 631.7 84.4 631.5 84.0 631.1 83.8 630.3 84.0 629.6 84.3 629.1 84.6 628.7 84.9 628.3 85.4 627.9 85.9 627.5 86.4 627.2 86.8 627.0 87.5 626.7 88.0 626.6 88.8 626.5 89.6 626.6 90.0 626.7 90.5 627.1 90.9 627.5 91.1 628.3 91.0 629.1 90.8 629.5 90.4 630.0 90.0 630.5 89.6 630.8 89.1 631.1 88.4 631.5 88.0 631.6 87.2 631.9 86.8 631.9Z" fill="none" stroke="#a8a8a8" stroke-width="0.55"/>
<path d="M88.0 630.7 87.2 630.9 86.4 630.8 86.0 630.7 85.5 630.3 85.5 629.5 85.6 629.1 86.0 628.5 86.4 628.1 86.8 627.8 87.4 627.5 88.0 627.3 88.8 627.3 89.6 627.5 90.0 627.9 90.1 628.3 90.0 629.1 89.8 629.5 89.4 629.9 88.9 630.3 88.4 630.5 88.0 630.7Z" fill="none" stroke="#a8a8a8" stroke-width="0.55"/>
</g>
<polygon points="74.5,621.1 85.7,608.9 97.8,602.3 109,600.2 117.7,603.1 117.7,622.6 98.4,644.5 99.9,626 100.8,620 95,621.6" fill="none" stroke="#444" stroke-width="0.7" stroke-linejoin="round"/>
<text x="54.9" y="610.1" font-size="13.3" text-anchor="start" fill="#000">5.31</text>
<text x="35.8" y="620.8" font-size="10.2" text-anchor="middle" fill="#000" transform="rotate(-90 35.8 620.8)">CD86</text>
<text x="69.4" y="677.9" font-size="10.1" text-anchor="start" fill="#000">MHCII</text>
<line x1="121" y1="606.1" x2="144.42" y2="578.5" stroke="#000" stroke-width="2"/>
<polygon points="147.21,582.17 149.6,572.4 140.35,576.35" fill="#000"/>
<line x1="121" y1="643.9" x2="144.35" y2="679.98" stroke="#000" stroke-width="2"/>
<polygon points="140.03,681.59 148.7,686.7 147.59,676.7" fill="#000"/>
<text x="90.7" y="535.9" font-size="13.3" text-anchor="start" fill="#000">Thymus</text>
<text x="93" y="703.8" font-size="13.3" text-anchor="start" fill="#000">Spleen</text>
<text x="152.8" y="470.7" font-size="19.5" text-anchor="start" fill="#000">F</text>
<rect x="168.6" y="502.1" width="82" height="81.4" fill="none" stroke="#8c8c8c" stroke-width="0.9"/>
<line x1="168.2" y1="583.5" x2="251" y2="583.5" stroke="#333" stroke-width="1"/>
<path d="M167 509.56h2.2 M167 528.28h2.2 M167 546.45h2.2 M167 565.89h2.2 M167 575.09h2.2 M168 522.66h1.2 M168 519.29h1.2 M168 517.05h1.2 M168 515.17h1.2 M168 513.86h1.2 M168 512.74h1.2 M168 511.8h1.2 M168 511.06h1.2 M168 510.31h1.2 M168 541h1.2 M168 537.73h1.2 M168 535.55h1.2 M168 533.73h1.2 M168 532.46h1.2 M168 531.37h1.2 M168 530.46h1.2 M168 529.73h1.2 M168 529.01h1.2 M168 560.06h1.2 M168 556.56h1.2 M168 554.22h1.2 M168 552.28h1.2 M168 550.92h1.2 M168 549.75h1.2 M168 548.78h1.2 M168 548h1.2 M168 547.23h1.2 M185 582.9v2.2 M205.22 582.9v2.2 M223.85 582.9v2.2 M242.64 582.9v2.2 M176.96 582.9v2.2 M191.07 582.9v1.2 M194.71 582.9v1.2 M197.13 582.9v1.2 M199.15 582.9v1.2 M200.57 582.9v1.2 M201.78 582.9v1.2 M202.79 582.9v1.2 M203.6 582.9v1.2 M204.41 582.9v1.2 M210.81 582.9v1.2 M214.16 582.9v1.2 M216.4 582.9v1.2 M218.26 582.9v1.2 M219.57 582.9v1.2 M220.68 582.9v1.2 M221.61 582.9v1.2 M222.36 582.9v1.2 M223.11 582.9v1.2 M229.49 582.9v1.2 M232.87 582.9v1.2 M235.12 582.9v1.2 M237 582.9v1.2 M238.32 582.9v1.2 M239.44 582.9v1.2 M240.38 582.9v1.2 M241.14 582.9v1.2 M241.89 582.9v1.2" stroke="#333" stroke-width="0.7" fill="none"/>
<text x="164.6" y="511.06" font-size="3.6" text-anchor="end" fill="#444">10<tspan dy="-1.4" font-size="2.52">5</tspan></text>
<text x="164.6" y="529.78" font-size="3.6" text-anchor="end" fill="#444">10<tspan dy="-1.4" font-size="2.52">4</tspan></text>
<text x="164.6" y="547.95" font-size="3.6" text-anchor="end" fill="#444">10<tspan dy="-1.4" font-size="2.52">3</tspan></text>
<text x="164.6" y="567.39" font-size="3.6" text-anchor="end" fill="#444">10<tspan dy="-1.4" font-size="2.52">2</tspan></text>
<text x="164.6" y="576.59" font-size="3.6" text-anchor="end" fill="#444">0</text>
<text x="185" y="591.51" font-size="3.6" text-anchor="middle" fill="#333">10<tspan dy="-1.4" font-size="2.52">2</tspan></text>
<text x="205.22" y="591.51" font-size="3.6" text-anchor="middle" fill="#333">10<tspan dy="-1.4" font-size="2.52">3</tspan></text>
<text x="223.85" y="591.51" font-size="3.6" text-anchor="middle" fill="#333">10<tspan dy="-1.4" font-size="2.52">4</tspan></text>
<text x="242.64" y="591.51" font-size="3.6" text-anchor="middle" fill="#333">10<tspan dy="-1.4" font-size="2.52">5</tspan></text>
<text x="176.96" y="591.51" font-size="3.6" text-anchor="middle" fill="#333">0</text>
<clipPath id="cF"><rect x="169.1" y="502.6" width="81" height="80.4"/></clipPath><g clip-path="url(#cF)">
<linearGradient id="gF" x1="169" y1="0" x2="214" y2="0" gradientUnits="userSpaceOnUse"><stop offset="0" stop-color="#c4c4c4"/><stop offset="0.45" stop-color="#9a9a9a"/><stop offset="0.8" stop-color="#555"/><stop offset="1" stop-color="#666"/></linearGradient>
<ellipse cx="183" cy="529.5" rx="14" ry="6.5" fill="url(#p3)"/>
<path d="M168.6 513.3 169.0 513.0 169.4 512.7 169.8 512.3 170.2 512.1 171.0 511.9 171.8 512.0 172.2 512.1 173.0 512.3 173.8 512.5 174.6 512.4 175.4 512.3 176.2 512.2 176.9 512.1 177.4 512.0 178.2 511.9 179.0 511.9 179.8 511.8 180.6 511.7 181.0 511.7 181.8 511.6 182.6 511.6 183.4 511.5 184.2 511.5 185.0 511.5 185.8 511.4 186.6 511.4 187.4 511.4 188.2 511.4 189.0 511.4 189.8 511.4 190.6 511.4 191.4 511.4 192.2 511.4 193.0 511.4 193.8 511.4 194.6 511.4 195.4 511.4 196.2 511.4 197.0 511.5 197.8 511.5 198.6 511.5 199.4 511.6 200.2 511.6 201.0 511.7 201.4 511.7 202.2 511.8 203.0 511.9 203.8 512.0 204.5 512.1 205.0 512.2 205.8 512.3 206.6 512.5 207.0 512.6 207.8 512.7 208.4 512.9 209.0 513.1 209.8 513.3 210.2 513.4 210.9 513.7 211.4 513.9 211.9 514.1 212.6 514.4 213.0 514.6 213.4 514.9 214.0 515.3 214.5 515.7 214.9 516.1 215.1 516.5 215.4 517.3 215.4 517.7 215.4 518.1 215.2 518.9 215.0 519.4 214.7 520.1 214.6 520.5 214.3 521.3 214.2 522.1 214.2 522.5 214.1 523.3 214.1 524.1 214.1 524.9 214.0 525.7 213.9 526.5 213.8 526.9 213.6 527.7 213.4 528.1 213.0 528.9 212.8 529.3 212.5 529.7 212.2 530.1 211.8 530.5 211.4 530.9 211.0 531.3 210.5 531.7 209.9 532.1 209.4 532.4 209.0 532.6 208.3 532.9 207.8 533.1 207.1 533.3 206.6 533.4 205.8 533.6 205.1 533.7 204.6 533.8 203.8 533.8 203.0 533.8 202.2 533.7 201.8 533.6 201.0 533.5 200.2 533.3 199.8 533.2 199.0 532.9 198.6 532.8 198.0 532.5 197.4 532.2 197.0 532.0 196.6 531.7 196.0 531.3 195.5 530.9 195.1 530.5 194.7 530.1 194.3 529.7 193.9 529.3 193.6 528.9 193.4 528.5 193.0 527.9 192.7 527.3 192.5 526.9 192.2 526.2 192.0 525.7 191.8 525.3 191.4 524.7 191.0 524.3 190.6 523.9 190.2 523.7 189.4 523.3 189.0 523.2 188.2 523.0 187.6 522.9 187.0 522.8 186.2 522.7 185.4 522.7 184.6 522.6 183.8 522.5 183.4 522.5 182.6 522.4 181.8 522.4 181.0 522.3 180.2 522.3 179.4 522.2 178.6 522.1 178.2 522.1 177.4 522.0 176.6 521.9 175.8 521.8 175.3 521.7 174.6 521.6 173.8 521.7 173.4 521.9 173.0 522.1 172.6 522.5 172.1 522.9 171.4 523.3 171.0 523.4 170.6 523.3 170.0 522.9 169.6 522.5 169.3 522.1 169.0 521.7 168.6 521.1Z" fill="none" stroke="url(#p3)" stroke-width="7"/>
<path d="M168.6 513.3 169.0 513.0 169.4 512.7 169.8 512.3 170.2 512.1 171.0 511.9 171.8 512.0 172.2 512.1 173.0 512.3 173.8 512.5 174.6 512.4 175.4 512.3 176.2 512.2 176.9 512.1 177.4 512.0 178.2 511.9 179.0 511.9 179.8 511.8 180.6 511.7 181.0 511.7 181.8 511.6 182.6 511.6 183.4 511.5 184.2 511.5 185.0 511.5 185.8 511.4 186.6 511.4 187.4 511.4 188.2 511.4 189.0 511.4 189.8 511.4 190.6 511.4 191.4 511.4 192.2 511.4 193.0 511.4 193.8 511.4 194.6 511.4 195.4 511.4 196.2 511.4 197.0 511.5 197.8 511.5 198.6 511.5 199.4 511.6 200.2 511.6 201.0 511.7 201.4 511.7 202.2 511.8 203.0 511.9 203.8 512.0 204.5 512.1 205.0 512.2 205.8 512.3 206.6 512.5 207.0 512.6 207.8 512.7 208.4 512.9 209.0 513.1 209.8 513.3 210.2 513.4 210.9 513.7 211.4 513.9 211.9 514.1 212.6 514.4 213.0 514.6 213.4 514.9 214.0 515.3 214.5 515.7 214.9 516.1 215.1 516.5 215.4 517.3 215.4 517.7 215.4 518.1 215.2 518.9 215.0 519.4 214.7 520.1 214.6 520.5 214.3 521.3 214.2 522.1 214.2 522.5 214.1 523.3 214.1 524.1 214.1 524.9 214.0 525.7 213.9 526.5 213.8 526.9 213.6 527.7 213.4 528.1 213.0 528.9 212.8 529.3 212.5 529.7 212.2 530.1 211.8 530.5 211.4 530.9 211.0 531.3 210.5 531.7 209.9 532.1 209.4 532.4 209.0 532.6 208.3 532.9 207.8 533.1 207.1 533.3 206.6 533.4 205.8 533.6 205.1 533.7 204.6 533.8 203.8 533.8 203.0 533.8 202.2 533.7 201.8 533.6 201.0 533.5 200.2 533.3 199.8 533.2 199.0 532.9 198.6 532.8 198.0 532.5 197.4 532.2 197.0 532.0 196.6 531.7 196.0 531.3 195.5 530.9 195.1 530.5 194.7 530.1 194.3 529.7 193.9 529.3 193.6 528.9 193.4 528.5 193.0 527.9 192.7 527.3 192.5 526.9 192.2 526.2 192.0 525.7 191.8 525.3 191.4 524.7 191.0 524.3 190.6 523.9 190.2 523.7 189.4 523.3 189.0 523.2 188.2 523.0 187.6 522.9 187.0 522.8 186.2 522.7 185.4 522.7 184.6 522.6 183.8 522.5 183.4 522.5 182.6 522.4 181.8 522.4 181.0 522.3 180.2 522.3 179.4 522.2 178.6 522.1 178.2 522.1 177.4 522.0 176.6 521.9 175.8 521.8 175.3 521.7 174.6 521.6 173.8 521.7 173.4 521.9 173.0 522.1 172.6 522.5 172.1 522.9 171.4 523.3 171.0 523.4 170.6 523.3 170.0 522.9 169.6 522.5 169.3 522.1 169.0 521.7 168.6 521.1Z" fill="url(#gF)" stroke="url(#p1)" stroke-width="3.5"/>
<path d="M168.6 513.3 169.0 513.0 169.4 512.7 169.8 512.3 170.2 512.1 171.0 511.9 171.8 512.0 172.2 512.1 173.0 512.3 173.8 512.5 174.6 512.4 175.4 512.3 176.2 512.2 176.9 512.1 177.4 512.0 178.2 511.9 179.0 511.9 179.8 511.8 180.6 511.7 181.0 511.7 181.8 511.6 182.6 511.6 183.4 511.5 184.2 511.5 185.0 511.5 185.8 511.4 186.6 511.4 187.4 511.4 188.2 511.4 189.0 511.4 189.8 511.4 190.6 511.4 191.4 511.4 192.2 511.4 193.0 511.4 193.8 511.4 194.6 511.4 195.4 511.4 196.2 511.4 197.0 511.5 197.8 511.5 198.6 511.5 199.4 511.6 200.2 511.6 201.0 511.7 201.4 511.7 202.2 511.8 203.0 511.9 203.8 512.0 204.5 512.1 205.0 512.2 205.8 512.3 206.6 512.5 207.0 512.6 207.8 512.7 208.4 512.9 209.0 513.1 209.8 513.3 210.2 513.4 210.9 513.7 211.4 513.9 211.9 514.1 212.6 514.4 213.0 514.6 213.4 514.9 214.0 515.3 214.5 515.7 214.9 516.1 215.1 516.5 215.4 517.3 215.4 517.7 215.4 518.1 215.2 518.9 215.0 519.4 214.7 520.1 214.6 520.5 214.3 521.3 214.2 522.1 214.2 522.5 214.1 523.3 214.1 524.1 214.1 524.9 214.0 525.7 213.9 526.5 213.8 526.9 213.6 527.7 213.4 528.1 213.0 528.9 212.8 529.3 212.5 529.7 212.2 530.1 211.8 530.5 211.4 530.9 211.0 531.3 210.5 531.7 209.9 532.1 209.4 532.4 209.0 532.6 208.3 532.9 207.8 533.1 207.1 533.3 206.6 533.4 205.8 533.6 205.1 533.7 204.6 533.8 203.8 533.8 203.0 533.8 202.2 533.7 201.8 533.6 201.0 533.5 200.2 533.3 199.8 533.2 199.0 532.9 198.6 532.8 198.0 532.5 197.4 532.2 197.0 532.0 196.6 531.7 196.0 531.3 195.5 530.9 195.1 530.5 194.7 530.1 194.3 529.7 193.9 529.3 193.6 528.9 193.4 528.5 193.0 527.9 192.7 527.3 192.5 526.9 192.2 526.2 192.0 525.7 191.8 525.3 191.4 524.7 191.0 524.3 190.6 523.9 190.2 523.7 189.4 523.3 189.0 523.2 188.2 523.0 187.6 522.9 187.0 522.8 186.2 522.7 185.4 522.7 184.6 522.6 183.8 522.5 183.4 522.5 182.6 522.4 181.8 522.4 181.0 522.3 180.2 522.3 179.4 522.2 178.6 522.1 178.2 522.1 177.4 522.0 176.6 521.9 175.8 521.8 175.3 521.7 174.6 521.6 173.8 521.7 173.4 521.9 173.0 522.1 172.6 522.5 172.1 522.9 171.4 523.3 171.0 523.4 170.6 523.3 170.0 522.9 169.6 522.5 169.3 522.1 169.0 521.7 168.6 521.1Z" fill="url(#p2)"/>
<ellipse cx="201" cy="516" rx="8" ry="3.6" fill="#000" opacity="0.85" filter="url(#b1)"/>
<rect x="169" y="513.5" width="2.4" height="10" fill="#000"/>
<path d="M168.6 515.5 168.9 514.9 169.2 514.5 169.5 514.1 169.8 513.7 170.4 513.3 171.0 513.1 171.8 513.2 172.2 513.4 172.8 513.7 173.4 513.9 174.2 514.0 175.0 513.8 175.7 513.7 176.2 513.6 177.0 513.5 177.8 513.3 178.2 513.3 179.0 513.2 179.8 513.1 180.6 513.0 181.4 512.9 181.8 512.9 182.6 512.8 183.4 512.7 184.2 512.7 185.0 512.6 185.8 512.6 186.6 512.6 187.4 512.6 188.2 512.5 189.0 512.5 189.8 512.5 190.6 512.5 191.4 512.5 192.2 512.5 193.0 512.6 193.8 512.6 194.6 512.6 195.4 512.6 196.2 512.6 197.0 512.7 197.8 512.7 198.6 512.8 199.4 512.8 200.2 512.9 200.6 512.9 201.4 513.0 202.2 513.1 203.0 513.2 203.4 513.3 204.2 513.4 205.0 513.6 205.4 513.7 206.2 513.9 206.9 514.1 207.4 514.3 208.0 514.5 208.6 514.7 209.0 514.9 209.7 515.3 210.2 515.6 210.6 515.9 211.0 516.3 211.4 516.8 211.7 517.3 211.8 517.8 211.8 518.5 211.8 519.1 211.7 519.7 211.6 520.5 211.5 521.3 211.5 522.1 211.5 522.9 211.6 523.7 211.6 524.5 211.5 525.3 211.4 526.0 211.3 526.5 211.0 527.3 210.8 527.7 210.6 528.1 210.2 528.6 209.8 529.1 209.4 529.5 209.0 529.9 208.6 530.1 208.0 530.5 207.4 530.8 207.0 531.0 206.2 531.3 205.8 531.4 205.0 531.5 204.2 531.6 203.4 531.6 202.6 531.6 201.8 531.5 201.0 531.3 200.6 531.2 199.8 530.9 199.4 530.8 198.9 530.5 198.2 530.1 197.8 529.9 197.4 529.6 197.0 529.2 196.6 528.8 196.2 528.4 195.8 527.9 195.4 527.3 195.2 526.9 195.0 526.5 194.6 525.7 194.4 525.3 194.2 524.7 193.9 524.1 193.6 523.7 193.2 523.3 192.7 522.9 192.2 522.6 191.8 522.4 191.0 522.2 190.6 522.1 189.8 521.9 189.0 521.8 188.5 521.7 187.8 521.6 187.0 521.6 186.2 521.5 185.4 521.4 184.6 521.4 183.8 521.3 183.4 521.3 182.6 521.2 181.8 521.1 181.0 521.1 180.2 521.0 179.5 520.9 179.0 520.8 178.2 520.7 177.4 520.6 176.8 520.5 176.2 520.4 175.4 520.2 174.6 520.1 174.2 520.1 173.8 520.1 173.2 520.5 172.8 520.9 172.4 521.3 172.0 521.7 171.4 522.1 171.0 522.1 170.6 522.0 170.1 521.7 169.8 521.3 169.4 520.7 169.1 520.1 168.9 519.7 168.6 518.9Z" fill="none" stroke="#fff" stroke-width="0.6"/>
<path d="M205.4 529.8 204.6 529.9 203.8 530.0 203.0 530.0 202.2 529.9 201.4 529.8 201.0 529.6 200.2 529.3 199.8 529.1 199.4 528.9 198.8 528.5 198.3 528.1 197.9 527.7 197.6 527.3 197.3 526.9 197.0 526.5 196.6 525.7 196.4 525.3 196.2 524.7 195.9 524.1 195.7 523.7 195.4 523.1 195.0 522.7 194.6 522.3 194.2 522.1 193.4 521.7 193.0 521.5 192.2 521.3 191.8 521.2 191.0 521.1 190.2 521.0 189.8 520.9 189.0 520.8 188.2 520.8 187.4 520.7 186.6 520.6 185.8 520.6 185.0 520.5 184.6 520.5 183.8 520.4 183.0 520.3 182.2 520.3 181.4 520.2 180.9 520.1 180.2 520.0 179.4 519.9 178.6 519.7 178.2 519.7 177.4 519.5 176.7 519.3 176.2 519.2 175.4 518.9 175.0 518.8 174.2 518.6 173.5 518.9 173.1 519.3 172.8 519.7 172.5 520.1 172.2 520.5 171.8 520.9 171.0 521.2 170.3 520.9 170.0 520.5 169.8 520.1 169.4 519.3 169.3 518.9 169.1 518.1 169.1 517.3 169.1 516.5 169.4 515.7 169.5 515.3 169.8 514.9 170.2 514.4 170.6 514.1 171.4 514.0 171.8 514.1 172.3 514.5 172.8 514.9 173.4 515.3 173.8 515.5 174.6 515.4 175.0 515.2 175.8 515.0 176.2 514.8 177.0 514.6 177.5 514.5 178.2 514.3 179.0 514.2 179.6 514.1 180.2 514.0 181.0 513.9 181.8 513.8 182.6 513.7 183.0 513.7 183.8 513.6 184.6 513.5 185.4 513.5 186.2 513.5 187.0 513.4 187.8 513.4 188.6 513.4 189.4 513.4 190.2 513.4 191.0 513.4 191.8 513.4 192.6 513.4 193.4 513.4 194.2 513.4 195.0 513.5 195.8 513.5 196.6 513.5 197.4 513.6 198.2 513.6 198.8 513.7 199.4 513.8 200.2 513.8 201.0 513.9 201.8 514.1 202.2 514.1 203.0 514.3 203.8 514.4 204.2 514.5 205.0 514.8 205.4 514.9 206.2 515.2 206.6 515.4 207.3 515.7 207.8 516.0 208.2 516.3 208.6 516.7 209.0 517.2 209.3 517.7 209.4 518.1 209.5 518.9 209.5 519.7 209.5 520.5 209.5 521.3 209.5 522.1 209.6 522.9 209.6 523.7 209.7 524.5 209.6 525.3 209.4 526.1 209.3 526.5 209.0 527.0 208.6 527.7 208.2 528.1 207.8 528.5 207.4 528.8 207.0 529.1 206.6 529.3 205.8 529.6 205.4 529.8Z" fill="none" stroke="#555" stroke-width="0.6"/>
<path d="M205.0 528.2 204.2 528.4 203.4 528.5 202.6 528.4 201.8 528.3 201.2 528.1 200.6 527.8 200.2 527.6 199.8 527.3 199.4 526.9 199.0 526.5 198.6 525.9 198.3 525.3 198.1 524.9 197.8 524.1 197.6 523.7 197.4 523.2 197.0 522.5 196.6 522.1 196.2 521.8 195.8 521.5 195.4 521.3 194.6 521.0 194.2 520.8 193.4 520.6 192.9 520.5 192.2 520.4 191.4 520.3 190.6 520.2 189.9 520.1 189.4 520.1 188.6 520.0 187.8 519.9 187.0 519.9 186.2 519.8 185.4 519.8 184.8 519.7 184.2 519.6 183.4 519.6 182.6 519.5 181.8 519.3 181.4 519.3 180.6 519.1 179.8 518.9 179.4 518.8 178.6 518.6 178.2 518.5 177.4 518.1 177.0 517.9 176.6 517.6 176.3 516.9 176.6 516.4 177.0 516.1 177.7 515.7 178.2 515.5 178.9 515.3 179.4 515.2 180.2 515.0 180.6 514.9 181.4 514.7 182.2 514.6 183.0 514.5 183.4 514.5 184.2 514.4 185.0 514.3 185.8 514.3 186.6 514.2 187.4 514.2 188.2 514.1 189.0 514.1 189.8 514.1 190.6 514.1 191.4 514.1 192.2 514.1 193.0 514.2 193.8 514.2 194.6 514.2 195.4 514.3 196.2 514.3 197.0 514.4 197.8 514.4 198.6 514.5 199.0 514.5 199.8 514.6 200.6 514.7 201.4 514.9 201.8 515.0 202.6 515.1 203.2 515.3 203.8 515.5 204.4 515.7 205.0 516.0 205.4 516.2 206.0 516.5 206.5 516.9 206.8 517.3 207.1 517.7 207.4 518.5 207.5 518.9 207.5 519.7 207.5 520.5 207.6 521.3 207.7 522.1 207.8 522.9 207.8 523.3 207.9 524.1 207.8 524.9 207.8 525.3 207.5 526.1 207.3 526.5 207.0 526.9 206.6 527.3 206.1 527.7 205.4 528.1 205.0 528.2ZM171.4 520.4 170.6 520.3 170.2 519.8 170.0 519.3 169.8 518.9 169.6 518.1 169.6 517.3 169.7 516.5 169.8 516.1 170.2 515.3 170.6 514.9 171.0 514.8 171.6 514.9 172.1 515.3 172.4 515.7 172.7 516.1 172.9 516.9 172.9 517.7 172.7 518.5 172.5 518.9 172.2 519.5 171.8 520.0 171.4 520.4Z" fill="none" stroke="#fff" stroke-width="0.6"/>
<path d="M203.8 526.6 203.0 526.7 202.2 526.5 201.8 526.4 201.3 526.1 200.8 525.7 200.5 525.3 200.2 524.8 199.9 524.1 199.8 523.7 199.5 522.9 199.3 522.5 199.0 522.1 198.6 521.6 198.2 521.3 197.5 520.9 197.0 520.6 196.6 520.5 195.8 520.2 195.4 520.1 194.6 519.9 193.8 519.8 193.4 519.7 192.6 519.6 191.8 519.5 191.0 519.4 190.2 519.3 189.7 519.3 189.0 519.2 188.2 519.2 187.4 519.1 186.6 519.1 185.8 519.0 185.1 518.9 184.6 518.8 183.8 518.7 183.0 518.6 182.6 518.5 181.8 518.3 181.2 518.1 180.6 517.8 180.2 517.6 179.8 517.1 179.8 516.8 180.2 516.4 180.7 516.1 181.4 515.8 181.8 515.7 182.6 515.5 183.4 515.4 183.8 515.3 184.6 515.2 185.4 515.1 186.2 515.0 187.0 515.0 187.8 514.9 188.2 514.9 189.0 514.9 189.8 514.9 190.6 514.9 191.4 514.9 192.2 514.9 192.7 514.9 193.4 514.9 194.2 515.0 195.0 515.0 195.8 515.1 196.6 515.1 197.4 515.2 198.2 515.3 198.6 515.3 199.4 515.4 200.2 515.6 200.8 515.7 201.4 515.8 202.2 516.1 202.6 516.2 203.3 516.5 203.8 516.8 204.2 517.1 204.6 517.4 205.0 517.9 205.3 518.5 205.4 519.3 205.4 519.7 205.4 520.5 205.5 521.3 205.6 522.1 205.7 522.9 205.8 523.4 205.8 524.1 205.8 524.5 205.5 525.3 205.3 525.7 204.9 526.1 204.2 526.5 203.8 526.6ZM171.4 519.5 170.6 519.4 170.3 518.9 170.2 518.5 170.1 517.7 170.1 516.9 170.2 516.5 170.6 515.8 171.0 515.6 171.5 515.7 171.9 516.1 172.2 516.9 172.2 517.3 172.2 517.9 172.0 518.5 171.8 519.0 171.4 519.5Z" fill="none" stroke="#555" stroke-width="0.6"/>
<path d="M201.8 519.7 201.0 520.0 200.2 519.9 199.4 519.8 199.0 519.7 198.2 519.5 197.4 519.3 197.0 519.2 196.2 519.1 195.4 518.9 195.0 518.9 194.2 518.8 193.4 518.7 192.6 518.6 191.8 518.5 191.3 518.5 190.6 518.4 189.8 518.4 189.0 518.3 188.2 518.2 187.4 518.2 187.0 518.1 186.2 518.0 185.4 517.8 185.0 517.7 184.2 517.3 184.1 516.9 184.6 516.5 185.0 516.4 185.8 516.1 186.2 516.1 187.0 516.0 187.8 515.9 188.6 515.8 189.4 515.8 190.2 515.8 191.0 515.8 191.8 515.8 192.6 515.8 193.4 515.8 194.2 515.9 195.0 515.9 195.8 516.0 196.6 516.1 197.0 516.1 197.8 516.2 198.6 516.4 199.2 516.5 199.8 516.7 200.6 516.9 201.0 517.1 201.4 517.3 201.9 517.7 202.2 518.1 202.4 518.9 202.2 519.4 201.8 519.7ZM171.4 518.2 170.8 518.1 170.7 517.3 171.0 516.8 171.4 516.9 171.5 517.7 171.4 518.2Z" fill="none" stroke="#fff" stroke-width="0.6"/>
<path d="M168.6 513.3 169.0 513.0 169.4 512.7 169.8 512.3 170.2 512.1 171.0 511.9 171.8 512.0 172.2 512.1 173.0 512.3 173.8 512.5 174.6 512.4 175.4 512.3 176.2 512.2 176.9 512.1 177.4 512.0 178.2 511.9 179.0 511.9 179.8 511.8 180.6 511.7 181.0 511.7 181.8 511.6 182.6 511.6 183.4 511.5 184.2 511.5 185.0 511.5 185.8 511.4 186.6 511.4 187.4 511.4 188.2 511.4 189.0 511.4 189.8 511.4 190.6 511.4 191.4 511.4 192.2 511.4 193.0 511.4 193.8 511.4 194.6 511.4 195.4 511.4 196.2 511.4 197.0 511.5 197.8 511.5 198.6 511.5 199.4 511.6 200.2 511.6 201.0 511.7 201.4 511.7 202.2 511.8 203.0 511.9 203.8 512.0 204.5 512.1 205.0 512.2 205.8 512.3 206.6 512.5 207.0 512.6 207.8 512.7 208.4 512.9 209.0 513.1 209.8 513.3 210.2 513.4 210.9 513.7 211.4 513.9 211.9 514.1 212.6 514.4 213.0 514.6 213.4 514.9 214.0 515.3 214.5 515.7 214.9 516.1 215.1 516.5 215.4 517.3 215.4 517.7 215.4 518.1 215.2 518.9 215.0 519.4 214.7 520.1 214.6 520.5 214.3 521.3 214.2 522.1 214.2 522.5 214.1 523.3 214.1 524.1 214.1 524.9 214.0 525.7 213.9 526.5 213.8 526.9 213.6 527.7 213.4 528.1 213.0 528.9 212.8 529.3 212.5 529.7 212.2 530.1 211.8 530.5 211.4 530.9 211.0 531.3 210.5 531.7 209.9 532.1 209.4 532.4 209.0 532.6 208.3 532.9 207.8 533.1 207.1 533.3 206.6 533.4 205.8 533.6 205.1 533.7 204.6 533.8 203.8 533.8 203.0 533.8 202.2 533.7 201.8 533.6 201.0 533.5 200.2 533.3 199.8 533.2 199.0 532.9 198.6 532.8 198.0 532.5 197.4 532.2 197.0 532.0 196.6 531.7 196.0 531.3 195.5 530.9 195.1 530.5 194.7 530.1 194.3 529.7 193.9 529.3 193.6 528.9 193.4 528.5 193.0 527.9 192.7 527.3 192.5 526.9 192.2 526.2 192.0 525.7 191.8 525.3 191.4 524.7 191.0 524.3 190.6 523.9 190.2 523.7 189.4 523.3 189.0 523.2 188.2 523.0 187.6 522.9 187.0 522.8 186.2 522.7 185.4 522.7 184.6 522.6 183.8 522.5 183.4 522.5 182.6 522.4 181.8 522.4 181.0 522.3 180.2 522.3 179.4 522.2 178.6 522.1 178.2 522.1 177.4 522.0 176.6 521.9 175.8 521.8 175.3 521.7 174.6 521.6 173.8 521.7 173.4 521.9 173.0 522.1 172.6 522.5 172.1 522.9 171.4 523.3 171.0 523.4 170.6 523.3 170.0 522.9 169.6 522.5 169.3 522.1 169.0 521.7 168.6 521.1Z" fill="none" stroke="#111" stroke-width="0.9"/>
<ellipse cx="222.5" cy="519.5" rx="12.3" ry="5.8" transform="rotate(-52 222.5 519.5)" fill="url(#p3)" stroke="#555" stroke-width="0.8"/>
<ellipse cx="222" cy="519" rx="5" ry="2.5" transform="rotate(-52 222 519)" fill="#333" opacity="0.5" filter="url(#b1)"/>
</g>
<text x="232.8" y="559.8" font-size="13.3" text-anchor="end" fill="#000">1.05</text>
<text x="189.5" y="603.5" font-size="10.2" text-anchor="start" fill="#000">CD45.2</text>
<text x="158.2" y="542.9" font-size="9.9" text-anchor="middle" fill="#000" transform="rotate(-90 158.2 542.9)">CD11c</text>
<line x1="228.3" y1="520" x2="255.7" y2="520" stroke="#000" stroke-width="2"/>
<polygon points="254.7,515 264.2,520 254.7,525" fill="#000"/>
<text x="326.2" y="491.6" font-size="13.3" text-anchor="middle" fill="#000">Day 1</text>
<text x="326.2" y="647.2" font-size="13.3" text-anchor="middle" fill="#000">Day 1</text>
<text x="410.3" y="491.6" font-size="13.3" text-anchor="middle" fill="#000">D3</text>
<text x="410.3" y="647.2" font-size="13.3" text-anchor="middle" fill="#000">D3</text>
<text x="495.3" y="491.6" font-size="13.3" text-anchor="middle" fill="#000">D6</text>
<text x="495.3" y="647.2" font-size="13.3" text-anchor="middle" fill="#000">D6</text>
<text x="580.4" y="491.6" font-size="13.3" text-anchor="middle" fill="#000">D9</text>
<text x="580.4" y="647.2" font-size="13.3" text-anchor="middle" fill="#000">D9</text>
<rect x="284.3" y="501.6" width="81.9" height="81.7" fill="none" stroke="#8c8c8c" stroke-width="0.9"/>
<line x1="283.9" y1="583.3" x2="366.6" y2="583.3" stroke="#333" stroke-width="1"/>
<path d="M282.7 509.09h2.2 M282.7 527.88h2.2 M282.7 546.11h2.2 M282.7 565.62h2.2 M282.7 574.86h2.2 M283.7 522.24h1.2 M283.7 518.86h1.2 M283.7 516.6h1.2 M283.7 514.72h1.2 M283.7 513.41h1.2 M283.7 512.28h1.2 M283.7 511.34h1.2 M283.7 510.59h1.2 M283.7 509.84h1.2 M283.7 540.64h1.2 M283.7 537.36h1.2 M283.7 535.17h1.2 M283.7 533.35h1.2 M283.7 532.07h1.2 M283.7 530.98h1.2 M283.7 530.07h1.2 M283.7 529.34h1.2 M283.7 528.61h1.2 M283.7 559.77h1.2 M283.7 556.26h1.2 M283.7 553.92h1.2 M283.7 551.97h1.2 M283.7 550.6h1.2 M283.7 549.43h1.2 M283.7 548.45h1.2 M283.7 547.67h1.2 M283.7 546.89h1.2 M300.68 582.7v2.2 M320.88 582.7v2.2 M339.48 582.7v2.2 M358.25 582.7v2.2 M292.65 582.7v2.2 M306.74 582.7v1.2 M310.37 582.7v1.2 M312.8 582.7v1.2 M314.82 582.7v1.2 M316.23 582.7v1.2 M317.44 582.7v1.2 M318.45 582.7v1.2 M319.26 582.7v1.2 M320.07 582.7v1.2 M326.46 582.7v1.2 M329.81 582.7v1.2 M332.04 582.7v1.2 M333.9 582.7v1.2 M335.2 582.7v1.2 M336.32 582.7v1.2 M337.25 582.7v1.2 M337.99 582.7v1.2 M338.74 582.7v1.2 M345.11 582.7v1.2 M348.49 582.7v1.2 M350.74 582.7v1.2 M352.62 582.7v1.2 M353.93 582.7v1.2 M355.06 582.7v1.2 M356 582.7v1.2 M356.75 582.7v1.2 M357.5 582.7v1.2" stroke="#333" stroke-width="0.7" fill="none"/>
<text x="280.3" y="510.59" font-size="3.6" text-anchor="end" fill="#444">10<tspan dy="-1.4" font-size="2.52">5</tspan></text>
<text x="280.3" y="529.38" font-size="3.6" text-anchor="end" fill="#444">10<tspan dy="-1.4" font-size="2.52">4</tspan></text>
<text x="280.3" y="547.61" font-size="3.6" text-anchor="end" fill="#444">10<tspan dy="-1.4" font-size="2.52">3</tspan></text>
<text x="280.3" y="567.12" font-size="3.6" text-anchor="end" fill="#444">10<tspan dy="-1.4" font-size="2.52">2</tspan></text>
<text x="280.3" y="576.36" font-size="3.6" text-anchor="end" fill="#444">0</text>
<text x="300.68" y="591.34" font-size="3.6" text-anchor="middle" fill="#333">10<tspan dy="-1.4" font-size="2.52">2</tspan></text>
<text x="320.88" y="591.34" font-size="3.6" text-anchor="middle" fill="#333">10<tspan dy="-1.4" font-size="2.52">3</tspan></text>
<text x="339.48" y="591.34" font-size="3.6" text-anchor="middle" fill="#333">10<tspan dy="-1.4" font-size="2.52">4</tspan></text>
<text x="358.25" y="591.34" font-size="3.6" text-anchor="middle" fill="#333">10<tspan dy="-1.4" font-size="2.52">5</tspan></text>
<text x="292.65" y="591.34" font-size="3.6" text-anchor="middle" fill="#333">0</text>
<clipPath id="c544"><rect x="284.8" y="502.1" width="80.9" height="80.7"/></clipPath><g clip-path="url(#c544)">
<path d="M333.9 560.8 333.1 560.9 332.3 560.9 331.5 560.9 330.7 560.8 330.3 560.8 329.5 560.7 328.7 560.6 327.9 560.4 327.5 560.3 326.7 560.1 326.3 559.9 325.5 559.6 325.1 559.5 324.5 559.2 323.9 558.9 323.5 558.7 323.1 558.4 322.5 558.0 322.0 557.6 321.6 557.2 321.2 556.8 320.8 556.4 320.5 556.0 320.2 555.6 319.9 555.1 319.6 554.4 319.4 554.0 319.2 553.2 319.1 552.8 318.9 552.0 318.9 551.2 319.0 550.4 319.1 549.6 319.2 549.2 319.4 548.4 319.6 548.0 319.9 547.3 320.1 546.8 320.4 546.4 320.7 545.9 321.1 545.4 321.5 544.9 321.9 544.5 322.3 544.1 322.7 543.7 323.1 543.4 323.5 543.1 323.9 542.8 324.5 542.4 325.1 542.0 325.5 541.8 325.9 541.6 326.7 541.2 327.1 541.0 327.7 540.8 328.3 540.6 328.8 540.4 329.5 540.1 330.0 540.0 330.7 539.8 331.5 539.6 331.9 539.5 332.7 539.4 333.5 539.3 334.3 539.2 334.7 539.2 335.5 539.1 336.3 539.1 337.1 539.1 337.9 539.2 338.3 539.2 339.1 539.3 339.9 539.4 340.7 539.6 341.1 539.7 341.9 539.9 342.3 540.1 343.1 540.4 343.5 540.5 344.1 540.8 344.7 541.1 345.1 541.3 345.5 541.6 346.1 542.0 346.6 542.4 347.0 542.8 347.4 543.2 347.8 543.6 348.1 544.0 348.4 544.4 348.7 545.0 349.0 545.6 349.2 546.0 349.4 546.8 349.5 547.2 349.6 548.0 349.7 548.8 349.6 549.6 349.5 550.1 349.3 550.8 349.1 551.5 348.9 552.0 348.7 552.4 348.3 553.2 348.0 553.6 347.7 554.0 347.4 554.4 347.1 554.8 346.7 555.2 346.3 555.6 345.9 556.0 345.5 556.4 345.0 556.8 344.4 557.2 343.9 557.6 343.5 557.8 343.1 558.1 342.5 558.4 341.9 558.7 341.5 558.9 340.8 559.2 340.3 559.4 339.7 559.6 339.1 559.8 338.5 560.0 337.9 560.2 337.1 560.4 336.7 560.4 335.9 560.6 335.1 560.7 334.3 560.8 333.9 560.8Z" fill="none" stroke="#555" stroke-width="0.6"/>
<path d="M335.5 558.8 334.7 558.9 333.9 559.0 333.1 559.0 332.3 559.0 331.5 559.0 330.7 558.9 329.9 558.8 329.5 558.8 328.7 558.6 328.1 558.4 327.5 558.2 326.9 558.0 326.3 557.7 325.9 557.5 325.3 557.2 324.7 556.8 324.3 556.5 323.9 556.2 323.5 555.8 323.1 555.4 322.7 554.9 322.4 554.4 322.1 554.0 321.9 553.5 321.6 552.8 321.5 552.4 321.3 551.6 321.3 550.8 321.3 550.0 321.4 549.2 321.5 548.8 321.8 548.0 322.0 547.6 322.3 547.0 322.7 546.4 323.0 546.0 323.3 545.6 323.7 545.2 324.1 544.8 324.6 544.4 325.1 544.0 325.5 543.8 325.9 543.5 326.5 543.2 327.1 542.9 327.5 542.7 328.3 542.4 328.7 542.2 329.5 542.0 329.9 541.9 330.7 541.6 331.1 541.5 331.9 541.4 332.7 541.2 333.1 541.2 333.9 541.1 334.7 541.0 335.5 540.9 336.3 541.0 337.1 541.0 337.9 541.1 338.7 541.2 339.1 541.3 339.9 541.4 340.5 541.6 341.1 541.8 341.6 542.0 342.3 542.3 342.7 542.5 343.3 542.8 343.9 543.2 344.3 543.5 344.7 543.9 345.1 544.2 345.5 544.7 345.9 545.2 346.1 545.6 346.4 546.0 346.7 546.8 346.8 547.2 347.0 548.0 347.1 548.8 347.0 549.6 346.9 550.4 346.7 551.0 346.5 551.6 346.3 552.0 345.9 552.7 345.6 553.2 345.3 553.6 344.9 554.0 344.6 554.4 344.2 554.8 343.7 555.2 343.2 555.6 342.7 556.0 342.3 556.3 341.9 556.5 341.4 556.8 340.7 557.2 340.3 557.4 339.8 557.6 339.1 557.9 338.7 558.0 337.9 558.3 337.5 558.4 336.7 558.6 335.9 558.8 335.5 558.8Z" fill="none" stroke="#505050" stroke-width="0.6"/>
<path d="M333.9 557.6 333.1 557.6 332.3 557.6 331.7 557.6 331.1 557.5 330.3 557.4 329.5 557.2 329.1 557.1 328.3 556.9 327.9 556.7 327.2 556.4 326.7 556.1 326.3 555.9 325.9 555.6 325.3 555.2 324.9 554.8 324.5 554.4 324.2 554.0 323.9 553.6 323.5 552.9 323.3 552.4 323.1 551.9 322.9 551.2 322.9 550.4 322.9 549.6 323.0 548.8 323.1 548.4 323.5 547.6 323.7 547.2 323.9 546.8 324.3 546.3 324.7 545.9 325.1 545.5 325.5 545.2 326.1 544.8 326.7 544.4 327.1 544.2 327.5 544.0 328.3 543.7 328.7 543.5 329.5 543.3 329.9 543.2 330.7 543.0 331.4 542.8 331.9 542.7 332.7 542.6 333.5 542.5 334.2 542.4 334.7 542.4 335.5 542.3 336.3 542.4 336.8 542.4 337.5 542.5 338.3 542.6 339.1 542.8 339.5 542.9 340.3 543.2 340.7 543.3 341.3 543.6 341.9 543.9 342.3 544.2 342.7 544.5 343.1 544.8 343.5 545.2 343.9 545.7 344.3 546.3 344.6 546.8 344.8 547.2 345.0 548.0 345.1 548.8 345.0 549.6 344.9 550.4 344.7 551.0 344.5 551.6 344.3 552.0 343.9 552.6 343.5 553.1 343.1 553.6 342.7 554.0 342.3 554.4 341.9 554.7 341.5 555.0 341.1 555.3 340.6 555.6 339.9 556.0 339.5 556.2 339.0 556.4 338.3 556.7 337.9 556.8 337.1 557.1 336.6 557.2 335.9 557.4 335.1 557.5 334.3 557.6 333.9 557.6Z" fill="none" stroke="#4a4a4a" stroke-width="0.6"/>
<path d="M333.1 556.4 332.7 556.4 331.9 556.4 331.1 556.3 330.3 556.1 329.9 556.0 329.1 555.8 328.7 555.6 327.9 555.2 327.5 555.0 327.1 554.8 326.6 554.4 326.1 554.0 325.7 553.6 325.3 553.2 325.0 552.8 324.7 552.2 324.4 551.6 324.3 551.2 324.1 550.4 324.1 549.6 324.2 548.8 324.3 548.4 324.7 547.6 324.9 547.2 325.3 546.8 325.6 546.4 326.1 546.0 326.6 545.6 327.1 545.3 327.5 545.1 328.1 544.8 328.7 544.6 329.3 544.4 329.9 544.2 330.7 544.1 331.1 544.0 331.9 543.8 332.7 543.7 333.5 543.6 334.2 543.6 334.7 543.6 335.5 543.6 336.0 543.6 336.7 543.7 337.5 543.8 338.3 544.0 338.7 544.1 339.5 544.4 339.9 544.5 340.4 544.8 341.1 545.2 341.5 545.5 341.9 545.9 342.3 546.4 342.6 546.8 342.8 547.2 343.1 547.9 343.2 548.4 343.3 549.2 343.2 550.0 343.1 550.5 342.9 551.2 342.7 551.6 342.3 552.2 341.9 552.7 341.5 553.2 341.1 553.5 340.7 553.9 340.3 554.2 339.9 554.5 339.3 554.8 338.7 555.1 338.3 555.3 337.6 555.6 337.1 555.8 336.3 556.0 335.9 556.1 335.1 556.2 334.3 556.3 333.5 556.4 333.1 556.4Z" fill="none" stroke="#404040" stroke-width="0.6"/>
<path d="M334.3 555.2 333.5 555.3 332.7 555.3 331.9 555.2 331.5 555.2 330.7 555.0 329.9 554.8 329.5 554.7 328.8 554.4 328.3 554.2 327.9 553.9 327.4 553.6 326.9 553.2 326.5 552.8 326.1 552.4 325.8 552.0 325.5 551.4 325.3 550.8 325.1 550.0 325.2 549.2 325.4 548.4 325.5 548.0 325.9 547.4 326.3 547.0 326.7 546.6 327.1 546.3 327.6 546.0 328.3 545.6 328.7 545.5 329.5 545.2 329.9 545.1 330.7 545.0 331.5 544.8 331.9 544.8 332.7 544.7 333.5 544.7 334.3 544.7 335.1 544.7 335.9 544.7 336.5 544.8 337.1 544.9 337.9 545.1 338.3 545.3 339.1 545.6 339.5 545.8 339.9 546.1 340.3 546.4 340.7 546.8 341.1 547.4 341.4 548.0 341.6 548.4 341.7 549.2 341.6 550.0 341.5 550.5 341.2 551.2 341.0 551.6 340.7 552.0 340.3 552.5 339.9 552.9 339.5 553.2 339.0 553.6 338.3 554.0 337.9 554.2 337.5 554.4 336.7 554.7 336.3 554.8 335.5 555.0 334.7 555.2 334.3 555.2Z" fill="none" stroke="#383838" stroke-width="0.6"/>
<path d="M334.7 554.1 333.9 554.2 333.1 554.2 332.3 554.2 331.5 554.1 331.0 554.0 330.3 553.8 329.6 553.6 329.1 553.4 328.7 553.2 328.0 552.8 327.5 552.4 327.1 552.0 326.8 551.6 326.5 551.2 326.3 550.8 326.1 550.0 326.1 549.2 326.3 548.5 326.6 548.0 326.8 547.6 327.2 547.2 327.8 546.8 328.3 546.5 328.7 546.3 329.5 546.0 329.9 545.9 330.7 545.8 331.5 545.7 332.3 545.7 333.1 545.7 333.9 545.7 334.7 545.7 335.5 545.8 336.3 545.9 336.7 546.0 337.5 546.3 337.9 546.5 338.4 546.8 339.0 547.2 339.4 547.6 339.6 548.0 339.9 548.6 340.0 549.2 340.0 550.0 339.9 550.4 339.5 551.2 339.3 551.6 338.9 552.0 338.5 552.4 338.0 552.8 337.5 553.1 337.1 553.3 336.4 553.6 335.9 553.8 335.1 554.0 334.7 554.1Z" fill="none" stroke="#333" stroke-width="0.6"/>
<path d="M334.7 552.8 333.9 553.0 333.1 553.1 332.3 553.1 331.5 553.0 330.7 552.9 330.3 552.7 329.5 552.5 329.1 552.3 328.6 552.0 328.1 551.6 327.7 551.2 327.4 550.8 327.1 550.0 327.1 549.6 327.1 549.2 327.4 548.4 327.7 548.0 328.1 547.6 328.7 547.2 329.1 547.0 329.9 546.8 330.3 546.7 331.1 546.6 331.9 546.6 332.7 546.6 333.5 546.7 334.3 546.8 334.7 546.9 335.5 547.1 336.0 547.2 336.7 547.5 337.1 547.8 337.5 548.1 337.9 548.6 338.1 549.2 338.2 550.0 337.9 550.7 337.6 551.2 337.2 551.6 336.7 552.0 336.3 552.2 335.9 552.4 335.1 552.7 334.7 552.8Z" fill="none" stroke="#444" stroke-width="0.6"/>
<path d="M333.1 551.7 332.3 551.8 331.5 551.8 330.7 551.7 330.3 551.6 329.5 551.2 329.1 550.9 328.7 550.5 328.4 550.0 328.3 549.2 328.7 548.5 329.1 548.2 329.5 548.0 330.3 547.7 331.1 547.6 331.9 547.7 332.7 547.8 333.5 548.0 333.9 548.1 334.5 548.4 335.1 548.8 335.4 549.2 335.6 549.6 335.5 550.2 335.1 550.8 334.7 551.1 334.3 551.3 333.5 551.6 333.1 551.7Z" fill="none" stroke="#888" stroke-width="0.6"/>
</g>
<polygon points="315.1,539.9 327.5,525.3 342.1,519 355.6,516.3 363.5,519.6 363,537.6 350,554.5 342.1,565.3 342.8,545.5 339.9,540.6" fill="none" stroke="#5a5a5a" stroke-width="0.7" stroke-linejoin="round"/>
<text x="302.8" y="519" font-size="13.3" text-anchor="start" fill="#000">10.1</text>
<rect x="284.3" y="652.6" width="81.9" height="81.5" fill="none" stroke="#8c8c8c" stroke-width="0.9"/>
<line x1="283.9" y1="734.1" x2="366.6" y2="734.1" stroke="#333" stroke-width="1"/>
<path d="M282.7 660.07h2.2 M282.7 678.81h2.2 M282.7 697h2.2 M282.7 716.47h2.2 M282.7 725.68h2.2 M283.7 673.19h1.2 M283.7 669.82h1.2 M283.7 667.57h1.2 M283.7 665.69h1.2 M283.7 664.38h1.2 M283.7 663.25h1.2 M283.7 662.32h1.2 M283.7 661.57h1.2 M283.7 660.82h1.2 M283.7 691.55h1.2 M283.7 688.27h1.2 M283.7 686.09h1.2 M283.7 684.27h1.2 M283.7 683h1.2 M283.7 681.91h1.2 M283.7 681h1.2 M283.7 680.27h1.2 M283.7 679.54h1.2 M283.7 710.63h1.2 M283.7 707.12h1.2 M283.7 704.79h1.2 M283.7 702.84h1.2 M283.7 701.48h1.2 M283.7 700.31h1.2 M283.7 699.34h1.2 M283.7 698.56h1.2 M283.7 697.78h1.2 M300.68 733.5v2.2 M320.88 733.5v2.2 M339.48 733.5v2.2 M358.25 733.5v2.2 M292.65 733.5v2.2 M306.74 733.5v1.2 M310.37 733.5v1.2 M312.8 733.5v1.2 M314.82 733.5v1.2 M316.23 733.5v1.2 M317.44 733.5v1.2 M318.45 733.5v1.2 M319.26 733.5v1.2 M320.07 733.5v1.2 M326.46 733.5v1.2 M329.81 733.5v1.2 M332.04 733.5v1.2 M333.9 733.5v1.2 M335.2 733.5v1.2 M336.32 733.5v1.2 M337.25 733.5v1.2 M337.99 733.5v1.2 M338.74 733.5v1.2 M345.11 733.5v1.2 M348.49 733.5v1.2 M350.74 733.5v1.2 M352.62 733.5v1.2 M353.93 733.5v1.2 M355.06 733.5v1.2 M356 733.5v1.2 M356.75 733.5v1.2 M357.5 733.5v1.2" stroke="#333" stroke-width="0.7" fill="none"/>
<text x="280.3" y="661.57" font-size="3.6" text-anchor="end" fill="#444">10<tspan dy="-1.4" font-size="2.52">5</tspan></text>
<text x="280.3" y="680.31" font-size="3.6" text-anchor="end" fill="#444">10<tspan dy="-1.4" font-size="2.52">4</tspan></text>
<text x="280.3" y="698.5" font-size="3.6" text-anchor="end" fill="#444">10<tspan dy="-1.4" font-size="2.52">3</tspan></text>
<text x="280.3" y="717.97" font-size="3.6" text-anchor="end" fill="#444">10<tspan dy="-1.4" font-size="2.52">2</tspan></text>
<text x="280.3" y="727.18" font-size="3.6" text-anchor="end" fill="#444">0</text>
<text x="300.68" y="742.12" font-size="3.6" text-anchor="middle" fill="#333">10<tspan dy="-1.4" font-size="2.52">2</tspan></text>
<text x="320.88" y="742.12" font-size="3.6" text-anchor="middle" fill="#333">10<tspan dy="-1.4" font-size="2.52">3</tspan></text>
<text x="339.48" y="742.12" font-size="3.6" text-anchor="middle" fill="#333">10<tspan dy="-1.4" font-size="2.52">4</tspan></text>
<text x="358.25" y="742.12" font-size="3.6" text-anchor="middle" fill="#333">10<tspan dy="-1.4" font-size="2.52">5</tspan></text>
<text x="292.65" y="742.12" font-size="3.6" text-anchor="middle" fill="#333">0</text>
<clipPath id="c569"><rect x="284.8" y="653.1" width="80.9" height="80.5"/></clipPath><g clip-path="url(#c569)">
<path d="M336.3 712.2 335.5 712.4 334.7 712.4 333.9 712.4 333.1 712.4 332.3 712.2 331.9 712.2 331.1 711.9 330.7 711.8 329.9 711.5 329.5 711.3 328.8 711.0 328.3 710.7 327.9 710.5 327.4 710.2 326.8 709.8 326.3 709.4 325.9 709.1 325.5 708.7 325.1 708.4 324.7 708.0 324.3 707.6 323.9 707.2 323.5 706.8 323.1 706.3 322.7 705.9 322.3 705.4 321.9 705.0 321.6 704.6 321.2 704.2 320.9 703.8 320.5 703.4 320.2 703.0 319.8 702.6 319.5 702.2 319.1 701.7 318.7 701.1 318.4 700.6 318.1 700.2 317.9 699.8 317.6 699.0 317.4 698.6 317.1 697.8 317.0 697.4 316.9 696.6 316.8 695.8 316.8 695.0 316.8 694.2 317.0 693.4 317.1 692.8 317.3 692.2 317.5 691.6 317.7 691.0 317.9 690.6 318.3 689.9 318.7 689.4 318.9 689.0 319.3 688.6 319.6 688.2 320.0 687.8 320.5 687.4 321.0 687.0 321.5 686.7 321.9 686.4 322.3 686.2 323.1 685.8 323.5 685.7 324.3 685.5 324.7 685.4 325.5 685.2 326.3 685.2 327.1 685.2 327.9 685.2 328.7 685.4 329.1 685.4 329.9 685.7 330.3 685.8 331.1 686.1 331.5 686.3 332.0 686.6 332.7 687.0 333.1 687.2 333.5 687.5 333.9 687.8 334.4 688.2 334.9 688.6 335.4 689.0 335.8 689.4 336.2 689.8 336.6 690.2 337.0 690.6 337.4 691.0 337.8 691.4 338.1 691.8 338.4 692.2 338.8 692.6 339.1 693.1 339.5 693.6 339.9 694.2 340.1 694.6 340.4 695.0 340.7 695.6 341.0 696.2 341.2 696.6 341.5 697.4 341.7 697.8 341.9 698.5 342.1 699.0 342.3 699.8 342.4 700.2 342.5 701.0 342.6 701.8 342.7 702.6 342.7 703.4 342.6 704.2 342.5 705.0 342.4 705.8 342.3 706.2 342.0 707.0 341.9 707.4 341.5 708.2 341.3 708.6 341.0 709.0 340.7 709.4 340.3 709.9 339.9 710.3 339.5 710.7 339.0 711.0 338.4 711.4 337.9 711.7 337.5 711.8 336.7 712.1 336.3 712.2Z" fill="none" stroke="#555" stroke-width="0.6"/>
<path d="M333.9 709.4 333.1 709.4 332.7 709.4 331.9 709.3 331.1 709.1 330.7 708.9 329.9 708.6 329.5 708.4 329.1 708.2 328.4 707.8 327.9 707.5 327.5 707.2 327.1 706.9 326.7 706.6 326.3 706.2 325.8 705.8 325.4 705.4 325.0 705.0 324.6 704.6 324.1 704.2 323.7 703.8 323.3 703.4 322.8 703.0 322.3 702.6 321.9 702.2 321.5 701.8 321.1 701.4 320.7 701.0 320.4 700.6 320.0 700.2 319.7 699.8 319.5 699.4 319.1 698.7 318.9 698.2 318.7 697.7 318.5 697.0 318.4 696.2 318.3 695.6 318.3 695.0 318.3 694.6 318.4 693.8 318.6 693.0 318.7 692.6 319.0 691.8 319.2 691.4 319.5 690.9 319.9 690.3 320.3 689.8 320.7 689.4 321.1 689.0 321.5 688.6 321.9 688.3 322.3 688.1 322.8 687.8 323.5 687.5 323.9 687.3 324.7 687.1 325.1 687.0 325.9 686.9 326.7 686.9 327.5 686.9 328.0 687.0 328.7 687.1 329.5 687.4 329.9 687.6 330.4 687.8 331.1 688.2 331.5 688.4 331.9 688.7 332.3 689.0 332.7 689.4 333.2 689.8 333.6 690.2 334.0 690.6 334.4 691.0 334.7 691.4 335.1 691.8 335.5 692.3 335.9 692.8 336.3 693.2 336.7 693.8 337.0 694.2 337.3 694.6 337.6 695.0 337.9 695.5 338.3 696.2 338.5 696.6 338.7 697.0 339.0 697.8 339.2 698.2 339.5 699.0 339.6 699.4 339.8 700.2 339.9 701.0 339.9 701.4 340.0 702.2 339.9 703.0 339.9 703.4 339.8 704.2 339.6 705.0 339.4 705.4 339.1 706.1 338.8 706.6 338.5 707.0 338.2 707.4 337.8 707.8 337.3 708.2 336.7 708.6 336.3 708.8 335.9 709.0 335.1 709.2 334.3 709.4 333.9 709.4Z" fill="none" stroke="#505050" stroke-width="0.6"/>
<path d="M334.3 706.7 333.5 706.9 332.7 706.9 331.9 706.8 331.1 706.6 330.7 706.5 330.0 706.2 329.5 706.0 329.1 705.7 328.6 705.4 328.0 705.0 327.5 704.6 327.1 704.3 326.7 704.0 326.3 703.7 325.9 703.4 325.3 703.0 324.8 702.6 324.3 702.3 323.9 702.0 323.5 701.7 323.0 701.4 322.5 701.0 322.1 700.6 321.6 700.2 321.2 699.8 320.9 699.4 320.6 699.0 320.3 698.5 319.9 697.8 319.8 697.4 319.5 696.6 319.5 696.2 319.4 695.4 319.4 694.6 319.5 693.9 319.6 693.4 319.9 692.6 320.0 692.2 320.3 691.7 320.7 691.1 321.1 690.6 321.4 690.2 321.8 689.8 322.3 689.4 322.7 689.2 323.1 688.9 323.8 688.6 324.3 688.4 325.1 688.2 325.5 688.1 326.3 688.1 327.1 688.1 327.8 688.2 328.3 688.3 329.1 688.6 329.5 688.8 329.9 689.0 330.6 689.4 331.1 689.8 331.5 690.1 331.9 690.5 332.3 690.9 332.7 691.4 333.0 691.8 333.4 692.2 333.6 692.6 333.9 693.0 334.3 693.5 334.7 694.1 335.0 694.6 335.3 695.0 335.5 695.4 335.9 696.0 336.2 696.6 336.5 697.0 336.7 697.5 337.0 698.2 337.1 698.6 337.4 699.4 337.5 699.9 337.6 700.6 337.7 701.4 337.6 702.2 337.5 703.0 337.4 703.4 337.1 704.2 336.9 704.6 336.7 705.0 336.3 705.5 335.9 705.8 335.4 706.2 334.7 706.6 334.3 706.7Z" fill="none" stroke="#4a4a4a" stroke-width="0.6"/>
<path d="M333.5 703.9 332.7 704.1 331.9 704.2 331.1 704.0 330.3 703.8 329.9 703.6 329.4 703.4 328.7 703.0 328.3 702.8 327.9 702.6 327.1 702.2 326.7 702.0 326.3 701.8 325.5 701.4 325.1 701.2 324.7 701.0 323.9 700.6 323.5 700.3 323.1 700.1 322.7 699.7 322.3 699.4 321.9 699.0 321.5 698.5 321.1 697.9 320.8 697.4 320.7 697.0 320.5 696.2 320.3 695.4 320.4 694.6 320.5 693.8 320.7 693.0 320.9 692.6 321.1 692.2 321.5 691.6 321.9 691.1 322.3 690.7 322.7 690.3 323.1 690.0 323.5 689.8 324.3 689.4 324.7 689.3 325.5 689.1 326.3 689.1 327.1 689.1 327.9 689.3 328.3 689.4 329.1 689.8 329.5 690.0 329.9 690.3 330.3 690.6 330.8 691.0 331.1 691.4 331.5 691.9 331.9 692.4 332.3 693.0 332.5 693.4 332.7 693.8 333.1 694.5 333.3 695.0 333.5 695.4 333.9 696.2 334.1 696.6 334.3 697.1 334.6 697.8 334.7 698.2 335.0 699.0 335.1 699.5 335.2 700.2 335.2 701.0 335.1 701.8 335.0 702.2 334.7 702.8 334.3 703.3 333.9 703.6 333.5 703.9Z" fill="none" stroke="#404040" stroke-width="0.6"/>
<path d="M331.5 700.6 330.7 700.9 329.9 701.0 329.1 700.9 328.3 700.8 327.5 700.7 327.1 700.6 326.3 700.4 325.6 700.2 325.1 700.0 324.6 699.8 323.9 699.4 323.5 699.2 323.1 698.9 322.7 698.5 322.3 698.1 321.9 697.5 321.6 697.0 321.5 696.6 321.2 695.8 321.2 695.0 321.2 694.2 321.4 693.4 321.6 693.0 321.9 692.4 322.3 691.9 322.7 691.4 323.1 691.1 323.5 690.8 323.9 690.5 324.7 690.2 325.1 690.1 325.9 690.0 326.7 690.0 327.5 690.1 327.9 690.2 328.7 690.6 329.1 690.9 329.5 691.2 329.9 691.5 330.3 692.0 330.7 692.5 331.0 693.0 331.2 693.4 331.5 694.0 331.7 694.6 331.9 695.2 332.0 695.8 332.2 696.6 332.3 697.2 332.4 697.8 332.4 698.6 332.3 699.3 332.1 699.8 331.9 700.2 331.5 700.6Z" fill="none" stroke="#383838" stroke-width="0.6"/>
<path d="M328.7 699.1 327.9 699.3 327.1 699.3 326.3 699.3 325.5 699.1 325.1 699.0 324.3 698.6 323.9 698.4 323.5 698.1 323.1 697.7 322.7 697.2 322.4 696.6 322.2 696.2 322.0 695.4 322.0 694.6 322.2 693.8 322.3 693.4 322.7 692.7 323.1 692.2 323.5 691.8 323.9 691.5 324.3 691.2 324.9 691.0 325.5 690.8 326.3 690.8 327.1 690.9 327.5 691.0 328.3 691.4 328.7 691.7 329.1 692.0 329.5 692.5 329.9 693.0 330.1 693.4 330.3 693.9 330.5 694.6 330.6 695.4 330.7 696.2 330.6 697.0 330.3 697.7 330.0 698.2 329.6 698.6 329.1 698.9 328.7 699.1Z" fill="none" stroke="#333" stroke-width="0.6"/>
<path d="M327.9 697.9 327.1 698.1 326.3 698.2 325.5 698.1 324.8 697.8 324.3 697.5 323.9 697.2 323.5 696.8 323.1 696.2 323.0 695.8 322.9 695.0 322.9 694.2 323.1 693.7 323.5 693.0 323.8 692.6 324.3 692.2 324.7 692.0 325.2 691.8 325.9 691.7 326.7 691.7 327.1 691.8 327.9 692.2 328.3 692.5 328.7 693.0 329.0 693.4 329.2 693.8 329.4 694.6 329.5 695.4 329.3 696.2 329.1 696.7 328.7 697.3 328.3 697.6 327.9 697.9Z" fill="none" stroke="#444" stroke-width="0.6"/>
<path d="M327.1 696.8 326.3 697.0 325.5 696.9 324.9 696.6 324.4 696.2 324.1 695.8 323.9 695.1 323.9 694.6 324.0 694.2 324.3 693.6 324.7 693.2 325.1 692.9 325.9 692.7 326.7 692.8 327.1 693.0 327.6 693.4 327.9 693.8 328.2 694.6 328.2 695.4 327.9 696.0 327.5 696.5 327.1 696.8Z" fill="none" stroke="#888" stroke-width="0.6"/>
</g>
<polygon points="317.4,686.4 327.5,674 337.6,667.3 356.8,662.3 365.3,665 365.3,685.3 344.4,711.1 344.4,697.6 342.1,687.5" fill="none" stroke="#5a5a5a" stroke-width="0.7" stroke-linejoin="round"/>
<text x="300" y="675.6" font-size="13.3" text-anchor="start" fill="#000">1.52</text>
<rect x="369.6" y="501.6" width="81.9" height="81.7" fill="none" stroke="#8c8c8c" stroke-width="0.9"/>
<line x1="369.2" y1="583.3" x2="451.9" y2="583.3" stroke="#333" stroke-width="1"/>
<path d="M368 509.09h2.2 M368 527.88h2.2 M368 546.11h2.2 M368 565.62h2.2 M368 574.86h2.2 M369 522.24h1.2 M369 518.86h1.2 M369 516.6h1.2 M369 514.72h1.2 M369 513.41h1.2 M369 512.28h1.2 M369 511.34h1.2 M369 510.59h1.2 M369 509.84h1.2 M369 540.64h1.2 M369 537.36h1.2 M369 535.17h1.2 M369 533.35h1.2 M369 532.07h1.2 M369 530.98h1.2 M369 530.07h1.2 M369 529.34h1.2 M369 528.61h1.2 M369 559.77h1.2 M369 556.26h1.2 M369 553.92h1.2 M369 551.97h1.2 M369 550.6h1.2 M369 549.43h1.2 M369 548.45h1.2 M369 547.67h1.2 M369 546.89h1.2 M385.98 582.7v2.2 M406.18 582.7v2.2 M424.78 582.7v2.2 M443.55 582.7v2.2 M377.95 582.7v2.2 M392.04 582.7v1.2 M395.67 582.7v1.2 M398.1 582.7v1.2 M400.12 582.7v1.2 M401.53 582.7v1.2 M402.74 582.7v1.2 M403.75 582.7v1.2 M404.56 582.7v1.2 M405.37 582.7v1.2 M411.76 582.7v1.2 M415.11 582.7v1.2 M417.34 582.7v1.2 M419.2 582.7v1.2 M420.5 582.7v1.2 M421.62 582.7v1.2 M422.55 582.7v1.2 M423.29 582.7v1.2 M424.04 582.7v1.2 M430.41 582.7v1.2 M433.79 582.7v1.2 M436.04 582.7v1.2 M437.92 582.7v1.2 M439.23 582.7v1.2 M440.36 582.7v1.2 M441.3 582.7v1.2 M442.05 582.7v1.2 M442.8 582.7v1.2" stroke="#333" stroke-width="0.7" fill="none"/>
<text x="385.98" y="591.34" font-size="3.6" text-anchor="middle" fill="#333">10<tspan dy="-1.4" font-size="2.52">2</tspan></text>
<text x="406.18" y="591.34" font-size="3.6" text-anchor="middle" fill="#333">10<tspan dy="-1.4" font-size="2.52">3</tspan></text>
<text x="424.78" y="591.34" font-size="3.6" text-anchor="middle" fill="#333">10<tspan dy="-1.4" font-size="2.52">4</tspan></text>
<text x="443.55" y="591.34" font-size="3.6" text-anchor="middle" fill="#333">10<tspan dy="-1.4" font-size="2.52">5</tspan></text>
<text x="377.95" y="591.34" font-size="3.6" text-anchor="middle" fill="#333">0</text>
<clipPath id="c589"><rect x="370.1" y="502.1" width="80.9" height="80.7"/></clipPath><g clip-path="url(#c589)">
<path d="M413.6 556.4 412.8 556.4 412.0 556.4 411.6 556.4 410.8 556.3 410.0 556.2 409.3 556.0 408.8 555.9 408.1 555.6 407.6 555.4 407.2 555.2 406.6 554.8 406.0 554.4 405.6 554.0 405.2 553.6 404.9 553.2 404.6 552.8 404.4 552.4 404.0 551.6 403.9 551.2 403.7 550.4 403.7 549.6 403.7 548.8 403.8 548.0 404.0 547.4 404.2 546.8 404.4 546.3 404.7 545.6 404.9 545.2 405.2 544.7 405.6 544.1 405.9 543.6 406.2 543.2 406.6 542.8 406.9 542.4 407.3 542.0 407.7 541.6 408.1 541.2 408.6 540.8 409.1 540.4 409.6 540.0 410.0 539.7 410.4 539.4 410.8 539.1 411.3 538.8 412.0 538.4 412.4 538.2 412.8 537.9 413.5 537.6 414.0 537.3 414.4 537.1 415.2 536.8 415.6 536.6 416.0 536.4 416.8 536.1 417.2 535.9 417.8 535.6 418.4 535.3 418.8 535.1 419.3 534.8 420.0 534.4 420.4 534.1 420.8 533.8 421.2 533.5 421.7 533.2 422.2 532.8 422.7 532.4 423.2 532.0 423.6 531.7 424.0 531.4 424.4 531.1 424.8 530.8 425.4 530.4 426.0 530.0 426.4 529.8 426.8 529.5 427.4 529.2 428.0 528.9 428.4 528.7 429.0 528.4 429.6 528.1 430.0 528.0 430.8 527.7 431.2 527.5 432.0 527.3 432.4 527.2 433.2 527.0 434.0 526.9 434.8 526.8 435.2 526.8 436.0 526.8 436.6 526.8 437.2 526.9 438.0 527.0 438.5 527.2 439.2 527.5 439.6 527.7 440.1 528.0 440.6 528.4 441.0 528.8 441.3 529.2 441.6 529.8 441.9 530.4 442.0 530.9 442.1 531.6 442.1 532.4 442.1 533.2 442.0 533.6 441.8 534.4 441.6 535.1 441.4 535.6 441.2 536.1 440.8 536.8 440.6 537.2 440.4 537.6 440.0 538.2 439.6 538.8 439.3 539.2 439.0 539.6 438.6 540.0 438.3 540.4 437.9 540.8 437.5 541.2 437.1 541.6 436.7 542.0 436.3 542.4 435.9 542.8 435.4 543.2 435.0 543.6 434.5 544.0 434.0 544.4 433.6 544.8 433.2 545.1 432.8 545.5 432.4 545.8 432.0 546.2 431.6 546.5 431.2 546.9 430.8 547.3 430.4 547.7 430.0 548.1 429.6 548.5 429.2 548.8 428.8 549.2 428.4 549.6 428.0 550.0 427.5 550.4 427.0 550.8 426.6 551.2 426.0 551.6 425.6 551.9 425.2 552.2 424.8 552.5 424.3 552.8 423.7 553.2 423.2 553.5 422.8 553.7 422.2 554.0 421.6 554.3 421.2 554.5 420.5 554.8 420.0 555.0 419.5 555.2 418.8 555.4 418.2 555.6 417.6 555.8 416.8 556.0 416.4 556.1 415.6 556.2 414.8 556.3 414.0 556.4 413.6 556.4Z" fill="none" stroke="#555" stroke-width="0.6"/>
<path d="M416.4 554.5 415.6 554.6 414.8 554.7 414.0 554.7 413.2 554.7 412.4 554.7 411.6 554.6 410.8 554.4 410.4 554.3 409.6 554.1 409.2 553.9 408.7 553.6 408.1 553.2 407.6 552.8 407.2 552.4 406.9 552.0 406.6 551.6 406.4 551.2 406.1 550.4 406.0 550.0 405.9 549.2 405.9 548.4 406.0 547.9 406.1 547.2 406.4 546.5 406.6 546.0 406.8 545.6 407.2 544.9 407.5 544.4 407.8 544.0 408.1 543.6 408.4 543.2 408.8 542.8 409.2 542.4 409.6 542.0 410.0 541.6 410.5 541.2 411.1 540.8 411.6 540.4 412.0 540.1 412.4 539.9 412.9 539.6 413.6 539.2 414.0 539.0 414.4 538.8 415.2 538.4 415.6 538.2 416.1 538.0 416.8 537.7 417.2 537.5 417.9 537.2 418.4 537.0 418.8 536.8 419.6 536.4 420.0 536.2 420.4 535.9 420.9 535.6 421.5 535.2 422.0 534.8 422.4 534.5 422.8 534.2 423.2 533.9 423.6 533.6 424.1 533.2 424.6 532.8 425.1 532.4 425.6 532.0 426.0 531.8 426.4 531.5 426.9 531.2 427.6 530.8 428.0 530.5 428.4 530.3 429.1 530.0 429.6 529.8 430.1 529.6 430.8 529.3 431.2 529.2 432.0 529.0 432.8 528.8 433.2 528.8 434.0 528.7 434.8 528.6 435.6 528.7 436.2 528.8 436.8 529.0 437.4 529.2 438.0 529.5 438.4 529.8 438.8 530.1 439.2 530.6 439.5 531.2 439.7 531.6 439.9 532.4 439.9 533.2 439.8 534.0 439.7 534.8 439.5 535.2 439.2 536.0 439.1 536.4 438.8 536.9 438.4 537.6 438.1 538.0 437.9 538.4 437.6 538.8 437.2 539.3 436.8 539.7 436.4 540.2 436.0 540.6 435.6 541.0 435.2 541.4 434.8 541.7 434.4 542.1 434.0 542.4 433.6 542.8 433.1 543.2 432.6 543.6 432.1 544.0 431.6 544.4 431.2 544.8 430.8 545.1 430.4 545.5 430.0 545.9 429.6 546.2 429.2 546.6 428.8 547.0 428.4 547.4 428.0 547.8 427.6 548.2 427.2 548.6 426.8 548.9 426.4 549.3 426.0 549.7 425.6 550.0 425.1 550.4 424.6 550.8 424.0 551.2 423.6 551.5 423.2 551.8 422.8 552.0 422.1 552.4 421.6 552.7 421.2 552.9 420.5 553.2 420.0 553.4 419.5 553.6 418.8 553.9 418.3 554.0 417.6 554.2 416.8 554.4 416.4 554.5Z" fill="none" stroke="#505050" stroke-width="0.6"/>
<path d="M416.8 553.2 416.0 553.4 415.2 553.5 414.4 553.5 413.6 553.5 412.8 553.4 412.0 553.3 411.6 553.2 410.8 552.9 410.4 552.7 409.8 552.4 409.2 552.0 408.8 551.6 408.4 551.2 408.2 550.8 408.0 550.4 407.7 549.6 407.6 549.1 407.6 548.4 407.6 548.0 407.7 547.2 408.0 546.4 408.2 546.0 408.4 545.5 408.8 544.8 409.1 544.4 409.4 544.0 409.7 543.6 410.1 543.2 410.5 542.8 410.9 542.4 411.4 542.0 411.9 541.6 412.4 541.2 412.8 541.0 413.2 540.7 413.7 540.4 414.4 540.0 414.8 539.8 415.3 539.6 416.0 539.3 416.4 539.1 417.1 538.8 417.6 538.6 418.0 538.4 418.8 538.1 419.2 537.9 419.8 537.6 420.4 537.3 420.8 537.1 421.2 536.8 421.9 536.4 422.4 536.0 422.8 535.7 423.2 535.4 423.6 535.1 424.0 534.7 424.4 534.4 424.9 534.0 425.4 533.6 425.9 533.2 426.4 532.9 426.8 532.6 427.2 532.3 427.8 532.0 428.4 531.7 428.8 531.4 429.3 531.2 430.0 530.9 430.4 530.8 431.2 530.5 431.6 530.4 432.4 530.2 433.2 530.1 434.0 530.1 434.8 530.2 435.6 530.4 436.0 530.5 436.5 530.8 437.1 531.2 437.5 531.6 437.7 532.0 438.0 532.7 438.1 533.2 438.1 534.0 438.0 534.8 438.0 535.2 437.7 536.0 437.5 536.4 437.2 537.0 436.9 537.6 436.6 538.0 436.3 538.4 436.0 538.8 435.6 539.3 435.2 539.7 434.8 540.1 434.4 540.5 434.0 540.9 433.6 541.3 433.2 541.6 432.7 542.0 432.2 542.4 431.7 542.8 431.2 543.2 430.8 543.5 430.4 543.9 430.0 544.2 429.6 544.6 429.2 544.9 428.8 545.3 428.4 545.7 428.0 546.1 427.6 546.5 427.2 546.9 426.8 547.3 426.4 547.7 426.0 548.1 425.6 548.4 425.2 548.8 424.8 549.2 424.3 549.6 423.8 550.0 423.2 550.4 422.8 550.7 422.4 550.9 422.0 551.2 421.2 551.6 420.8 551.8 420.4 552.0 419.6 552.4 419.2 552.5 418.4 552.8 418.0 552.9 417.2 553.1 416.8 553.2Z" fill="none" stroke="#4a4a4a" stroke-width="0.6"/>
<path d="M417.2 552.1 416.4 552.2 415.6 552.3 414.8 552.4 414.0 552.4 413.2 552.3 412.4 552.1 412.0 552.0 411.2 551.6 410.8 551.4 410.4 551.1 410.0 550.7 409.6 550.2 409.3 549.6 409.2 549.2 409.0 548.4 409.1 547.6 409.2 547.0 409.4 546.4 409.6 545.9 410.0 545.2 410.2 544.8 410.5 544.4 410.8 544.0 411.2 543.6 411.6 543.2 412.0 542.8 412.5 542.4 413.1 542.0 413.6 541.6 414.0 541.4 414.4 541.1 415.0 540.8 415.6 540.5 416.0 540.3 416.7 540.0 417.2 539.8 417.7 539.6 418.4 539.3 418.8 539.2 419.6 538.8 420.0 538.7 420.6 538.4 421.2 538.1 421.6 537.9 422.0 537.6 422.6 537.2 423.2 536.8 423.6 536.5 424.0 536.1 424.4 535.8 424.8 535.5 425.2 535.1 425.6 534.8 426.1 534.4 426.6 534.0 427.2 533.6 427.6 533.3 428.0 533.1 428.5 532.8 429.2 532.5 429.6 532.3 430.3 532.0 430.8 531.8 431.6 531.6 432.0 531.6 432.8 531.5 433.6 531.5 434.1 531.6 434.8 531.8 435.2 532.0 435.7 532.4 436.1 532.8 436.4 533.5 436.5 534.0 436.5 534.8 436.4 535.5 436.2 536.0 436.0 536.6 435.7 537.2 435.4 537.6 435.2 538.0 434.8 538.5 434.4 539.0 434.0 539.4 433.6 539.8 433.2 540.2 432.8 540.6 432.4 540.9 432.0 541.2 431.5 541.6 431.0 542.0 430.5 542.4 430.0 542.8 429.6 543.1 429.2 543.4 428.8 543.8 428.4 544.1 428.0 544.5 427.6 544.9 427.2 545.3 426.8 545.7 426.4 546.1 426.0 546.5 425.6 547.0 425.2 547.4 424.8 547.8 424.4 548.1 424.0 548.5 423.6 548.8 423.2 549.2 422.6 549.6 422.0 550.0 421.6 550.3 421.2 550.5 420.7 550.8 420.0 551.1 419.6 551.3 418.8 551.6 418.4 551.8 417.6 552.0 417.2 552.1Z" fill="none" stroke="#404040" stroke-width="0.6"/>
<path d="M416.8 551.2 416.0 551.4 415.2 551.4 414.4 551.4 413.6 551.3 413.2 551.2 412.4 550.9 412.0 550.6 411.6 550.4 411.2 550.0 410.8 549.5 410.5 548.8 410.4 548.4 410.4 547.6 410.4 547.2 410.6 546.4 410.8 545.9 411.2 545.2 411.5 544.8 411.8 544.4 412.1 544.0 412.5 543.6 413.0 543.2 413.5 542.8 414.0 542.4 414.4 542.2 414.8 541.9 415.4 541.6 416.0 541.3 416.4 541.1 417.1 540.8 417.6 540.6 418.1 540.4 418.8 540.1 419.2 540.0 420.0 539.7 420.4 539.6 421.2 539.2 421.6 539.0 422.1 538.8 422.8 538.4 423.2 538.1 423.6 537.8 424.0 537.5 424.4 537.2 424.8 536.8 425.3 536.4 425.7 536.0 426.2 535.6 426.7 535.2 427.2 534.8 427.6 534.5 428.0 534.3 428.4 534.0 429.2 533.6 429.6 533.4 430.2 533.2 430.8 533.0 431.6 532.8 432.0 532.8 432.5 532.8 433.2 532.9 434.0 533.2 434.4 533.5 434.8 534.0 434.9 534.4 435.0 535.2 434.9 536.0 434.7 536.4 434.4 537.1 434.1 537.6 433.8 538.0 433.5 538.4 433.2 538.8 432.8 539.2 432.4 539.6 431.9 540.0 431.4 540.4 430.9 540.8 430.4 541.2 430.0 541.5 429.6 541.8 429.2 542.1 428.8 542.4 428.3 542.8 427.8 543.2 427.3 543.6 426.9 544.0 426.6 544.4 426.2 544.8 425.8 545.2 425.5 545.6 425.1 546.0 424.8 546.4 424.4 546.8 424.0 547.2 423.6 547.6 423.2 548.0 422.7 548.4 422.2 548.8 421.6 549.2 421.2 549.5 420.8 549.7 420.3 550.0 419.6 550.4 419.2 550.5 418.5 550.8 418.0 551.0 417.2 551.2 416.8 551.2Z" fill="none" stroke="#383838" stroke-width="0.6"/>
<path d="M416.0 550.4 415.2 550.4 414.8 550.4 414.0 550.2 413.3 550.0 412.8 549.7 412.4 549.4 412.0 548.9 411.8 548.4 411.6 547.6 411.7 546.8 412.0 546.0 412.2 545.6 412.4 545.2 412.8 544.7 413.2 544.2 413.6 543.8 414.0 543.5 414.4 543.2 415.0 542.8 415.6 542.4 416.0 542.2 416.4 542.0 417.2 541.7 417.6 541.5 418.4 541.2 418.8 541.1 419.6 540.8 420.0 540.7 420.8 540.5 421.2 540.4 422.0 540.1 422.4 539.9 423.1 539.6 423.6 539.3 424.0 539.0 424.4 538.7 424.8 538.4 425.2 538.0 425.7 537.6 426.1 537.2 426.5 536.8 427.0 536.4 427.4 536.0 428.0 535.6 428.4 535.3 428.8 535.1 429.3 534.8 430.0 534.5 430.4 534.4 431.2 534.3 432.0 534.3 432.4 534.4 432.9 534.8 433.2 535.3 433.2 536.0 433.2 536.4 432.8 537.2 432.6 537.6 432.3 538.0 432.0 538.4 431.6 538.8 431.1 539.2 430.7 539.6 430.1 540.0 429.6 540.4 429.2 540.6 428.8 540.9 428.4 541.2 427.8 541.6 427.3 542.0 426.8 542.4 426.4 542.8 426.0 543.2 425.7 543.6 425.4 544.0 425.1 544.4 424.8 544.8 424.4 545.3 424.0 545.8 423.6 546.3 423.2 546.7 422.8 547.1 422.4 547.5 422.0 547.9 421.6 548.2 421.2 548.5 420.7 548.8 420.0 549.2 419.6 549.4 419.2 549.6 418.4 549.9 418.0 550.1 417.2 550.3 416.4 550.4 416.0 550.4Z" fill="none" stroke="#333" stroke-width="0.6"/>
<path d="M428.8 538.5 428.0 538.4 428.0 538.4 428.4 537.7 428.8 537.3 429.2 537.1 430.0 536.9 430.0 537.6 429.7 538.0 429.2 538.3 428.8 538.5ZM417.6 549.2 416.8 549.4 416.0 549.4 415.2 549.4 414.6 549.2 414.0 548.9 413.6 548.6 413.2 548.1 413.0 547.6 413.0 546.8 413.2 546.1 413.4 545.6 413.7 545.2 414.0 544.8 414.4 544.4 414.9 544.0 415.4 543.6 416.0 543.2 416.4 543.0 416.8 542.8 417.6 542.5 418.0 542.3 418.8 542.1 419.2 542.0 420.0 541.8 420.8 541.7 421.2 541.6 422.0 541.5 422.8 541.5 423.6 541.5 424.0 541.7 424.2 542.4 424.0 543.2 423.9 543.6 423.6 544.2 423.3 544.8 423.0 545.2 422.8 545.6 422.4 546.1 422.0 546.5 421.6 546.9 421.2 547.3 420.8 547.6 420.3 548.0 419.6 548.4 419.2 548.6 418.8 548.8 418.0 549.1 417.6 549.2Z" fill="none" stroke="#444" stroke-width="0.6"/>
<path d="M417.6 548.1 416.8 548.2 416.0 548.2 415.5 548.0 414.9 547.6 414.7 547.2 414.6 546.4 414.8 545.9 415.2 545.3 415.6 544.8 416.0 544.5 416.4 544.2 416.8 544.0 417.6 543.6 418.0 543.5 418.8 543.3 419.3 543.2 420.0 543.2 420.4 543.2 421.2 543.5 421.5 544.0 421.5 544.8 421.2 545.5 420.8 546.0 420.5 546.4 420.1 546.8 419.6 547.2 419.2 547.4 418.8 547.7 418.0 548.0 417.6 548.1Z" fill="none" stroke="#888" stroke-width="0.6"/>
</g>
<polygon points="400.4,539.9 412.8,525.3 427.4,519 440.9,516.3 448.8,519.6 448.3,537.6 435.3,554.5 427.4,565.3 428.1,545.5 425.2,540.6" fill="none" stroke="#5a5a5a" stroke-width="0.7" stroke-linejoin="round"/>
<text x="388.3" y="519" font-size="13.3" text-anchor="start" fill="#000">29.2</text>
<rect x="369.6" y="652.6" width="81.9" height="81.5" fill="none" stroke="#8c8c8c" stroke-width="0.9"/>
<line x1="369.2" y1="734.1" x2="451.9" y2="734.1" stroke="#333" stroke-width="1"/>
<path d="M368 660.07h2.2 M368 678.81h2.2 M368 697h2.2 M368 716.47h2.2 M368 725.68h2.2 M369 673.19h1.2 M369 669.82h1.2 M369 667.57h1.2 M369 665.69h1.2 M369 664.38h1.2 M369 663.25h1.2 M369 662.32h1.2 M369 661.57h1.2 M369 660.82h1.2 M369 691.55h1.2 M369 688.27h1.2 M369 686.09h1.2 M369 684.27h1.2 M369 683h1.2 M369 681.91h1.2 M369 681h1.2 M369 680.27h1.2 M369 679.54h1.2 M369 710.63h1.2 M369 707.12h1.2 M369 704.79h1.2 M369 702.84h1.2 M369 701.48h1.2 M369 700.31h1.2 M369 699.34h1.2 M369 698.56h1.2 M369 697.78h1.2 M385.98 733.5v2.2 M406.18 733.5v2.2 M424.78 733.5v2.2 M443.55 733.5v2.2 M377.95 733.5v2.2 M392.04 733.5v1.2 M395.67 733.5v1.2 M398.1 733.5v1.2 M400.12 733.5v1.2 M401.53 733.5v1.2 M402.74 733.5v1.2 M403.75 733.5v1.2 M404.56 733.5v1.2 M405.37 733.5v1.2 M411.76 733.5v1.2 M415.11 733.5v1.2 M417.34 733.5v1.2 M419.2 733.5v1.2 M420.5 733.5v1.2 M421.62 733.5v1.2 M422.55 733.5v1.2 M423.29 733.5v1.2 M424.04 733.5v1.2 M430.41 733.5v1.2 M433.79 733.5v1.2 M436.04 733.5v1.2 M437.92 733.5v1.2 M439.23 733.5v1.2 M440.36 733.5v1.2 M441.3 733.5v1.2 M442.05 733.5v1.2 M442.8 733.5v1.2" stroke="#333" stroke-width="0.7" fill="none"/>
<text x="385.98" y="742.12" font-size="3.6" text-anchor="middle" fill="#333">10<tspan dy="-1.4" font-size="2.52">2</tspan></text>
<text x="406.18" y="742.12" font-size="3.6" text-anchor="middle" fill="#333">10<tspan dy="-1.4" font-size="2.52">3</tspan></text>
<text x="424.78" y="742.12" font-size="3.6" text-anchor="middle" fill="#333">10<tspan dy="-1.4" font-size="2.52">4</tspan></text>
<text x="443.55" y="742.12" font-size="3.6" text-anchor="middle" fill="#333">10<tspan dy="-1.4" font-size="2.52">5</tspan></text>
<text x="377.95" y="742.12" font-size="3.6" text-anchor="middle" fill="#333">0</text>
<clipPath id="c609"><rect x="370.1" y="653.1" width="80.9" height="80.5"/></clipPath><g clip-path="url(#c609)">
<path d="M417.6 711.8 416.8 711.9 416.0 711.8 415.6 711.8 414.8 711.6 414.0 711.4 413.6 711.3 412.9 711.0 412.4 710.8 412.0 710.6 411.3 710.2 410.8 709.9 410.4 709.7 410.0 709.4 409.5 709.0 409.0 708.6 408.5 708.2 408.1 707.8 407.7 707.4 407.3 707.0 406.9 706.6 406.5 706.2 406.2 705.8 405.8 705.4 405.4 705.0 405.1 704.6 404.7 704.2 404.3 703.8 403.9 703.4 403.5 703.0 403.1 702.6 402.7 702.2 402.3 701.8 402.0 701.4 401.6 701.0 401.2 700.4 400.8 699.8 400.5 699.4 400.3 699.0 400.0 698.2 399.9 697.8 399.6 697.0 399.6 696.6 399.5 695.8 399.4 695.0 399.5 694.2 399.6 693.6 399.7 693.0 400.0 692.2 400.1 691.8 400.4 691.1 400.7 690.6 400.9 690.2 401.2 689.8 401.6 689.2 402.0 688.8 402.4 688.3 402.8 688.0 403.2 687.7 403.6 687.4 404.2 687.0 404.8 686.7 405.2 686.5 405.9 686.2 406.4 686.0 407.2 685.9 407.7 685.8 408.4 685.7 409.2 685.7 409.9 685.8 410.4 685.9 411.2 686.0 411.7 686.2 412.4 686.4 412.8 686.6 413.6 687.0 414.0 687.2 414.4 687.4 415.0 687.8 415.6 688.2 416.0 688.5 416.4 688.8 416.8 689.2 417.2 689.5 417.6 689.9 418.0 690.2 418.4 690.6 418.8 691.0 419.2 691.4 419.6 691.8 420.0 692.3 420.4 692.8 420.8 693.3 421.2 693.8 421.5 694.2 421.7 694.6 422.0 695.0 422.4 695.7 422.7 696.2 422.9 696.6 423.2 697.4 423.4 697.8 423.6 698.4 423.8 699.0 424.0 699.6 424.1 700.2 424.3 701.0 424.4 701.6 424.5 702.2 424.5 703.0 424.5 703.8 424.5 704.6 424.4 705.1 424.3 705.8 424.1 706.6 423.9 707.0 423.6 707.8 423.4 708.2 423.1 708.6 422.8 709.1 422.4 709.6 422.0 710.0 421.6 710.3 421.2 710.6 420.5 711.0 420.0 711.3 419.6 711.4 418.8 711.7 418.0 711.8 417.6 711.8Z" fill="none" stroke="#555" stroke-width="0.6"/>
<path d="M416.4 709.0 415.6 709.0 415.2 709.0 414.4 708.8 413.7 708.6 413.2 708.4 412.7 708.2 412.0 707.9 411.6 707.7 411.2 707.4 410.6 707.0 410.1 706.6 409.6 706.2 409.2 705.8 408.8 705.5 408.4 705.1 408.0 704.7 407.6 704.3 407.2 703.9 406.8 703.5 406.4 703.2 406.0 702.8 405.6 702.5 405.2 702.2 404.7 701.8 404.2 701.4 403.7 701.0 403.3 700.6 402.9 700.2 402.5 699.8 402.2 699.4 402.0 699.0 401.6 698.4 401.3 697.8 401.2 697.4 401.0 696.6 400.8 695.8 400.8 695.0 400.9 694.2 401.0 693.4 401.2 692.7 401.4 692.2 401.6 691.8 402.0 691.0 402.3 690.6 402.6 690.2 403.0 689.8 403.4 689.4 403.8 689.0 404.4 688.6 404.8 688.3 405.2 688.1 406.0 687.8 406.4 687.7 407.2 687.5 407.6 687.4 408.4 687.3 409.2 687.3 409.6 687.4 410.4 687.5 411.2 687.8 411.6 687.9 412.2 688.2 412.8 688.5 413.2 688.8 413.6 689.0 414.1 689.4 414.6 689.8 415.0 690.2 415.5 690.6 415.9 691.0 416.3 691.4 416.7 691.8 417.0 692.2 417.4 692.6 417.8 693.0 418.1 693.4 418.5 693.8 418.8 694.2 419.2 694.8 419.6 695.3 419.9 695.8 420.2 696.2 420.4 696.6 420.8 697.4 421.0 697.8 421.2 698.4 421.4 699.0 421.6 699.6 421.7 700.2 421.9 701.0 422.0 701.8 422.0 702.6 422.0 703.4 421.8 704.2 421.6 705.0 421.5 705.4 421.2 706.0 420.9 706.6 420.6 707.0 420.2 707.4 419.8 707.8 419.2 708.2 418.8 708.4 418.4 708.6 417.6 708.9 416.8 709.0 416.4 709.0Z" fill="none" stroke="#505050" stroke-width="0.6"/>
<path d="M416.0 706.6 415.2 706.7 414.7 706.6 414.0 706.5 413.2 706.2 412.8 706.0 412.4 705.8 411.7 705.4 411.2 705.1 410.8 704.8 410.4 704.4 410.0 704.1 409.6 703.8 409.2 703.4 408.7 703.0 408.2 702.6 407.6 702.2 407.2 701.9 406.8 701.7 406.3 701.4 405.7 701.0 405.2 700.7 404.8 700.4 404.4 700.1 404.0 699.8 403.6 699.4 403.2 698.9 402.8 698.4 402.5 697.8 402.3 697.4 402.0 696.6 401.9 696.2 401.8 695.4 401.8 694.6 401.9 693.8 402.0 693.4 402.3 692.6 402.5 692.2 402.8 691.7 403.2 691.1 403.6 690.6 404.0 690.2 404.4 689.9 404.8 689.6 405.2 689.3 405.8 689.0 406.4 688.8 407.1 688.6 407.6 688.5 408.4 688.4 409.2 688.5 409.9 688.6 410.4 688.7 411.1 689.0 411.6 689.2 412.0 689.5 412.5 689.8 413.0 690.2 413.5 690.6 413.9 691.0 414.3 691.4 414.6 691.8 415.0 692.2 415.3 692.6 415.6 693.0 416.0 693.5 416.4 694.0 416.8 694.5 417.2 695.0 417.5 695.4 417.8 695.8 418.0 696.2 418.4 696.8 418.7 697.4 418.9 697.8 419.2 698.4 419.4 699.0 419.6 699.6 419.7 700.2 419.9 701.0 419.9 701.8 419.8 702.6 419.7 703.4 419.6 703.8 419.2 704.6 418.9 705.0 418.6 705.4 418.1 705.8 417.6 706.2 417.2 706.3 416.4 706.6 416.0 706.6Z" fill="none" stroke="#4a4a4a" stroke-width="0.6"/>
<path d="M416.0 703.9 415.2 704.1 414.4 704.1 413.6 704.0 413.1 703.8 412.4 703.4 412.0 703.2 411.6 703.0 411.1 702.6 410.5 702.2 410.0 701.9 409.6 701.7 409.1 701.4 408.4 701.1 408.0 700.9 407.3 700.6 406.8 700.4 406.4 700.2 405.7 699.8 405.2 699.5 404.8 699.2 404.4 698.8 404.0 698.4 403.6 697.9 403.3 697.4 403.1 697.0 402.8 696.2 402.8 695.8 402.7 695.0 402.8 694.2 402.8 693.8 403.1 693.0 403.3 692.6 403.6 692.0 404.0 691.5 404.4 691.0 404.8 690.7 405.2 690.4 405.6 690.1 406.3 689.8 406.8 689.6 407.6 689.4 408.0 689.4 408.7 689.4 409.2 689.5 410.0 689.6 410.4 689.8 411.2 690.2 411.6 690.4 412.0 690.7 412.4 691.1 412.8 691.5 413.2 691.9 413.6 692.5 414.0 693.0 414.2 693.4 414.5 693.8 414.8 694.4 415.2 695.0 415.4 695.4 415.7 695.8 416.0 696.4 416.4 697.0 416.6 697.4 416.8 697.8 417.2 698.6 417.3 699.0 417.5 699.8 417.6 700.2 417.6 701.0 417.6 701.6 417.5 702.2 417.2 702.8 416.8 703.3 416.4 703.7 416.0 703.9Z" fill="none" stroke="#404040" stroke-width="0.6"/>
<path d="M413.6 700.7 412.8 700.7 412.0 700.6 411.6 700.5 410.8 700.4 410.1 700.2 409.6 700.1 408.8 699.9 408.2 699.8 407.6 699.6 406.9 699.4 406.4 699.2 406.0 699.0 405.4 698.6 404.9 698.2 404.6 697.8 404.3 697.4 404.0 697.0 403.7 696.2 403.6 695.8 403.5 695.0 403.5 694.2 403.6 693.8 403.9 693.0 404.1 692.6 404.4 692.2 404.8 691.7 405.2 691.3 405.7 691.0 406.4 690.6 406.8 690.4 407.6 690.3 408.4 690.2 409.2 690.3 410.0 690.5 410.4 690.7 410.9 691.0 411.4 691.4 411.8 691.8 412.2 692.2 412.5 692.6 412.8 693.1 413.2 693.8 413.3 694.2 413.6 694.9 413.8 695.4 414.0 696.2 414.1 696.6 414.3 697.4 414.4 697.8 414.6 698.6 414.6 699.4 414.4 700.1 414.0 700.5 413.6 700.7Z" fill="none" stroke="#383838" stroke-width="0.6"/>
<path d="M410.4 698.7 409.6 698.8 408.8 698.8 408.0 698.8 407.3 698.6 406.8 698.4 406.3 698.2 405.7 697.8 405.3 697.4 404.9 697.0 404.7 696.6 404.4 695.9 404.3 695.4 404.3 694.6 404.4 693.8 404.6 693.4 404.8 692.9 405.2 692.4 405.6 692.0 406.0 691.7 406.5 691.4 407.2 691.1 408.0 691.0 408.4 691.0 408.8 691.0 409.6 691.3 410.0 691.4 410.5 691.8 411.0 692.2 411.4 692.6 411.6 693.0 412.0 693.7 412.2 694.2 412.4 695.0 412.4 695.4 412.5 696.2 412.4 696.7 412.2 697.4 411.9 697.8 411.5 698.2 410.8 698.6 410.4 698.7Z" fill="none" stroke="#333" stroke-width="0.6"/>
<path d="M408.8 697.8 408.0 697.8 407.6 697.7 406.8 697.5 406.4 697.3 406.0 696.9 405.6 696.5 405.2 695.8 405.1 695.4 405.1 694.6 405.2 693.9 405.4 693.4 405.7 693.0 406.1 692.6 406.6 692.2 407.2 692.0 408.0 691.8 408.8 691.9 409.6 692.2 410.0 692.5 410.4 692.9 410.8 693.4 411.0 693.8 411.2 694.5 411.3 695.0 411.2 695.8 411.1 696.2 410.8 696.7 410.4 697.2 410.0 697.4 409.2 697.7 408.8 697.8Z" fill="none" stroke="#444" stroke-width="0.6"/>
<path d="M408.8 696.6 408.0 696.7 407.4 696.6 406.8 696.3 406.4 695.9 406.1 695.4 406.0 694.6 406.3 693.8 406.6 693.4 407.1 693.0 407.6 692.8 408.4 692.8 408.9 693.0 409.5 693.4 409.8 693.8 410.0 694.3 410.1 695.0 410.0 695.4 409.6 696.1 409.2 696.4 408.8 696.6Z" fill="none" stroke="#888" stroke-width="0.6"/>
</g>
<polygon points="402.7,686.4 412.8,674 422.9,667.3 442.1,662.3 450.6,665 450.6,685.3 429.7,711.1 429.7,697.6 427.4,687.5" fill="none" stroke="#5a5a5a" stroke-width="0.7" stroke-linejoin="round"/>
<text x="387.1" y="675.6" font-size="13.3" text-anchor="start" fill="#000">4.11</text>
<rect x="454.6" y="501.6" width="81.9" height="81.7" fill="none" stroke="#8c8c8c" stroke-width="0.9"/>
<line x1="454.2" y1="583.3" x2="536.9" y2="583.3" stroke="#333" stroke-width="1"/>
<path d="M453 509.09h2.2 M453 527.88h2.2 M453 546.11h2.2 M453 565.62h2.2 M453 574.86h2.2 M454 522.24h1.2 M454 518.86h1.2 M454 516.6h1.2 M454 514.72h1.2 M454 513.41h1.2 M454 512.28h1.2 M454 511.34h1.2 M454 510.59h1.2 M454 509.84h1.2 M454 540.64h1.2 M454 537.36h1.2 M454 535.17h1.2 M454 533.35h1.2 M454 532.07h1.2 M454 530.98h1.2 M454 530.07h1.2 M454 529.34h1.2 M454 528.61h1.2 M454 559.77h1.2 M454 556.26h1.2 M454 553.92h1.2 M454 551.97h1.2 M454 550.6h1.2 M454 549.43h1.2 M454 548.45h1.2 M454 547.67h1.2 M454 546.89h1.2 M470.98 582.7v2.2 M491.18 582.7v2.2 M509.78 582.7v2.2 M528.55 582.7v2.2 M462.95 582.7v2.2 M477.04 582.7v1.2 M480.67 582.7v1.2 M483.1 582.7v1.2 M485.12 582.7v1.2 M486.53 582.7v1.2 M487.74 582.7v1.2 M488.75 582.7v1.2 M489.56 582.7v1.2 M490.37 582.7v1.2 M496.76 582.7v1.2 M500.11 582.7v1.2 M502.34 582.7v1.2 M504.2 582.7v1.2 M505.5 582.7v1.2 M506.62 582.7v1.2 M507.55 582.7v1.2 M508.29 582.7v1.2 M509.04 582.7v1.2 M515.41 582.7v1.2 M518.79 582.7v1.2 M521.04 582.7v1.2 M522.92 582.7v1.2 M524.23 582.7v1.2 M525.36 582.7v1.2 M526.3 582.7v1.2 M527.05 582.7v1.2 M527.8 582.7v1.2" stroke="#333" stroke-width="0.7" fill="none"/>
<text x="470.98" y="591.34" font-size="3.6" text-anchor="middle" fill="#333">10<tspan dy="-1.4" font-size="2.52">2</tspan></text>
<text x="491.18" y="591.34" font-size="3.6" text-anchor="middle" fill="#333">10<tspan dy="-1.4" font-size="2.52">3</tspan></text>
<text x="509.78" y="591.34" font-size="3.6" text-anchor="middle" fill="#333">10<tspan dy="-1.4" font-size="2.52">4</tspan></text>
<text x="528.55" y="591.34" font-size="3.6" text-anchor="middle" fill="#333">10<tspan dy="-1.4" font-size="2.52">5</tspan></text>
<text x="462.95" y="591.34" font-size="3.6" text-anchor="middle" fill="#333">0</text>
<clipPath id="c629"><rect x="455.1" y="502.1" width="80.9" height="80.7"/></clipPath><g clip-path="url(#c629)">
<path d="M502.2 554.8 501.4 554.9 500.6 554.9 499.8 554.8 499.4 554.8 498.6 554.7 497.8 554.5 497.4 554.4 496.6 554.1 496.2 553.9 495.7 553.6 495.1 553.2 494.6 552.8 494.2 552.4 493.9 552.0 493.6 551.6 493.3 551.2 493.0 550.4 492.9 550.0 492.7 549.2 492.7 548.4 492.8 547.6 493.0 546.8 493.1 546.4 493.4 545.6 493.6 545.2 493.8 544.8 494.2 544.1 494.6 543.6 494.8 543.2 495.1 542.8 495.5 542.4 495.8 542.0 496.2 541.5 496.6 541.1 497.0 540.7 497.4 540.2 497.8 539.8 498.2 539.4 498.6 539.0 499.0 538.6 499.4 538.2 499.8 537.8 500.2 537.4 500.6 537.0 501.0 536.7 501.4 536.3 501.8 536.0 502.2 535.6 502.7 535.2 503.3 534.8 503.8 534.4 504.2 534.1 504.6 533.9 505.0 533.6 505.7 533.2 506.2 532.9 506.6 532.7 507.2 532.4 507.8 532.1 508.2 531.9 508.9 531.6 509.4 531.4 509.8 531.2 510.6 530.9 511.0 530.7 511.8 530.4 512.2 530.2 512.9 530.0 513.4 529.8 514.1 529.6 514.6 529.4 515.4 529.2 515.8 529.1 516.6 529.0 517.4 528.9 518.2 528.8 519.0 528.8 519.8 528.9 520.6 529.0 521.4 529.2 521.8 529.3 522.5 529.6 523.0 529.8 523.4 530.1 523.8 530.4 524.2 530.8 524.6 531.2 525.0 531.8 525.3 532.4 525.5 532.8 525.7 533.6 525.8 534.0 525.9 534.8 525.9 535.6 525.8 536.2 525.7 536.8 525.5 537.6 525.3 538.0 525.0 538.8 524.8 539.2 524.6 539.6 524.2 540.3 523.9 540.8 523.6 541.2 523.3 541.6 523.0 542.0 522.6 542.4 522.2 542.9 521.8 543.3 521.4 543.7 521.0 544.0 520.6 544.4 520.2 544.8 519.7 545.2 519.2 545.6 518.7 546.0 518.2 546.4 517.8 546.8 517.4 547.1 517.0 547.4 516.6 547.7 516.2 548.0 515.7 548.4 515.2 548.8 514.6 549.2 514.2 549.5 513.8 549.8 513.4 550.1 513.0 550.4 512.4 550.8 511.8 551.2 511.4 551.4 511.0 551.7 510.5 552.0 509.8 552.4 509.4 552.6 509.0 552.8 508.2 553.2 507.8 553.4 507.2 553.6 506.6 553.8 506.1 554.0 505.4 554.2 504.7 554.4 504.2 554.5 503.4 554.7 502.6 554.8 502.2 554.8Z" fill="none" stroke="#555" stroke-width="0.6"/>
<path d="M501.8 553.2 501.0 553.2 500.6 553.2 499.8 553.1 499.0 552.9 498.6 552.8 497.8 552.5 497.4 552.3 497.0 552.0 496.5 551.6 496.1 551.2 495.7 550.8 495.4 550.2 495.1 549.6 495.0 549.1 494.9 548.4 494.9 547.6 495.0 547.2 495.2 546.4 495.4 545.9 495.7 545.2 495.9 544.8 496.2 544.4 496.6 543.8 497.0 543.2 497.4 542.8 497.7 542.4 498.1 542.0 498.4 541.6 498.8 541.2 499.2 540.8 499.6 540.4 500.0 540.0 500.4 539.6 500.8 539.2 501.2 538.8 501.7 538.4 502.1 538.0 502.5 537.6 503.0 537.2 503.4 536.9 503.8 536.5 504.2 536.2 504.6 535.9 505.1 535.6 505.7 535.2 506.2 534.9 506.6 534.6 507.0 534.4 507.7 534.0 508.2 533.7 508.6 533.5 509.2 533.2 509.8 532.9 510.2 532.7 510.9 532.4 511.4 532.1 511.8 532.0 512.6 531.6 513.0 531.5 513.7 531.2 514.2 531.0 514.8 530.8 515.4 530.6 516.2 530.4 516.6 530.4 517.4 530.2 518.2 530.2 519.0 530.2 519.8 530.3 520.3 530.4 521.0 530.6 521.4 530.8 522.2 531.2 522.6 531.5 523.0 531.9 523.4 532.4 523.7 532.8 523.9 533.2 524.2 534.0 524.3 534.4 524.4 535.2 524.3 536.0 524.2 536.8 524.1 537.2 523.9 538.0 523.7 538.4 523.4 539.0 523.1 539.6 522.8 540.0 522.5 540.4 522.2 540.8 521.8 541.3 521.4 541.7 521.0 542.2 520.6 542.5 520.2 542.9 519.8 543.3 519.4 543.6 518.9 544.0 518.4 544.4 517.8 544.8 517.4 545.1 517.0 545.4 516.6 545.7 516.2 546.0 515.7 546.4 515.1 546.8 514.6 547.2 514.2 547.5 513.8 547.8 513.4 548.1 513.0 548.4 512.4 548.8 511.9 549.2 511.4 549.5 511.0 549.8 510.6 550.1 510.1 550.4 509.4 550.8 509.0 551.0 508.6 551.3 507.9 551.6 507.4 551.8 507.0 552.0 506.2 552.3 505.8 552.5 505.0 552.7 504.6 552.8 503.8 553.0 503.0 553.1 502.2 553.2 501.8 553.2Z" fill="none" stroke="#505050" stroke-width="0.6"/>
<path d="M504.2 551.6 503.4 551.8 502.6 551.9 501.8 551.9 501.0 551.8 500.2 551.7 499.8 551.6 499.0 551.3 498.6 551.1 498.2 550.8 497.7 550.4 497.4 550.0 497.0 549.4 496.8 548.8 496.7 548.0 496.7 547.2 496.9 546.4 497.0 546.0 497.4 545.2 497.6 544.8 497.9 544.4 498.2 543.9 498.6 543.4 499.0 542.9 499.4 542.5 499.8 542.1 500.2 541.6 500.6 541.2 501.0 540.9 501.4 540.5 501.8 540.1 502.2 539.7 502.6 539.3 503.0 539.0 503.4 538.6 503.8 538.3 504.2 537.9 504.6 537.6 505.1 537.2 505.7 536.8 506.2 536.4 506.6 536.2 507.0 535.9 507.5 535.6 508.1 535.2 508.6 534.9 509.0 534.7 509.5 534.4 510.2 534.0 510.6 533.8 511.0 533.6 511.7 533.2 512.2 533.0 512.6 532.8 513.4 532.4 513.8 532.2 514.4 532.0 515.0 531.8 515.6 531.6 516.2 531.5 517.0 531.3 517.8 531.2 518.6 531.2 519.4 531.3 520.2 531.5 520.6 531.7 521.2 532.0 521.8 532.4 522.2 532.8 522.5 533.2 522.7 533.6 523.0 534.3 523.1 534.8 523.2 535.6 523.2 536.4 523.0 537.2 522.9 537.6 522.6 538.3 522.4 538.8 522.1 539.2 521.8 539.7 521.4 540.2 521.0 540.7 520.6 541.2 520.2 541.6 519.8 541.9 519.4 542.3 519.0 542.6 518.6 542.9 518.2 543.2 517.7 543.6 517.1 544.0 516.6 544.3 516.2 544.6 515.8 544.9 515.3 545.2 514.7 545.6 514.2 546.0 513.8 546.2 513.4 546.5 513.0 546.8 512.5 547.2 511.9 547.6 511.4 548.0 511.0 548.3 510.6 548.6 510.2 548.8 509.7 549.2 509.0 549.6 508.6 549.9 508.2 550.1 507.6 550.4 507.0 550.7 506.6 550.9 505.8 551.2 505.4 551.3 504.6 551.5 504.2 551.6Z" fill="none" stroke="#4a4a4a" stroke-width="0.6"/>
<path d="M504.2 550.4 503.4 550.6 502.6 550.6 501.8 550.6 501.0 550.5 500.6 550.3 499.8 550.0 499.4 549.7 499.0 549.3 498.6 548.8 498.5 548.4 498.3 547.6 498.4 546.8 498.6 546.0 498.7 545.6 499.0 545.1 499.4 544.5 499.7 544.0 500.1 543.6 500.4 543.2 500.8 542.8 501.2 542.4 501.5 542.0 502.0 541.6 502.4 541.2 502.8 540.8 503.2 540.4 503.7 540.0 504.1 539.6 504.6 539.2 505.0 538.9 505.4 538.5 505.8 538.2 506.2 537.9 506.6 537.6 507.2 537.2 507.7 536.8 508.2 536.5 508.6 536.2 509.0 536.0 509.6 535.6 510.2 535.2 510.6 535.0 511.0 534.7 511.5 534.4 512.2 534.0 512.6 533.8 513.0 533.6 513.8 533.2 514.2 533.0 514.7 532.8 515.4 532.6 516.0 532.4 516.6 532.3 517.4 532.2 518.2 532.2 519.0 532.2 519.6 532.4 520.2 532.6 520.6 532.9 521.0 533.2 521.4 533.6 521.8 534.2 522.0 534.8 522.2 535.6 522.2 536.4 522.0 537.2 521.8 537.9 521.6 538.4 521.3 538.8 521.0 539.3 520.6 539.9 520.2 540.3 519.8 540.8 519.4 541.1 519.0 541.5 518.6 541.8 518.2 542.1 517.8 542.4 517.2 542.8 516.6 543.2 516.2 543.4 515.8 543.7 515.2 544.0 514.6 544.4 514.2 544.6 513.8 544.9 513.3 545.2 512.7 545.6 512.2 546.0 511.8 546.3 511.4 546.6 511.0 546.9 510.5 547.2 510.0 547.6 509.4 548.0 509.0 548.3 508.6 548.5 508.2 548.8 507.5 549.2 507.0 549.4 506.6 549.6 505.8 550.0 505.4 550.1 504.6 550.3 504.2 550.4Z" fill="none" stroke="#404040" stroke-width="0.6"/>
<path d="M504.2 549.2 503.4 549.3 502.6 549.3 501.8 549.2 501.4 549.1 500.9 548.8 500.4 548.4 500.2 548.0 499.9 547.2 500.0 546.4 500.2 545.8 500.5 545.2 500.7 544.8 501.0 544.4 501.4 543.9 501.8 543.4 502.2 543.0 502.6 542.6 503.0 542.2 503.4 541.8 503.8 541.4 504.2 541.1 504.6 540.7 505.0 540.4 505.4 540.0 505.9 539.6 506.4 539.2 506.9 538.8 507.4 538.4 507.8 538.1 508.2 537.8 508.6 537.5 509.0 537.2 509.6 536.8 510.1 536.4 510.6 536.1 511.0 535.8 511.4 535.5 511.9 535.2 512.5 534.8 513.0 534.5 513.4 534.3 513.9 534.0 514.6 533.7 515.0 533.5 515.8 533.2 516.2 533.1 517.0 533.0 517.8 533.0 518.6 533.1 519.1 533.2 519.8 533.5 520.2 533.8 520.6 534.2 521.0 534.8 521.2 535.2 521.3 536.0 521.2 536.8 521.0 537.6 520.9 538.0 520.6 538.5 520.2 539.2 519.9 539.6 519.5 540.0 519.1 540.4 518.6 540.8 518.2 541.2 517.8 541.4 517.4 541.7 516.9 542.0 516.3 542.4 515.8 542.7 515.4 542.9 514.8 543.2 514.2 543.5 513.8 543.7 513.3 544.0 512.6 544.4 512.2 544.7 511.8 544.9 511.4 545.2 510.9 545.6 510.3 546.0 509.8 546.4 509.4 546.7 509.0 546.9 508.6 547.2 508.0 547.6 507.4 548.0 507.0 548.2 506.6 548.4 505.8 548.8 505.4 548.9 504.6 549.2 504.2 549.2Z" fill="none" stroke="#383838" stroke-width="0.6"/>
<path d="M505.0 547.7 504.2 547.8 503.4 547.8 502.6 547.6 502.2 547.3 502.0 546.8 501.9 546.0 502.2 545.3 502.5 544.8 502.7 544.4 503.1 544.0 503.4 543.6 503.8 543.2 504.2 542.8 504.6 542.4 505.1 542.0 505.5 541.6 506.0 541.2 506.4 540.8 506.9 540.4 507.4 540.0 507.8 539.6 508.2 539.3 508.6 539.0 509.0 538.6 509.4 538.3 509.8 537.9 510.2 537.6 510.7 537.2 511.1 536.8 511.6 536.4 512.1 536.0 512.6 535.7 513.0 535.4 513.4 535.1 514.0 534.8 514.6 534.5 515.0 534.3 515.8 534.0 516.2 533.9 517.0 533.8 517.8 533.8 518.6 533.9 519.0 534.1 519.5 534.4 519.9 534.8 520.2 535.4 520.4 536.0 520.4 536.8 520.2 537.5 520.0 538.0 519.8 538.4 519.4 539.0 519.0 539.5 518.6 539.9 518.2 540.2 517.8 540.5 517.4 540.8 516.8 541.2 516.2 541.5 515.8 541.7 515.2 542.0 514.6 542.3 514.2 542.5 513.4 542.8 513.0 543.0 512.6 543.2 511.8 543.6 511.4 543.8 511.0 544.1 510.5 544.4 509.9 544.8 509.4 545.1 509.0 545.4 508.6 545.7 508.2 546.0 507.6 546.4 507.0 546.8 506.6 547.0 506.2 547.2 505.4 547.5 505.0 547.7Z" fill="none" stroke="#333" stroke-width="0.6"/>
<path d="M509.0 542.8 508.2 543.1 508.1 542.4 508.3 542.0 508.6 541.6 509.0 541.1 509.4 540.5 509.8 540.0 510.1 539.6 510.4 539.2 510.7 538.8 511.0 538.4 511.4 538.0 511.8 537.6 512.2 537.1 512.6 536.8 513.0 536.4 513.5 536.0 514.1 535.6 514.6 535.3 515.0 535.1 515.8 534.8 516.2 534.7 517.0 534.6 517.8 534.7 518.2 534.8 518.9 535.2 519.2 535.6 519.4 536.2 519.4 536.8 519.4 537.2 519.1 538.0 518.9 538.4 518.6 538.8 518.2 539.2 517.8 539.6 517.2 540.0 516.6 540.4 516.2 540.6 515.8 540.8 515.0 541.1 514.6 541.3 513.8 541.5 513.4 541.6 512.6 541.8 511.9 542.0 511.4 542.1 510.6 542.3 510.2 542.5 509.4 542.7 509.0 542.8Z" fill="none" stroke="#444" stroke-width="0.6"/>
<path d="M515.0 540.0 514.2 540.1 513.4 540.1 513.0 539.9 512.6 539.2 512.8 538.4 513.0 538.0 513.4 537.5 513.8 537.1 514.2 536.7 514.6 536.4 515.3 536.0 515.8 535.8 516.6 535.6 517.4 535.7 517.9 536.0 518.2 536.5 518.3 537.2 518.2 537.6 517.8 538.3 517.4 538.7 517.0 539.1 516.6 539.3 516.1 539.6 515.4 539.9 515.0 540.0Z" fill="none" stroke="#888" stroke-width="0.6"/>
</g>
<polygon points="485.4,539.9 497.8,525.3 512.4,519 525.9,516.3 533.8,519.6 533.3,537.6 520.3,554.5 512.4,565.3 513.1,545.5 510.2,540.6" fill="none" stroke="#5a5a5a" stroke-width="0.7" stroke-linejoin="round"/>
<text x="473.8" y="519" font-size="13.3" text-anchor="start" fill="#000">55.5</text>
<rect x="454.6" y="652.6" width="81.9" height="81.5" fill="none" stroke="#8c8c8c" stroke-width="0.9"/>
<line x1="454.2" y1="734.1" x2="536.9" y2="734.1" stroke="#333" stroke-width="1"/>
<path d="M453 660.07h2.2 M453 678.81h2.2 M453 697h2.2 M453 716.47h2.2 M453 725.68h2.2 M454 673.19h1.2 M454 669.82h1.2 M454 667.57h1.2 M454 665.69h1.2 M454 664.38h1.2 M454 663.25h1.2 M454 662.32h1.2 M454 661.57h1.2 M454 660.82h1.2 M454 691.55h1.2 M454 688.27h1.2 M454 686.09h1.2 M454 684.27h1.2 M454 683h1.2 M454 681.91h1.2 M454 681h1.2 M454 680.27h1.2 M454 679.54h1.2 M454 710.63h1.2 M454 707.12h1.2 M454 704.79h1.2 M454 702.84h1.2 M454 701.48h1.2 M454 700.31h1.2 M454 699.34h1.2 M454 698.56h1.2 M454 697.78h1.2 M470.98 733.5v2.2 M491.18 733.5v2.2 M509.78 733.5v2.2 M528.55 733.5v2.2 M462.95 733.5v2.2 M477.04 733.5v1.2 M480.67 733.5v1.2 M483.1 733.5v1.2 M485.12 733.5v1.2 M486.53 733.5v1.2 M487.74 733.5v1.2 M488.75 733.5v1.2 M489.56 733.5v1.2 M490.37 733.5v1.2 M496.76 733.5v1.2 M500.11 733.5v1.2 M502.34 733.5v1.2 M504.2 733.5v1.2 M505.5 733.5v1.2 M506.62 733.5v1.2 M507.55 733.5v1.2 M508.29 733.5v1.2 M509.04 733.5v1.2 M515.41 733.5v1.2 M518.79 733.5v1.2 M521.04 733.5v1.2 M522.92 733.5v1.2 M524.23 733.5v1.2 M525.36 733.5v1.2 M526.3 733.5v1.2 M527.05 733.5v1.2 M527.8 733.5v1.2" stroke="#333" stroke-width="0.7" fill="none"/>
<text x="470.98" y="742.12" font-size="3.6" text-anchor="middle" fill="#333">10<tspan dy="-1.4" font-size="2.52">2</tspan></text>
<text x="491.18" y="742.12" font-size="3.6" text-anchor="middle" fill="#333">10<tspan dy="-1.4" font-size="2.52">3</tspan></text>
<text x="509.78" y="742.12" font-size="3.6" text-anchor="middle" fill="#333">10<tspan dy="-1.4" font-size="2.52">4</tspan></text>
<text x="528.55" y="742.12" font-size="3.6" text-anchor="middle" fill="#333">10<tspan dy="-1.4" font-size="2.52">5</tspan></text>
<text x="462.95" y="742.12" font-size="3.6" text-anchor="middle" fill="#333">0</text>
<clipPath id="c649"><rect x="455.1" y="653.1" width="80.9" height="80.5"/></clipPath><g clip-path="url(#c649)">
<path d="M505.8 711.8 505.0 711.9 504.2 711.8 503.8 711.8 503.0 711.7 502.2 711.5 501.8 711.4 501.0 711.2 500.5 711.0 499.8 710.7 499.4 710.6 498.6 710.2 498.2 710.1 497.6 709.8 497.0 709.5 496.6 709.3 495.9 709.0 495.4 708.8 495.0 708.6 494.3 708.2 493.8 707.9 493.4 707.7 492.9 707.4 492.4 707.0 491.9 706.6 491.4 706.2 491.0 705.8 490.6 705.4 490.3 705.0 490.0 704.6 489.7 704.2 489.4 703.7 489.0 703.0 488.9 702.6 488.6 701.8 488.5 701.4 488.3 700.6 488.2 699.9 488.2 699.4 488.1 698.6 488.2 697.8 488.2 697.4 488.3 696.6 488.5 695.8 488.6 695.4 488.9 694.6 489.0 694.2 489.4 693.4 489.6 693.0 489.8 692.6 490.2 691.9 490.6 691.4 490.9 691.0 491.2 690.6 491.5 690.2 491.9 689.8 492.4 689.4 492.8 689.0 493.4 688.6 493.8 688.3 494.2 688.1 494.9 687.8 495.4 687.6 496.0 687.4 496.6 687.2 497.4 687.1 498.2 687.0 499.0 687.0 499.8 687.1 500.6 687.2 501.4 687.3 501.8 687.4 502.6 687.6 503.0 687.8 503.8 688.1 504.2 688.3 504.8 688.6 505.4 688.9 505.8 689.2 506.2 689.4 506.7 689.8 507.3 690.2 507.8 690.6 508.2 691.0 508.6 691.3 509.0 691.7 509.4 692.2 509.8 692.6 510.1 693.0 510.4 693.4 510.7 693.8 511.0 694.2 511.4 694.8 511.8 695.4 512.0 695.8 512.2 696.2 512.6 697.0 512.7 697.4 513.0 698.1 513.2 698.6 513.4 699.4 513.5 699.8 513.6 700.6 513.7 701.4 513.8 702.2 513.8 702.6 513.8 703.2 513.8 703.8 513.7 704.6 513.5 705.4 513.4 705.8 513.1 706.6 512.9 707.0 512.6 707.6 512.3 708.2 512.0 708.6 511.6 709.0 511.3 709.4 510.9 709.8 510.4 710.2 509.8 710.6 509.4 710.8 509.0 711.0 508.2 711.3 507.8 711.5 507.0 711.7 506.2 711.8 505.8 711.8Z" fill="none" stroke="#555" stroke-width="0.6"/>
<path d="M505.8 708.6 505.0 708.8 504.2 708.8 503.4 708.8 502.6 708.7 502.0 708.6 501.4 708.5 500.6 708.3 500.1 708.2 499.4 708.0 498.6 707.8 498.2 707.7 497.4 707.5 497.0 707.4 496.2 707.1 495.8 707.0 495.0 706.6 494.6 706.5 494.1 706.2 493.5 705.8 493.0 705.5 492.6 705.2 492.2 704.8 491.8 704.4 491.4 704.0 491.0 703.4 490.7 703.0 490.5 702.6 490.2 701.8 490.0 701.4 489.8 700.6 489.8 700.2 489.7 699.4 489.7 698.6 489.8 697.8 489.8 697.4 490.0 696.6 490.2 696.0 490.4 695.4 490.6 695.0 491.0 694.3 491.3 693.8 491.6 693.4 491.9 693.0 492.2 692.6 492.6 692.2 493.1 691.8 493.5 691.4 494.1 691.0 494.6 690.7 495.0 690.5 495.7 690.2 496.2 690.0 497.0 689.8 497.4 689.7 498.2 689.6 499.0 689.6 499.8 689.6 500.6 689.8 501.0 689.8 501.8 690.0 502.3 690.2 503.0 690.5 503.4 690.7 504.0 691.0 504.6 691.4 505.0 691.6 505.4 691.9 505.8 692.2 506.3 692.6 506.7 693.0 507.1 693.4 507.5 693.8 507.8 694.2 508.2 694.7 508.6 695.2 509.0 695.8 509.2 696.2 509.4 696.6 509.8 697.3 510.0 697.8 510.2 698.3 510.4 699.0 510.6 699.7 510.7 700.2 510.8 701.0 510.9 701.8 510.8 702.6 510.7 703.4 510.6 703.9 510.4 704.6 510.2 705.1 509.8 705.8 509.6 706.2 509.2 706.6 508.9 707.0 508.4 707.4 507.8 707.8 507.4 708.1 507.0 708.2 506.2 708.5 505.8 708.6Z" fill="none" stroke="#505050" stroke-width="0.6"/>
<path d="M504.2 706.2 503.4 706.4 502.6 706.4 501.8 706.5 501.0 706.4 500.2 706.4 499.4 706.3 498.6 706.3 498.2 706.2 497.4 706.1 496.6 705.9 496.2 705.8 495.4 705.5 495.0 705.3 494.4 705.0 493.8 704.6 493.4 704.3 493.0 704.0 492.6 703.6 492.2 703.1 491.8 702.6 491.6 702.2 491.4 701.8 491.1 701.0 491.0 700.6 490.9 699.8 490.8 699.0 490.9 698.2 491.0 697.4 491.1 697.0 491.4 696.2 491.6 695.8 491.8 695.4 492.2 694.7 492.6 694.2 492.9 693.8 493.3 693.4 493.8 693.0 494.2 692.7 494.6 692.4 495.0 692.2 495.8 691.8 496.2 691.7 497.0 691.5 497.4 691.4 498.2 691.3 499.0 691.3 499.8 691.4 500.2 691.4 501.0 691.6 501.5 691.8 502.2 692.1 502.6 692.3 503.1 692.6 503.7 693.0 504.2 693.3 504.6 693.7 505.0 694.0 505.4 694.4 505.8 694.9 506.2 695.4 506.5 695.8 506.8 696.2 507.0 696.6 507.4 697.3 507.6 697.8 507.8 698.3 508.0 699.0 508.2 699.7 508.3 700.2 508.3 701.0 508.3 701.8 508.2 702.4 508.0 703.0 507.8 703.6 507.4 704.2 507.1 704.6 506.8 705.0 506.3 705.4 505.8 705.7 505.4 705.9 504.6 706.2 504.2 706.2Z" fill="none" stroke="#4a4a4a" stroke-width="0.6"/>
<path d="M499.0 705.0 498.6 705.0 497.8 705.0 497.0 704.8 496.2 704.6 495.8 704.5 495.1 704.2 494.6 703.9 494.2 703.7 493.8 703.4 493.4 703.0 493.0 702.5 492.6 702.0 492.3 701.4 492.1 701.0 491.9 700.2 491.8 699.4 491.8 699.0 491.8 698.6 491.9 697.8 492.2 697.0 492.3 696.6 492.6 696.0 493.0 695.4 493.3 695.0 493.7 694.6 494.1 694.2 494.6 693.8 495.0 693.5 495.4 693.3 496.1 693.0 496.6 692.8 497.4 692.7 498.2 692.6 499.0 692.6 499.8 692.8 500.6 693.0 501.0 693.1 501.6 693.4 502.2 693.8 502.6 694.0 503.0 694.4 503.4 694.7 503.8 695.1 504.2 695.6 504.6 696.1 504.9 696.6 505.1 697.0 505.4 697.7 505.6 698.2 505.8 699.0 505.9 699.4 505.9 700.2 505.8 701.0 505.8 701.4 505.4 702.2 505.2 702.6 504.9 703.0 504.5 703.4 503.9 703.8 503.4 704.1 503.0 704.3 502.2 704.5 501.8 704.6 501.0 704.8 500.2 704.9 499.4 705.0 499.0 705.0Z" fill="none" stroke="#404040" stroke-width="0.6"/>
<path d="M499.8 703.8 499.0 703.9 498.2 704.0 497.4 703.9 496.6 703.8 496.2 703.7 495.5 703.4 495.0 703.1 494.6 702.9 494.2 702.5 493.8 702.1 493.4 701.6 493.1 701.0 492.9 700.6 492.7 699.8 492.7 699.0 492.7 698.2 492.9 697.4 493.1 697.0 493.4 696.4 493.8 695.8 494.2 695.4 494.6 695.0 495.0 694.7 495.4 694.4 495.8 694.2 496.6 693.9 497.0 693.8 497.8 693.7 498.6 693.7 499.4 693.8 499.8 693.9 500.5 694.2 501.0 694.4 501.4 694.7 501.8 695.0 502.3 695.4 502.6 695.8 503.0 696.3 503.4 697.0 503.6 697.4 503.8 697.9 504.0 698.6 504.0 699.4 504.0 700.2 503.8 700.8 503.5 701.4 503.3 701.8 502.9 702.2 502.5 702.6 501.9 703.0 501.4 703.3 501.0 703.4 500.2 703.7 499.8 703.8Z" fill="none" stroke="#383838" stroke-width="0.6"/>
<path d="M498.6 703.0 497.8 703.1 497.2 703.0 496.6 702.9 495.8 702.6 495.4 702.4 495.0 702.1 494.6 701.7 494.2 701.3 493.8 700.6 493.7 700.2 493.5 699.4 493.5 698.6 493.7 697.8 493.8 697.4 494.2 696.7 494.6 696.2 495.0 695.8 495.4 695.5 495.8 695.2 496.2 695.0 497.0 694.8 497.8 694.6 498.6 694.7 499.4 694.9 499.8 695.0 500.5 695.4 501.0 695.8 501.4 696.1 501.8 696.6 502.0 697.0 502.2 697.4 502.5 698.2 502.6 699.0 502.5 699.8 502.2 700.6 502.0 701.0 501.7 701.4 501.3 701.8 500.8 702.2 500.2 702.5 499.8 702.7 499.0 702.9 498.6 703.0Z" fill="none" stroke="#333" stroke-width="0.6"/>
<path d="M499.0 701.9 498.2 702.1 497.4 702.1 496.6 701.9 496.2 701.8 495.6 701.4 495.1 701.0 494.8 700.6 494.6 700.1 494.4 699.4 494.4 698.6 494.6 697.8 494.8 697.4 495.1 697.0 495.4 696.6 495.9 696.2 496.6 695.8 497.0 695.7 497.8 695.6 498.6 695.7 499.0 695.8 499.8 696.2 500.2 696.5 500.6 696.9 500.9 697.4 501.1 697.8 501.3 698.6 501.3 699.4 501.0 700.2 500.8 700.6 500.4 701.0 500.0 701.4 499.4 701.7 499.0 701.9Z" fill="none" stroke="#444" stroke-width="0.6"/>
<path d="M497.8 701.0 497.3 701.0 496.6 700.8 496.2 700.5 495.8 700.1 495.5 699.4 495.5 698.6 495.8 697.8 496.1 697.4 496.6 697.0 497.0 696.9 497.8 696.7 498.6 696.9 499.0 697.1 499.4 697.4 499.8 698.1 499.9 698.6 499.9 699.4 499.7 699.8 499.4 700.3 499.0 700.6 498.2 701.0 497.8 701.0Z" fill="none" stroke="#888" stroke-width="0.6"/>
</g>
<polygon points="487.7,686.4 497.8,674 507.9,667.3 527.1,662.3 535.6,665 535.6,685.3 514.7,711.1 514.7,697.6 512.4,687.5" fill="none" stroke="#5a5a5a" stroke-width="0.7" stroke-linejoin="round"/>
<text x="473.3" y="675.6" font-size="13.3" text-anchor="start" fill="#000">8.57</text>
<rect x="539.7" y="501.6" width="81.9" height="81.7" fill="none" stroke="#8c8c8c" stroke-width="0.9"/>
<line x1="539.3" y1="583.3" x2="622" y2="583.3" stroke="#333" stroke-width="1"/>
<path d="M538.1 509.09h2.2 M538.1 527.88h2.2 M538.1 546.11h2.2 M538.1 565.62h2.2 M538.1 574.86h2.2 M539.1 522.24h1.2 M539.1 518.86h1.2 M539.1 516.6h1.2 M539.1 514.72h1.2 M539.1 513.41h1.2 M539.1 512.28h1.2 M539.1 511.34h1.2 M539.1 510.59h1.2 M539.1 509.84h1.2 M539.1 540.64h1.2 M539.1 537.36h1.2 M539.1 535.17h1.2 M539.1 533.35h1.2 M539.1 532.07h1.2 M539.1 530.98h1.2 M539.1 530.07h1.2 M539.1 529.34h1.2 M539.1 528.61h1.2 M539.1 559.77h1.2 M539.1 556.26h1.2 M539.1 553.92h1.2 M539.1 551.97h1.2 M539.1 550.6h1.2 M539.1 549.43h1.2 M539.1 548.45h1.2 M539.1 547.67h1.2 M539.1 546.89h1.2 M556.08 582.7v2.2 M576.28 582.7v2.2 M594.88 582.7v2.2 M613.65 582.7v2.2 M548.05 582.7v2.2 M562.14 582.7v1.2 M565.77 582.7v1.2 M568.2 582.7v1.2 M570.22 582.7v1.2 M571.63 582.7v1.2 M572.84 582.7v1.2 M573.85 582.7v1.2 M574.66 582.7v1.2 M575.47 582.7v1.2 M581.86 582.7v1.2 M585.21 582.7v1.2 M587.44 582.7v1.2 M589.3 582.7v1.2 M590.6 582.7v1.2 M591.72 582.7v1.2 M592.65 582.7v1.2 M593.39 582.7v1.2 M594.14 582.7v1.2 M600.51 582.7v1.2 M603.89 582.7v1.2 M606.14 582.7v1.2 M608.02 582.7v1.2 M609.33 582.7v1.2 M610.46 582.7v1.2 M611.4 582.7v1.2 M612.15 582.7v1.2 M612.9 582.7v1.2" stroke="#333" stroke-width="0.7" fill="none"/>
<text x="556.08" y="591.34" font-size="3.6" text-anchor="middle" fill="#333">10<tspan dy="-1.4" font-size="2.52">2</tspan></text>
<text x="576.28" y="591.34" font-size="3.6" text-anchor="middle" fill="#333">10<tspan dy="-1.4" font-size="2.52">3</tspan></text>
<text x="594.88" y="591.34" font-size="3.6" text-anchor="middle" fill="#333">10<tspan dy="-1.4" font-size="2.52">4</tspan></text>
<text x="613.65" y="591.34" font-size="3.6" text-anchor="middle" fill="#333">10<tspan dy="-1.4" font-size="2.52">5</tspan></text>
<text x="548.05" y="591.34" font-size="3.6" text-anchor="middle" fill="#333">0</text>
<clipPath id="c669"><rect x="540.2" y="502.1" width="80.9" height="80.7"/></clipPath><g clip-path="url(#c669)">
<path d="M582.5 552.0 581.7 552.2 580.9 552.3 580.1 552.3 579.3 552.3 578.5 552.1 578.1 552.0 577.3 551.6 576.9 551.4 576.5 551.0 576.1 550.6 575.8 550.0 575.6 549.6 575.5 548.8 575.7 548.1 576.0 547.6 576.3 547.2 576.7 546.8 577.2 546.4 577.7 546.1 578.1 545.9 578.9 545.6 579.3 545.5 580.1 545.2 580.5 545.0 580.9 544.8 581.4 544.4 581.7 544.0 582.1 543.4 582.4 542.8 582.6 542.4 582.9 541.8 583.3 541.2 583.6 540.8 583.9 540.4 584.2 540.0 584.6 539.6 585.0 539.2 585.5 538.8 585.9 538.4 586.4 538.0 586.8 537.6 587.2 537.2 587.5 536.8 587.8 536.4 588.1 535.9 588.5 535.2 588.7 534.8 588.9 534.4 589.3 533.6 589.5 533.2 589.7 532.8 590.1 532.2 590.5 531.6 590.8 531.2 591.1 530.8 591.5 530.4 591.8 530.0 592.2 529.6 592.7 529.2 593.1 528.8 593.7 528.4 594.1 528.1 594.5 527.8 594.9 527.6 595.5 527.2 596.1 526.9 596.5 526.7 597.2 526.4 597.7 526.2 598.3 526.0 598.9 525.8 599.7 525.6 600.1 525.5 600.9 525.4 601.7 525.3 602.4 525.2 602.9 525.2 603.7 525.2 604.2 525.2 604.9 525.3 605.7 525.4 606.5 525.5 606.9 525.6 607.7 525.9 608.1 526.0 608.9 526.3 609.3 526.5 609.8 526.8 610.5 527.2 610.9 527.5 611.3 527.8 611.7 528.1 612.1 528.5 612.5 529.0 612.9 529.4 613.3 530.0 613.6 530.4 613.8 530.8 614.1 531.5 614.3 532.0 614.5 532.7 614.6 533.2 614.7 534.0 614.8 534.8 614.8 535.6 614.7 536.4 614.6 537.2 614.5 537.6 614.2 538.4 614.1 538.8 613.7 539.6 613.5 540.0 613.3 540.4 612.9 541.1 612.5 541.6 612.2 542.0 611.9 542.4 611.5 542.8 611.2 543.2 610.7 543.6 610.3 544.0 609.8 544.4 609.3 544.8 608.9 545.1 608.5 545.3 608.0 545.6 607.3 546.0 606.9 546.2 606.5 546.4 605.7 546.7 605.3 546.9 604.5 547.2 604.1 547.3 603.3 547.5 602.9 547.6 602.1 547.8 601.3 547.9 600.9 548.0 600.1 548.2 599.5 548.4 598.9 548.6 598.4 548.8 597.7 549.1 597.3 549.3 596.8 549.6 596.2 550.0 595.7 550.3 595.3 550.5 594.7 550.8 594.1 551.1 593.7 551.2 592.9 551.5 592.5 551.6 591.7 551.8 590.9 551.9 590.1 551.9 589.3 551.9 588.5 551.8 587.7 551.7 587.0 551.6 586.5 551.5 585.7 551.4 584.9 551.4 584.1 551.6 583.7 551.7 582.9 551.9 582.5 552.0Z" fill="none" stroke="#555" stroke-width="0.6"/>
<path d="M581.3 550.4 580.5 550.6 579.7 550.5 579.1 550.4 578.5 550.0 578.1 549.6 577.9 549.2 578.1 548.4 578.4 548.0 578.9 547.6 579.3 547.4 580.0 547.2 580.5 547.1 581.3 547.1 582.1 547.0 582.8 546.8 583.2 546.4 583.5 546.0 583.7 545.4 583.9 544.8 584.1 544.0 584.2 543.6 584.5 543.0 584.8 542.4 585.1 542.0 585.4 541.6 585.7 541.2 586.1 540.8 586.6 540.4 587.0 540.0 587.5 539.6 588.1 539.2 588.5 538.8 588.9 538.4 589.3 538.0 589.6 537.6 589.8 537.2 590.1 536.6 590.4 536.0 590.6 535.6 590.9 534.8 591.1 534.4 591.3 534.0 591.7 533.3 592.0 532.8 592.3 532.4 592.6 532.0 592.9 531.6 593.3 531.1 593.7 530.7 594.1 530.4 594.5 530.0 595.0 529.6 595.6 529.2 596.1 528.9 596.5 528.7 597.0 528.4 597.7 528.1 598.1 527.9 598.9 527.6 599.3 527.5 600.1 527.3 600.6 527.2 601.3 527.1 602.1 527.0 602.9 527.0 603.7 527.0 604.5 527.0 605.3 527.2 605.7 527.3 606.5 527.5 606.9 527.6 607.7 527.9 608.1 528.1 608.6 528.4 609.2 528.8 609.7 529.1 610.1 529.5 610.5 529.9 610.9 530.3 611.3 530.8 611.6 531.2 611.8 531.6 612.1 532.3 612.3 532.8 612.5 533.5 612.6 534.0 612.7 534.8 612.7 535.6 612.6 536.4 612.5 537.1 612.4 537.6 612.1 538.4 611.9 538.8 611.7 539.3 611.3 540.0 611.1 540.4 610.8 540.8 610.5 541.2 610.1 541.6 609.7 542.1 609.3 542.5 608.9 542.8 608.4 543.2 607.9 543.6 607.3 544.0 606.9 544.2 606.5 544.4 605.8 544.8 605.3 545.0 604.8 545.2 604.1 545.5 603.6 545.6 602.9 545.8 602.1 546.0 601.7 546.0 600.9 546.2 600.1 546.3 599.5 546.4 598.9 546.5 598.1 546.8 597.7 546.9 597.1 547.2 596.5 547.5 596.1 547.8 595.7 548.0 595.2 548.4 594.5 548.8 594.1 549.1 593.7 549.3 593.0 549.6 592.5 549.8 591.7 550.0 591.3 550.1 590.5 550.2 589.7 550.2 588.9 550.1 588.3 550.0 587.7 549.9 586.9 549.6 586.5 549.5 585.7 549.2 585.3 549.1 584.5 549.0 583.7 549.2 583.3 549.4 582.9 549.6 582.3 550.0 581.7 550.3 581.3 550.4Z" fill="none" stroke="#505050" stroke-width="0.6"/>
<path d="M591.7 548.4 590.9 548.6 590.1 548.6 589.3 548.6 588.5 548.4 588.1 548.3 587.6 548.0 587.0 547.6 586.5 547.2 586.2 546.8 586.0 546.4 585.8 545.6 585.8 544.8 586.0 544.0 586.1 543.6 586.5 542.9 586.8 542.4 587.2 542.0 587.7 541.6 588.1 541.2 588.5 541.0 588.9 540.7 589.3 540.4 589.9 540.0 590.3 539.6 590.7 539.2 591.0 538.8 591.3 538.2 591.5 537.6 591.7 537.1 591.9 536.4 592.1 535.9 592.4 535.2 592.6 534.8 592.9 534.1 593.2 533.6 593.4 533.2 593.7 532.8 594.1 532.3 594.5 531.9 594.9 531.5 595.3 531.1 595.7 530.8 596.2 530.4 596.8 530.0 597.3 529.7 597.7 529.5 598.4 529.2 598.9 529.0 599.6 528.8 600.1 528.7 600.9 528.5 601.5 528.4 602.1 528.3 602.9 528.3 603.7 528.4 604.1 528.4 604.9 528.5 605.7 528.7 606.1 528.9 606.9 529.2 607.3 529.4 607.7 529.6 608.3 530.0 608.8 530.4 609.2 530.8 609.6 531.2 609.9 531.6 610.2 532.0 610.5 532.6 610.7 533.2 610.9 533.7 611.1 534.4 611.1 535.2 611.1 536.0 611.0 536.8 610.9 537.2 610.7 538.0 610.5 538.4 610.1 539.2 609.9 539.6 609.6 540.0 609.3 540.4 608.9 540.9 608.5 541.3 608.1 541.7 607.7 542.1 607.3 542.4 606.7 542.8 606.1 543.2 605.7 543.4 605.2 543.6 604.5 543.9 604.1 544.1 603.3 544.3 602.9 544.4 602.1 544.6 601.3 544.7 600.7 544.8 600.1 544.9 599.3 544.9 598.5 545.0 597.7 545.1 597.3 545.2 596.5 545.5 596.1 545.7 595.6 546.0 595.1 546.4 594.6 546.8 594.1 547.1 593.7 547.4 593.3 547.7 592.8 548.0 592.1 548.3 591.7 548.4Z" fill="none" stroke="#4a4a4a" stroke-width="0.6"/>
<path d="M590.5 546.8 589.8 546.8 589.3 546.7 588.8 546.4 588.3 546.0 588.1 545.6 587.9 544.8 588.1 544.1 588.4 543.6 588.7 543.2 589.2 542.8 589.7 542.4 590.1 542.2 590.6 542.0 591.3 541.6 591.7 541.4 592.1 541.1 592.5 540.5 592.7 540.0 592.9 539.2 592.9 538.8 593.1 538.0 593.2 537.2 593.3 536.8 593.5 536.0 593.7 535.5 594.0 534.8 594.2 534.4 594.5 533.9 594.9 533.3 595.3 532.8 595.7 532.4 596.1 532.0 596.5 531.7 596.9 531.4 597.3 531.1 597.8 530.8 598.5 530.4 598.9 530.3 599.6 530.0 600.1 529.9 600.9 529.7 601.4 529.6 602.1 529.5 602.9 529.5 603.7 529.6 604.1 529.6 604.9 529.8 605.5 530.0 606.1 530.2 606.5 530.4 607.1 530.8 607.7 531.2 608.1 531.6 608.5 532.0 608.8 532.4 609.0 532.8 609.3 533.4 609.5 534.0 609.7 534.8 609.7 535.2 609.7 536.0 609.7 536.4 609.5 537.2 609.3 537.9 609.1 538.4 608.9 538.8 608.5 539.4 608.1 540.0 607.7 540.4 607.3 540.8 606.9 541.2 606.5 541.5 606.1 541.8 605.7 542.0 605.0 542.4 604.5 542.7 604.1 542.8 603.3 543.1 602.9 543.2 602.1 543.4 601.3 543.5 600.5 543.6 600.1 543.6 599.3 543.6 598.5 543.6 598.1 543.6 597.3 543.6 596.5 543.6 596.0 543.6 595.3 543.7 594.6 544.0 594.1 544.4 593.7 544.8 593.3 545.2 592.9 545.6 592.5 546.0 592.1 546.3 591.7 546.5 590.9 546.8 590.5 546.8Z" fill="none" stroke="#404040" stroke-width="0.6"/>
<path d="M601.3 542.5 600.5 542.5 599.7 542.5 598.9 542.4 598.5 542.4 597.7 542.2 597.1 542.0 596.5 541.8 596.1 541.5 595.6 541.2 595.3 540.8 594.9 540.2 594.7 539.6 594.5 538.8 594.5 538.2 594.5 537.8 594.5 537.2 594.7 536.4 594.9 535.7 595.1 535.2 595.3 534.7 595.7 534.1 596.1 533.6 596.4 533.2 596.8 532.8 597.3 532.4 597.7 532.1 598.1 531.8 598.5 531.6 599.3 531.2 599.7 531.1 600.5 530.8 600.9 530.7 601.7 530.6 602.5 530.6 603.3 530.6 604.1 530.7 604.5 530.8 605.3 531.1 605.7 531.3 606.2 531.6 606.7 532.0 607.2 532.4 607.5 532.8 607.8 533.2 608.1 533.8 608.3 534.4 608.5 535.2 608.5 535.6 608.5 536.0 608.4 536.8 608.2 537.6 608.0 538.0 607.7 538.6 607.3 539.2 607.0 539.6 606.6 540.0 606.2 540.4 605.7 540.8 605.3 541.1 604.9 541.3 604.3 541.6 603.7 541.9 603.3 542.0 602.5 542.2 601.7 542.4 601.3 542.5Z" fill="none" stroke="#383838" stroke-width="0.6"/>
<path d="M602.5 541.2 601.7 541.4 600.9 541.4 600.1 541.4 599.3 541.3 598.8 541.2 598.1 541.0 597.7 540.8 597.2 540.4 596.7 540.0 596.4 539.6 596.1 539.0 595.9 538.4 595.8 537.6 595.8 536.8 596.0 536.0 596.1 535.6 596.5 534.8 596.8 534.4 597.1 534.0 597.5 533.6 597.9 533.2 598.4 532.8 598.9 532.5 599.3 532.3 600.0 532.0 600.5 531.8 601.3 531.7 602.0 531.6 602.5 531.6 602.9 531.6 603.7 531.7 604.5 532.0 604.9 532.2 605.3 532.4 605.9 532.8 606.3 533.2 606.6 533.6 606.9 534.1 607.2 534.8 607.3 535.5 607.3 536.0 607.3 536.4 607.1 537.2 606.9 537.7 606.5 538.4 606.3 538.8 605.9 539.2 605.5 539.6 605.0 540.0 604.5 540.4 604.1 540.6 603.7 540.8 602.9 541.1 602.5 541.2Z" fill="none" stroke="#333" stroke-width="0.6"/>
<path d="M602.5 540.1 601.7 540.3 600.9 540.4 600.1 540.3 599.3 540.1 598.9 539.9 598.4 539.6 597.9 539.2 597.6 538.8 597.3 538.2 597.1 537.6 597.1 536.8 597.3 536.0 597.4 535.6 597.7 535.1 598.1 534.5 598.5 534.1 598.9 533.8 599.3 533.5 599.9 533.2 600.5 532.9 601.0 532.8 601.7 532.7 602.5 532.7 603.3 532.8 603.7 532.9 604.3 533.2 604.9 533.6 605.3 534.0 605.6 534.4 605.8 534.8 606.0 535.6 606.0 536.4 605.8 537.2 605.7 537.6 605.3 538.2 604.9 538.7 604.5 539.1 604.1 539.4 603.7 539.6 602.9 540.0 602.5 540.1Z" fill="none" stroke="#444" stroke-width="0.6"/>
<path d="M602.5 538.8 601.7 539.0 600.9 539.0 600.1 538.9 599.7 538.7 599.3 538.4 598.9 537.9 598.6 537.2 598.7 536.4 598.9 535.8 599.3 535.2 599.7 534.8 600.1 534.5 600.5 534.3 601.3 534.0 601.7 534.0 602.5 534.0 602.9 534.1 603.6 534.4 604.0 534.8 604.3 535.2 604.5 535.7 604.5 536.4 604.5 536.8 604.1 537.6 603.7 538.0 603.3 538.4 602.9 538.6 602.5 538.8Z" fill="none" stroke="#888" stroke-width="0.6"/>
</g>
<polygon points="570.5,539.9 582.9,525.3 597.5,519 611,516.3 618.9,519.6 618.4,537.6 605.4,554.5 597.5,565.3 598.2,545.5 595.3,540.6" fill="none" stroke="#5a5a5a" stroke-width="0.7" stroke-linejoin="round"/>
<text x="558.8" y="519" font-size="13.3" text-anchor="start" fill="#000">74.5</text>
<rect x="539.7" y="652.6" width="81.9" height="81.5" fill="none" stroke="#8c8c8c" stroke-width="0.9"/>
<line x1="539.3" y1="734.1" x2="622" y2="734.1" stroke="#333" stroke-width="1"/>
<path d="M538.1 660.07h2.2 M538.1 678.81h2.2 M538.1 697h2.2 M538.1 716.47h2.2 M538.1 725.68h2.2 M539.1 673.19h1.2 M539.1 669.82h1.2 M539.1 667.57h1.2 M539.1 665.69h1.2 M539.1 664.38h1.2 M539.1 663.25h1.2 M539.1 662.32h1.2 M539.1 661.57h1.2 M539.1 660.82h1.2 M539.1 691.55h1.2 M539.1 688.27h1.2 M539.1 686.09h1.2 M539.1 684.27h1.2 M539.1 683h1.2 M539.1 681.91h1.2 M539.1 681h1.2 M539.1 680.27h1.2 M539.1 679.54h1.2 M539.1 710.63h1.2 M539.1 707.12h1.2 M539.1 704.79h1.2 M539.1 702.84h1.2 M539.1 701.48h1.2 M539.1 700.31h1.2 M539.1 699.34h1.2 M539.1 698.56h1.2 M539.1 697.78h1.2 M556.08 733.5v2.2 M576.28 733.5v2.2 M594.88 733.5v2.2 M613.65 733.5v2.2 M548.05 733.5v2.2 M562.14 733.5v1.2 M565.77 733.5v1.2 M568.2 733.5v1.2 M570.22 733.5v1.2 M571.63 733.5v1.2 M572.84 733.5v1.2 M573.85 733.5v1.2 M574.66 733.5v1.2 M575.47 733.5v1.2 M581.86 733.5v1.2 M585.21 733.5v1.2 M587.44 733.5v1.2 M589.3 733.5v1.2 M590.6 733.5v1.2 M591.72 733.5v1.2 M592.65 733.5v1.2 M593.39 733.5v1.2 M594.14 733.5v1.2 M600.51 733.5v1.2 M603.89 733.5v1.2 M606.14 733.5v1.2 M608.02 733.5v1.2 M609.33 733.5v1.2 M610.46 733.5v1.2 M611.4 733.5v1.2 M612.15 733.5v1.2 M612.9 733.5v1.2" stroke="#333" stroke-width="0.7" fill="none"/>
<text x="556.08" y="742.12" font-size="3.6" text-anchor="middle" fill="#333">10<tspan dy="-1.4" font-size="2.52">2</tspan></text>
<text x="576.28" y="742.12" font-size="3.6" text-anchor="middle" fill="#333">10<tspan dy="-1.4" font-size="2.52">3</tspan></text>
<text x="594.88" y="742.12" font-size="3.6" text-anchor="middle" fill="#333">10<tspan dy="-1.4" font-size="2.52">4</tspan></text>
<text x="613.65" y="742.12" font-size="3.6" text-anchor="middle" fill="#333">10<tspan dy="-1.4" font-size="2.52">5</tspan></text>
<text x="548.05" y="742.12" font-size="3.6" text-anchor="middle" fill="#333">0</text>
<clipPath id="c689"><rect x="540.2" y="653.1" width="80.9" height="80.5"/></clipPath><g clip-path="url(#c689)">
<path d="M596.9 710.6 596.1 710.8 595.3 710.9 594.5 710.8 593.7 710.8 592.9 710.7 592.5 710.6 591.7 710.4 591.2 710.2 590.5 709.9 590.1 709.8 589.3 709.4 588.9 709.2 588.5 709.0 587.8 708.6 587.3 708.3 586.9 708.1 586.3 707.8 585.7 707.5 585.3 707.2 584.9 707.0 584.2 706.6 583.7 706.3 583.3 706.1 582.8 705.8 582.2 705.4 581.7 705.0 581.3 704.7 580.9 704.3 580.5 703.9 580.1 703.4 579.8 703.0 579.5 702.6 579.3 702.2 578.9 701.5 578.7 701.0 578.5 700.4 578.3 699.8 578.2 699.0 578.1 698.2 578.1 697.8 578.1 697.2 578.1 696.6 578.2 695.8 578.4 695.0 578.5 694.6 578.8 693.8 578.9 693.4 579.3 692.6 579.5 692.2 579.7 691.8 580.1 691.2 580.5 690.6 580.8 690.2 581.2 689.8 581.6 689.4 582.0 689.0 582.5 688.6 582.9 688.3 583.3 688.1 583.8 687.8 584.5 687.5 584.9 687.3 585.7 687.1 586.2 687.0 586.9 686.9 587.7 686.8 588.5 686.9 589.3 686.9 589.7 687.0 590.5 687.2 591.3 687.4 591.7 687.5 592.4 687.8 592.9 688.0 593.3 688.2 594.0 688.6 594.5 688.9 594.9 689.2 595.3 689.5 595.8 689.8 596.3 690.2 596.7 690.6 597.2 691.0 597.6 691.4 598.0 691.8 598.4 692.2 598.7 692.6 599.0 693.0 599.3 693.4 599.7 693.9 600.1 694.5 600.4 695.0 600.7 695.4 600.9 695.8 601.3 696.6 601.5 697.0 601.7 697.5 602.0 698.2 602.1 698.7 602.3 699.4 602.5 700.2 602.6 700.6 602.7 701.4 602.7 702.2 602.7 703.0 602.7 703.8 602.5 704.6 602.5 705.0 602.2 705.8 602.1 706.2 601.7 707.0 601.5 707.4 601.2 707.8 600.9 708.2 600.5 708.6 600.1 709.0 599.6 709.4 599.0 709.8 598.5 710.1 598.1 710.3 597.3 710.5 596.9 710.6Z" fill="none" stroke="#555" stroke-width="0.6"/>
<path d="M594.9 707.8 594.1 707.9 593.3 707.9 592.8 707.8 592.1 707.7 591.3 707.5 590.9 707.3 590.1 707.1 589.7 706.9 588.9 706.6 588.5 706.5 587.8 706.2 587.3 706.0 586.7 705.8 586.1 705.6 585.7 705.4 584.9 705.1 584.5 704.9 583.9 704.6 583.3 704.3 582.9 704.0 582.5 703.7 582.1 703.4 581.7 703.0 581.3 702.6 580.9 702.1 580.5 701.4 580.3 701.0 580.1 700.6 579.8 699.8 579.7 699.3 579.6 698.6 579.5 697.8 579.6 697.0 579.7 696.2 579.8 695.8 580.0 695.0 580.2 694.6 580.5 693.8 580.7 693.4 581.0 693.0 581.3 692.5 581.7 692.0 582.1 691.6 582.5 691.2 582.9 690.9 583.3 690.6 583.8 690.2 584.5 689.8 584.9 689.7 585.6 689.4 586.1 689.3 586.9 689.1 587.7 689.1 588.5 689.1 589.3 689.1 590.1 689.3 590.5 689.4 591.3 689.7 591.7 689.9 592.4 690.2 592.9 690.5 593.3 690.7 593.7 691.0 594.3 691.4 594.7 691.8 595.2 692.2 595.6 692.6 596.0 693.0 596.4 693.4 596.7 693.8 597.0 694.2 597.3 694.6 597.7 695.1 598.1 695.8 598.4 696.2 598.6 696.6 598.9 697.3 599.1 697.8 599.3 698.3 599.5 699.0 599.7 699.7 599.8 700.2 599.9 701.0 599.9 701.8 599.9 702.6 599.7 703.4 599.6 703.8 599.4 704.6 599.2 705.0 598.9 705.4 598.5 706.0 598.1 706.4 597.7 706.7 597.3 707.0 596.6 707.4 596.1 707.6 595.3 707.8 594.9 707.8Z" fill="none" stroke="#505050" stroke-width="0.6"/>
<path d="M593.3 705.4 592.5 705.4 592.1 705.4 591.3 705.3 590.5 705.1 589.8 705.0 589.3 704.9 588.5 704.8 587.7 704.6 587.3 704.5 586.5 704.3 586.1 704.2 585.3 703.9 584.9 703.8 584.1 703.4 583.7 703.2 583.3 702.9 582.9 702.6 582.4 702.2 582.1 701.8 581.7 701.3 581.3 700.6 581.1 700.2 580.9 699.7 580.7 699.0 580.6 698.2 580.6 697.4 580.7 696.6 580.9 695.8 581.0 695.4 581.3 694.7 581.6 694.2 581.8 693.8 582.1 693.4 582.5 692.9 582.9 692.5 583.3 692.2 583.8 691.8 584.4 691.4 584.9 691.1 585.3 691.0 586.1 690.7 586.6 690.6 587.3 690.5 588.1 690.5 588.9 690.6 589.3 690.6 590.1 690.8 590.6 691.0 591.3 691.3 591.7 691.5 592.1 691.8 592.7 692.2 593.2 692.6 593.6 693.0 594.0 693.4 594.4 693.8 594.8 694.2 595.1 694.6 595.4 695.0 595.7 695.5 596.1 696.2 596.3 696.6 596.5 697.0 596.9 697.8 597.0 698.2 597.3 699.0 597.4 699.4 597.5 700.2 597.5 701.0 597.4 701.8 597.3 702.4 597.1 703.0 596.9 703.4 596.5 703.9 596.1 704.3 595.7 704.7 595.1 705.0 594.5 705.2 593.7 705.4 593.3 705.4Z" fill="none" stroke="#4a4a4a" stroke-width="0.6"/>
<path d="M590.1 703.4 589.3 703.4 588.5 703.4 588.0 703.4 587.3 703.3 586.5 703.2 585.7 703.0 585.3 702.9 584.7 702.6 584.1 702.3 583.7 702.0 583.3 701.7 582.9 701.3 582.5 700.8 582.1 700.2 581.9 699.8 581.7 699.0 581.6 698.6 581.5 697.8 581.6 697.0 581.7 696.4 581.9 695.8 582.1 695.3 582.5 694.6 582.7 694.2 583.0 693.8 583.4 693.4 583.9 693.0 584.4 692.6 584.9 692.3 585.3 692.1 586.1 691.9 586.5 691.8 587.3 691.6 588.1 691.6 588.9 691.8 589.3 691.8 590.1 692.1 590.5 692.3 591.0 692.6 591.6 693.0 592.1 693.4 592.5 693.8 592.9 694.2 593.2 694.6 593.5 695.0 593.8 695.4 594.1 696.0 594.4 696.6 594.5 697.0 594.8 697.8 594.9 698.2 595.1 699.0 595.1 699.8 595.0 700.6 594.9 701.0 594.5 701.7 594.1 702.2 593.7 702.5 593.3 702.8 592.7 703.0 592.1 703.2 591.3 703.3 590.5 703.4 590.1 703.4Z" fill="none" stroke="#404040" stroke-width="0.6"/>
<path d="M589.3 702.2 588.5 702.3 587.7 702.4 586.9 702.3 586.2 702.2 585.7 702.1 585.0 701.8 584.5 701.5 584.1 701.2 583.7 700.9 583.3 700.4 582.9 699.8 582.7 699.4 582.5 698.8 582.4 698.2 582.4 697.4 582.5 696.6 582.6 696.2 582.9 695.5 583.2 695.0 583.5 694.6 583.8 694.2 584.2 693.8 584.8 693.4 585.3 693.1 585.7 692.9 586.5 692.7 587.2 692.6 587.7 692.6 588.1 692.6 588.9 692.8 589.6 693.0 590.1 693.3 590.5 693.5 590.9 693.8 591.3 694.2 591.7 694.6 592.1 695.1 592.5 695.8 592.7 696.2 592.9 696.8 593.1 697.4 593.2 698.2 593.1 699.0 592.9 699.8 592.7 700.2 592.5 700.6 592.1 701.0 591.6 701.4 590.9 701.8 590.5 701.9 589.7 702.2 589.3 702.2Z" fill="none" stroke="#383838" stroke-width="0.6"/>
<path d="M588.1 701.4 587.3 701.5 586.6 701.4 586.1 701.3 585.3 701.0 584.9 700.8 584.5 700.5 584.1 700.1 583.7 699.6 583.4 699.0 583.3 698.6 583.2 697.8 583.2 697.0 583.3 696.6 583.6 695.8 583.9 695.4 584.2 695.0 584.6 694.6 585.1 694.2 585.7 693.8 586.1 693.7 586.9 693.5 587.7 693.5 588.5 693.6 589.1 693.8 589.7 694.1 590.1 694.4 590.5 694.8 590.9 695.3 591.3 695.8 591.4 696.2 591.7 697.0 591.8 697.4 591.8 698.2 591.7 698.6 591.4 699.4 591.1 699.8 590.8 700.2 590.3 700.6 589.7 700.9 589.3 701.1 588.5 701.3 588.1 701.4Z" fill="none" stroke="#333" stroke-width="0.6"/>
<path d="M588.5 700.3 587.7 700.5 586.9 700.5 586.1 700.4 585.6 700.2 585.0 699.8 584.6 699.4 584.4 699.0 584.1 698.4 584.0 697.8 584.1 697.0 584.2 696.6 584.5 695.9 584.9 695.4 585.3 695.1 585.7 694.8 586.1 694.6 586.9 694.4 587.7 694.4 588.5 694.6 588.9 694.8 589.3 695.0 589.7 695.4 590.1 695.9 590.4 696.6 590.5 697.0 590.6 697.8 590.5 698.2 590.2 699.0 589.9 699.4 589.4 699.8 588.9 700.1 588.5 700.3Z" fill="none" stroke="#444" stroke-width="0.6"/>
<path d="M587.7 699.4 586.9 699.5 586.4 699.4 585.7 699.0 585.3 698.6 585.1 698.2 585.0 697.4 585.3 696.6 585.5 696.2 586.0 695.8 586.5 695.6 587.3 695.4 588.1 695.6 588.5 695.8 588.9 696.2 589.3 697.0 589.3 697.4 589.3 697.8 588.9 698.6 588.5 699.0 588.1 699.3 587.7 699.4Z" fill="none" stroke="#888" stroke-width="0.6"/>
</g>
<polygon points="572.8,686.4 582.9,674 593,667.3 612.2,662.3 620.7,665 620.7,685.3 599.8,711.1 599.8,697.6 597.5,687.5" fill="none" stroke="#5a5a5a" stroke-width="0.7" stroke-linejoin="round"/>
<text x="556.6" y="675.6" font-size="13.3" text-anchor="start" fill="#000">3.96</text>
<text x="272.8" y="540.4" font-size="10.3" text-anchor="middle" fill="#000" transform="rotate(-90 272.8 540.4)">CD86</text>
<text x="288.8" y="603.8" font-size="10.3" text-anchor="start" fill="#000">MHCII</text>
<line x1="325.3" y1="599.6" x2="614.5" y2="599.6" stroke="#000" stroke-width="1.5"/>
<polygon points="613.5,595.8 621.5,599.6 613.5,603.4" fill="#000"/>
<line x1="664.3" y1="465.8" x2="664.3" y2="577.3" stroke="#000" stroke-width="1.7"/>
<line x1="660.3" y1="576.3" x2="664.3" y2="576.3" stroke="#000" stroke-width="1.3"/>
<text x="659.7" y="579.66" font-size="9.6" text-anchor="end" fill="#222">0</text>
<line x1="660.3" y1="548.92" x2="664.3" y2="548.92" stroke="#000" stroke-width="1.3"/>
<text x="659.7" y="552.28" font-size="9.6" text-anchor="end" fill="#222">20</text>
<line x1="660.3" y1="521.55" x2="664.3" y2="521.55" stroke="#000" stroke-width="1.3"/>
<text x="659.7" y="524.91" font-size="9.6" text-anchor="end" fill="#222">40</text>
<line x1="660.3" y1="494.18" x2="664.3" y2="494.18" stroke="#000" stroke-width="1.3"/>
<text x="659.7" y="497.54" font-size="9.6" text-anchor="end" fill="#222">60</text>
<line x1="660.3" y1="466.8" x2="664.3" y2="466.8" stroke="#000" stroke-width="1.3"/>
<text x="659.7" y="470.16" font-size="9.6" text-anchor="end" fill="#222">80</text>
<line x1="663.3" y1="576.3" x2="773.7" y2="576.3" stroke="#000" stroke-width="1.7"/>
<line x1="675.1" y1="576.3" x2="675.1" y2="581" stroke="#000" stroke-width="1.5"/>
<text x="675.1" y="591.5" font-size="11" text-anchor="middle" fill="#000">D0</text>
<line x1="697.2" y1="576.3" x2="697.2" y2="581" stroke="#000" stroke-width="1.5"/>
<text x="697.2" y="591.5" font-size="11" text-anchor="middle" fill="#000">D1</text>
<line x1="719" y1="576.3" x2="719" y2="581" stroke="#000" stroke-width="1.5"/>
<text x="719" y="591.5" font-size="11" text-anchor="middle" fill="#000">D3</text>
<line x1="741.1" y1="576.3" x2="741.1" y2="581" stroke="#000" stroke-width="1.5"/>
<text x="741.1" y="591.5" font-size="11" text-anchor="middle" fill="#000">D6</text>
<line x1="762.4" y1="576.3" x2="762.4" y2="581" stroke="#000" stroke-width="1.5"/>
<text x="762.4" y="591.5" font-size="11" text-anchor="middle" fill="#000">D9</text>
<text x="716.8" y="610.3" font-size="13.6" text-anchor="middle" fill="#000">Days after DC transfer</text>
<text x="641.7" y="517.4" font-size="14" text-anchor="middle" fill="#000" transform="rotate(-90 641.7 517.4)">Mature tDCs (%)</text>
<line x1="697.2" y1="561.93" x2="697.2" y2="552.35" stroke="#000" stroke-width="1.2"/>
<line x1="694.7" y1="552.35" x2="699.7" y2="552.35" stroke="#000" stroke-width="1.2"/>
<line x1="694.7" y1="561.93" x2="699.7" y2="561.93" stroke="#000" stroke-width="1.2"/>
<line x1="719" y1="535.92" x2="719" y2="511.97" stroke="#000" stroke-width="1.2"/>
<line x1="716.5" y1="511.97" x2="721.5" y2="511.97" stroke="#000" stroke-width="1.2"/>
<line x1="716.5" y1="535.92" x2="721.5" y2="535.92" stroke="#000" stroke-width="1.2"/>
<line x1="762.4" y1="481.86" x2="762.4" y2="474.33" stroke="#000" stroke-width="1.2"/>
<line x1="759.9" y1="474.33" x2="764.9" y2="474.33" stroke="#000" stroke-width="1.2"/>
<line x1="759.9" y1="481.86" x2="764.9" y2="481.86" stroke="#000" stroke-width="1.2"/>
<polyline points="675.1,570.82 697.2,557.14 719,524.29 741.1,502.39 762.4,478.43" fill="none" stroke="#000" stroke-width="1.8"/>
<circle cx="675.1" cy="570.82" r="2.5" fill="#000"/>
<circle cx="697.2" cy="557.14" r="2.5" fill="#000"/>
<circle cx="719" cy="524.29" r="2.5" fill="#000"/>
<circle cx="741.1" cy="502.39" r="2.5" fill="#000"/>
<circle cx="762.4" cy="478.43" r="2.5" fill="#000"/>
<text x="151.2" y="633.7" font-size="19.5" text-anchor="start" fill="#000">G</text>
<rect x="168.6" y="652.4" width="81.4" height="82" fill="none" stroke="#8c8c8c" stroke-width="0.9"/>
<line x1="168.2" y1="734.4" x2="250.4" y2="734.4" stroke="#333" stroke-width="1"/>
<path d="M167 659.91h2.2 M167 678.77h2.2 M167 697.08h2.2 M167 716.66h2.2 M167 725.93h2.2 M168 673.12h1.2 M168 669.72h1.2 M168 667.46h1.2 M168 665.57h1.2 M168 664.25h1.2 M168 663.12h1.2 M168 662.18h1.2 M168 661.42h1.2 M168 660.67h1.2 M168 691.59h1.2 M168 688.29h1.2 M168 686.1h1.2 M168 684.26h1.2 M168 682.98h1.2 M168 681.89h1.2 M168 680.97h1.2 M168 680.24h1.2 M168 679.51h1.2 M168 710.78h1.2 M168 707.26h1.2 M168 704.91h1.2 M168 702.95h1.2 M168 701.58h1.2 M168 700.41h1.2 M168 699.43h1.2 M168 698.64h1.2 M168 697.86h1.2 M184.88 733.8v2.2 M204.95 733.8v2.2 M223.45 733.8v2.2 M242.1 733.8v2.2 M176.9 733.8v2.2 M190.9 733.8v1.2 M194.52 733.8v1.2 M196.92 733.8v1.2 M198.93 733.8v1.2 M200.34 733.8v1.2 M201.54 733.8v1.2 M202.54 733.8v1.2 M203.35 733.8v1.2 M204.15 733.8v1.2 M210.5 733.8v1.2 M213.83 733.8v1.2 M216.05 733.8v1.2 M217.9 733.8v1.2 M219.19 733.8v1.2 M220.3 733.8v1.2 M221.23 733.8v1.2 M221.97 733.8v1.2 M222.71 733.8v1.2 M229.04 733.8v1.2 M232.4 733.8v1.2 M234.64 733.8v1.2 M236.5 733.8v1.2 M237.81 733.8v1.2 M238.93 733.8v1.2 M239.86 733.8v1.2 M240.61 733.8v1.2 M241.35 733.8v1.2" stroke="#333" stroke-width="0.7" fill="none"/>
<text x="164.6" y="661.41" font-size="3.6" text-anchor="end" fill="#444">10<tspan dy="-1.4" font-size="2.52">5</tspan></text>
<text x="164.6" y="680.27" font-size="3.6" text-anchor="end" fill="#444">10<tspan dy="-1.4" font-size="2.52">4</tspan></text>
<text x="164.6" y="698.58" font-size="3.6" text-anchor="end" fill="#444">10<tspan dy="-1.4" font-size="2.52">3</tspan></text>
<text x="164.6" y="718.16" font-size="3.6" text-anchor="end" fill="#444">10<tspan dy="-1.4" font-size="2.52">2</tspan></text>
<text x="164.6" y="727.43" font-size="3.6" text-anchor="end" fill="#444">0</text>
<text x="184.88" y="742.46" font-size="3.6" text-anchor="middle" fill="#333">10<tspan dy="-1.4" font-size="2.52">2</tspan></text>
<text x="204.95" y="742.46" font-size="3.6" text-anchor="middle" fill="#333">10<tspan dy="-1.4" font-size="2.52">3</tspan></text>
<text x="223.45" y="742.46" font-size="3.6" text-anchor="middle" fill="#333">10<tspan dy="-1.4" font-size="2.52">4</tspan></text>
<text x="242.1" y="742.46" font-size="3.6" text-anchor="middle" fill="#333">10<tspan dy="-1.4" font-size="2.52">5</tspan></text>
<text x="176.9" y="742.46" font-size="3.6" text-anchor="middle" fill="#333">0</text>
<clipPath id="cG"><rect x="169.1" y="652.9" width="80.4" height="81"/></clipPath><g clip-path="url(#cG)">
<path d="M168.6 666.7 168.9 666.0 169.2 665.6 169.4 665.2 169.8 664.8 170.6 664.4 171.4 664.7 171.8 665.1 172.2 665.4 172.6 665.7 173.4 665.9 174.2 665.9 175.0 665.8 175.8 665.8 176.6 665.7 177.4 665.7 178.2 665.7 179.0 665.7 179.8 665.8 180.6 665.8 181.4 665.8 182.2 665.7 183.0 665.7 183.8 665.6 184.3 665.6 185.0 665.5 185.8 665.5 186.6 665.4 187.4 665.4 188.2 665.4 189.0 665.4 189.8 665.4 190.6 665.4 191.4 665.4 192.2 665.4 193.0 665.4 193.8 665.4 194.6 665.3 195.3 665.2 195.8 665.1 196.6 665.0 197.4 664.9 197.8 664.8 198.6 664.7 199.4 664.6 200.2 664.6 201.0 664.6 201.8 664.6 202.6 664.7 203.2 664.8 203.8 664.9 204.6 665.2 205.0 665.3 205.7 665.6 206.2 665.8 206.6 666.1 207.1 666.4 207.6 666.8 208.0 667.2 208.3 667.6 208.6 668.0 209.0 668.7 209.2 669.2 209.4 670.0 209.4 670.4 209.4 671.0 209.3 671.6 209.1 672.4 208.9 672.8 208.6 673.4 208.2 674.0 207.9 674.4 207.5 674.8 207.1 675.2 206.6 675.6 206.2 675.9 205.8 676.2 205.4 676.4 204.6 676.8 204.2 677.0 203.7 677.2 203.0 677.4 202.5 677.6 201.8 677.8 201.0 677.9 200.6 678.0 199.8 678.1 199.0 678.2 198.2 678.3 197.4 678.3 196.6 678.3 195.8 678.3 195.0 678.3 194.2 678.4 193.4 678.4 193.0 678.4 192.2 678.5 191.4 678.5 190.6 678.6 189.8 678.6 189.0 678.7 188.2 678.7 187.4 678.7 186.6 678.6 185.8 678.6 185.0 678.6 184.2 678.6 183.4 678.5 182.6 678.5 181.8 678.6 181.0 678.6 180.2 678.7 179.4 678.7 178.6 678.8 178.0 678.8 177.4 678.8 176.6 678.8 175.8 678.8 175.4 678.8 174.6 678.7 173.8 678.6 173.0 678.5 172.2 678.6 171.4 678.8 170.6 678.8 169.8 678.4 169.4 678.1 169.0 677.7 168.6 677.2Z" fill="none" stroke="url(#p3)" stroke-width="10"/>
<path d="M168.6 666.7 168.9 666.0 169.2 665.6 169.4 665.2 169.8 664.8 170.6 664.4 171.4 664.7 171.8 665.1 172.2 665.4 172.6 665.7 173.4 665.9 174.2 665.9 175.0 665.8 175.8 665.8 176.6 665.7 177.4 665.7 178.2 665.7 179.0 665.7 179.8 665.8 180.6 665.8 181.4 665.8 182.2 665.7 183.0 665.7 183.8 665.6 184.3 665.6 185.0 665.5 185.8 665.5 186.6 665.4 187.4 665.4 188.2 665.4 189.0 665.4 189.8 665.4 190.6 665.4 191.4 665.4 192.2 665.4 193.0 665.4 193.8 665.4 194.6 665.3 195.3 665.2 195.8 665.1 196.6 665.0 197.4 664.9 197.8 664.8 198.6 664.7 199.4 664.6 200.2 664.6 201.0 664.6 201.8 664.6 202.6 664.7 203.2 664.8 203.8 664.9 204.6 665.2 205.0 665.3 205.7 665.6 206.2 665.8 206.6 666.1 207.1 666.4 207.6 666.8 208.0 667.2 208.3 667.6 208.6 668.0 209.0 668.7 209.2 669.2 209.4 670.0 209.4 670.4 209.4 671.0 209.3 671.6 209.1 672.4 208.9 672.8 208.6 673.4 208.2 674.0 207.9 674.4 207.5 674.8 207.1 675.2 206.6 675.6 206.2 675.9 205.8 676.2 205.4 676.4 204.6 676.8 204.2 677.0 203.7 677.2 203.0 677.4 202.5 677.6 201.8 677.8 201.0 677.9 200.6 678.0 199.8 678.1 199.0 678.2 198.2 678.3 197.4 678.3 196.6 678.3 195.8 678.3 195.0 678.3 194.2 678.4 193.4 678.4 193.0 678.4 192.2 678.5 191.4 678.5 190.6 678.6 189.8 678.6 189.0 678.7 188.2 678.7 187.4 678.7 186.6 678.6 185.8 678.6 185.0 678.6 184.2 678.6 183.4 678.5 182.6 678.5 181.8 678.6 181.0 678.6 180.2 678.7 179.4 678.7 178.6 678.8 178.0 678.8 177.4 678.8 176.6 678.8 175.8 678.8 175.4 678.8 174.6 678.7 173.8 678.6 173.0 678.5 172.2 678.6 171.4 678.8 170.6 678.8 169.8 678.4 169.4 678.1 169.0 677.7 168.6 677.2Z" fill="none" stroke="url(#p2)" stroke-width="7"/>
<path d="M168.6 666.7 168.9 666.0 169.2 665.6 169.4 665.2 169.8 664.8 170.6 664.4 171.4 664.7 171.8 665.1 172.2 665.4 172.6 665.7 173.4 665.9 174.2 665.9 175.0 665.8 175.8 665.8 176.6 665.7 177.4 665.7 178.2 665.7 179.0 665.7 179.8 665.8 180.6 665.8 181.4 665.8 182.2 665.7 183.0 665.7 183.8 665.6 184.3 665.6 185.0 665.5 185.8 665.5 186.6 665.4 187.4 665.4 188.2 665.4 189.0 665.4 189.8 665.4 190.6 665.4 191.4 665.4 192.2 665.4 193.0 665.4 193.8 665.4 194.6 665.3 195.3 665.2 195.8 665.1 196.6 665.0 197.4 664.9 197.8 664.8 198.6 664.7 199.4 664.6 200.2 664.6 201.0 664.6 201.8 664.6 202.6 664.7 203.2 664.8 203.8 664.9 204.6 665.2 205.0 665.3 205.7 665.6 206.2 665.8 206.6 666.1 207.1 666.4 207.6 666.8 208.0 667.2 208.3 667.6 208.6 668.0 209.0 668.7 209.2 669.2 209.4 670.0 209.4 670.4 209.4 671.0 209.3 671.6 209.1 672.4 208.9 672.8 208.6 673.4 208.2 674.0 207.9 674.4 207.5 674.8 207.1 675.2 206.6 675.6 206.2 675.9 205.8 676.2 205.4 676.4 204.6 676.8 204.2 677.0 203.7 677.2 203.0 677.4 202.5 677.6 201.8 677.8 201.0 677.9 200.6 678.0 199.8 678.1 199.0 678.2 198.2 678.3 197.4 678.3 196.6 678.3 195.8 678.3 195.0 678.3 194.2 678.4 193.4 678.4 193.0 678.4 192.2 678.5 191.4 678.5 190.6 678.6 189.8 678.6 189.0 678.7 188.2 678.7 187.4 678.7 186.6 678.6 185.8 678.6 185.0 678.6 184.2 678.6 183.4 678.5 182.6 678.5 181.8 678.6 181.0 678.6 180.2 678.7 179.4 678.7 178.6 678.8 178.0 678.8 177.4 678.8 176.6 678.8 175.8 678.8 175.4 678.8 174.6 678.7 173.8 678.6 173.0 678.5 172.2 678.6 171.4 678.8 170.6 678.8 169.8 678.4 169.4 678.1 169.0 677.7 168.6 677.2Z" fill="none" stroke="url(#p1)" stroke-width="4.5"/>
<path d="M168.6 666.7 168.9 666.0 169.2 665.6 169.4 665.2 169.8 664.8 170.6 664.4 171.4 664.7 171.8 665.1 172.2 665.4 172.6 665.7 173.4 665.9 174.2 665.9 175.0 665.8 175.8 665.8 176.6 665.7 177.4 665.7 178.2 665.7 179.0 665.7 179.8 665.8 180.6 665.8 181.4 665.8 182.2 665.7 183.0 665.7 183.8 665.6 184.3 665.6 185.0 665.5 185.8 665.5 186.6 665.4 187.4 665.4 188.2 665.4 189.0 665.4 189.8 665.4 190.6 665.4 191.4 665.4 192.2 665.4 193.0 665.4 193.8 665.4 194.6 665.3 195.3 665.2 195.8 665.1 196.6 665.0 197.4 664.9 197.8 664.8 198.6 664.7 199.4 664.6 200.2 664.6 201.0 664.6 201.8 664.6 202.6 664.7 203.2 664.8 203.8 664.9 204.6 665.2 205.0 665.3 205.7 665.6 206.2 665.8 206.6 666.1 207.1 666.4 207.6 666.8 208.0 667.2 208.3 667.6 208.6 668.0 209.0 668.7 209.2 669.2 209.4 670.0 209.4 670.4 209.4 671.0 209.3 671.6 209.1 672.4 208.9 672.8 208.6 673.4 208.2 674.0 207.9 674.4 207.5 674.8 207.1 675.2 206.6 675.6 206.2 675.9 205.8 676.2 205.4 676.4 204.6 676.8 204.2 677.0 203.7 677.2 203.0 677.4 202.5 677.6 201.8 677.8 201.0 677.9 200.6 678.0 199.8 678.1 199.0 678.2 198.2 678.3 197.4 678.3 196.6 678.3 195.8 678.3 195.0 678.3 194.2 678.4 193.4 678.4 193.0 678.4 192.2 678.5 191.4 678.5 190.6 678.6 189.8 678.6 189.0 678.7 188.2 678.7 187.4 678.7 186.6 678.6 185.8 678.6 185.0 678.6 184.2 678.6 183.4 678.5 182.6 678.5 181.8 678.6 181.0 678.6 180.2 678.7 179.4 678.7 178.6 678.8 178.0 678.8 177.4 678.8 176.6 678.8 175.8 678.8 175.4 678.8 174.6 678.7 173.8 678.6 173.0 678.5 172.2 678.6 171.4 678.8 170.6 678.8 169.8 678.4 169.4 678.1 169.0 677.7 168.6 677.2Z" fill="#e4e4e4" stroke="#111" stroke-width="3"/>
<path d="M168.6 666.7 168.9 666.0 169.2 665.6 169.4 665.2 169.8 664.8 170.6 664.4 171.4 664.7 171.8 665.1 172.2 665.4 172.6 665.7 173.4 665.9 174.2 665.9 175.0 665.8 175.8 665.8 176.6 665.7 177.4 665.7 178.2 665.7 179.0 665.7 179.8 665.8 180.6 665.8 181.4 665.8 182.2 665.7 183.0 665.7 183.8 665.6 184.3 665.6 185.0 665.5 185.8 665.5 186.6 665.4 187.4 665.4 188.2 665.4 189.0 665.4 189.8 665.4 190.6 665.4 191.4 665.4 192.2 665.4 193.0 665.4 193.8 665.4 194.6 665.3 195.3 665.2 195.8 665.1 196.6 665.0 197.4 664.9 197.8 664.8 198.6 664.7 199.4 664.6 200.2 664.6 201.0 664.6 201.8 664.6 202.6 664.7 203.2 664.8 203.8 664.9 204.6 665.2 205.0 665.3 205.7 665.6 206.2 665.8 206.6 666.1 207.1 666.4 207.6 666.8 208.0 667.2 208.3 667.6 208.6 668.0 209.0 668.7 209.2 669.2 209.4 670.0 209.4 670.4 209.4 671.0 209.3 671.6 209.1 672.4 208.9 672.8 208.6 673.4 208.2 674.0 207.9 674.4 207.5 674.8 207.1 675.2 206.6 675.6 206.2 675.9 205.8 676.2 205.4 676.4 204.6 676.8 204.2 677.0 203.7 677.2 203.0 677.4 202.5 677.6 201.8 677.8 201.0 677.9 200.6 678.0 199.8 678.1 199.0 678.2 198.2 678.3 197.4 678.3 196.6 678.3 195.8 678.3 195.0 678.3 194.2 678.4 193.4 678.4 193.0 678.4 192.2 678.5 191.4 678.5 190.6 678.6 189.8 678.6 189.0 678.7 188.2 678.7 187.4 678.7 186.6 678.6 185.8 678.6 185.0 678.6 184.2 678.6 183.4 678.5 182.6 678.5 181.8 678.6 181.0 678.6 180.2 678.7 179.4 678.7 178.6 678.8 178.0 678.8 177.4 678.8 176.6 678.8 175.8 678.8 175.4 678.8 174.6 678.7 173.8 678.6 173.0 678.5 172.2 678.6 171.4 678.8 170.6 678.8 169.8 678.4 169.4 678.1 169.0 677.7 168.6 677.2Z" fill="url(#p4)"/>
<path d="M168.6 669.0 168.8 668.4 169.0 667.9 169.3 667.2 169.6 666.8 169.9 666.4 170.6 666.0 171.4 666.3 171.8 666.7 172.2 667.0 172.6 667.2 173.4 667.4 174.2 667.3 175.0 667.2 175.4 667.2 176.2 667.1 177.0 667.1 177.8 667.1 178.6 667.1 179.4 667.1 180.2 667.2 181.0 667.2 181.8 667.2 182.6 667.1 183.4 667.1 184.2 667.0 185.0 666.9 185.8 666.8 186.4 666.8 187.0 666.8 187.8 666.7 188.6 666.7 189.4 666.8 190.2 666.8 190.6 666.8 191.4 666.8 192.2 666.9 193.0 666.9 193.8 666.8 194.2 666.8 195.0 666.7 195.8 666.6 196.6 666.4 197.0 666.3 197.8 666.2 198.6 666.1 199.4 666.0 200.0 666.0 200.6 666.0 201.0 666.0 201.8 666.1 202.6 666.2 203.4 666.4 203.8 666.5 204.4 666.8 205.0 667.1 205.4 667.4 205.8 667.7 206.2 668.0 206.6 668.5 207.0 669.1 207.2 669.6 207.4 670.4 207.4 671.2 207.2 672.0 207.0 672.5 206.6 673.2 206.3 673.6 205.9 674.0 205.5 674.4 205.0 674.8 204.6 675.1 204.2 675.3 203.7 675.6 203.0 675.9 202.6 676.1 201.8 676.3 201.4 676.4 200.6 676.6 199.8 676.7 199.0 676.8 198.6 676.8 197.8 676.9 197.0 676.9 196.2 676.9 195.4 676.9 194.6 676.9 193.8 676.9 193.0 677.0 192.2 677.1 191.4 677.1 190.6 677.2 190.2 677.2 189.4 677.3 188.6 677.3 187.8 677.3 187.0 677.3 186.2 677.3 185.4 677.2 184.9 677.2 184.2 677.2 183.4 677.1 182.6 677.1 181.8 677.1 181.0 677.2 180.6 677.2 179.8 677.3 179.0 677.4 178.2 677.4 177.4 677.5 176.6 677.5 175.8 677.4 175.0 677.4 174.2 677.3 173.8 677.2 173.0 677.1 172.2 677.1 171.8 677.2 171.0 677.3 170.3 677.2 169.8 676.9 169.4 676.4 169.1 676.0 168.9 675.6 168.6 675.0Z" fill="none" stroke="#777" stroke-width="0.6"/>
<path d="M178.2 676.4 177.4 676.5 176.6 676.5 175.8 676.4 175.4 676.4 174.6 676.3 173.8 676.1 173.3 676.0 172.6 676.0 172.2 676.0 171.4 676.2 170.6 676.2 170.2 676.0 169.8 675.6 169.4 675.0 169.1 674.4 169.0 674.0 168.8 673.2 168.7 672.4 168.7 671.6 168.8 670.8 168.9 670.0 169.0 669.6 169.3 668.8 169.5 668.4 169.8 667.8 170.2 667.4 171.0 667.3 171.5 667.6 172.0 668.0 172.6 668.4 173.0 668.5 173.8 668.5 174.2 668.4 175.0 668.2 175.8 668.1 176.6 668.1 177.4 668.1 178.2 668.1 179.0 668.1 179.8 668.2 180.6 668.2 181.4 668.2 182.2 668.2 183.0 668.2 183.8 668.1 184.4 668.0 185.0 667.9 185.8 667.8 186.6 667.8 187.4 667.7 188.2 667.7 189.0 667.7 189.8 667.8 190.6 667.8 191.4 667.9 192.2 667.9 193.0 667.9 193.8 667.9 194.6 667.8 195.4 667.7 195.9 667.6 196.6 667.5 197.4 667.3 198.1 667.2 198.6 667.1 199.4 667.1 200.2 667.0 201.0 667.1 201.8 667.2 202.2 667.3 203.0 667.5 203.4 667.7 204.1 668.0 204.6 668.4 205.0 668.8 205.3 669.2 205.6 669.6 205.8 670.3 205.9 670.8 205.8 671.5 205.7 672.0 205.4 672.6 205.0 673.1 204.6 673.6 204.2 673.9 203.8 674.2 203.4 674.5 202.8 674.8 202.2 675.1 201.8 675.2 201.0 675.4 200.2 675.6 199.8 675.7 199.0 675.8 198.2 675.8 197.4 675.8 196.6 675.8 195.8 675.8 195.0 675.8 194.2 675.8 193.4 675.9 192.6 676.0 192.2 676.0 191.4 676.1 190.6 676.2 189.8 676.3 189.0 676.3 188.2 676.3 187.4 676.3 186.6 676.3 185.8 676.3 185.0 676.2 184.2 676.1 183.4 676.1 182.6 676.1 181.8 676.1 181.0 676.1 180.2 676.2 179.4 676.3 178.6 676.4 178.2 676.4Z" fill="none" stroke="#fff" stroke-width="0.6"/>
<path d="M191.0 675.2 190.2 675.3 189.4 675.4 188.6 675.5 187.8 675.5 187.0 675.4 186.2 675.4 185.4 675.3 184.6 675.2 184.1 675.2 183.4 675.1 182.6 675.1 181.8 675.1 181.0 675.2 180.6 675.2 179.8 675.3 179.0 675.4 178.2 675.5 177.4 675.6 176.6 675.6 175.8 675.5 175.0 675.4 174.2 675.2 173.8 675.1 173.0 674.9 172.2 675.0 171.6 675.2 171.0 675.3 170.5 675.2 170.0 674.8 169.8 674.4 169.4 673.6 169.3 673.2 169.2 672.4 169.2 671.6 169.3 670.8 169.4 670.2 169.6 669.6 169.8 669.0 170.2 668.5 170.6 668.2 171.2 668.4 171.7 668.8 172.2 669.2 172.6 669.5 173.4 669.6 174.2 669.4 174.9 669.2 175.4 669.1 176.2 669.0 177.0 669.0 177.8 669.0 178.6 669.0 179.4 669.1 180.2 669.1 181.0 669.2 181.8 669.2 182.6 669.1 183.4 669.1 184.2 669.0 185.0 668.8 185.4 668.8 186.2 668.7 187.0 668.6 187.8 668.6 188.6 668.6 189.4 668.6 190.2 668.7 191.0 668.8 191.4 668.8 192.2 668.9 193.0 668.9 193.8 668.9 194.6 668.8 195.0 668.7 195.8 668.6 196.6 668.4 197.0 668.3 197.8 668.2 198.6 668.1 199.2 668.0 199.8 668.0 200.6 668.0 201.0 668.0 201.8 668.2 202.4 668.4 203.0 668.7 203.4 668.9 203.8 669.3 204.2 669.8 204.4 670.4 204.5 671.2 204.3 672.0 204.1 672.4 203.8 672.8 203.4 673.2 202.9 673.6 202.2 674.0 201.8 674.2 201.2 674.4 200.6 674.6 199.8 674.7 199.4 674.8 198.6 674.9 197.8 674.9 197.0 674.9 196.2 674.9 195.4 674.8 194.6 674.8 193.8 674.9 193.0 675.0 192.2 675.1 191.4 675.2 191.0 675.2Z" fill="none" stroke="#777" stroke-width="0.6"/>
<path d="M190.2 674.4 189.4 674.5 188.6 674.6 187.8 674.6 187.0 674.6 186.2 674.5 185.4 674.4 185.0 674.3 184.2 674.2 183.4 674.1 182.6 674.1 181.8 674.1 181.0 674.1 180.2 674.3 179.4 674.4 179.0 674.5 178.2 674.6 177.4 674.7 176.6 674.7 175.8 674.6 175.0 674.4 174.6 674.3 173.9 674.0 173.4 673.7 173.0 673.6 172.6 673.6 171.8 674.0 171.4 674.2 170.6 674.3 170.2 673.9 169.9 673.2 169.8 672.8 169.7 672.0 169.7 671.2 169.8 670.7 170.0 670.0 170.2 669.6 171.0 669.3 171.4 669.6 171.8 670.0 172.2 670.4 172.7 670.8 173.4 670.8 173.8 670.6 174.3 670.4 175.0 670.2 175.6 670.0 176.2 669.9 177.0 669.9 177.8 669.9 178.6 670.0 179.0 670.0 179.8 670.1 180.6 670.2 181.4 670.3 182.2 670.2 183.0 670.2 183.8 670.0 184.2 669.9 185.0 669.8 185.8 669.6 186.2 669.6 187.0 669.5 187.8 669.4 188.6 669.4 189.4 669.5 190.2 669.6 190.6 669.6 191.4 669.8 192.2 669.9 193.0 670.0 193.8 670.0 194.6 669.9 195.4 669.7 195.9 669.6 196.6 669.4 197.4 669.2 197.8 669.1 198.6 669.0 199.4 668.9 200.2 668.9 201.0 669.1 201.5 669.2 202.2 669.6 202.6 669.9 203.0 670.4 203.1 670.8 203.0 671.6 202.9 672.0 202.6 672.4 202.2 672.8 201.6 673.2 201.0 673.5 200.6 673.6 199.8 673.8 199.0 673.9 198.2 673.9 197.4 673.9 196.6 673.9 195.8 673.8 195.0 673.8 194.2 673.8 193.4 673.8 192.6 674.0 192.2 674.0 191.4 674.2 190.6 674.4 190.2 674.4Z" fill="none" stroke="#fff" stroke-width="0.6"/>
<path d="M200.2 672.4 199.4 672.6 198.6 672.7 197.8 672.6 197.0 672.5 196.6 672.3 196.1 672.0 196.2 671.3 196.6 671.0 197.0 670.8 197.8 670.4 198.2 670.3 199.0 670.2 199.8 670.2 200.6 670.4 201.0 670.7 201.2 671.2 201.0 671.8 200.6 672.2 200.2 672.4ZM171.0 673.0 170.6 672.8 170.3 672.0 170.4 671.2 170.6 670.7 171.1 670.8 171.4 671.2 171.6 672.0 171.4 672.7 171.0 673.0ZM190.2 673.3 189.4 673.4 188.6 673.6 187.8 673.6 187.0 673.5 186.2 673.4 185.4 673.2 185.0 673.0 184.4 672.8 183.8 672.4 183.7 672.0 184.0 671.6 184.6 671.3 185.0 671.1 185.7 670.8 186.2 670.7 187.0 670.5 187.8 670.5 188.6 670.5 189.4 670.6 190.2 670.8 190.6 670.9 191.4 671.2 191.8 671.4 192.2 671.9 192.2 672.1 191.8 672.5 191.4 672.8 190.6 673.1 190.2 673.3ZM178.6 673.3 177.8 673.4 177.0 673.5 176.2 673.4 175.4 673.2 175.0 672.9 174.8 672.4 175.0 671.7 175.4 671.4 175.8 671.2 176.6 671.1 177.4 671.1 178.2 671.2 178.6 671.3 179.4 671.5 179.8 671.8 180.1 672.4 179.7 672.8 179.0 673.1 178.6 673.3Z" fill="none" stroke="#777" stroke-width="0.6"/>
<path d="M168.6 666.7 168.9 666.0 169.2 665.6 169.4 665.2 169.8 664.8 170.6 664.4 171.4 664.7 171.8 665.1 172.2 665.4 172.6 665.7 173.4 665.9 174.2 665.9 175.0 665.8 175.8 665.8 176.6 665.7 177.4 665.7 178.2 665.7 179.0 665.7 179.8 665.8 180.6 665.8 181.4 665.8 182.2 665.7 183.0 665.7 183.8 665.6 184.3 665.6 185.0 665.5 185.8 665.5 186.6 665.4 187.4 665.4 188.2 665.4 189.0 665.4 189.8 665.4 190.6 665.4 191.4 665.4 192.2 665.4 193.0 665.4 193.8 665.4 194.6 665.3 195.3 665.2 195.8 665.1 196.6 665.0 197.4 664.9 197.8 664.8 198.6 664.7 199.4 664.6 200.2 664.6 201.0 664.6 201.8 664.6 202.6 664.7 203.2 664.8 203.8 664.9 204.6 665.2 205.0 665.3 205.7 665.6 206.2 665.8 206.6 666.1 207.1 666.4 207.6 666.8 208.0 667.2 208.3 667.6 208.6 668.0 209.0 668.7 209.2 669.2 209.4 670.0 209.4 670.4 209.4 671.0 209.3 671.6 209.1 672.4 208.9 672.8 208.6 673.4 208.2 674.0 207.9 674.4 207.5 674.8 207.1 675.2 206.6 675.6 206.2 675.9 205.8 676.2 205.4 676.4 204.6 676.8 204.2 677.0 203.7 677.2 203.0 677.4 202.5 677.6 201.8 677.8 201.0 677.9 200.6 678.0 199.8 678.1 199.0 678.2 198.2 678.3 197.4 678.3 196.6 678.3 195.8 678.3 195.0 678.3 194.2 678.4 193.4 678.4 193.0 678.4 192.2 678.5 191.4 678.5 190.6 678.6 189.8 678.6 189.0 678.7 188.2 678.7 187.4 678.7 186.6 678.6 185.8 678.6 185.0 678.6 184.2 678.6 183.4 678.5 182.6 678.5 181.8 678.6 181.0 678.6 180.2 678.7 179.4 678.7 178.6 678.8 178.0 678.8 177.4 678.8 176.6 678.8 175.8 678.8 175.4 678.8 174.6 678.7 173.8 678.6 173.0 678.5 172.2 678.6 171.4 678.8 170.6 678.8 169.8 678.4 169.4 678.1 169.0 677.7 168.6 677.2Z" fill="none" stroke="#fff" stroke-width="1.1"/>
<rect x="169" y="664" width="2" height="15" fill="#000"/>
<ellipse cx="224" cy="668.7" rx="10.5" ry="6.2" transform="rotate(-55 224 668.7)" fill="url(#p4)" stroke="#555" stroke-width="0.7"/>
<ellipse cx="224" cy="669" rx="7.5" ry="4.4" transform="rotate(-60 224 669)" fill="none" stroke="#999" stroke-width="0.5"/>
<ellipse cx="224" cy="669.3" rx="4.8" ry="3.1" transform="rotate(-60 224 669.3)" fill="#000" filter="url(#b05)"/>
<ellipse cx="224.3" cy="668.6" rx="1.5" ry="1.1" fill="#fff"/>
</g>
<text x="235" y="702.3" font-size="13.3" text-anchor="end" fill="#000">3.13</text>
<text x="189.6" y="753.5" font-size="10.2" text-anchor="start" fill="#000">CD45.2</text>
<text x="157.7" y="692.8" font-size="9.9" text-anchor="middle" fill="#000" transform="rotate(-90 157.7 692.8)">CD11c</text>
<line x1="231" y1="671" x2="258.8" y2="671" stroke="#000" stroke-width="2"/>
<polygon points="257.8,666 267.3,671 257.8,676" fill="#000"/>
<text x="273.3" y="692.8" font-size="10.3" text-anchor="middle" fill="#000" transform="rotate(-90 273.3 692.8)">CD86</text>
<text x="288.8" y="753.2" font-size="10.3" text-anchor="start" fill="#000">MHCII</text>
<line x1="325.3" y1="749.4" x2="614.5" y2="749.4" stroke="#000" stroke-width="1.5"/>
<polygon points="613.5,745.6 621.5,749.4 613.5,753.2" fill="#000"/>
<line x1="665.2" y1="635.2" x2="665.2" y2="746.3" stroke="#000" stroke-width="1.7"/>
<line x1="661.2" y1="745.3" x2="665.2" y2="745.3" stroke="#000" stroke-width="1.3"/>
<text x="660.6" y="748.66" font-size="9.6" text-anchor="end" fill="#222">0</text>
<line x1="661.2" y1="718.02" x2="665.2" y2="718.02" stroke="#000" stroke-width="1.3"/>
<text x="660.6" y="721.38" font-size="9.6" text-anchor="end" fill="#222">20</text>
<line x1="661.2" y1="690.75" x2="665.2" y2="690.75" stroke="#000" stroke-width="1.3"/>
<text x="660.6" y="694.11" font-size="9.6" text-anchor="end" fill="#222">40</text>
<line x1="661.2" y1="663.48" x2="665.2" y2="663.48" stroke="#000" stroke-width="1.3"/>
<text x="660.6" y="666.84" font-size="9.6" text-anchor="end" fill="#222">60</text>
<line x1="661.2" y1="636.2" x2="665.2" y2="636.2" stroke="#000" stroke-width="1.3"/>
<text x="660.6" y="639.56" font-size="9.6" text-anchor="end" fill="#222">80</text>
<line x1="664.2" y1="745.3" x2="774.8" y2="745.3" stroke="#000" stroke-width="1.7"/>
<line x1="676.3" y1="745.3" x2="676.3" y2="750" stroke="#000" stroke-width="1.5"/>
<text x="676.3" y="760.2" font-size="11" text-anchor="middle" fill="#000">D0</text>
<line x1="697.6" y1="745.3" x2="697.6" y2="750" stroke="#000" stroke-width="1.5"/>
<text x="697.6" y="760.2" font-size="11" text-anchor="middle" fill="#000">D1</text>
<line x1="719.7" y1="745.3" x2="719.7" y2="750" stroke="#000" stroke-width="1.5"/>
<text x="719.7" y="760.2" font-size="11" text-anchor="middle" fill="#000">D3</text>
<line x1="741.5" y1="745.3" x2="741.5" y2="750" stroke="#000" stroke-width="1.5"/>
<text x="741.5" y="760.2" font-size="11" text-anchor="middle" fill="#000">D6</text>
<line x1="763.3" y1="745.3" x2="763.3" y2="750" stroke="#000" stroke-width="1.5"/>
<text x="763.3" y="760.2" font-size="11" text-anchor="middle" fill="#000">D9</text>
<text x="716.8" y="777.6" font-size="13.6" text-anchor="middle" fill="#000">Days after DC transfer</text>
<text x="641.7" y="685.8" font-size="14" text-anchor="middle" fill="#000" transform="rotate(-90 641.7 685.8)">Mature sDCs (%)</text>
<line x1="719.7" y1="739.84" x2="719.7" y2="728.25" stroke="#000" stroke-width="1.2"/>
<line x1="717.2" y1="728.25" x2="722.2" y2="728.25" stroke="#000" stroke-width="1.2"/>
<line x1="717.2" y1="739.84" x2="722.2" y2="739.84" stroke="#000" stroke-width="1.2"/>
<line x1="741.5" y1="740.53" x2="741.5" y2="733.03" stroke="#000" stroke-width="1.2"/>
<line x1="739" y1="733.03" x2="744" y2="733.03" stroke="#000" stroke-width="1.2"/>
<line x1="739" y1="740.53" x2="744" y2="740.53" stroke="#000" stroke-width="1.2"/>
<polyline points="676.3,741.21 697.6,743.94 719.7,734.39 741.5,737.12 763.3,738.48" fill="none" stroke="#000" stroke-width="1.8"/>
<circle cx="676.3" cy="741.21" r="2.5" fill="#000"/>
<circle cx="697.6" cy="743.94" r="2.5" fill="#000"/>
<circle cx="719.7" cy="734.39" r="2.5" fill="#000"/>
<circle cx="741.5" cy="737.12" r="2.5" fill="#000"/>
<circle cx="763.3" cy="738.48" r="2.5" fill="#000"/>
</svg></body></html>
